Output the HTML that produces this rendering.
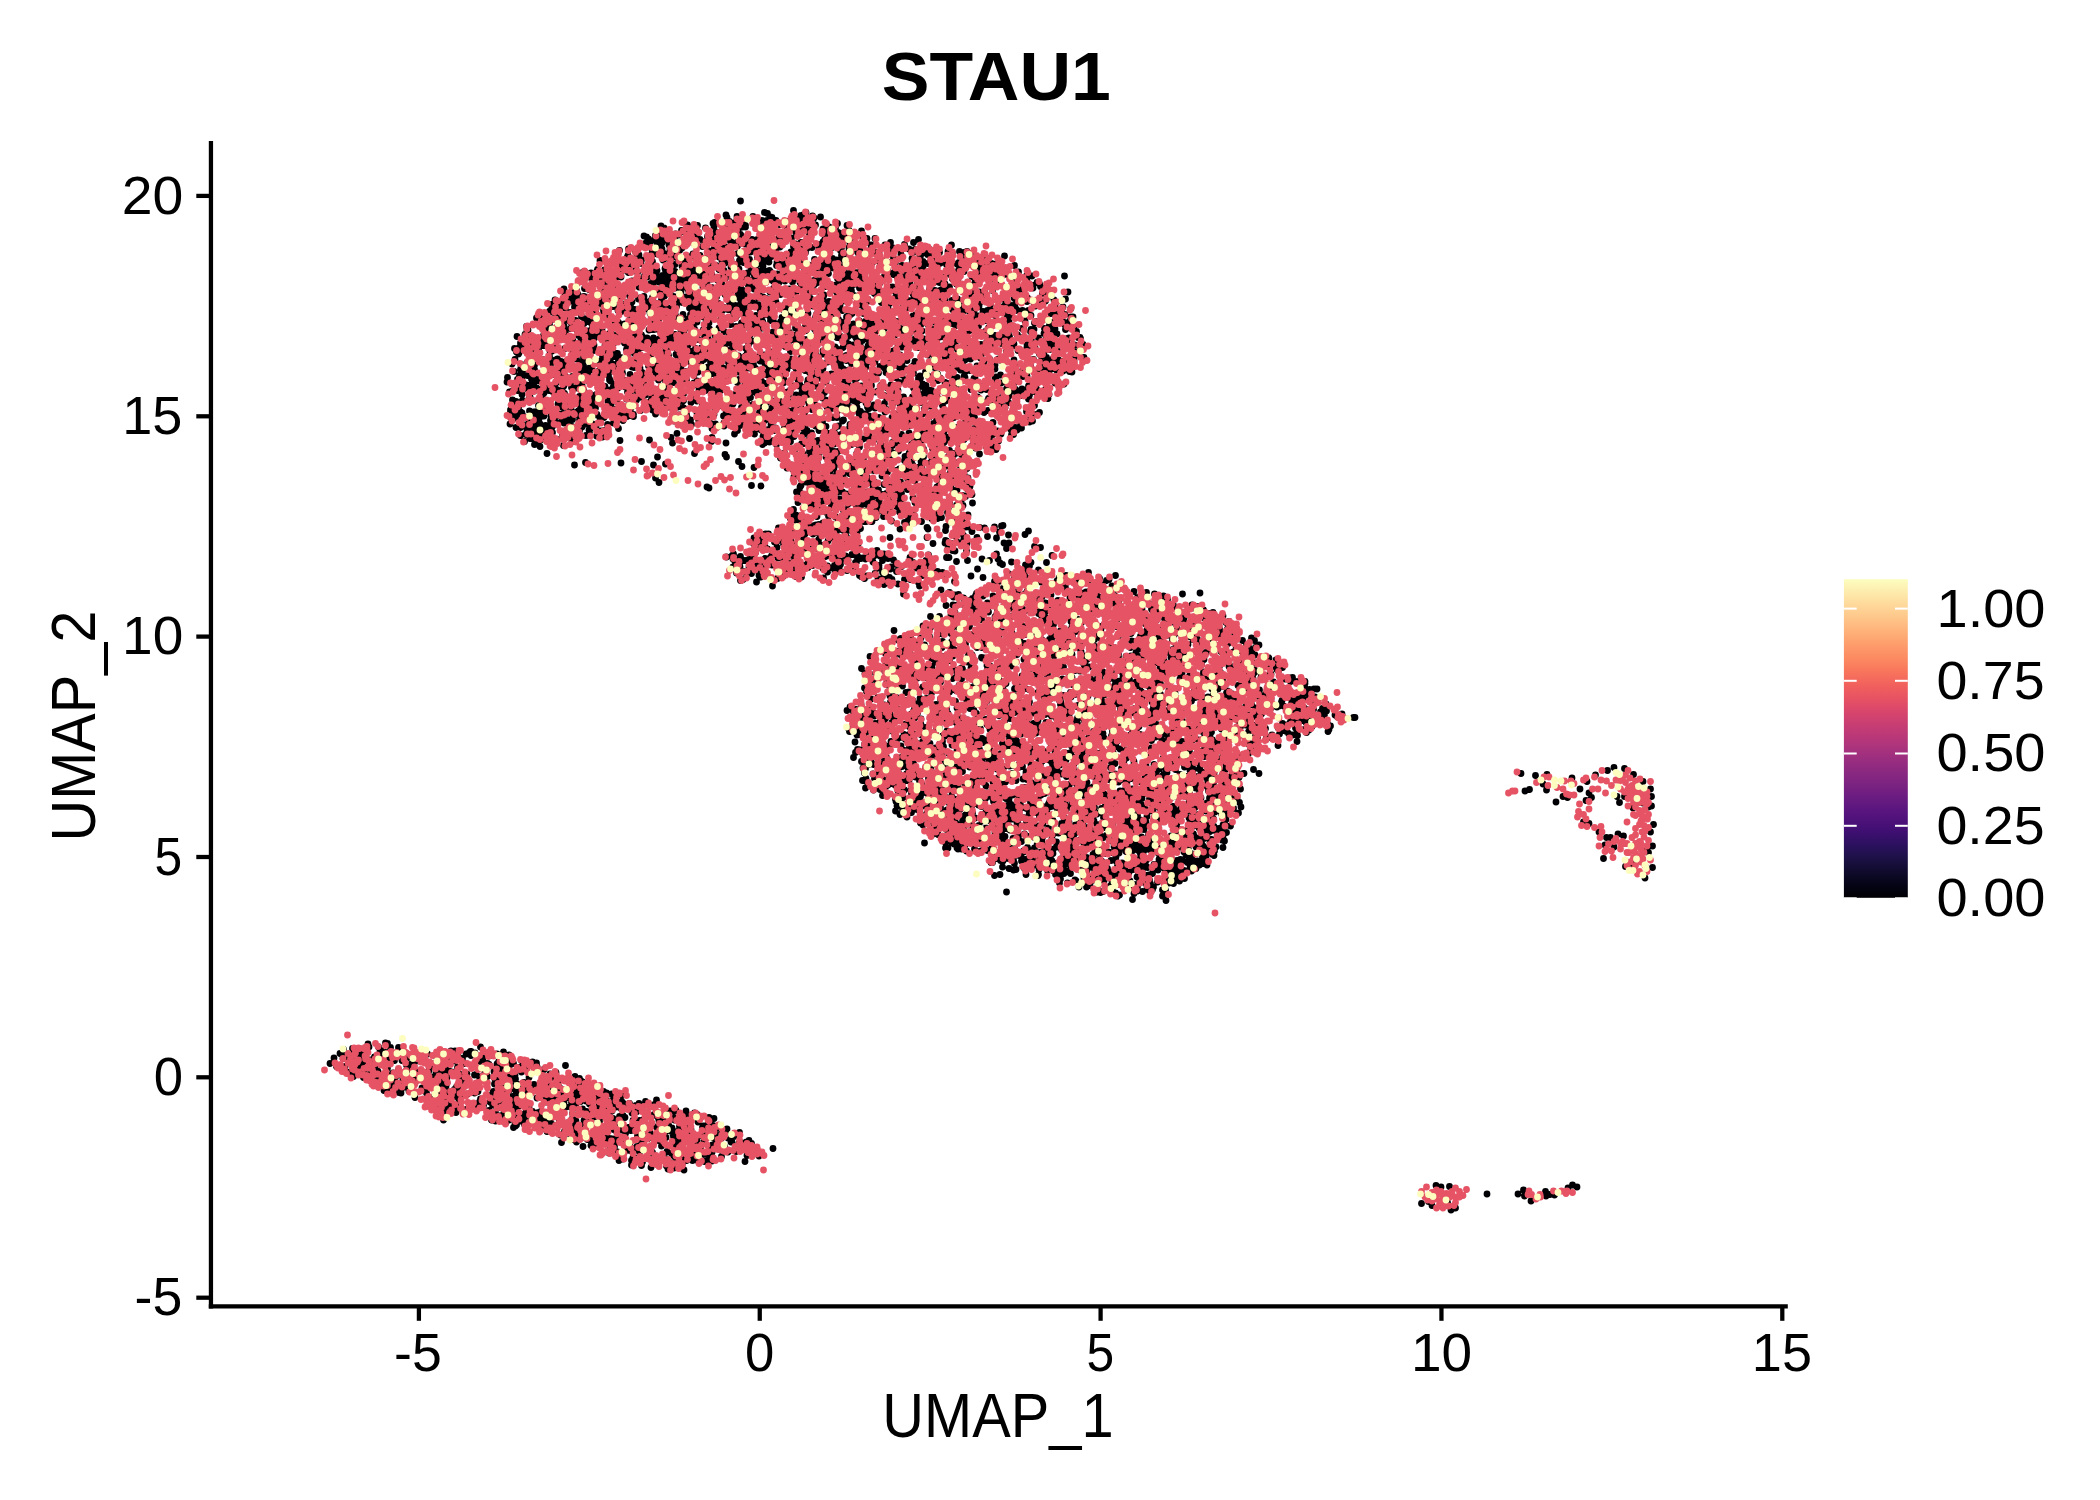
<!DOCTYPE html>
<html><head><meta charset="utf-8"><title>STAU1</title>
<style>html,body{margin:0;padding:0;background:#fff;}svg{display:block;}
text{font-family:"Liberation Sans",sans-serif;fill:#000;}</style></head>
<body><svg width="2100" height="1500" viewBox="0 0 2100 1500">
<rect width="2100" height="1500" fill="#fff"/>
<g fill="none" stroke-linecap="round" stroke-width="6.80">
<path stroke="#000004" d="M740.5 201h0m-14.5 14h0m38.5-2.5h0m3 1h0m26-3h0m7.5 5h0m2-0.5h0m3-2.5h0m6.5 3.5h0m-99.5 7.5h0m1.5-1h0m8.5 1h0m3.5-2h0m0.5-3h0m0-1h0m2.5 4h0m5 1.5h0m2.5-3.5h0m0-3h0m7 5h0m9-5h0m7.5 5.5h0m1.5-1.5h0m5 0h0m3.5-3.5h0m0.5 2h0m1-1.5h0m4 3h0m11 1h0m2.5 2.5h0m2.5 0h0m0.5-0.5h0m0.5-6.5h0m2.5 0h0m0.5 4.5h0m0-2.5h0m1-1h0m3.5 3h0m3-2h0m1.5-2h0m1.5 5h0m6 1.5h0m1.5-5.5h0m6.5-1h0m17 6.5h0m-176.5 2.5h0m3 2h0m17.5 2.5h0m5-5.5h0m1 0h0m3 7h0m7-6.5h0m0 6.5h0m8-4h0m8.5-1.5h0m2 5.5h0m6 0h0m3-3h0m1 0.5h0m1.5-4h0m3.5 0h0m3 5h0m0-6.5h0m4 1.5h0m0.5 3.5h0m2.5-2.5h0m1.5 0.5h0m2.5-1.5h0m0.5 1.5h0m0-1.5h0m16.5-1h0m6 4.5h0m11.5-4.5h0m8 3.5h0m3.5 0h0m1.5-4h0m0.5 4.5h0m0.5-2h0m1 3h0m1 2h0m3-5.5h0m1 3h0m1.5-0.5h0m0-3.5h0m0.5 5h0m2.5-1h0m2.5 0.5h0m2-1h0m7-3.5h0m7.5 4h0m2 1h0m2-3.5h0m0-1h0m2 1.5h0m4 2h0m2.5-1.5h0m11.5-2h0m2 5h0m12.5 0.5h0m-217.5 5h0m2.5 1h0m2 2h0m6 1h0m1-4.5h0m1.5 1.5h0m2-1.5h0m2 3h0m0.5 0h0m4-5h0m2 3h0m7 3h0m0 0.5h0m1-6h0m3 1h0m5.5-3h0m7 5h0m5-1.5h0m1 1.5h0m1.5-4.5h0m1.5 7h0m7.5-3h0m1.5 2h0m0.5 0.5h0m2-4.5h0m7.5 4h0m7-5.5h0m1.5 1.5h0m0.5 4.5h0m1-6.5h0m1 6.5h0m0-2.5h0m8.5-2h0m0-1.5h0m2 1.5h0m1 1.5h0m3 1.5h0m7.5 2h0m5.5 0h0m6-2h0m4-3h0m1 4.5h0m1.5-7h0m8.5 6.5h0m2 1h0m1.5-4h0m9.5 2.5h0m5-3h0m4-2.5h0m8.5 0h0m15.5 7.5h0m1.5-1.5h0m0.5-5h0m2.5 2.5h0m0.5 0.5h0m0.5 3h0m0.5-5h0m1.5-0.5h0m0.5 3h0m5.5-4.5h0m2.5 6.5h0m0.5 1h0m1.5-2h0m0-4h0m0-0.5h0m2 6.5h0m0-4h0m2 3h0m16-3h0m4.5 2.5h0m8 0h0m43.5 1h0m-272.5 3.5h0m2-0.5h0m2-0.5h0m7 0.5h0m1 2.5h0m2.5 1h0m1.5-3.5h0m0 0.5h0m2.5-3h0m4.5 5h0m3.5-2h0m0.5 3.5h0m5.5-3.5h0m3.5 5h0m10-6.5h0m2 2h0m8.5 3h0m2.5-5h0m2.5 2.5h0m6.5-3.5h0m0.5 7h0m0-7h0m5 6h0m3.5-3.5h0m0-1.5h0m4 6h0m3.5-6h0m0.5 4.5h0m0.5-4h0m1.5 5h0m0.5-3.5h0m2 2h0m0.5-2h0m1.5 2.5h0m0.5-5h0m1 2h0m1.5 0h0m3-3h0m1 2h0m0.5 2h0m4.5 3.5h0m0.5-4.5h0m5.5 5h0m6-2h0m0.5-2.5h0m1 0.5h0m4.5-4h0m4 4.5h0m1.5-2.5h0m7 5h0m1-4h0m0.5-2h0m12 5.5h0m2.5-2.5h0m3.5 1.5h0m1 0.5h0m0.5-3.5h0m11 5h0m7 0h0m1-3h0m3-2.5h0m1.5 3h0m1.5-0.5h0m0.5 1.5h0m5.5 1.5h0m2-5.5h0m7.5 5.5h0m2.5-7h0m5 7h0m1-4h0m1-1.5h0m11.5 2h0m4-2h0m4.5 3h0m14 0h0m5.5-2.5h0m1.5 5h0m12.5-3h0m9-2h0m10 4.5h0m28-2h0m-332 5.5h0m8.5 5h0m0.5-6.5h0m7 2.5h0m1.5 3.5h0m2 0h0m12.5-0.5h0m0.5-5h0m0.5 0h0m1 4.5h0m4 0h0m1.5-4h0m0.5 4.5h0m1-1.5h0m0.5-2h0m1-2h0m2 4.5h0m5.5 0h0m0.5-4h0m2.5-1.5h0m1 8h0m0.5-6.5h0m1.5 1.5h0m4.5-1h0m13 4h0m7 1.5h0m9.5-4.5h0m1 0.5h0m4 4h0m2.5-5.5h0m4.5-0.5h0m0.5 3h0m6-4h0m1 5.5h0m0.5 2h0m8.5-2.5h0m2 1.5h0m8-2.5h0m2.5-0.5h0m5-1h0m1.5-1.5h0m1 6.5h0m3-0.5h0m5.5-4.5h0m6.5 4.5h0m2.5-4h0m15.5 0.5h0m2.5 0h0m0-1h0m9.5-2h0m2 0h0m0.5 3.5h0m1.5-4.5h0m0 0.5h0m19.5 1h0m2 1.5h0m12-0.5h0m1 5h0m0.5-3h0m7-4h0m0.5 5.5h0m8-2h0m1.5 2.5h0m0-4h0m0 5h0m0.5-1h0m0.5-6h0m2.5 6.5h0m0 1h0m8.5-6.5h0m4 2.5h0m1 1.5h0m3-0.5h0m11.5-2.5h0m2-0.5h0m7.5-0.5h0m0.5 0h0m0.5 5h0m0.5-5h0m7.5-0.5h0m3.5 2h0m1.5-0.5h0m1-1h0m0.5 2h0m1 0.5h0m3-2.5h0m1 3h0m0 3.5h0m0.5-5h0m0.5-1h0m1-1h0m0.5-0.5h0m1.5 4h0m3 2h0m0.5-0.5h0m1.5-4.5h0m2 1h0m4.5 4h0m0.5-1.5h0m0-3h0m0.5 3h0m2.5-0.5h0m8.5-1h0m4.5 2h0m7-2h0m4.5 1h0m3-1h0m3.5 2h0m34 2.5h0m-404.5 4.5h0m16.5 0h0m7.5 1h0m3.5-5h0m3.5 2.5h0m2.5 0.5h0m5-2h0m2 4h0m0-1.5h0m0.5 3.5h0m0.5-3.5h0m5.5-3.5h0m1 0.5h0m4.5 4.5h0m9.5-4.5h0m1 3h0m3.5-2h0m2-2h0m2 4.5h0m2-4h0m4 1h0m6.5 3.5h0m2-2h0m4 1.5h0m2-4h0m1.5 0h0m4 7h0m0.5-3.5h0m0-3h0m1 3.5h0m2.5-1.5h0m3 1h0m4-2h0m0 2h0m1-2h0m2.5-1h0m1-1h0m7 1h0m3 4h0m3 2h0m1.5-2.5h0m2.5-4.5h0m2 4h0m8.5 0.5h0m0.5 1h0m2-5h0m0.5 4h0m1 2h0m6-3h0m8-1.5h0m0.5 6h0m3-6h0m1.5-1h0m0 3h0m0 1h0m2-5h0m1 0.5h0m0.5 4.5h0m0.5-1.5h0m0-2h0m2.5 4.5h0m2.5-5.5h0m5.5 5.5h0m0.5-4.5h0m8 5h0m3-6h0m2.5 1h0m3 4h0m8 2.5h0m1-2.5h0m1 2.5h0m10.5-4.5h0m10-2h0m0.5 2h0m2-2h0m1.5 3.5h0m4 0h0m0-2.5h0m3.5 5h0m0.5-3.5h0m6-1h0m0-3h0m2 6h0m2.5-5h0m13 1h0m0 0h0m3.5-1.5h0m1.5 2.5h0m7.5 3.5h0m5.5-2h0m0.5-4h0m2 5h0m2-1h0m7.5 2h0m3.5-4.5h0m2 3.5h0m0 0.5h0m16.5 1h0m0-4.5h0m0.5 2.5h0m0-2.5h0m10.5 3h0m5 2h0m1-0.5h0m3.5-6h0m0.5 4.5h0m1.5-1h0m2-4h0m2.5 7.5h0m1.5-1h0m6.5-2.5h0m0.5-3.5h0m11 6h0m0.5-0.5h0m4-3.5h0m2.5 0.5h0m1-2h0m7 2.5h0m4-1h0m1.5 4h0m0.5-2.5h0m6.5-2.5h0m5.5 5.5h0m-407 8h0m12.5-0.5h0m0.5-1.5h0m7 0.5h0m13-1.5h0m4 3h0m0-4h0m0-3h0m2.5 0.5h0m1 2.5h0m2-3h0m5.5 0.5h0m3.5 4h0m9.5 2.5h0m8-0.5h0m0.5-3.5h0m3 3h0m8-2h0m0.5 2h0m2 0.5h0m0.5-3.5h0m3 4h0m0-6h0m0.5 1.5h0m3.5 4.5h0m0-7h0m7 1.5h0m3-0.5h0m1.5 6.5h0m0-6.5h0m1-0.5h0m0.5 3h0m2 0h0m0.5 0.5h0m3.5 1.5h0m0.5 1h0m2-3.5h0m2.5-2.5h0m1 0h0m2.5 6h0m1-1.5h0m3-5.5h0m3.5 2h0m6-0.5h0m3 4h0m3.5-4h0m0.5 6h0m1-1h0m7-3.5h0m4 2.5h0m2.5-5.5h0m1.5 5h0m9.5-4.5h0m2.5 3.5h0m4.5 2.5h0m2.5 0.5h0m5-4.5h0m0-2h0m1.5 6.5h0m5-0.5h0m1 1.5h0m6-6.5h0m4.5-1h0m2 6h0m0 0h0m2.5-3h0m0 1h0m1-1h0m8 2.5h0m1.5 2h0m2-6.5h0m5 1h0m1.5-1.5h0m2.5 6h0m2.5-5h0m3-1h0m3 5.5h0m6.5-5h0m1 3.5h0m2-4h0m3 3.5h0m2.5-3.5h0m0 1.5h0m0.5-0.5h0m0 1.5h0m2-1h0m0.5 1.5h0m6.5 1.5h0m2.5-2.5h0m0 3h0m6-3.5h0m1-1.5h0m0.5 0.5h0m0.5 3h0m0.5 2h0m9.5 1.5h0m3.5-1.5h0m1-5.5h0m3.5 0h0m0 5h0m12-4h0m1.5 2h0m4.5 1.5h0m2 2.5h0m6.5-0.5h0m6-1h0m0-3h0m1-2h0m1 4h0m2 1h0m1-2h0m2-0.5h0m2.5 0.5h0m1-3.5h0m0.5 5h0m1.5-2.5h0m0-2h0m7.5 1.5h0m2 0h0m8.5 4h0m2.5-5h0m12.5-1.5h0m3 7.5h0m7.5-8h0m1.5 6.5h0m1.5-1h0m0.5-1.5h0m3.5 3.5h0m0.5-4h0m2-3.5h0m4.5 0.5h0m2 0.5h0m6 1.5h0m3 4.5h0m3-4h0m1 0h0m1.5 4h0m4-6.5h0m1 6.5h0m2.5-0.5h0m1-6.5h0m1 4h0m17.5-2.5h0m4 6.5h0m-437 1h0m8 2.5h0m1 2h0m0.5-4.5h0m0.5 3.5h0m6-2.5h0m1.5 3.5h0m2-3h0m1.5 0.5h0m3.5-1h0m2.5 3h0m3 2.5h0m4.5-2h0m5-0.5h0m7-5h0m0.5 0.5h0m9 0h0m1 7h0m0.5-0.5h0m4 1h0m1.5-4h0m1.5-3.5h0m1 4.5h0m4.5-0.5h0m3.5 3.5h0m1.5-4.5h0m5.5 4.5h0m0.5-4.5h0m0.5 0h0m0.5 2.5h0m2-2.5h0m1.5 1h0m2.5 0.5h0m0.5 0h0m0.5-3h0m6 1h0m2 1h0m1.5 4h0m2-8h0m1.5 6.5h0m1.5-4.5h0m0 4.5h0m1.5-0.5h0m5-4h0m1-0.5h0m3.5-0.5h0m4.5 4.5h0m6-3h0m0.5 4.5h0m4 0h0m1-4h0m9.5 3h0m1.5-2h0m2-2h0m0.5 4h0m1.5-3.5h0m5-1h0m3.5 1.5h0m6 3h0m0.5 0.5h0m5 0h0m0-1.5h0m0.5-4h0m6.5 1.5h0m3 1h0m4-3.5h0m0.5 3.5h0m5.5-0.5h0m4.5 5h0m3.5-1h0m2.5-2.5h0m0-2.5h0m0.5 4h0m4.5-2.5h0m0.5 4h0m1.5-6.5h0m2.5 6h0m5.5-0.5h0m1 1h0m3.5-6h0m1.5 4h0m17.5-5h0m1 2h0m5-2.5h0m6.5 1.5h0m9 5h0m0.5-6h0m5.5-0.5h0m1.5 8h0m0.5-4h0m1.5-2h0m0.5 0.5h0m1.5 4.5h0m2-2.5h0m0.5 1h0m1.5-4.5h0m1.5 3h0m0.5-3.5h0m0 4.5h0m4-1.5h0m0-3h0m1.5 4h0m0.5 0.5h0m0.5 2h0m19.5 0h0m3.5-3h0m9-1.5h0m1.5-1.5h0m2 3.5h0m1.5-4h0m1.5 4h0m5.5 0.5h0m3.5 0h0m1.5-1.5h0m7-0.5h0m2 3h0m1-4h0m2 4h0m3.5-1.5h0m6.5-2h0m6.5 2h0m2 1.5h0m2-0.5h0m7-3h0m1 0.5h0m1.5 4h0m1-5.5h0m1.5 3h0m4-4.5h0m13 4.5h0m3 2.5h0m3.5 0h0m2-6.5h0m2 4h0m5-3h0m6 5h0m0-6h0m0.5 6h0m3-3h0m0.5 1.5h0m0.5 2.5h0m1-4h0m8-1h0m0-2h0m7 6h0m12.5-2.5h0m5.5 0h0m32.5 0h0m-470.5 4.5h0m7.5 0h0m3 2.5h0m2-1.5h0m9 4h0m14-3h0m2.5-1.5h0m6.5 2.5h0m0.5 3.5h0m7.5 0.5h0m4.5-4h0m2 0.5h0m6-2h0m1-1.5h0m2.5 5h0m3.5-3.5h0m0-1h0m2 2h0m1.5-2.5h0m0.5 1.5h0m0.5 4.5h0m4-4h0m0.5 5.5h0m1.5-7.5h0m1 3h0m2.5-3.5h0m2 4h0m1 3.5h0m0.5-7h0m0.5 6.5h0m2.5-6h0m2 0.5h0m2.5 5h0m3.5 0h0m6-4.5h0m2.5 4.5h0m0 1h0m0.5-1.5h0m0.5 0h0m2-5.5h0m1 4.5h0m4.5 2.5h0m6.5-7h0m2.5 1.5h0m0-1.5h0m1.5 4h0m10 0.5h0m1.5-2.5h0m2 3.5h0m1.5-5h0m3.5 5.5h0m7.5-2h0m0.5 0.5h0m4-4.5h0m1 5.5h0m0.5-2h0m0.5-3.5h0m3 5h0m0.5-5.5h0m2.5 2h0m12.5-1h0m4.5 6h0m1.5-4.5h0m6-1.5h0m7.5 1h0m7.5 0.5h0m1.5 4h0m1 0h0m2.5-5.5h0m2.5 3.5h0m2-3h0m4.5-1h0m0.5 4h0m0.5-1.5h0m2.5-0.5h0m0.5-1h0m3.5-1h0m0.5 1h0m1.5 3.5h0m1.5-3.5h0m0.5 5h0m4-2.5h0m1 4h0m5.5-3h0m5-4.5h0m2 1h0m0-1h0m1 6h0m0-3.5h0m0.5 0h0m2 1.5h0m5 2h0m0.5-3h0m3 0.5h0m3-2.5h0m7 2.5h0m1 1h0m6 1h0m3.5-1.5h0m0-3.5h0m1 7h0m1.5-6h0m1.5 1.5h0m13 3.5h0m15.5-0.5h0m1-5.5h0m1 3h0m2.5 4h0m4-8h0m0.5 6h0m0.5-3h0m0.5 1h0m15.5-2.5h0m0.5 1h0m5.5 0h0m5.5 4h0m0-2.5h0m4.5 3h0m7-3h0m1.5-2h0m3 4h0m13.5-2h0m0 3h0m3.5-4.5h0m20.5-1h0m24.5 6h0m4-6.5h0m6 4.5h0m0 2.5h0m4-5.5h0m2.5 1.5h0m1 2.5h0m-476.5 2.5h0m1 6h0m7 1h0m0.5-0.5h0m1.5-4.5h0m1.5 0.5h0m1-1h0m0.5 5h0m1-1h0m6.5-6h0m4.5 1h0m0-0.5h0m11 5.5h0m3.5-6.5h0m1.5 2h0m14 2h0m4.5 0h0m6 3.5h0m16-6.5h0m9.5 2.5h0m2.5-1.5h0m2 4h0m1-3h0m0.5-0.5h0m0 0h0m5-1h0m5.5 0h0m9.5 2h0m7.5-1h0m2.5 0h0m0.5 4.5h0m0.5-1h0m13-0.5h0m0.5-4h0m2.5 6h0m7-2h0m9-2.5h0m0.5-2.5h0m0.5 4.5h0m0 1.5h0m3.5-2.5h0m0 2.5h0m4-5h0m5.5 3h0m0.5 2h0m3-4h0m1.5 0h0m1 5h0m0.5 0h0m9.5-6.5h0m5.5 6.5h0m10.5-3.5h0m3.5-3.5h0m7 6h0m7.5 0h0m1.5-5.5h0m0.5 2.5h0m5 0.5h0m1 0h0m7.5 2.5h0m1 0.5h0m0-4h0m0.5 1.5h0m0.5-1.5h0m2.5-0.5h0m4 1h0m0.5-2h0m11.5 5.5h0m10-6.5h0m2.5 3.5h0m11.5-1h0m0 3h0m3.5-3h0m2 4.5h0m0.5 0h0m5.5-7.5h0m2.5 6h0m0-0.5h0m0.5-5h0m7 1.5h0m4 2.5h0m1 1h0m3-0.5h0m2-2.5h0m4 3h0m3.5-3.5h0m4 0.5h0m2.5 0h0m1.5 1h0m1-0.5h0m1.5-2h0m2.5 2.5h0m2.5 2.5h0m3-1.5h0m0.5-3.5h0m2.5 1h0m1-1h0m3.5 5h0m5-2h0m2.5 2.5h0m0.5-3h0m1.5 4h0m0-1h0m4 0.5h0m3-5.5h0m1 4h0m1 1.5h0m2.5-3.5h0m1-1h0m2 0.5h0m2.5 5h0m1.5-6h0m2-1h0m1 3h0m29-1h0m6 1h0m5.5 0h0m8-1.5h0m26 0.5h0m1.5 2.5h0m0.5-0.5h0m22 0.5h0m2.5-1h0m6 3.5h0m0.5-5.5h0m16.5 1.5h0m-513 8h0m1 3.5h0m2-0.5h0m3-1.5h0m3.5-0.5h0m0.5-1.5h0m2 0h0m3.5 1.5h0m1.5-3h0m1 1.5h0m1 2.5h0m1.5 0.5h0m7-5.5h0m1.5-0.5h0m1 7h0m1-6.5h0m7 1h0m0.5 2.5h0m0.5 0.5h0m2-4h0m3.5 2.5h0m6.5 4.5h0m4.5-3.5h0m10-4.5h0m7.5 6h0m3-4.5h0m0-1h0m0.5 5.5h0m0.5 0h0m6.5-3h0m1.5-1h0m4-1.5h0m1 7h0m0.5-2h0m5.5-1h0m0 1h0m1 1.5h0m0.5-5.5h0m0.5 3.5h0m3 2.5h0m5.5-3.5h0m3-4h0m9 0.5h0m1.5 3h0m1-1h0m3.5 3.5h0m2-4.5h0m1 5h0m2.5 0h0m0.5-2h0m0-3.5h0m2 0.5h0m1 3h0m2-3.5h0m2.5 4h0m0.5-3h0m0.5-1.5h0m2 7h0m2.5-4.5h0m0 4.5h0m1.5-3h0m6-1h0m7-3h0m3.5 0.5h0m2 6.5h0m11-1h0m2.5-4h0m0 4h0m6.5-5h0m1.5 0.5h0m1 4h0m2.5 1h0m0.5 0.5h0m2.5-2.5h0m1-2.5h0m1 3.5h0m2.5-2.5h0m1 2.5h0m3 2h0m1.5-7.5h0m1.5 1.5h0m5-1h0m3 2h0m0-0.5h0m1.5 2.5h0m4.5 2h0m4-1h0m14.5-4h0m8 4h0m7-4h0m5 0.5h0m8.5 3h0m1.5-5h0m1 7h0m0.5-5h0m1.5-2h0m0 5.5h0m5.5-0.5h0m4 2.5h0m1-2.5h0m3.5-3.5h0m0-0.5h0m5.5 3.5h0m3.5-1.5h0m1.5 3h0m0.5-6h0m19.5 3h0m0.5 1.5h0m13 1.5h0m1.5 0h0m6.5 1h0m4-3.5h0m2-2.5h0m5 0.5h0m7.5 2.5h0m5-0.5h0m5 0h0m2.5 2.5h0m1-5h0m1 2h0m0.5-2.5h0m2 6.5h0m2-1.5h0m5.5-2h0m9.5 1h0m0.5-2h0m0 3h0m2.5-3h0m7 1.5h0m1 0h0m4.5-1.5h0m3 3.5h0m0 0h0m8.5-1.5h0m1-5h0m9.5 7.5h0m4-7h0m3.5 2h0m0 1.5h0m9-2h0m1 0.5h0m6 0.5h0m1-0.5h0m10-0.5h0m13 3.5h0m0.5-3.5h0m6.5 5h0m8-1.5h0m3.5-0.5h0m8.5-1h0m1 1.5h0m10.5-2.5h0m-516 12.5h0m0.5 0h0m0.5-1h0m1-6h0m4 6.5h0m0-0.5h0m2-1.5h0m1-4.5h0m0.5 7h0m3-3.5h0m3.5-0.5h0m9-0.5h0m3 0.5h0m0-1.5h0m3-1h0m7 4h0m3.5-2h0m4-2h0m2 0h0m5.5-0.5h0m1 6h0m5-2h0m4.5-2h0m3-1.5h0m2 5.5h0m1.5-5.5h0m0 0h0m1 5.5h0m0.5-3.5h0m0.5 4.5h0m0 0h0m1-7.5h0m4.5 4h0m2.5 2.5h0m1-5.5h0m2 4.5h0m1 0.5h0m1-0.5h0m13-0.5h0m0.5-3h0m6 0.5h0m0 4.5h0m1-6.5h0m1.5 5.5h0m0-4.5h0m0.5 3h0m5-1.5h0m2.5 4h0m1.5-7h0m1 4h0m3 0.5h0m1.5 1h0m0.5-1h0m0.5 1.5h0m2 0.5h0m0.5 0.5h0m1.5-4.5h0m13 1.5h0m1.5 1h0m0.5-3h0m1-1.5h0m1 0h0m2 6h0m2-3.5h0m2-1.5h0m2.5 3.5h0m1.5-3h0m0.5 2h0m2 2.5h0m0.5-2.5h0m0.5 3h0m6.5 1h0m2.5-2.5h0m0.5-2.5h0m2.5 0h0m3.5 3.5h0m1.5-3h0m0.5 1h0m2 0h0m1.5 1h0m3.5 0.5h0m1.5-1h0m0.5-4h0m2 0.5h0m6 2.5h0m0.5-1h0m2-0.5h0m2-1h0m7.5-1.5h0m6.5 1h0m0 0h0m0 4.5h0m1-3h0m1.5 1.5h0m5.5 0h0m3.5 1.5h0m12.5 1h0m0-3h0m1-1h0m0.5 1.5h0m0-4h0m3.5 6h0m1-4h0m8.5 3.5h0m14.5-3.5h0m10.5 5.5h0m0-5h0m3.5 1.5h0m12.5-0.5h0m0.5-2h0m2.5 5h0m5.5 0.5h0m0.5 0.5h0m12-6.5h0m3.5 6h0m20.5 0.5h0m2.5-1.5h0m1-2h0m14.5 4h0m0.5-7h0m5 2.5h0m11.5-2.5h0m5 4h0m15.5-2.5h0m6 0h0m1.5-0.5h0m0.5 2h0m4.5-2h0m0.5 4h0m2.5-3.5h0m4.5 2h0m3 0.5h0m0.5 2h0m5.5 0h0m1-2.5h0m1 2h0m3 1h0m5-5h0m4 5h0m4.5-1h0m3-6h0m2 6.5h0m5-0.5h0m0.5-4h0m2.5 0.5h0m4.5-1.5h0m2 5.5h0m2-4.5h0m0-2h0m0.5 2.5h0m2 0h0m3.5-2.5h0m1 6h0m0.5-1h0m6 1h0m6 0h0m7-4.5h0m18 4.5h0m1.5-5.5h0m2.5 6h0m5.5-4h0m7.5 2h0m-534 9h0m1 1.5h0m5.5-1h0m1.5-4.5h0m2.5 1.5h0m6.5-3h0m4 6h0m0.5-4.5h0m4.5 4h0m6-4h0m2-1.5h0m1.5 1h0m9.5 3h0m6.5 1.5h0m2.5 1.5h0m0.5-2.5h0m1 2.5h0m3.5-3h0m0-4h0m4.5 3.5h0m6 1h0m2.5 1.5h0m1.5-1.5h0m4 2.5h0m16.5-2h0m1.5-2h0m4 1.5h0m0.5-1h0m13.5-3h0m2 0h0m2.5 6.5h0m4 0.5h0m0.5-6.5h0m7.5-0.5h0m2.5 1h0m2.5 2.5h0m4-1h0m0 2.5h0m7.5-3.5h0m5 4.5h0m2.5-4h0m0-0.5h0m3.5 4.5h0m1.5-5.5h0m1.5 1.5h0m0-1.5h0m6.5 3.5h0m4.5 0h0m4.5 1.5h0m1-0.5h0m10.5 0.5h0m9.5 0h0m0-5.5h0m2 4.5h0m1-1.5h0m0-1h0m6.5-2h0m3 4h0m0.5 0h0m0.5-4.5h0m2 2h0m1.5 4h0m2-1.5h0m3 2h0m0.5-3.5h0m4.5 3.5h0m1 0.5h0m2.5-4.5h0m5.5 1h0m0.5-3.5h0m12 5h0m4 0h0m3.5-1.5h0m2 0.5h0m16.5-3h0m7.5 4h0m1-3h0m2 4h0m0-4h0m2.5 3.5h0m2.5-5.5h0m1 7.5h0m1 0h0m0-8h0m3 7.5h0m1-5h0m2.5 3h0m6.5 2h0m8-2.5h0m3.5-2h0m2-1.5h0m11.5 0h0m9 4h0m3.5-1h0m8.5-3h0m0.5 1h0m3 3.5h0m2-2.5h0m1.5 3.5h0m2-6h0m14.5 5h0m5-2h0m2.5-1h0m3 0.5h0m1.5 3.5h0m4.5 1h0m15.5-2.5h0m4.5 1.5h0m2.5-0.5h0m4 1h0m6-4.5h0m2.5 4h0m12-4.5h0m4 5.5h0m2.5-4h0m1 1h0m0-0.5h0m16-1h0m12 0h0m3 0h0m19-0.5h0m2 0.5h0m20-2h0m3.5 0h0m3.5 4h0m0.5-1h0m3.5-4h0m3 2h0m6 2.5h0m2 0h0m-546.5 9.5h0m13-5.5h0m2.5 4h0m5 3h0m2.5-3.5h0m2-4.5h0m5 7.5h0m1.5-1.5h0m1.5-4.5h0m4.5 4.5h0m0.5-5.5h0m1 0h0m5 1.5h0m3 6h0m2-7.5h0m0 2h0m6.5 4h0m1.5-3h0m0.5 0h0m0-0.5h0m1-3h0m1.5 1.5h0m0.5 0h0m0.5-1h0m4 3h0m1 3.5h0m0.5-1.5h0m0.5-4.5h0m21.5 1h0m1 4h0m2.5-3.5h0m2 3h0m4-1.5h0m1.5 1h0m1.5 1h0m5-2h0m1-3h0m1.5 5h0m6.5-0.5h0m4-3.5h0m5-1h0m2.5 4h0m30.5-3h0m0.5 2h0m4.5-2h0m0 5h0m0-1h0m1.5-0.5h0m1-0.5h0m3-1.5h0m1.5-2.5h0m1.5 1h0m9.5 0.5h0m1-1.5h0m1.5 2h0m10 5h0m1.5-0.5h0m0-7.5h0m10 4.5h0m5.5 2h0m5.5-3.5h0m4.5 4h0m4-3h0m0 3h0m4.5-4h0m0.5 5h0m3.5-4h0m4-2.5h0m0.5 1h0m3 5.5h0m4.5-7.5h0m3 1h0m3 5h0m2-2h0m1.5 3h0m0.5-5.5h0m3 5h0m2 1h0m0.5-2h0m9.5 2h0m2.5-1h0m7.5-1h0m6-0.5h0m1-1h0m0.5-2h0m9.5-0.5h0m1.5 5h0m1.5-7h0m9 0.5h0m3 3.5h0m1.5 0h0m2-0.5h0m0 0h0m0.5-1.5h0m7.5 5h0m1.5 0h0m3-3h0m2 1h0m1.5 1.5h0m1.5-4.5h0m0.5 2h0m0.5-3h0m6 7h0m0.5-7h0m3.5 0.5h0m0 5h0m1.5-5.5h0m2.5 5h0m0-5h0m3-0.5h0m5.5 3h0m1.5 0.5h0m0-3.5h0m3 1h0m3 3h0m7-3h0m5-0.5h0m8 4.5h0m7-3h0m1.5 4h0m2-1.5h0m1-0.5h0m6-1h0m6.5-2h0m6.5 2.5h0m2.5-1h0m11 1h0m0.5-0.5h0m2 2h0m2-5.5h0m4 6.5h0m0-3h0m13 1h0m2.5-1.5h0m1 3h0m3.5-4.5h0m1-1h0m3 0h0m19 3h0m2.5 4h0m1 0h0m0.5-5.5h0m16-1h0m9.5 2h0m1.5-1.5h0m13.5 3.5h0m3.5-2.5h0m9-0.5h0m2.5 0.5h0m0.5 2.5h0m4.5 1h0m0 1.5h0m0.5-6.5h0m1.5 3h0m2.5 2.5h0m-549 8h0m0 0.5h0m2-4.5h0m1-0.5h0m15.5 5.5h0m2-6h0m1 3h0m0-1.5h0m1.5 2h0m0 1h0m3.5-2h0m2-2h0m1 3h0m2.5 1.5h0m5.5-6h0m0 4.5h0m2.5-2.5h0m0.5 3h0m5-5h0m6-0.5h0m1 3h0m1 4.5h0m1-3.5h0m3.5 2h0m4.5-0.5h0m1-2.5h0m3.5 3h0m5.5-3h0m1 3.5h0m3.5-5.5h0m7 5h0m2-2.5h0m0 3h0m6 0.5h0m3-5.5h0m4 2.5h0m1 3h0m1-5h0m10 3h0m0.5 2h0m1-2.5h0m4 2.5h0m7.5-5h0m3-0.5h0m2 0h0m1.5-1h0m3.5 1.5h0m2 0.5h0m4 4.5h0m1-3.5h0m0-2.5h0m9 5.5h0m5.5 0.5h0m0.5-5h0m0.5-0.5h0m1.5 0h0m1 4.5h0m0.5-4.5h0m6.5 6h0m3-1h0m0.5 0h0m0-5.5h0m1 4h0m0.5 3h0m7-3h0m0.5-3.5h0m2.5 5.5h0m3.5-6h0m5.5 5.5h0m0.5-2.5h0m1.5 3.5h0m7-4h0m5.5 3h0m1.5-1h0m2-1h0m4.5 2h0m0.5 0.5h0m2-6.5h0m2.5 4h0m0.5 2.5h0m7 0h0m1-5h0m8 4h0m2 2h0m2-8h0m10 4h0m3 2.5h0m2-0.5h0m2.5-4h0m6.5 5.5h0m2.5-3h0m3 2.5h0m5.5-5.5h0m0 4.5h0m8-3.5h0m8.5-2.5h0m0 1h0m1.5 2.5h0m7.5-1h0m1.5 3h0m5-3.5h0m7 2.5h0m7-4.5h0m6.5 3.5h0m1-0.5h0m2.5 4.5h0m6-7h0m5 1h0m0.5-0.5h0m2.5 4h0m6.5-2.5h0m0.5 2h0m8 2h0m0.5 0h0m1-6h0m10.5 6.5h0m1-4.5h0m4.5-2h0m3 3.5h0m2-4h0m4.5 5h0m3-4.5h0m1 1.5h0m3 2.5h0m5-1.5h0m11-2h0m6.5-0.5h0m1 3.5h0m15 2h0m11.5-2.5h0m0.5 0h0m2-1h0m2.5-2h0m13.5 3h0m3-3.5h0m0.5 5.5h0m1-5.5h0m5 7.5h0m13-6h0m0.5 2h0m9 3.5h0m4.5-6.5h0m1.5 0.5h0m7 2.5h0m0.5-2h0m2 4.5h0m1-4.5h0m10 4h0m0.5-5h0m1 1.5h0m6 3h0m0.5-4h0m1 2h0m2-2h0m2 5h0m8.5-4.5h0m11 2h0m-559.5 5h0m3.5 6.5h0m3-1h0m3 0.5h0m0.5-3h0m3 0h0m10.5 3.5h0m2-3h0m1.5 2h0m1-4.5h0m9.5 5.5h0m1.5-2.5h0m0-1.5h0m5.5 0h0m11.5 2h0m8-2h0m6 4.5h0m1-0.5h0m3-6h0m3.5 1h0m8-1h0m3 6.5h0m3.5-1h0m2.5 0h0m1-2.5h0m2 2.5h0m10 0.5h0m1-6h0m1 5.5h0m1-4.5h0m4-0.5h0m6 6h0m3-1h0m2-5.5h0m3 7h0m0.5-2h0m1-3h0m0-1h0m2.5 3.5h0m4-3.5h0m2 6h0m1-1.5h0m3-3.5h0m1 0h0m1-2.5h0m2 6.5h0m2-5.5h0m3 1.5h0m2 3h0m0-5.5h0m4.5 3h0m1-1h0m4 5h0m0.5-5.5h0m1.5 5.5h0m12-6.5h0m4 2.5h0m6.5-2h0m0.5 3h0m3-3.5h0m5.5 4.5h0m2-5h0m1.5 0h0m4 2.5h0m3 5h0m1.5 0h0m5-3.5h0m0 3h0m1.5-4h0m2-0.5h0m1 4h0m0.5 1h0m0.5-7h0m0 4.5h0m2.5-2.5h0m5.5 0.5h0m2-2h0m6.5 3.5h0m5-2.5h0m3 3.5h0m3.5 0h0m1.5 0h0m7-4.5h0m4 4.5h0m4-4h0m7.5 4h0m2-1.5h0m4-1h0m4.5-3h0m0.5 5.5h0m5.5-2.5h0m0.5 3h0m0 1h0m3-4h0m2.5 2h0m0-2.5h0m4 1h0m2.5 2.5h0m0-6h0m1 4.5h0m6-3.5h0m1 4h0m0-3h0m12-1h0m1-0.5h0m2.5-0.5h0m1 2.5h0m4 1.5h0m0.5 0h0m2-4h0m0.5 7.5h0m7.5-6h0m1 2h0m5.5 0.5h0m1-2.5h0m2 0.5h0m5 0.5h0m10.5-0.5h0m4 3.5h0m2.5 0h0m2-4h0m0.5-2h0m1 3h0m9 4h0m5-6h0m2.5 2.5h0m3 4.5h0m1.5-1.5h0m2.5 1h0m0.5 0.5h0m0-5h0m1-0.5h0m1.5-1.5h0m2.5 3.5h0m4-1.5h0m4.5 0h0m2.5-1.5h0m4 1h0m1.5 2h0m3.5-3.5h0m2.5-0.5h0m6 2.5h0m4 1.5h0m3 1h0m2.5-4h0m0.5 2.5h0m1.5-2.5h0m6-1.5h0m9.5 1h0m11 5.5h0m3-2.5h0m2 0.5h0m2.5-2h0m0.5-2h0m4.5 1h0m2-1h0m0.5 7h0m3.5-3.5h0m0.5-1.5h0m0.5-2h0m2.5 1h0m1-1h0m3 6.5h0m1.5 1h0m10-7h0m7.5 4h0m7-3h0m6.5 2.5h0m3.5 0h0m3 0.5h0m0.5 2h0m12.5 0h0m0.5-3h0m1-1h0m1 3.5h0m2-4.5h0m8.5-1h0m0.5 0.5h0m2 0h0m0.5 1h0m-566 10h0m5-1h0m4.5 1.5h0m1-2h0m1-2h0m4.5 1.5h0m1 5h0m3-3.5h0m2.5-2h0m2 5.5h0m4-6h0m0.5-1h0m1.5 1h0m5 5.5h0m0.5 1h0m1.5-1h0m1.5-4h0m11.5 1.5h0m8-4h0m0 5h0m1.5-3.5h0m4-2h0m12.5 1h0m1.5 6h0m1.5-6h0m1.5 5h0m9-0.5h0m0 0.5h0m0.5-4.5h0m0.5 2.5h0m5-1h0m0 1h0m1.5 1.5h0m14.5 0h0m2.5-2h0m0-0.5h0m0.5-2h0m4 1.5h0m0.5 0.5h0m2.5-1.5h0m1.5 5h0m4-3h0m10 4.5h0m1-7h0m12 1.5h0m1 1.5h0m1.5 3h0m8-4.5h0m1.5 2h0m2 2.5h0m5.5-1.5h0m3.5-4.5h0m2 6h0m5.5-2.5h0m6-0.5h0m1 3.5h0m1-4h0m3.5 1h0m1.5 1h0m1.5-3h0m0-2.5h0m0.5 5.5h0m4-4h0m3 6h0m0.5-4.5h0m9 3.5h0m1.5 1.5h0m0.5-1.5h0m2 1.5h0m2.5-4h0m12.5 0.5h0m2.5-4h0m23.5 7.5h0m4.5-4.5h0m8.5-1h0m0.5-0.5h0m5 5.5h0m6.5-1h0m2.5-2h0m8 2.5h0m1.5-5h0m1.5-1.5h0m5.5 1h0m7 5.5h0m10.5 0h0m1.5-4h0m0.5 0.5h0m4.5 2h0m3-2h0m2-3h0m8 0.5h0m3 2h0m4.5-0.5h0m1 5h0m4-2h0m2.5-3.5h0m1-1.5h0m0.5 3h0m1-1h0m0.5-1.5h0m3 0.5h0m1 5h0m7.5-0.5h0m0.5-0.5h0m3-5.5h0m7.5 7h0m2-1h0m2.5-5.5h0m2.5 0h0m1.5 2.5h0m5 1h0m1 2h0m0.5-4.5h0m9.5 2h0m0.5-0.5h0m4-0.5h0m0 1.5h0m1-3.5h0m7.5 7h0m3-4.5h0m8.5-1h0m0 2h0m5.5-3h0m0.5 6h0m4.5-3h0m5 2h0m2.5 0.5h0m2-3h0m6.5-0.5h0m4-1h0m2 2.5h0m6-4h0m11 0.5h0m14.5 6.5h0m2.5 0h0m4.5-6h0m4.5 5h0m8.5-1h0m0.5-5h0m0 2.5h0m2.5-1h0m2.5 3h0m3-1.5h0m12.5-2.5h0m2 4.5h0m3.5-0.5h0m0-2h0m2.5 3.5h0m1-1.5h0m7.5-0.5h0m10 3h0m0.5-6.5h0m4 0.5h0m3.5 3h0m1-4h0m-568 15h0m1.5-7.5h0m1.5 1h0m0.5 1h0m0.5-1h0m14 4h0m6.5 1.5h0m3 1h0m6 0h0m1-3h0m6 3.5h0m1.5 0h0m0.5-1h0m14-1h0m1-3.5h0m4 4.5h0m5-6.5h0m2 6h0m0-1h0m19-1.5h0m0.5-2.5h0m0-0.5h0m11.5 3h0m0 0.5h0m1.5-3h0m1.5 0h0m3 4h0m7.5-0.5h0m6.5-3.5h0m14.5 4h0m2.5-3.5h0m7.5-2h0m2 5h0m2.5-4h0m5 2.5h0m7.5-1h0m1.5 1.5h0m6.5 1h0m7.5 3h0m2.5-2.5h0m1-2.5h0m2 0h0m2 0h0m1-2h0m1.5 0h0m2.5 6.5h0m6.5-1h0m1-6h0m6 6.5h0m1-6.5h0m3 7h0m6-5h0m2 3h0m7.5 0.5h0m1.5-2h0m6 1h0m1-1h0m1.5-2h0m1.5 1h0m2-2.5h0m2.5 6h0m6-2h0m2.5 1.5h0m2.5-3h0m5 1h0m0.5 3h0m6 0h0m0-4.5h0m3 5.5h0m4 0h0m8.5-1h0m10.5-1.5h0m0.5-0.5h0m1.5-1.5h0m7.5 3.5h0m2-1.5h0m0.5-3.5h0m0.5 5.5h0m1.5-6.5h0m3 4.5h0m4.5-3.5h0m7.5-2h0m0 3.5h0m1 3h0m4 1h0m2.5-1h0m2-3.5h0m3.5 2h0m3-1.5h0m15 2.5h0m2.5-2h0m3 2.5h0m1.5-2h0m4.5 0.5h0m15-1.5h0m2.5 2.5h0m2.5-2h0m1-3.5h0m4 7.5h0m1.5-3.5h0m0.5-1.5h0m28 0h0m6.5 1.5h0m2.5 1h0m6.5-5h0m1.5 4h0m5-2.5h0m0.5 1.5h0m3 2h0m3.5-0.5h0m2 0.5h0m0.5-5.5h0m4 7.5h0m0-3h0m1.5-1h0m0 4.5h0m0.5-3.5h0m3-2h0m2 4.5h0m4.5-4h0m5.5 3h0m2-4.5h0m7 5.5h0m7.5 1h0m1.5-1h0m9-6.5h0m14.5 2h0m11.5 5h0m6-5.5h0m2 2.5h0m2.5-4h0m2.5 5h0m6.5 1.5h0m1.5-2h0m4 3h0m2.5-7.5h0m9 4h0m4 3.5h0m4-5h0m6 4.5h0m0-2h0m-572 6.5h0m9 3.5h0m0-3h0m1 1h0m0.5 1.5h0m1.5-2h0m3-2h0m7.5 2h0m12.5-4h0m0 6h0m2.5-3h0m1 2.5h0m0.5-3.5h0m6-1.5h0m1 3h0m3-3h0m4 5h0m1.5-5h0m3 6h0m0.5-4h0m2 2h0m9-3h0m2.5-2h0m0 3h0m7 3.5h0m3.5-5.5h0m6 2.5h0m0.5 2h0m0.5-5h0m0.5 3h0m0 3h0m0-6.5h0m3 4.5h0m1 1h0m0-5.5h0m2.5 2h0m0.5 5h0m0-4.5h0m0.5 2.5h0m0-2.5h0m0.5 3h0m0.5-4.5h0m1 1.5h0m4 1.5h0m0 3.5h0m3.5-7.5h0m0.5 3.5h0m3.5-1h0m9.5 4h0m0.5-5.5h0m0-1h0m1 0.5h0m0.5 6.5h0m0.5-2.5h0m0.5 1h0m5 2h0m8.5-2h0m1 1h0m1.5-2h0m1.5 1h0m0.5-5h0m1 5h0m3 1.5h0m1.5-5.5h0m4 2h0m1 2h0m4.5-6h0m0.5 8h0m2 0h0m2-5.5h0m3.5 0h0m3.5-1.5h0m1.5 5.5h0m9.5-4.5h0m1.5 0.5h0m0.5 0.5h0m8 3h0m0.5-3.5h0m7 4.5h0m2.5-5h0m2.5 2.5h0m5-1.5h0m1 4.5h0m2-4h0m7.5-1h0m6.5 3.5h0m0-0.5h0m3.5-2h0m3-2h0m3.5-0.5h0m0.5 1.5h0m1.5-1.5h0m3 2h0m0-2h0m3.5 3.5h0m6.5-4h0m0 0.5h0m0.5 0h0m1 0h0m3.5 3h0m1.5-0.5h0m2.5-1h0m0 1.5h0m2.5-3h0m1 5.5h0m4.5-1.5h0m1-2.5h0m0-0.5h0m2.5 1h0m0.5 3h0m2.5-2h0m0.5-0.5h0m1-3h0m2.5 2h0m4-1.5h0m0.5 4.5h0m2.5-4.5h0m0.5 3.5h0m0 2.5h0m2.5-5h0m1.5 4h0m3-4h0m1-2h0m6.5 5h0m5 0.5h0m0-3h0m0.5 1h0m1-1h0m1-2.5h0m0.5 4h0m0.5-2h0m3 6h0m6.5-6h0m1-1.5h0m6 4.5h0m2 0.5h0m4-0.5h0m0.5 2h0m1-6.5h0m4.5 0h0m5 3h0m4.5-0.5h0m1-1h0m2 6h0m6.5-4h0m0.5 1.5h0m0 1.5h0m5-5.5h0m0-0.5h0m4 0.5h0m5 5h0m3.5-2h0m0 0h0m1.5-2h0m2.5 4h0m4-4.5h0m4 0.5h0m1 2h0m1 1h0m0.5-1h0m4 1h0m5-5h0m5 6.5h0m1.5-1.5h0m1.5-4h0m1 3.5h0m3.5 1h0m1.5-2h0m9-2h0m4.5 5.5h0m2.5-3.5h0m8-2.5h0m0 0h0m1.5-1h0m1.5 3h0m9.5 4h0m2-5.5h0m4 4.5h0m13.5-0.5h0m7-3.5h0m1 4.5h0m2.5 1h0m5 0h0m0-4.5h0m1 3h0m1.5-1.5h0m7-4h0m11.5 2h0m0.5-3h0m0.5 7.5h0m1.5-2.5h0m11 1h0m2.5-0.5h0m1 0h0m12.5-2.5h0m2 1h0m0.5 3h0m2-6h0m5 6h0m5.5-4.5h0m4.5-1h0m0.5 1.5h0m5.5 0h0m-554.5 8.5h0m5.5 4h0m1-6h0m1.5 5h0m2.5-5.5h0m3 6.5h0m2.5-0.5h0m0-4.5h0m0 4h0m1-2h0m3.5-3h0m12.5 3h0m6 2h0m3.5-2h0m0.5-2.5h0m1 2h0m0.5 4h0m1-6h0m0-1.5h0m2.5 4h0m3-4.5h0m11.5 1.5h0m0 5h0m0.5-4h0m2.5 2.5h0m0-4.5h0m5 3.5h0m1.5-3.5h0m0.5 0.5h0m0.5 2h0m1 4h0m0-1.5h0m3-4.5h0m1 0.5h0m4.5 5.5h0m1-1h0m0.5-1.5h0m1-1.5h0m9 0.5h0m0.5 3.5h0m0.5-4h0m9-1.5h0m4 1h0m0.5 2.5h0m7.5 1.5h0m12 0.5h0m0-2.5h0m7-0.5h0m6 0h0m1-0.5h0m1 4h0m2-7h0m1 6.5h0m3.5-6.5h0m0 4h0m5.5-4h0m0.5 7.5h0m1-3.5h0m1.5 0.5h0m1.5-0.5h0m5 1.5h0m2.5-0.5h0m0.5 1h0m1.5-2h0m1 2h0m0 1h0m2-4h0m2.5 0h0m2.5 0h0m0-2.5h0m3 6h0m4-3h0m7.5 1.5h0m0-5h0m4.5 4h0m1 1h0m0.5 0h0m4-3.5h0m0-0.5h0m0.5 5.5h0m2-3.5h0m1 1.5h0m1.5 2h0m4-6.5h0m1 6.5h0m1.5-0.5h0m6 0.5h0m5-5h0m0.5 2h0m2.5-2h0m2 4.5h0m1.5 1h0m2-7h0m5.5 0.5h0m1.5 5h0m2-5.5h0m0.5 4h0m3.5 2h0m0-3.5h0m3.5 2h0m2.5-0.5h0m0 0.5h0m2 2h0m1.5-5.5h0m1 5h0m0-1h0m1.5 1h0m0-5.5h0m0.5 6.5h0m5.5-6.5h0m5 0.5h0m2 5h0m2.5-5h0m7 6h0m2-7h0m0 5.5h0m9-3.5h0m4.5 2h0m2-4.5h0m0.5 7h0m1-2.5h0m1.5 0.5h0m3 1.5h0m3-6h0m1.5 6h0m1-6h0m8.5 5.5h0m11-2h0m0.5-3h0m0.5 0.5h0m5.5 0.5h0m3 5h0m1-3h0m1 3.5h0m2-5.5h0m0.5 5h0m1-2h0m2.5-1.5h0m2.5 3h0m2-1.5h0m8.5-0.5h0m5.5 0.5h0m6.5-4.5h0m1 4h0m3.5-3h0m1 0.5h0m9 3h0m0.5-2.5h0m2-0.5h0m0 4h0m0 1h0m4-6h0m2.5 1.5h0m4.5 0h0m0.5 2.5h0m12-1h0m12 2h0m14-1h0m9-3h0m0.5-1.5h0m4 3.5h0m5-1.5h0m8-1.5h0m17 0h0m5.5 6h0m12.5-5h0m1.5 3.5h0m4.5-1h0m4-3.5h0m1 0.5h0m0.5 2.5h0m2.5 4h0m8-2.5h0m5.5-1.5h0m8.5 0.5h0m3.5-4h0m4 1.5h0m6.5 1h0m6.5 0.5h0m1.5-3.5h0m1 4h0m-565 10h0m0.5-4.5h0m10 2h0m2-2h0m0.5 5h0m1.5-0.5h0m0.5-4.5h0m9.5 1.5h0m3 3h0m1.5-1.5h0m2-4.5h0m1.5 0.5h0m0 4.5h0m0-3.5h0m5.5 6h0m11-0.5h0m2.5-4.5h0m2 0h0m5-2h0m3.5 4.5h0m3-2h0m0.5 2h0m0-4.5h0m5.5 3.5h0m0 4h0m3.5-5h0m0.5 1.5h0m5.5-3h0m2 4.5h0m8.5-0.5h0m11.5-2.5h0m0 0h0m0 1h0m1 1h0m9.5-3.5h0m1 5.5h0m4-2.5h0m8-2.5h0m7 4h0m4-0.5h0m5.5-2.5h0m9 1h0m5.5-2h0m1.5 3h0m2.5 1h0m5.5 0.5h0m9.5-2h0m2.5-2.5h0m1 2h0m7.5 3h0m3-2h0m0.5 2.5h0m6.5-3h0m10.5 1h0m0.5 1.5h0m1.5-6h0m7.5 2h0m6 0.5h0m7.5 3h0m1.5-2.5h0m0-0.5h0m6 4.5h0m1-2.5h0m7.5-2.5h0m3 0h0m1.5 2.5h0m3.5-5.5h0m0.5 6h0m4 1.5h0m4-6.5h0m4 6.5h0m1.5-4.5h0m6-2.5h0m1 0.5h0m1.5 5.5h0m0-3h0m14 0.5h0m9.5 2.5h0m0.5-2.5h0m3 1.5h0m1-1h0m8-2.5h0m6 4h0m12.5-4h0m3.5-2h0m1.5 4h0m4.5 3.5h0m4.5-5.5h0m1 0.5h0m3.5-0.5h0m9.5 4.5h0m1-1.5h0m3-3.5h0m3-1.5h0m1.5 2.5h0m19.5-1h0m1.5-0.5h0m3 5.5h0m5.5-1h0m2-1h0m1-1h0m1.5-0.5h0m9.5-1h0m0 1h0m1-1.5h0m0.5-1.5h0m0.5 2h0m2 6h0m5.5-8h0m6 2.5h0m4 2h0m2-2.5h0m0 0h0m5 4.5h0m4 1h0m4-7.5h0m1.5 7.5h0m2.5-6h0m7-1h0m1 1h0m9 1h0m1-0.5h0m20 0h0m1-1h0m0.5 7h0m2-0.5h0m2.5-0.5h0m4-1h0m18-5.5h0m9.5 7h0m1.5 0h0m1.5-1.5h0m2-3.5h0m0.5 1.5h0m10-3.5h0m2 1.5h0m5 5h0m1-4.5h0m8 5.5h0m-552 7.5h0m2-1h0m1-2.5h0m0-2h0m0.5 0h0m2 2h0m0 2.5h0m8.5-5.5h0m1 2h0m1 1.5h0m0 1h0m0.5-1.5h0m2-3h0m2.5 4.5h0m0.5-1h0m0.5 2.5h0m2.5-3h0m2 1.5h0m2.5 0h0m7-0.5h0m1 1.5h0m2.5-1.5h0m0.5 1.5h0m0.5-1.5h0m1.5 2.5h0m0-4.5h0m1.5 2.5h0m1 0h0m1 1.5h0m4 0h0m0.5-1h0m1.5-3.5h0m0.5-1h0m7.5 2h0m4.5 0.5h0m6-3h0m2 6h0m17.5-4.5h0m0.5 3h0m3-3h0m5 3.5h0m1.5 1.5h0m1.5-4h0m2-3h0m0.5 1h0m2.5 2.5h0m7.5-1h0m0 0h0m1.5-2h0m4 2.5h0m1-1.5h0m0.5-1.5h0m2.5 3.5h0m1 2.5h0m7-2.5h0m4.5 2h0m10 0h0m5.5-2.5h0m2-1.5h0m0.5-1h0m0 3h0m4-1h0m10 4h0m11-4.5h0m3.5-1.5h0m5 5h0m1 1.5h0m0.5-1.5h0m2.5-2.5h0m1 1.5h0m1.5 1.5h0m1-5.5h0m0 4h0m5-1h0m1.5-3.5h0m3.5 4h0m1.5 3.5h0m1.5-7h0m1 5.5h0m1.5-3.5h0m5 4.5h0m27-6.5h0m0 6.5h0m3-5.5h0m2 4.5h0m10.5 0h0m1-2h0m4 2h0m3 0.5h0m11 1h0m2-2h0m2-3h0m1-1h0m5.5 0h0m1-1h0m3 6h0m0-3.5h0m3.5 0h0m2 4h0m6.5-6h0m1 0.5h0m0-1.5h0m3 3.5h0m12.5 2.5h0m3 0h0m14 1h0m1-1.5h0m2.5 1.5h0m1.5-2.5h0m2-5h0m1 5h0m0.5 1h0m3-2h0m1.5-2h0m1.5 3h0m0-2.5h0m0 4.5h0m0.5-5h0m0.5 2.5h0m0 2h0m3.5-0.5h0m2.5-6h0m1.5 1.5h0m6 6h0m3.5-6h0m0.5 2.5h0m6 0h0m3.5-3h0m2.5 7h0m2-3.5h0m2.5 2h0m15.5-2.5h0m4 3h0m2.5-4.5h0m5 4.5h0m0 1h0m0-3h0m1-3.5h0m2 6.5h0m0.5-2h0m3 0.5h0m11.5-1.5h0m0 2h0m6-7h0m6 8h0m1.5-5.5h0m14.5 3h0m2-1h0m8-2h0m0 3.5h0m5.5-0.5h0m20-0.5h0m2.5-3.5h0m3.5 5.5h0m1-7h0m2 5.5h0m6.5-0.5h0m5.5 1h0m1-4h0m5-1h0m3 4h0m9 0.5h0m-536 2.5h0m12.5 2.5h0m7 4.5h0m1-5h0m0.5 4.5h0m12-3.5h0m0.5-2.5h0m1 0.5h0m9.5-0.5h0m5 1.5h0m2-0.5h0m2.5 1.5h0m0-2h0m1.5 0.5h0m13.5 5h0m1.5-1.5h0m0-0.5h0m2.5 3.5h0m1-3.5h0m4 1h0m2.5-4h0m1.5 1.5h0m1 2.5h0m2 0h0m1 0h0m1.5-3h0m4 0h0m3 0.5h0m5 0h0m3 4h0m1-1h0m14 1h0m1-7h0m2 7.5h0m1-4.5h0m0.5 4.5h0m5.5 0.5h0m1.5-4h0m1.5-3.5h0m2.5 5h0m3.5-2.5h0m5-3h0m1 7h0m0.5-7h0m0.5 6.5h0m1-4.5h0m5.5-1h0m1 3.5h0m2.5 1.5h0m2.5-1h0m5.5 2.5h0m0-6h0m6.5 5.5h0m0-2h0m6.5-3h0m9 0.5h0m4 5h0m16-4.5h0m4 4.5h0m18.5-5h0m1.5 1h0m3-1.5h0m1.5 1h0m2 5h0m4-2h0m3.5-0.5h0m6-4.5h0m11 1.5h0m10.5 1.5h0m0.5-1.5h0m9-2.5h0m1.5 2.5h0m7 0.5h0m6-3h0m0.5 3.5h0m3 4.5h0m2.5-6h0m0.5 5.5h0m6.5-2h0m7.5 0.5h0m2-5.5h0m1 7.5h0m8.5-5.5h0m1 5h0m5-2.5h0m2.5-0.5h0m1-3h0m6 1h0m1-0.5h0m4 2.5h0m6.5 3h0m0.5-4h0m1.5-2h0m2.5 4.5h0m0.5 0h0m10-6h0m6.5 3h0m1.5 0.5h0m2.5 2.5h0m1-1.5h0m3.5 2h0m3.5-4h0m9 2.5h0m9 0h0m4-3h0m7.5 3.5h0m0-4h0m6 3h0m1.5-1.5h0m5.5 1.5h0m4 3h0m6-0.5h0m8.5-5.5h0m5.5 4.5h0m15.5 0.5h0m0.5-0.5h0m0.5-1h0m11 1.5h0m6-2h0m3-1h0m11.5 0.5h0m8-2.5h0m1 2h0m1-2h0m2.5 2h0m7 3.5h0m0.5-0.5h0m0.5-3.5h0m6-3h0m12.5 6.5h0m1-4h0m-536.5 5.5h0m3 3.5h0m0.5-2h0m0.5 0.5h0m2 5.5h0m0.5-4h0m1.5 0h0m2-3h0m0.5 0.5h0m15.5 4.5h0m3 0h0m16.5-1.5h0m1-3h0m2.5-0.5h0m1 7h0m4.5-5.5h0m3.5 4h0m8.5-2.5h0m2 3.5h0m1-3.5h0m1-1h0m3-1.5h0m1 1.5h0m3.5 1h0m2 0.5h0m3 4h0m12.5-6.5h0m3 4.5h0m0.5-3.5h0m5.5-1h0m14 6.5h0m2-5.5h0m16.5 2h0m0.5-2.5h0m2 4h0m2-0.5h0m3-4.5h0m3.5 2h0m6 2.5h0m0.5 0h0m1.5 1.5h0m3.5-1h0m1-5h0m1.5 3h0m3.5 3h0m1.5-6.5h0m3 1h0m1 6.5h0m0-7.5h0m7.5 2h0m6-1.5h0m5.5 4h0m11 1.5h0m4 0h0m3-1h0m7.5-1.5h0m2.5-3.5h0m2.5 3.5h0m1-3.5h0m7.5 7h0m0.5 0h0m4.5-6h0m6.5 3h0m0 2h0m4.5-0.5h0m0-0.5h0m4-2h0m0 3h0m2.5-5h0m0.5 3.5h0m0.5 1h0m0.5-2h0m4.5-2.5h0m1-1h0m1 7.5h0m2.5-2h0m3-5.5h0m1.5 2h0m0-2h0m2.5 3h0m1.5 2.5h0m0.5 0h0m1 2h0m0-2h0m5.5-4h0m4.5 5h0m0-6.5h0m0.5 2.5h0m3.5 1.5h0m1 3h0m1.5-5.5h0m8 2h0m5 3h0m0.5-3h0m12.5 3h0m4.5-2.5h0m1-3h0m5 3.5h0m3.5-3.5h0m2.5 5h0m1.5-3h0m4.5 4h0m0-7h0m4 0h0m1.5 0.5h0m2 1h0m0 5.5h0m9-4.5h0m1-1h0m0.5 5h0m0.5-6.5h0m5 6.5h0m1-2h0m6.5 2.5h0m3.5-1.5h0m0.5-2.5h0m8 0.5h0m7-3h0m0.5 3.5h0m1 2h0m3.5-1.5h0m3 3h0m4.5-4h0m1-1h0m8-0.5h0m1-1h0m6.5 4.5h0m14-0.5h0m3-4.5h0m12 5h0m16-0.5h0m1-5.5h0m0.5 6h0m4-2h0m4-2h0m1 0.5h0m4.5 0h0m5 0h0m4 0h0m4 2h0m3.5 3h0m3.5-5h0m26 3h0m-524 5.5h0m0-1h0m1 3h0m5 3h0m2-1h0m2-3h0m1.5 1h0m0.5 2h0m7-4h0m4 1.5h0m0-0.5h0m1.5 0h0m0.5 0h0m5-1h0m1-1h0m1 3.5h0m1.5-1.5h0m1-2.5h0m7.5 2h0m4 1h0m3.5 2h0m1.5 0h0m3.5-0.5h0m2.5-6h0m3.5 0h0m1.5 6h0m3 0h0m1.5-2h0m1 3h0m0.5-4h0m1 4.5h0m1-7h0m0.5 4h0m1-1h0m1.5 3h0m1-4h0m4.5 5.5h0m8-1h0m0-0.5h0m12-5.5h0m1 0.5h0m5 0h0m3.5 2.5h0m3 3.5h0m2-5h0m3-0.5h0m4-1h0m0.5 6.5h0m2.5-1h0m7-4h0m12-0.5h0m3 4h0m3-3.5h0m2.5 0h0m2 1h0m10.5 0h0m5.5 3.5h0m5-6.5h0m2.5 6h0m10.5-1.5h0m7.5-4h0m9.5 5.5h0m9.5 1.5h0m2.5-3h0m1.5-1h0m1 1.5h0m2.5-2h0m2.5 2.5h0m7.5-2h0m1.5 2.5h0m2.5-3.5h0m7 0h0m7.5 4.5h0m0-3h0m1.5 1h0m6-1h0m0-0.5h0m1.5 0h0m1 1.5h0m6.5-3h0m3.5-2.5h0m2.5 1.5h0m4.5 0h0m3.5 5.5h0m2-4h0m1 3h0m7-5h0m1-1h0m3.5 5h0m0-1h0m7.5-2.5h0m2.5-0.5h0m2 0.5h0m3 6h0m2.5-1.5h0m9.5-5.5h0m5.5 1.5h0m0.5 1h0m1.5-2.5h0m1-0.5h0m11 6h0m2.5-3.5h0m3-2h0m2.5 5h0m0.5-0.5h0m1-1.5h0m4 2.5h0m1.5 1h0m2.5-6.5h0m0.5 0h0m0 7.5h0m6-8h0m10 4h0m1.5-2.5h0m8 4.5h0m2 1.5h0m2.5-0.5h0m2 0.5h0m2-5h0m5.5 3.5h0m0.5-4h0m1 0.5h0m1.5 0h0m2.5 3h0m1.5-2h0m8 2h0m1-4.5h0m9 0h0m10.5 6.5h0m0-1.5h0m5-0.5h0m1.5-3h0m1.5 0h0m2.5 5h0m1.5-1.5h0m3.5-3.5h0m0.5 0h0m2.5 3h0m0-4.5h0m2.5 7h0m1-3.5h0m4-1h0m0-2h0m2.5 2h0m7-2.5h0m4.5 3.5h0m4-2h0m8.5 4.5h0m2.5-7h0m27.5 3.5h0m4-1h0m4 4h0m5-2h0m-528.5 5h0m1 2.5h0m2-2.5h0m0 0h0m0.5 0h0m2 0.5h0m12 1h0m3-1.5h0m1 4h0m1.5-4.5h0m2.5 0.5h0m1 2.5h0m0.5 1.5h0m1-2.5h0m1-2h0m4-1h0m6.5 4.5h0m0.5-4.5h0m0 5h0m2 3h0m1-7.5h0m0.5-0.5h0m1.5 0.5h0m1 6.5h0m4.5-1h0m1.5-1h0m1 2h0m1-0.5h0m0-4.5h0m2.5 1.5h0m0.5 4h0m4.5-4h0m7 0.5h0m0.5 0h0m2.5 2.5h0m0.5 0h0m0 0.5h0m0-5.5h0m3 2.5h0m0.5-2.5h0m13.5 0.5h0m4-0.5h0m8.5-0.5h0m1 6h0m0.5-6.5h0m0 2h0m2.5 3h0m0.5-1.5h0m3.5-1.5h0m1.5-1.5h0m1 3.5h0m4-4h0m6.5 0h0m39 3h0m2 1.5h0m4-3.5h0m0 4h0m8.5-4h0m0.5 0.5h0m2 3h0m1-1h0m8-0.5h0m11-3h0m1 7h0m2-7.5h0m11.5 7h0m2.5-3.5h0m11 2.5h0m4.5 0h0m2.5 0h0m6-3.5h0m3.5 0h0m1.5 4.5h0m3-5h0m1 1h0m1-0.5h0m1.5 2h0m2 0.5h0m5-1.5h0m0.5-1h0m5-1.5h0m13 6.5h0m0.5-6h0m0 2.5h0m1-3.5h0m4 3.5h0m0-2.5h0m2 3h0m2-1h0m1.5 0h0m1.5 3.5h0m18 0h0m1-2.5h0m3.5 1.5h0m10.5-4.5h0m4 0h0m5.5 3.5h0m1-1h0m13.5 1.5h0m4.5-4h0m4 0h0m1.5 3h0m3-1.5h0m2.5 0h0m5.5-1h0m1-0.5h0m13 0h0m0 3h0m0.5-2h0m7-2h0m0.5 5.5h0m6-4h0m4.5 1.5h0m6-2h0m3.5 0h0m4 5.5h0m6-6.5h0m3.5 7h0m3-3h0m12-2h0m5.5-1h0m11.5 4.5h0m3-5h0m5.5 0h0m0.5 0.5h0m18.5 5h0m14-1h0m3 0.5h0m19.5 0h0m1-5h0m2 4h0m-522.5 3h0m6 3.5h0m3.5-3h0m1 3h0m4.5-2.5h0m2 4.5h0m3.5-4h0m1.5 4.5h0m0-2.5h0m3 1h0m0-0.5h0m2.5-2h0m2 4.5h0m0.5-6.5h0m1 3h0m0.5 2h0m2 0.5h0m0-0.5h0m0.5 2.5h0m0-2.5h0m1-0.5h0m0.5-3h0m1.5 3h0m3.5-3.5h0m0.5 3.5h0m0-3.5h0m1.5 1.5h0m17.5 1h0m2-1h0m2.5 5h0m0 0h0m2.5-2h0m1.5-4h0m0.5 1h0m0.5 3h0m0 1h0m2.5-3.5h0m5.5-2.5h0m1.5 5.5h0m1-1h0m2.5-5h0m2.5 2h0m1 0.5h0m5 4.5h0m3.5-0.5h0m3-1h0m0-5h0m11 4h0m73-4h0m20 0h0m0.5 4h0m3.5-4.5h0m2.5 2.5h0m6-0.5h0m13.5 4.5h0m2.5-5h0m0-0.5h0m6-0.5h0m1 2h0m0 1.5h0m7-3h0m0.5 0.5h0m1.5-0.5h0m0 4h0m3.5-4.5h0m1.5 5.5h0m0.5-0.5h0m7 0h0m2.5-5h0m1.5 5h0m1.5 1h0m1.5-2.5h0m9 0h0m1.5 0h0m1.5-3.5h0m0.5 4.5h0m2-4h0m1 2h0m1.5 5h0m3-2h0m4.5-3h0m4.5 3.5h0m1-6h0m1.5 6h0m8.5-4.5h0m3 1.5h0m0.5 3h0m7-4h0m0 0h0m9.5 1h0m3-1.5h0m11 2h0m0.5-3.5h0m8.5 2h0m17 2h0m1 0.5h0m0 0.5h0m5-5.5h0m0.5 7.5h0m0.5-5h0m2.5 4.5h0m1.5-3.5h0m1.5 3.5h0m0.5 0.5h0m1-6h0m2-1h0m0.5 0h0m4.5 3.5h0m0 1.5h0m7.5-5h0m5.5 1h0m8 1h0m5.5 2h0m1.5 0.5h0m5 0.5h0m12.5-2h0m2 4h0m1.5-2.5h0m10-1.5h0m2 2h0m3-3.5h0m2-1.5h0m5.5 0h0m2 6.5h0m4.5-2.5h0m2.5-3h0m0.5-1.5h0m1.5 6.5h0m7-1.5h0m5.5 2.5h0m6-0.5h0m8-6h0m5 4h0m0.5-2h0m0.5 3.5h0m3.5-3h0m2 2.5h0m3.5-3h0m0-2h0m1 3h0m-501 7.5h0m5.5-1h0m0-0.5h0m4 4.5h0m2 0h0m4.5-6h0m1 1.5h0m1 3.5h0m1-2h0m3.5 3h0m3-4.5h0m3.5-1h0m0.5 4.5h0m0-3.5h0m2.5-1.5h0m4.5 7h0m5.5-3.5h0m1 2.5h0m7-4.5h0m1-1.5h0m0.5 3h0m0.5 3.5h0m0.5-6.5h0m4.5 2h0m8.5 1h0m3.5-2.5h0m7 3h0m6 1h0m0-3h0m47 6h0m21.5-2.5h0m6-4h0m12.5 5h0m22.5-1h0m22.5-3.5h0m13.5-0.5h0m6.5 0.5h0m8.5 2.5h0m3-1h0m16.5-0.5h0m6 3h0m4-3.5h0m1.5 0.5h0m0 1.5h0m0-3h0m9 1.5h0m1.5-1h0m4.5-1h0m1 6h0m1.5-6h0m11.5 5h0m0.5-0.5h0m3-0.5h0m0-4h0m3 0.5h0m6.5 1h0m6-0.5h0m5.5 3h0m3.5-2h0m12 4h0m4-1h0m2-3h0m4 4.5h0m8-3h0m9-3.5h0m11.5 1.5h0m7.5-1.5h0m9.5 1.5h0m2.5 4.5h0m3-6.5h0m0 0.5h0m8 5.5h0m0-6h0m3.5 4.5h0m4 2.5h0m7-2.5h0m0 2.5h0m6.5-5.5h0m7 3.5h0m0.5 0.5h0m3.5 1.5h0m1-4h0m6.5 1h0m4-2h0m2 2.5h0m7 2h0m5 0h0m3.5-6.5h0m0 2h0m8-0.5h0m10.5 1h0m2-0.5h0m-489 7h0m10 3h0m1.5-3.5h0m0.5 3h0m3.5 2.5h0m0.5-6.5h0m11 4.5h0m1-3h0m11 4h0m8.5-4h0m48-1h0m52.5 2.5h0m39-1.5h0m14.5 1.5h0m36.5 1.5h0m2-1.5h0m4.5-2.5h0m0.5 1.5h0m4.5-1.5h0m2.5 4h0m2.5-4.5h0m11.5 1.5h0m11 2.5h0m2.5-0.5h0m5-3.5h0m4 7.5h0m0.5-1h0m2.5-5h0m2-1h0m2.5 7h0m3.5-1h0m0-4h0m1.5 2h0m0.5 1.5h0m0.5-5h0m2 5.5h0m3-2h0m2.5-0.5h0m1-2h0m7 0.5h0m9.5 2h0m0-3.5h0m1.5 2h0m0.5-2.5h0m3 3h0m3 3.5h0m14-6.5h0m7 3h0m4.5 3h0m0.5 1h0m7-5h0m0 3h0m6-2h0m1.5 1h0m0 2.5h0m11.5-2.5h0m2.5-3h0m6-0.5h0m1 0h0m11.5-0.5h0m2 6.5h0m9.5-4.5h0m4.5-2.5h0m10 2.5h0m0.5 0.5h0m0.5 5h0m13-2.5h0m3 2.5h0m2-3h0m1.5-5h0m7.5 7h0m0.5-5h0m5 6h0m0.5-1.5h0m0.5 1h0m1.5-1h0m1 0h0m3-5.5h0m-451.5 12.5h0m147.5 0h0m30.5 1h0m54-1h0m5.5-0.5h0m10-2.5h0m8.5 3.5h0m6.5-2.5h0m1-0.5h0m1.5 4.5h0m0.5 0h0m4-7.5h0m1 4.5h0m1 1.5h0m4-3.5h0m2 1h0m1.5-2h0m2 2.5h0m0.5-2h0m2 0h0m0 1h0m3 4h0m1-3.5h0m3.5 0h0m18.5 2.5h0m15.5-0.5h0m0-2h0m0.5 2h0m1 1.5h0m2.5 0.5h0m2-3h0m0.5 0.5h0m3-4.5h0m0 7h0m4.5-4h0m4.5 3.5h0m1.5-2.5h0m1.5 3h0m5-4.5h0m10.5 2.5h0m1-4h0m1.5 2.5h0m12-3h0m9-0.5h0m6 4h0m5.5-3h0m5.5 1h0m3.5 3h0m2.5 0h0m6 1h0m2 1.5h0m0.5-3.5h0m2-1h0m1 1h0m12.5 1.5h0m12-3.5h0m1.5-2h0m3 1h0m-410.5 13h0m35.5 0.5h0m20.5-1.5h0m16-4.5h0m8 7h0m61-7h0m12 4.5h0m42-3.5h0m6.5 4h0m20.5-1h0m2.5-3.5h0m0.5 2.5h0m1 2h0m6 1.5h0m8.5-6.5h0m3.5-0.5h0m4 4.5h0m3-3.5h0m0.5 2.5h0m2.5 1h0m2 2.5h0m2-0.5h0m10.5-2.5h0m7.5 1.5h0m0-1h0m2-1h0m18.5 3h0m3-4h0m19.5 1.5h0m0.5-4h0m0.5 1h0m6 4.5h0m9.5-0.5h0m1-1h0m1.5-3.5h0m5 6.5h0m3.5-3.5h0m0.5 1h0m4-3.5h0m4 4.5h0m5-2.5h0m2.5 3h0m0.5-6h0m0 4h0m0.5-2.5h0m2 1h0m1.5 4.5h0m0.5-7h0m5.5 6h0m9 1h0m-393 1.5h0m79 0h0m88.5 1.5h0m12 1h0m33 0.5h0m4.5-3h0m1.5 4.5h0m3.5-4.5h0m5 6h0m0-4.5h0m0.5-2h0m4.5 2.5h0m0.5 1.5h0m6-4h0m3.5 1.5h0m1.5 2.5h0m0-0.5h0m12.5 2.5h0m1.5-3.5h0m2 1h0m0.5-2h0m8.5 5h0m3-2h0m4.5-4h0m0.5 1h0m1.5 6h0m1-5h0m6-0.5h0m2-0.5h0m1.5 3h0m0.5 2.5h0m8-1.5h0m2.5 0.5h0m3.5-2.5h0m6 0.5h0m1 2.5h0m12-0.5h0m3-1.5h0m0 1.5h0m7 0.5h0m0-4.5h0m4.5 5.5h0m2-6.5h0m6.5 1.5h0m0 0.5h0m0.5-0.5h0m2 1.5h0m0.5 3h0m10.5-5h0m2.5 1.5h0m8-1h0m3-1h0m12.5-1.5h0m3 5h0m0-3.5h0m1-1.5h0m4 4h0m-311.5 9.5h0m138.5-1.5h0m7 2.5h0m0.5-5h0m3 0h0m2 2.5h0m0 3h0m3-2.5h0m2-3.5h0m1 6.5h0m2-0.5h0m0.5-6.5h0m1 1.5h0m0 1.5h0m2 3h0m0 1h0m0.5-0.5h0m6-3h0m4 2h0m2.5 1h0m1-0.5h0m0-1.5h0m0 1.5h0m2.5-2.5h0m2.5-3h0m1 3.5h0m0.5-0.5h0m1 2h0m0.5-5h0m3 3h0m1-4.5h0m5.5 1.5h0m7.5 0.5h0m3 2h0m1.5 1h0m2-4h0m1.5 5.5h0m1 0.5h0m0-5h0m1.5 4h0m14.5-2h0m5 4h0m0.5-8h0m6.5 8h0m1-3.5h0m1.5-1.5h0m11 3.5h0m1 1.5h0m0-5.5h0m4 4h0m0.5-2h0m0.5 1h0m0.5 1h0m8-5.5h0m2 6h0m0.5-6h0m1.5 3h0m1-1.5h0m3 1.5h0m7 1.5h0m0.5-3h0m0.5-1.5h0m0 6h0m1.5-2h0m5.5-1h0m2 2h0m3.5-5.5h0m2 6.5h0m1 0.5h0m3.5-5h0m0.5 1h0m4.5 2h0m2-4h0m0 4h0m2 1.5h0m2-1h0m-309 4.5h0m48 4.5h0m44.5-1.5h0m9.5 0.5h0m39 1h0m1-1.5h0m2-4.5h0m0.5-1h0m2.5 2h0m1-0.5h0m3 2.5h0m3.5 1.5h0m1-1h0m3-2.5h0m0.5 2h0m0.5-3.5h0m0 5h0m4-5h0m2 3.5h0m0 2.5h0m0.5-2h0m0.5 2h0m4.5-2.5h0m1 1.5h0m1 2h0m0-7h0m3 4h0m6.5-1h0m7.5 0h0m4 1h0m6.5 1h0m7.5-5h0m3.5 2h0m4.5 0h0m0.5 2.5h0m8.5-0.5h0m2.5-1.5h0m4.5 4h0m0-5h0m7.5 3.5h0m2-3.5h0m4.5 5h0m10-6.5h0m2 7h0m7-3.5h0m4.5 0h0m8.5 3h0m2.5-2.5h0m0.5-1.5h0m6 3.5h0m1-5h0m1 1.5h0m3 4.5h0m5.5-5h0m1-2.5h0m7 2h0m4 3.5h0m1.5 0.5h0m0 0.5h0m-261 1.5h0m87.5 4h0m3-0.5h0m13 4h0m1-4h0m5.5 2h0m0.5-1h0m2.5-3.5h0m0 0.5h0m4.5 2.5h0m1 0h0m8.5-2.5h0m1.5 2.5h0m5 0h0m4 2h0m9-4.5h0m0.5 0.5h0m5-1.5h0m4.5 4.5h0m0.5 0h0m1.5-1h0m3 1.5h0m2.5-5.5h0m5.5 2h0m4 4.5h0m4-1h0m0.5 2.5h0m5-1h0m1 1h0m5-4.5h0m3.5 2h0m6-4h0m7 0h0m6 3.5h0m0-4h0m2.5 5h0m2-4.5h0m1 6.5h0m0-4.5h0m2 2.5h0m6-3h0m1 0.5h0m0.5-0.5h0m0.5 4h0m3-5.5h0m14.5 1.5h0m3.5-1h0m5.5 5.5h0m5.5-5.5h0m4 4.5h0m-174 8h0m4.5-5h0m5 1.5h0m1.5-2h0m0.5 4.5h0m4.5 1.5h0m2-3.5h0m2-1h0m2.5-0.5h0m3 2.5h0m4-4.5h0m4 1h0m0.5 6h0m1.5-1h0m0 0h0m0 0h0m6-3h0m0.5 2h0m0.5 0.5h0m12-4.5h0m3 3h0m4 4h0m1-4h0m8-2h0m0 3.5h0m0.5-1.5h0m2 4h0m0-4.5h0m0-1h0m1.5-1.5h0m0.5-0.5h0m3.5 6.5h0m2.5-3.5h0m0.5 2.5h0m0 1.5h0m9 0h0m1-0.5h0m0.5 0.5h0m1-3h0m1-1.5h0m0.5 4.5h0m5-0.5h0m2.5-7h0m0.5 2.5h0m0.5 1h0m12-1.5h0m2 4.5h0m5.5-6.5h0m4 5.5h0m2-0.5h0m2-4.5h0m2 3.5h0m3.5 0h0m0-3h0m3.5-1h0m2 4.5h0m1 3.5h0m3.5 0h0m0.5 0h0m5.5 0h0m4-7.5h0m5 3.5h0m3-1h0m3.5-2.5h0m7 6.5h0m-179 6.5h0m14-3h0m5.5-1.5h0m5.5 3h0m0.5-2.5h0m1-1h0m11 3h0m5-2.5h0m7.5 5.5h0m3-0.5h0m1.5-6h0m8.5 2h0m5.5-1.5h0m4 6.5h0m0.5-7h0m9 1h0m0 6.5h0m3-0.5h0m1-2h0m1 1h0m9 0h0m7-3.5h0m10.5 0h0m0 0h0m13.5-2h0m4.5 2h0m3 1h0m1.5 2.5h0m6 1h0m4 0.5h0m15-1.5h0m2.5-5h0m2 4h0m0.5-4.5h0m3.5 1h0m-172.5 13h0m0.5-4h0m4.5 0.5h0m1 3.5h0m2.5-2.5h0m1 0h0m2 1h0m15-0.5h0m9.5-4h0m2 3.5h0m7 1h0m2.5 2h0m4.5 0h0m3-1h0m2.5-3.5h0m1.5-1h0m3.5 5h0m0.5 0.5h0m2-5h0m2.5 6h0m1.5-8h0m1 3h0m13-2h0m2.5 4.5h0m7.5-1h0m1.5-4h0m14.5-0.5h0m9 6h0m4.5-5h0m13.5 2.5h0m5.5 3.5h0m0.5-2.5h0m5 2h0m1.5-1.5h0m2.5 0.5h0m6-5h0m1.5-0.5h0m2 4.5h0m4 2h0m6.5-2h0m0.5 1h0m6-2.5h0m-177 12.5h0m5-7.5h0m2 3.5h0m1.5-1h0m6.5 0.5h0m5 3.5h0m3.5-1h0m1.5-0.5h0m1 2.5h0m2-3h0m4-1.5h0m3.5 4h0m2.5-0.5h0m0.5-3h0m8 2.5h0m5.5-3.5h0m3-2h0m2.5 1.5h0m2-2h0m1 4.5h0m5.5 0h0m3.5-3h0m3.5 0h0m2 0h0m5 0h0m0.5-0.5h0m0.5 0.5h0m19.5-0.5h0m13 1.5h0m3 1h0m5.5-1h0m8.5-1h0m5.5 6h0m19-1h0m5-4.5h0m6 6h0m6.5-5h0m2.5 4h0m3 0h0m10.5 0.5h0m15-0.5h0m7-1h0m1.5-0.5h0m-237.5 8.5h0m3 0h0m10-6h0m3.5 7h0m7.5-2h0m0-2h0m2 1h0m4-3.5h0m4 1h0m5.5 3h0m0 1.5h0m7.5-5h0m0.5 5h0m6.5 0.5h0m1.5-5h0m0 0h0m2 0h0m5 3.5h0m3.5 0.5h0m4-0.5h0m0.5-3.5h0m0.5 2h0m5-3h0m1 1.5h0m2.5 6h0m0.5-3h0m1-5h0m0.5 2.5h0m5 0.5h0m3 4h0m2-2.5h0m3.5-4h0m39.5 0.5h0m28 0h0m17.5 1.5h0m10 5.5h0m1.5-7h0m6.5 6.5h0m8.5-4h0m12.5-3.5h0m15 4h0m9 3h0m16.5-0.5h0m3.5-3.5h0m-275 12.5h0m0.5-5.5h0m3 4h0m1.5-4.5h0m1 3h0m0 3h0m2.5-6h0m9 0h0m3.5 4.5h0m2.5-0.5h0m6-1.5h0m0 0.5h0m0.5 1.5h0m0 2h0m5.5-4.5h0m2 1.5h0m12.5-2h0m0.5 1h0m14 1h0m0.5-1h0m9.5 1h0m3-3h0m5.5 3.5h0m0-0.5h0m0 0.5h0m10-4.5h0m3 3.5h0m40.5-3h0m37 0h0m6 6h0m12-0.5h0m0.5-2.5h0m1 0.5h0m4.5 2.5h0m6-1.5h0m6.5-1.5h0m3.5 3h0m10-6h0m10.5-1h0m9 1.5h0m7.5 5h0m5 0h0m-253.5 6h0m1 0h0m6-1h0m1.5-0.5h0m1-1h0m2.5 2.5h0m7 1.5h0m2.5-3h0m9-0.5h0m4-2.5h0m7 0h0m6 6h0m0.5 0h0m0.5-6h0m5 6h0m4-3h0m2 1h0m0.5-4h0m2 0h0m2 0.5h0m1 0h0m6.5 5h0m3 1.5h0m2-2.5h0m1.5 2h0m5-0.5h0m4-5.5h0m3-1h0m3 2.5h0m5-1h0m1 3.5h0m3.5-4.5h0m18 6.5h0m1-0.5h0m71-1.5h0m4.5 1.5h0m2.5 0.5h0m11.5 0h0m8.5-5h0m31.5 2.5h0m28-2h0m6 1h0m-314 9.5h0m5.5-1h0m1 3h0m0.5-5h0m6.5 5.5h0m0-2.5h0m0.5-0.5h0m9 2.5h0m3-3h0m3-3.5h0m9.5 6h0m5.5-1h0m1-1.5h0m6.5 2h0m4 0.5h0m2.5-4.5h0m1.5 3.5h0m0.5-3h0m1.5 1.5h0m0-2h0m4-1h0m2.5 5h0m14 1.5h0m14-7h0m3 4h0m2.5-1.5h0m3.5 2h0m2.5-0.5h0m2.5 2.5h0m1-0.5h0m8-2.5h0m6.5-1.5h0m4.5 1.5h0m1 0h0m3.5 2.5h0m1.5-0.5h0m3-0.5h0m0 1.5h0m2.5-6h0m0.5 1h0m2 4.5h0m1.5 0h0m0.5-1h0m1.5-1.5h0m1.5-2.5h0m4.5 2.5h0m2.5-1.5h0m1.5-0.5h0m4 4.5h0m5.5 1.5h0m16.5-2.5h0m18.5-2.5h0m18 2.5h0m2.5 0h0m33 1.5h0m14.5-5h0m1.5 5h0m54-3.5h0m-319 11.5h0m1.5-6.5h0m0.5 5h0m2-4h0m0.5 3.5h0m2-3h0m0.5 5h0m0-4.5h0m4-2h0m2 0h0m3 6.5h0m2-4.5h0m4 0.5h0m1-1.5h0m2 4h0m2.5 1h0m0.5-2h0m0 2h0m1-1h0m10-0.5h0m11.5 0.5h0m3.5-4.5h0m0 3h0m6-1.5h0m2 1h0m0.5-3h0m0.5 4.5h0m1-2h0m0 1h0m0.5 1h0m0-3.5h0m6 4h0m4.5-3h0m0 5h0m3.5-7.5h0m1 5.5h0m14 1.5h0m1-1h0m7-0.5h0m2-1h0m0.5-0.5h0m1-3h0m1 7h0m0.5-2h0m1-1.5h0m0-3.5h0m6.5 0h0m1-1h0m7.5 2.5h0m1-0.5h0m16.5 0h0m6 3.5h0m3.5-5h0m8.5 6.5h0m5-4h0m0.5 1.5h0m5 2h0m11.5-4h0m6.5 4h0m6-2h0m0.5-4h0m2.5 5.5h0m28-4.5h0m11-1h0m22 0h0m10.5 2.5h0m2.5 1.5h0m9-2.5h0m14 3h0m4 1h0m1.5-3.5h0m15.5 0h0m-310 10.5h0m0 0h0m8.5-1.5h0m1.5 2.5h0m5-0.5h0m0.5-2h0m2-3h0m0.5 1.5h0m4.5 5.5h0m0.5-6.5h0m4.5 0.5h0m0.5 6h0m1.5-3h0m15-3h0m7 2h0m4 0.5h0m0.5-3.5h0m0.5 2h0m0.5 2.5h0m3 1.5h0m1-3.5h0m25.5-2.5h0m1 1h0m3.5 2.5h0m2-4h0m5.5 3.5h0m6 0.5h0m6-1.5h0m8-0.5h0m4.5 5.5h0m15.5-2h0m4-5.5h0m3.5 4.5h0m3.5 3.5h0m4.5-7h0m6 2.5h0m20-3.5h0m6 7.5h0m1.5-0.5h0m9-4.5h0m4.5 1h0m3 2.5h0m2-1.5h0m2 2.5h0m33-6h0m30.5 4.5h0m16 1.5h0m2.5-4h0m12-1h0m9.5 4.5h0m2.5-1.5h0m1 0.5h0m14.5 2h0m17 0h0m5.5-3h0m27 3h0m-375 5h0m2.5-1h0m13.5 2.5h0m4.5-5h0m16.5 1.5h0m5.5-2h0m13 0h0m5.5 0.5h0m22 1h0m37.5-1.5h0m3.5 2h0m2.5-2.5h0m11 3h0m0.5 5h0m1-1.5h0m1.5-3.5h0m2.5-0.5h0m3 4.5h0m3-5.5h0m2.5 2h0m12.5 0h0m6 0h0m8 3h0m36-1h0m16.5-5.5h0m12 1.5h0m11.5 4h0m3.5 0.5h0m15.5 0h0m1-5h0m2 6h0m2-4h0m2-1h0m1-1h0m3.5 3.5h0m1-3h0m5 2.5h0m3-1h0m7 3h0m14 2h0m2-3h0m2-3h0m3 4h0m1.5-5.5h0m2 7.5h0m4-5.5h0m6 0.5h0m3 2h0m2-2h0m0.5 2.5h0m8-1.5h0m10.5-1.5h0m0.5 5.5h0m6.5-3.5h0m2.5-1h0m-336.5 6.5h0m111.5-1.5h0m14-0.5h0m21.5 2h0m0-1h0m21.5 5h0m55-5.5h0m7 4h0m9.5-3.5h0m14.5 6.5h0m18.5-7.5h0m1.5 0h0m18.5 4h0m0.5 2h0m12.5 1h0m11 0.5h0m2.5-4.5h0m1.5 0h0m8-2.5h0m10.5 1.5h0m0.5 4h0m7-1.5h0m14.5 3h0m-230.5 2.5h0m46-1.5h0m4 4.5h0m1.5-2h0m3.5-0.5h0m5 3.5h0m7.5 2h0m1.5-1.5h0m3-2.5h0m1-2.5h0m6.5 2.5h0m10 0h0m6.5-1.5h0m3-2h0m13-0.5h0m2.5 1h0m6.5 5h0m0.5-4h0m5 1h0m7.5 4h0m4-1.5h0m1-1.5h0m8.5-1h0m19 2.5h0m7.5 0.5h0m3.5-5h0m1 1.5h0m1.5 2.5h0m2.5-5h0m2 4.5h0m1-3h0m1.5 0.5h0m3.5 0.5h0m0.5-2h0m2 1.5h0m4 3.5h0m2.5 0h0m7.5-3h0m2 1h0m2 0h0m23 2h0m2.5-1h0m6 2h0m0.5-6h0m8 1.5h0m9 2h0m0.5 2h0m3.5 1.5h0m15-5.5h0m17.5-1h0m-254 12.5h0m7-0.5h0m4.5 0h0m6-0.5h0m11 1h0m0.5 1.5h0m12.5-4h0m16-2.5h0m2 2h0m0.5 4.5h0m7.5-4h0m1.5 0h0m4.5 2h0m11-2.5h0m1 4h0m1.5-2.5h0m3-0.5h0m1 1h0m3.5-0.5h0m4 0.5h0m1-1.5h0m5.5 2h0m1.5-1h0m5.5-3.5h0m3 6h0m6-3h0m15.5-1.5h0m1.5 1.5h0m6.5 3.5h0m3-0.5h0m4 0h0m3-6.5h0m0.5 1h0m0.5 2.5h0m0 3.5h0m12.5-5h0m1 2h0m2 3.5h0m2-7h0m15.5 7h0m5.5-4h0m0 1.5h0m3-2h0m6 1h0m4.5 3.5h0m2.5-0.5h0m4-5h0m4-0.5h0m9.5 4h0m18.5-0.5h0m5 1.5h0m-246 8.5h0m4-2.5h0m15-1h0m2-1.5h0m7 6h0m0.5-5.5h0m1.5 1.5h0m1-1.5h0m1 4h0m5.5-2.5h0m8 3h0m1-4h0m9-0.5h0m3.5-2h0m5 6.5h0m3.5-4.5h0m4.5-1h0m2.5 1h0m13 3h0m1-2h0m1.5 3.5h0m1.5-3h0m2 0h0m1.5-1h0m8.5 4h0m1-6h0m1.5 4h0m5 2.5h0m4-0.5h0m5-0.5h0m3-6h0m5.5 2h0m6.5-1h0m6 3.5h0m11.5 0.5h0m2.5-2h0m1-3.5h0m1 4h0m22.5 0h0m4.5-0.5h0m7-2.5h0m4 7h0m5.5-7h0m1 1.5h0m5 0h0m3 2h0m3 1h0m1-1.5h0m3.5 3h0m1.5-5h0m2.5-2h0m9 7.5h0m4.5 0h0m1-1h0m7.5-6.5h0m4.5 4.5h0m0.5-1.5h0m4.5-1h0m0.5 2.5h0m0.5 3h0m5.5-2h0m3-1h0m10 3.5h0m-292.5 0.5h0m6 7h0m3-7h0m14.5 3.5h0m0.5-2.5h0m4.5 1h0m7.5 3h0m2.5 1.5h0m4-6.5h0m8.5 3h0m12 3.5h0m1.5-6h0m6 4.5h0m1-4h0m0-1h0m10 0h0m8 7h0m11.5 0h0m2.5-2h0m11-4.5h0m1 5h0m5 1h0m9.5-5.5h0m1 4.5h0m9.5-0.5h0m4.5 1.5h0m2.5-3.5h0m0.5 3.5h0m2-1.5h0m1 1h0m3-5.5h0m33 2h0m3.5-2.5h0m7.5-0.5h0m1 6.5h0m3.5-3h0m2 0h0m0 2.5h0m3.5-3h0m3.5 2.5h0m2-1h0m6 3.5h0m6-3.5h0m1-1h0m7.5-1h0m3.5 1.5h0m0 0h0m6.5-3.5h0m0 6h0m9.5-2h0m10 0h0m10.5-2.5h0m5-0.5h0m7 6h0m3.5-4.5h0m6 3.5h0m3-1h0m1 2h0m-336 7h0m29-4.5h0m7.5 1.5h0m4-3.5h0m7 6h0m7.5-2.5h0m2 1.5h0m1-0.5h0m6.5-1h0m2-2.5h0m9 1.5h0m12.5 4.5h0m4.5-4.5h0m1-1.5h0m10.5 4h0m22.5-0.5h0m1.5-2.5h0m3.5 2.5h0m2.5-3.5h0m12 1.5h0m10-2.5h0m3.5 0.5h0m7 6.5h0m9.5-0.5h0m2-3.5h0m1.5-1.5h0m0.5 4.5h0m15 1.5h0m11-3h0m1 0.5h0m1.5-3h0m1-0.5h0m13 1h0m15 3.5h0m2.5-1.5h0m5-3.5h0m6.5-1h0m1 7.5h0m0.5-1.5h0m3-2h0m0.5 4h0m3-5.5h0m1 2h0m7 2.5h0m1.5-2.5h0m3.5-4h0m9 7.5h0m0-0.5h0m1-4.5h0m4.5 4h0m9.5-5h0m1 3h0m2-1.5h0m1.5 4h0m15.5-2h0m1.5-1.5h0m1-2h0m6.5 3h0m8 0h0m2 2.5h0m2.5-4h0m-334 12.5h0m3-1.5h0m7.5-1h0m2-1.5h0m10.5 2h0m8.5-1.5h0m8-2h0m4-1h0m1 0.5h0m8.5-0.5h0m4.5 3.5h0m6.5-2.5h0m1.5 3.5h0m8.5-1.5h0m0.5-2h0m12 5.5h0m5-1h0m7-1h0m2.5-1h0m4-5h0m4.5 7.5h0m4.5-6.5h0m3 3.5h0m2.5-0.5h0m4.5-1h0m3-0.5h0m9-0.5h0m4 5.5h0m0-0.5h0m2-3h0m9.5 3.5h0m2-5.5h0m0 6h0m4.5-4.5h0m13 3h0m3.5-1.5h0m2-5h0m6 0.5h0m5.5 3h0m6 2.5h0m2.5 1.5h0m4.5-5h0m2 4h0m17.5-2.5h0m3-2.5h0m2.5-1h0m0.5 1.5h0m0.5 1h0m6-1.5h0m9 4.5h0m0.5-2h0m4-3.5h0m2 6h0m11.5-1.5h0m0.5-4.5h0m2.5 5.5h0m2.5-2.5h0m2.5 0h0m3.5-0.5h0m3 5h0m1-4h0m3-3h0m8.5 2h0m4.5 1.5h0m3.5 3h0m1-3h0m2.5 1h0m12.5-4h0m3 5h0m0.5 0.5h0m0.5-1.5h0m3-4.5h0m0 0h0m1.5 3h0m5-3h0m0 2h0m12.5 0h0m16.5 3h0m-365.5 9.5h0m18.5-5.5h0m5-2h0m6 3h0m0.5 2.5h0m0.5-1h0m2 1.5h0m6-1h0m8.5-2h0m5.5-0.5h0m1.5 3h0m0.5 2h0m1.5 0h0m0.5-6h0m8.5 3.5h0m0 2.5h0m0.5-5.5h0m1 5.5h0m13-3.5h0m11 1h0m0.5 2.5h0m0-7h0m1.5 1h0m1-0.5h0m1.5 0.5h0m1 6h0m1.5-4.5h0m1.5 4.5h0m0.5-6h0m6 1h0m4 0h0m13-2h0m3 4.5h0m0.5 0h0m7 1.5h0m1.5-4.5h0m1.5 5h0m2.5-3.5h0m10.5-1.5h0m2 5.5h0m5.5-7h0m5 6h0m0.5 1h0m4 0h0m7 0h0m1-0.5h0m5.5-1h0m1.5-4.5h0m6 0.5h0m0.5-0.5h0m4.5 5.5h0m1.5-6h0m3-0.5h0m12 7h0m0.5-1h0m10.5 1h0m1-2h0m1 1h0m1.5-3h0m5 4h0m9-2.5h0m7.5 2.5h0m1-6.5h0m4.5 0.5h0m0.5 2h0m0 1h0m7 0.5h0m2 2.5h0m3.5-2.5h0m6 1.5h0m21 0h0m5-3.5h0m7 1.5h0m9.5-1.5h0m3 4h0m0-6h0m6 2.5h0m9.5 2h0m10-4.5h0m1.5 2.5h0m0.5 0h0m1-2h0m4.5 0.5h0m9-1.5h0m4 5h0m1.5 0.5h0m6.5-5.5h0m1 7h0m3.5-2.5h0m-373.5 8.5h0m2.5 0h0m1.5 0h0m5 1.5h0m2.5-3.5h0m4 3.5h0m1-2h0m0 2.5h0m1.5-5.5h0m0 4h0m0.5-1h0m2.5 1.5h0m0-6h0m3 4.5h0m14.5 0h0m8-0.5h0m3.5-2.5h0m1.5 1h0m12.5 4.5h0m7-5h0m2 1.5h0m10 2.5h0m3.5 0.5h0m20.5-4h0m4 3h0m5-3h0m13 1h0m1.5 1.5h0m0.5-3h0m0.5 4h0m11-0.5h0m0.5-6h0m4.5 5.5h0m4-2h0m1.5-0.5h0m1.5 4h0m0 1h0m5.5-4.5h0m2.5-1h0m6 5.5h0m0.5-2h0m0.5 0h0m12.5-4h0m2 0h0m1.5 3.5h0m1 1h0m8.5-5h0m0.5 2h0m1.5 4h0m15-6h0m7-0.5h0m4 0.5h0m10 5h0m12.5 1.5h0m4.5-0.5h0m0.5-3h0m3-3.5h0m6 4h0m24-0.5h0m4-3h0m0.5 0.5h0m0.5 3.5h0m2-4.5h0m0 6.5h0m1.5-4h0m1-1h0m2.5 5.5h0m3-4.5h0m17 3.5h0m3.5-2h0m1.5-0.5h0m2-2h0m13 1h0m7 1.5h0m5.5-1h0m2.5-3h0m4 1.5h0m0.5 0h0m3 4h0m1.5-4h0m2.5 5h0m0.5-6h0m0.5 4h0m0.5-5.5h0m3 3h0m3 4h0m-385 1.5h0m32.5 0h0m14.5 6h0m0.5 0h0m14-4h0m4 3.5h0m1-2.5h0m2-1h0m2-1.5h0m3-0.5h0m3-0.5h0m3 4.5h0m3.5-4.5h0m14.5 6h0m0.5-2.5h0m2 1.5h0m2-4.5h0m2 4h0m7.5-3h0m0.5 0.5h0m2 0h0m5 0.5h0m10.5 4h0m24.5-3h0m12-0.5h0m3 0h0m1.5 2h0m14 0.5h0m7.5-1h0m2.5-1h0m18 3h0m2.5 1.5h0m2-4.5h0m4-2h0m11 0.5h0m16.5-1h0m7.5-0.5h0m1.5 2.5h0m5 0.5h0m8.5-3h0m2 1.5h0m10.5 1h0m2 3.5h0m8.5-2h0m7-3h0m2.5 4h0m3-0.5h0m0.5 2h0m2-1.5h0m4.5 1h0m2.5-4.5h0m0.5 5h0m1.5-2h0m1.5-3h0m9.5 2.5h0m5-1h0m23-1h0m15 4h0m1.5 0h0m12.5 0.5h0m3.5-1.5h0m9.5-3.5h0m7 2h0m-414.5 8.5h0m16 0h0m1 2h0m5.5-2h0m1.5 3.5h0m0.5-7.5h0m2.5 4h0m3.5-1h0m6.5 0h0m3 1h0m0.5 2.5h0m1-1.5h0m23.5-0.5h0m1-1h0m4-1.5h0m0.5 1h0m7-3.5h0m2.5 7.5h0m13-1.5h0m6.5 2h0m0.5-4h0m1 1h0m8.5-1h0m16-2.5h0m0.5 4h0m2.5-3.5h0m8.5 1h0m0.5 2h0m0.5-1.5h0m1.5 2h0m4.5-1h0m1-1.5h0m2.5-2h0m2.5 1h0m13.5 3.5h0m3.5 0h0m1.5-1h0m2.5-0.5h0m2-2h0m1.5 0h0m4 1h0m2 3.5h0m2.5-1.5h0m10.5-4.5h0m3 5h0m5.5-2.5h0m11.5 3.5h0m5 0.5h0m0 0h0m0.5 0h0m3.5-2.5h0m5-1.5h0m10.5 2.5h0m19 1h0m4.5-1h0m2-4h0m23 4h0m0 2h0m12-4h0m1.5 1h0m2 3h0m2-5.5h0m1.5 0h0m10-1.5h0m2.5 7.5h0m3.5-5.5h0m18.5-2h0m2 7.5h0m11.5-2h0m3.5 1.5h0m1-5.5h0m9.5 0.5h0m0.5-1.5h0m1 4h0m1.5 0h0m3.5 1.5h0m19-0.5h0m5 1.5h0m7.5-6h0m9 2h0m1-0.5h0m0 2.5h0m1.5 1.5h0m0.5-3.5h0m3.5 0h0m-417.5 6h0m3.5 0h0m7 0h0m0 6h0m15.5-4h0m7 4h0m0-0.5h0m10.5-6.5h0m5 1.5h0m0 4h0m4 0h0m6.5-3.5h0m0 0h0m1 3h0m3-1.5h0m7.5 1.5h0m1.5 2.5h0m3.5-5.5h0m6 1.5h0m6 2.5h0m4.5-4.5h0m3 1.5h0m1.5 3.5h0m24-5.5h0m1 5.5h0m6-6h0m2 3h0m0 2.5h0m4.5 1.5h0m23-4h0m12.5 4h0m1.5-7.5h0m2 5h0m9.5-3.5h0m0 2h0m15 3h0m4.5-7h0m5 5.5h0m18.5 1h0m4.5-6h0m2.5 5.5h0m2-4h0m0.5 3.5h0m0-1.5h0m3-4h0m0 1h0m3.5 0.5h0m0.5 6h0m1.5-1.5h0m0.5 1h0m1.5-1h0m1-6h0m0 6h0m11-5h0m0.5 4h0m1.5-4h0m2 0.5h0m3 6h0m21-2h0m4-2.5h0m3.5-2.5h0m0.5 6.5h0m1-0.5h0m6.5-5.5h0m2 5h0m1.5 0h0m2-1.5h0m6.5-4h0m2 6.5h0m2-5.5h0m7.5 2.5h0m13-0.5h0m1.5 3.5h0m1.5 0h0m0.5-6h0m1 5.5h0m2.5 1h0m7.5-5.5h0m3.5-1.5h0m2 7.5h0m13-4.5h0m8-3.5h0m4.5 6.5h0m0 0h0m1-2.5h0m2 3.5h0m2-1h0m1-5.5h0m7 4.5h0m8-2h0m2-1.5h0m11 4h0m3 1h0m4 0.5h0m0.5-1.5h0m3-0.5h0m-428 10.5h0m2.5-1h0m3-5h0m16.5 1.5h0m1 1.5h0m2.5-2.5h0m3.5 4h0m6.5-2.5h0m2.5 2h0m9.5-3h0m11 4h0m17.5-5h0m18.5 3.5h0m8 1.5h0m5 0.5h0m2-7h0m4 3h0m4 1h0m6.5-1h0m1.5-1.5h0m1 1.5h0m2-1h0m1.5-1h0m2 0h0m4.5 0h0m5 2h0m10.5 0.5h0m3-2.5h0m1.5-1h0m12 0h0m9.5 0h0m6.5 5.5h0m2-1h0m3.5 2h0m2.5-7h0m0 5h0m6-2h0m4-1h0m5.5 2.5h0m8-1.5h0m12-2h0m3 5.5h0m0-4h0m1.5 4.5h0m3-3h0m5-1.5h0m1 0.5h0m8.5 3h0m1-4.5h0m2 0h0m1.5 6h0m1-6.5h0m4.5 3h0m1-1h0m4.5 3.5h0m3-2.5h0m1.5 0h0m1-1h0m0 2.5h0m0.5-3.5h0m1 4h0m1-3.5h0m2 3h0m0.5 0.5h0m7.5-0.5h0m1.5-2h0m1.5 3h0m0.5-2.5h0m1 0.5h0m2-1h0m4.5 0h0m1.5 0.5h0m7.5 0h0m12.5-4h0m12.5 0h0m1.5 6h0m7-1h0m12 0.5h0m3.5 1.5h0m1.5-4h0m3 2.5h0m1-3.5h0m1 4.5h0m14.5-1h0m4-5h0m1 3.5h0m1 4h0m0.5-0.5h0m2-7.5h0m0.5 3h0m0-2.5h0m22 7h0m4.5-5.5h0m6.5 5.5h0m10.5-6h0m5 0h0m3 0h0m3 5.5h0m0-3h0m3 2h0m0.5-4.5h0m0 2h0m-438.5 8h0m1.5 0.5h0m21.5 1h0m0 1h0m0.5 2h0m16-3.5h0m3-0.5h0m9.5-2.5h0m13 3.5h0m14.5-4.5h0m3.5 3.5h0m4-2.5h0m2.5 1h0m7 2h0m1-3h0m5 6h0m6.5-6.5h0m4.5 5.5h0m2.5-4h0m3 0h0m3 4.5h0m0.5-4h0m0.5 1.5h0m1-2h0m3 0.5h0m2 4h0m2.5-3.5h0m5-3h0m11.5 0.5h0m0.5-0.5h0m1.5 7.5h0m2.5-0.5h0m1-2h0m5-5h0m4 1h0m9 3h0m2.5 2h0m0 0h0m5-3h0m3 3h0m1-5.5h0m1.5 3.5h0m0-3.5h0m7.5 5h0m4.5 1.5h0m7.5-3h0m4.5 2h0m1.5-3h0m6-0.5h0m5.5 5h0m11.5-6h0m5.5 4.5h0m5-2.5h0m2.5-2h0m3.5 0h0m0.5 1.5h0m0.5 4h0m1.5-7h0m0.5 5h0m0.5-5.5h0m1 7h0m0-6h0m0 1.5h0m4.5 2.5h0m3-2h0m3-1.5h0m10 5.5h0m0.5-3h0m9-2h0m1.5 4h0m2 0.5h0m6.5 0h0m8.5-5h0m6 3.5h0m18 1.5h0m1.5-5h0m3 1.5h0m0.5 5h0m2.5-3h0m0 2.5h0m11.5-6.5h0m1 6.5h0m2-5h0m2-2h0m1 0.5h0m8.5 4h0m1-2h0m1 1h0m2.5 4h0m1.5-2h0m10-5.5h0m0.5 4.5h0m5.5-4h0m1.5 4.5h0m2.5-3h0m3.5 0.5h0m0 4h0m2.5-4.5h0m1-0.5h0m4.5 5.5h0m2-1.5h0m2.5-5.5h0m1.5 3h0m11.5 2h0m3 1h0m1-2h0m0.5 2h0m1-6h0m1.5 5h0m15-4h0m3 1.5h0m2 3h0m1-4.5h0m1.5 5.5h0m3-6h0m3 0h0m-446 10h0m7-1.5h0m3 0.5h0m9.5 4h0m2.5-5.5h0m3.5 1.5h0m1 0h0m1.5 1.5h0m8 1h0m6 0.5h0m5.5 2.5h0m1.5-5h0m1.5 1h0m0 3.5h0m5-4.5h0m1 1.5h0m13-1h0m2.5 1h0m1.5 0h0m10.5 2.5h0m0.5-1h0m10.5-2.5h0m2.5 1h0m0 1h0m4 3h0m7-3h0m7.5 0h0m12 1h0m4 2h0m3.5-5.5h0m7 1h0m2 4h0m2.5-5h0m1-1.5h0m7.5 7h0m3-2h0m15-4h0m1-1h0m0 6.5h0m1-4.5h0m3.5 0h0m9.5 1.5h0m1 0.5h0m0.5 2h0m9-6.5h0m1 0.5h0m11 6.5h0m5-6h0m10.5 2h0m4 0.5h0m0 0.5h0m1 3h0m5 0h0m4-2.5h0m4.5-1.5h0m0.5-3h0m2.5 1.5h0m4 4h0m1 1.5h0m12.5-3.5h0m2 3.5h0m0.5-3.5h0m0.5 2.5h0m2.5 1.5h0m0.5-7h0m9.5 5h0m2.5-3h0m0.5-0.5h0m2 5h0m0.5-1h0m0.5-6h0m1 7.5h0m0.5-4.5h0m1 2.5h0m5.5 0h0m3 1.5h0m8-4h0m9 2.5h0m4.5-4h0m0.5 3h0m0.5 0h0m1-2.5h0m2.5-1h0m1.5-0.5h0m5.5 3.5h0m1.5-2.5h0m4.5-1h0m9 2.5h0m7-2.5h0m4 0h0m7 1.5h0m2.5-0.5h0m4.5-1.5h0m6 6h0m1.5-2h0m1-0.5h0m7-4h0m3 1.5h0m9.5-1h0m1 2.5h0m10.5 3h0m0.5-1.5h0m9.5-1h0m3 1.5h0m2.5 2h0m1.5-5h0m1 1.5h0m3-3h0m0.5 2.5h0m6 0h0m3 2h0m3-4h0m-468 13.5h0m3-3.5h0m6 2.5h0m1 1.5h0m4-7h0m9 6.5h0m14.5-5.5h0m3 7h0m10-3h0m16 2.5h0m1-2.5h0m1-1h0m2.5-3.5h0m3 1.5h0m13.5 0.5h0m0.5 2h0m1-4h0m1.5 7h0m1.5-1.5h0m7 0.5h0m0.5-1.5h0m10.5-1h0m3 1.5h0m3-0.5h0m4.5-3.5h0m0.5-1h0m1 2h0m1 2h0m4 2h0m11-5h0m9.5 0.5h0m3.5-1.5h0m1 4.5h0m3 0.5h0m0.5 0h0m1 2h0m3.5 0h0m0-5h0m1-1.5h0m2-1h0m1.5 3h0m2 3.5h0m2.5 1.5h0m1-3.5h0m8 0.5h0m4-3h0m3 3h0m4.5 1h0m0-1.5h0m4-1h0m5.5-2h0m1 4.5h0m0.5-4.5h0m1-0.5h0m1.5 5.5h0m10.5-6h0m6 2h0m0 2h0m10.5-2h0m1-1h0m3.5 5h0m0.5-4h0m1 2.5h0m1.5 0.5h0m0.5-1h0m4.5 3h0m2-0.5h0m3-2.5h0m1-3h0m0 0.5h0m1.5 3.5h0m5 0h0m4-1.5h0m0.5-2.5h0m0 0h0m0 4.5h0m3-4h0m5-2h0m4 0h0m2 5h0m2.5 2.5h0m3-1.5h0m8 0.5h0m1-2h0m1.5 2.5h0m1 0h0m0.5-1.5h0m14.5 1h0m1-3.5h0m2 3.5h0m0-5h0m0 4.5h0m5.5-3h0m7 3.5h0m5-5.5h0m8 0h0m13 4.5h0m0.5 1.5h0m2.5 1h0m4-6h0m2.5 1h0m8.5-2.5h0m5 5h0m4-2.5h0m0 1h0m2-3.5h0m4 3.5h0m1.5 0h0m0.5 0.5h0m2-0.5h0m0.5-2h0m7.5-0.5h0m3.5 5.5h0m3.5-4.5h0m1-2h0m2 0.5h0m2.5-0.5h0m4 3.5h0m0.5 2.5h0m2.5-0.5h0m2.5-2.5h0m2 3.5h0m6 0h0m0.5-1h0m1.5-2h0m3.5-2.5h0m2.5 1.5h0m2-1h0m1-1h0m3.5 1h0m3 4.5h0m5-6.5h0m4.5 6h0m3.5-1.5h0m0.5 0.5h0m4-1h0m2 1.5h0m3.5 0.5h0m4-0.5h0m7 2.5h0m2-3.5h0m3.5-4.5h0m0.5 7h0m-473 1h0m3 5.5h0m2-5.5h0m1 7.5h0m1 0h0m3-3h0m0.5 2h0m0 1.5h0m0.5-6.5h0m1 2.5h0m0.5 1.5h0m3.5-1.5h0m5 0h0m0.5-2.5h0m7-1h0m1 1.5h0m2 5h0m0.5-0.5h0m3-3.5h0m1.5-1.5h0m0.5 2h0m3.5 2h0m6-0.5h0m0.5 0h0m9 1h0m2-4h0m3 4h0m1-2.5h0m2-2.5h0m3.5 6h0m14.5-1h0m3-3h0m3.5 4h0m3.5-0.5h0m2.5-4h0m0-1h0m7 4.5h0m5 0h0m7.5 2h0m9-6.5h0m9 6h0m4-1.5h0m2.5-0.5h0m7-2h0m6.5 4h0m0.5-3h0m1-3h0m0.5 1h0m2.5 4h0m0.5-6h0m4 0h0m6.5 4.5h0m1-1h0m2 0h0m3.5 2.5h0m0-3.5h0m1.5-0.5h0m4.5-1.5h0m6.5 1h0m1.5 1h0m3.5-0.5h0m6 0.5h0m0.5 1h0m5 2.5h0m7-4.5h0m2 0.5h0m4-1h0m8 4.5h0m1 0h0m12.5-5.5h0m14.5 2h0m1 3h0m0.5-1.5h0m3 2h0m14.5-3.5h0m4.5 0.5h0m4.5-2.5h0m5 5h0m3.5 2h0m1-2h0m1.5 1.5h0m3.5-0.5h0m4.5-4.5h0m1 4h0m22.5-1.5h0m6 1h0m0-4.5h0m9.5 5h0m2-0.5h0m3-4h0m6.5 6.5h0m1-8h0m5 3h0m0.5 1h0m6.5-1.5h0m0.5 1.5h0m0.5-2.5h0m2 3h0m2 3.5h0m13-1.5h0m2-0.5h0m4-2h0m6 1.5h0m0 0h0m3 0.5h0m0.5-3h0m4 1.5h0m2-0.5h0m2 1h0m0-3h0m0.5 3h0m3.5-3h0m29.5-1h0m1 5h0m0.5-0.5h0m2.5-2h0m1.5 3h0m10.5-5h0m1.5 4h0m4-5.5h0m5 7h0m5-1.5h0m0.5-3h0m1.5 0h0m10.5 0.5h0m2 1h0m0.5 1h0m3.5-1h0m0.5-1h0m0.5-1h0m11.5 3.5h0m1.5 0h0m-502 8h0m3.5-4.5h0m1 3h0m4-3h0m3 0h0m5 2h0m5.5 0.5h0m3 0h0m0 2.5h0m1 0.5h0m1-4.5h0m3.5 0h0m3.5 5.5h0m3 0h0m2-5h0m12.5 2h0m4.5 2h0m1-5.5h0m11 3.5h0m0 2h0m5 1h0m20.5-7h0m9.5 2h0m2 4h0m7-4h0m3.5-0.5h0m1 0h0m5 0.5h0m12.5 2h0m2 2h0m6.5-2.5h0m6 1.5h0m3-4.5h0m5.5 7h0m10-6.5h0m2 5h0m6-1.5h0m1.5 0h0m3 0h0m1-1.5h0m0 3.5h0m4-5h0m0.5-1.5h0m2 7h0m6-5h0m5 2.5h0m4.5 3h0m0-0.5h0m2.5-5h0m15-0.5h0m2 0h0m0.5 5h0m2-3.5h0m7-2.5h0m15 0.5h0m2.5 4h0m2 1.5h0m12.5-5.5h0m3.5 4.5h0m7.5-1.5h0m2-0.5h0m4 2h0m0 2h0m2-2.5h0m3.5 1h0m6.5-6h0m2.5 1.5h0m0.5-0.5h0m3 2h0m5 1h0m3.5 3h0m15-4h0m0.5 3.5h0m1.5-1.5h0m0.5 0h0m1.5 2.5h0m1.5-7.5h0m2 0.5h0m1 4h0m14.5-0.5h0m15-1h0m5-1.5h0m10.5-1.5h0m9.5 0h0m0.5 6.5h0m1.5-3h0m1 2h0m3-2.5h0m1-2.5h0m0.5 4h0m4-4.5h0m0.5 3h0m1.5 2h0m3 0h0m3.5 2h0m0.5-6.5h0m1-1h0m0 6h0m2.5-1h0m2.5 3h0m13.5-0.5h0m4.5-4h0m4 1.5h0m4-3.5h0m4.5 3h0m0.5-3h0m2.5 5.5h0m4.5-6.5h0m3.5 2h0m1.5-2h0m4.5 6h0m15-4h0m3.5 3.5h0m-482 2.5h0m1 3h0m6-1.5h0m0.5 2h0m1 3h0m1-6h0m0 2.5h0m0 1h0m2 2h0m4 1h0m0-0.5h0m3-3.5h0m4-2.5h0m7.5 6.5h0m0.5-3.5h0m7 1h0m0.5-2h0m6.5 0.5h0m2.5 1.5h0m8.5 1.5h0m5.5 0h0m2.5 0h0m1.5-0.5h0m8 1h0m12.5-2h0m1.5 0h0m1-3h0m1.5-1.5h0m1.5 0h0m5.5 7.5h0m2-5h0m3.5 3.5h0m4-0.5h0m3.5 2h0m3.5-2h0m2.5 1h0m1 1h0m3.5-6.5h0m1.5 5h0m1.5 1.5h0m0-1h0m0.5-3.5h0m2.5 2.5h0m2.5-4h0m3.5-1h0m9.5 0.5h0m10.5 6h0m7-4h0m0.5 3h0m2.5-4h0m0.5 4h0m1.5 0.5h0m6-5h0m1-0.5h0m1.5-0.5h0m0 5h0m7-6h0m5 6h0m0.5-1.5h0m0 1.5h0m2.5-1h0m3.5-4h0m8.5 2h0m4.5-1.5h0m1.5 2.5h0m3 1h0m1-1.5h0m4.5 4h0m3-4h0m1 1.5h0m2 3h0m4-2h0m1-5h0m1.5-0.5h0m3.5 0h0m1.5 1.5h0m4.5 0.5h0m9 1h0m5-3h0m0 3h0m4.5 2h0m8.5 2.5h0m1-4.5h0m3-2.5h0m0.5 3.5h0m2 3.5h0m12.5-0.5h0m0-0.5h0m2-5h0m4.5 3h0m3 1.5h0m17 1h0m3-1h0m3.5-0.5h0m6.5-2.5h0m0.5-1.5h0m2.5 0h0m4.5 4.5h0m10.5-5.5h0m5 0h0m6.5 0.5h0m1.5 1.5h0m3.5 3h0m3.5 0h0m2 2h0m1.5-4h0m10-3h0m3 6.5h0m1-5h0m0.5-1.5h0m8.5 3h0m0.5 2h0m13.5-2h0m1-1.5h0m1-2h0m12.5 2.5h0m0.5 0.5h0m2-3h0m6.5 6.5h0m7.5-1h0m4-4h0m0.5 0.5h0m2.5 1h0m2 2h0m4 1.5h0m3-7h0m1 5.5h0m1 2h0m7-6h0m2 3h0m2.5-2.5h0m19 1.5h0m1-2h0m-474 12.5h0m14-2h0m4.5-4h0m7.5 3.5h0m2.5 4.5h0m7.5-2.5h0m7-3h0m5-1h0m2.5 2h0m6.5 1.5h0m1.5-2.5h0m2.5 4.5h0m6.5-1h0m7.5 1.5h0m12.5-7.5h0m0 5.5h0m11-3h0m0.5 1h0m3.5 2h0m0 0.5h0m0.5 0.5h0m1-6h0m3.5 7h0m0.5-4h0m0.5 2h0m1-2.5h0m0 0h0m5 5h0m0.5-5h0m4.5 3h0m0.5-6h0m0 7h0m2-1.5h0m1-3.5h0m4 0.5h0m1 4h0m2-0.5h0m1-2h0m7 2.5h0m9.5 1h0m7-4h0m1-0.5h0m5.5 0.5h0m2 3h0m35 1.5h0m1-6.5h0m0.5 3.5h0m2 0h0m0-4.5h0m2 6h0m7-4h0m0 0h0m4.5-1.5h0m1.5-0.5h0m0.5 3.5h0m4.5-1.5h0m2.5 1h0m1.5-3h0m0 2.5h0m1 4h0m2.5-0.5h0m1-0.5h0m3.5-4h0m5 3h0m3.5-1h0m1.5 0h0m5.5-2h0m1 2h0m5.5 3h0m1-6h0m0.5 3.5h0m1 3h0m2.5-5h0m1.5 3h0m4-4h0m9.5 2h0m21 1h0m4-3.5h0m5.5-1h0m0.5 2.5h0m1 2.5h0m1.5 0.5h0m2.5 0h0m2-4h0m1.5 1h0m6 0h0m3 3h0m3 0h0m1 0.5h0m0 0h0m2 2h0m4.5-4h0m3 0h0m1-3h0m5 3h0m11.5 0.5h0m2.5-0.5h0m4 3h0m4-4.5h0m3.5-1h0m2 0.5h0m6.5-1h0m6-0.5h0m9.5 7h0m3 0.5h0m4-7h0m0.5 3h0m0-0.5h0m0.5 4h0m1.5-6h0m9-0.5h0m1.5 0.5h0m29 4h0m-439.5 8h0m0.5 1h0m2-0.5h0m1 1.5h0m2 0h0m1.5-7h0m5 1h0m2-0.5h0m9 3h0m0.5-2h0m3.5 1.5h0m0.5-1.5h0m0.5 4.5h0m4.5-5h0m11 0.5h0m3.5 4.5h0m5 1.5h0m0-5.5h0m2-0.5h0m1 2.5h0m6 2.5h0m0-2.5h0m3.5 3h0m4.5-2h0m3-3.5h0m3 5.5h0m3-3.5h0m4.5-4h0m0 6h0m3.5-3.5h0m8.5-1.5h0m5 5.5h0m7-5.5h0m6 7h0m9.5-2.5h0m10-2h0m1 3.5h0m15-4h0m0.5 4h0m1-4h0m5-0.5h0m3.5-2.5h0m0 2h0m2.5 4h0m3.5-3h0m6.5 2.5h0m3.5-0.5h0m5-1h0m7.5 3.5h0m7-4h0m4 4h0m1-3h0m2.5-2h0m13-0.5h0m2 3.5h0m0.5-2.5h0m1 2.5h0m3.5 0h0m1.5 2.5h0m7.5-1h0m3.5-6h0m1 0.5h0m6-1.5h0m12.5 0.5h0m3-0.5h0m2.5 2.5h0m4 2.5h0m6.5 1h0m2.5 2h0m1.5 0h0m12.5-0.5h0m8-3.5h0m28.5-4h0m2.5 0h0m3 0.5h0m4.5 7.5h0m10.5-0.5h0m4-1.5h0m4.5 0.5h0m0-2.5h0m3-0.5h0m7.5-3h0m5.5 2h0m1.5 1h0m24.5 0.5h0m1-2h0m26.5-0.5h0m-424.5 12h0m2-5h0m13.5 5h0m1.5 1h0m3-2h0m2-2.5h0m9 5.5h0m2 0.5h0m0-2.5h0m15 0h0m2-1.5h0m1-1h0m2 4h0m1 0.5h0m2-5.5h0m5 2.5h0m9.5-3.5h0m7 2.5h0m5.5 0h0m0.5 0.5h0m0 2.5h0m1.5 0.5h0m3.5-3h0m7-2.5h0m10 3.5h0m0-3.5h0m2 2h0m1-1.5h0m7 4.5h0m1 0.5h0m0.5-2.5h0m6.5 1h0m3.5 1h0m2 0h0m2.5-4h0m4 5h0m3.5-2.5h0m2 1.5h0m3-3h0m0.5 4h0m1.5-3.5h0m1-2h0m2-1.5h0m5.5 6h0m8-6h0m0.5 3.5h0m0.5 1.5h0m9.5-4.5h0m0.5 5h0m6.5-4h0m1 2h0m4 2.5h0m1.5-2.5h0m0.5 1h0m1.5 1h0m0.5-0.5h0m3.5 1h0m1-4.5h0m2 6h0m1-2h0m9-0.5h0m0.5-1.5h0m1 1h0m5-4h0m0 0.5h0m0.5 3.5h0m0 3h0m0.5-5h0m4.5-2.5h0m1.5 4.5h0m8-4.5h0m0.5 6.5h0m1-5h0m7-1.5h0m2.5 1.5h0m4.5-1h0m1 3.5h0m0-1h0m1 4h0m2.5-6.5h0m1 0.5h0m4.5-0.5h0m4.5 5h0m0 0h0m2.5-6h0m0 4.5h0m11-1h0m2.5 2.5h0m23.5-2h0m13 2.5h0m9-1h0m6-4h0m0.5-1h0m2.5 4.5h0m1-4h0m5-0.5h0m2 5.5h0m1 1.5h0m6-5h0m6 1h0m2.5 1h0m1-0.5h0m4.5 1.5h0m1 0h0m2-4h0m5.5 5.5h0m4-6.5h0m0.5 4h0m4 3.5h0m14.5-4.5h0m3 0h0m0.5-0.5h0m2 2.5h0m1.5-4h0m-387 8h0m2 6.5h0m3-6.5h0m2 3h0m2.5-3.5h0m2.5 3.5h0m2.5 0h0m3.5 2h0m1.5-2h0m10 0h0m5 1.5h0m2-5h0m0.5 2.5h0m0-0.5h0m1 4h0m2.5-0.5h0m1.5-2h0m1 1h0m1-2h0m8 0h0m25 3h0m5-6.5h0m2.5 4h0m5.5 2h0m0-1h0m5 2h0m1 0h0m2-1h0m3.5-2.5h0m3.5-1h0m3 4.5h0m4.5-5.5h0m3 4.5h0m3.5-4h0m2 2h0m4 0.5h0m0 0h0m1.5 0.5h0m5-4.5h0m4 5h0m2-3.5h0m5 5h0m0 0h0m5.5-1h0m2.5-2.5h0m1.5 2h0m5-0.5h0m0 2.5h0m1.5-7h0m0.5 4h0m1 1.5h0m1 0.5h0m8.5-2h0m2 2h0m7.5-2.5h0m1-4h0m1 1h0m9 1h0m1 5h0m0-4.5h0m0-2h0m0.5 7h0m7-2.5h0m2.5-1.5h0m1-0.5h0m5.5 4h0m2.5-0.5h0m2.5-2.5h0m2.5-2.5h0m6.5 5h0m0.5-4.5h0m4-1.5h0m1.5 7h0m2-1h0m8-2h0m3.5 3h0m0.5-7h0m1 6h0m6.5 1h0m0-6.5h0m4.5 2.5h0m9-2.5h0m10 0.5h0m0 1.5h0m9 4.5h0m3-2h0m8-1h0m5.5 2h0m4.5 0h0m2.5-2.5h0m0.5 1h0m3.5 2.5h0m3.5-5h0m0.5 1h0m9.5 0.5h0m0.5 3h0m4-6.5h0m4 2h0m0 2.5h0m1.5-2h0m4.5-1.5h0m1.5 5.5h0m13 0h0m3-4h0m1-2h0m1 2h0m1-1h0m3.5-1h0m2-0.5h0m1.5 5h0m0-3h0m2.5-1.5h0m6.5-0.5h0m379 7h0m-751 0.5h0m1.5 5h0m1-4.5h0m7.5 5.5h0m4.5 0h0m3-1.5h0m0 3h0m1.5-4.5h0m0 3h0m1-2h0m0 0h0m10 2h0m5-4h0m0.5 3h0m8 1h0m1.5-6h0m1 4h0m2 0.5h0m2-3.5h0m1.5 3h0m11-3.5h0m2 4.5h0m3.5-3.5h0m6.5 3.5h0m7 1h0m0-1.5h0m8-1h0m0.5 2.5h0m3 1.5h0m1-6.5h0m1 4h0m4.5-1.5h0m16 3.5h0m7.5-3h0m3 3.5h0m8-6.5h0m0.5-1h0m5.5 5.5h0m9.5 0h0m13.5 1.5h0m0-2h0m0-1h0m1.5 0h0m0 0.5h0m1.5 2h0m6.5-6h0m7 3h0m1 3.5h0m2 0h0m2.5 0.5h0m3-4h0m4.5 3.5h0m1.5-1h0m0.5-2.5h0m4 2.5h0m1-0.5h0m1.5-1h0m6.5 1.5h0m3-4.5h0m5 6.5h0m0.5-3h0m2-4.5h0m1 6h0m0.5-3.5h0m1.5 3.5h0m1.5-6.5h0m0 0.5h0m4 2.5h0m0.5 4.5h0m1.5-7h0m0 5h0m0.5-2.5h0m2 2h0m5.5 0.5h0m3.5-4.5h0m6.5 6h0m5.5-1h0m5 2h0m1.5-7.5h0m7.5 1.5h0m2 2.5h0m0 3h0m22-0.5h0m1.5 0.5h0m1-3h0m1 3h0m0.5-5h0m2.5-1.5h0m4.5 5.5h0m2-2.5h0m1 0.5h0m8.5-3h0m4.5 5h0m10-4h0m1.5 0.5h0m0-2h0m0.5-0.5h0m1.5 1h0m6-0.5h0m1.5 3.5h0m0 0h0m0.5-0.5h0m0 4h0m4-4h0m3.5 0.5h0m0.5-1.5h0m4.5 2.5h0m8 2.5h0m1-2.5h0m2-3.5h0m7 5h0m1-1.5h0m0-4.5h0m1 0.5h0m2 4h0m0.5-5h0m1 4.5h0m6 0.5h0m0.5 0h0m9.5-4h0m5.5 4h0m262 0h0m14.5 2h0m11.5-1h0m48.5 0.5h0m12-4.5h0m17-2h0m9 6h0m-771 6h0m3.5-2h0m0.5 3h0m8-3h0m0.5-1h0m2.5 1.5h0m4.5 0h0m6.5 0h0m2.5 4.5h0m0.5-2h0m3.5-1h0m1-2.5h0m1.5-0.5h0m1.5 0.5h0m0.5-1.5h0m0.5 6h0m3-0.5h0m3.5-1.5h0m0.5-4h0m2 4h0m0.5-3h0m6-0.5h0m4 1.5h0m0 2.5h0m9-2.5h0m4 5h0m1.5-2h0m4 2h0m3.5-0.5h0m4-4h0m0-1h0m0.5 5h0m0 0h0m0.5-6.5h0m3 4.5h0m15 2h0m1-1h0m5-1h0m0 1.5h0m3-2.5h0m1-3.5h0m0 6h0m2-3h0m0-1h0m6.5 3.5h0m0.5-2.5h0m1 2h0m8.5 0.5h0m5-4h0m3 3.5h0m3.5 0h0m1 0.5h0m3-2.5h0m6-3.5h0m1.5 4.5h0m7-1.5h0m4 0.5h0m4 3h0m8-5.5h0m0 5h0m8-3h0m3-2.5h0m1.5 1h0m4 2h0m1.5 4h0m9.5-7h0m4.5 0.5h0m2 0.5h0m3-1h0m0.5 7.5h0m1.5-0.5h0m5.5-4.5h0m3.5 3.5h0m6-6.5h0m3.5 4.5h0m2 3.5h0m2.5-2.5h0m0-4h0m2-0.5h0m5 1.5h0m1 1h0m4 4.5h0m1-4.5h0m0.5 2.5h0m2-5h0m2 5h0m0.5-3.5h0m1 0h0m2 1h0m5 2.5h0m4.5-3.5h0m8.5 3h0m5-2h0m0-3.5h0m2 3h0m6 0h0m5.5 4h0m1.5-1h0m2.5-6h0m1.5 7h0m5-2h0m6-0.5h0m2.5 1h0m3-1.5h0m6-3.5h0m0 2h0m4.5 3.5h0m0.5-5h0m1.5 5.5h0m2.5-6h0m0 2.5h0m4 4.5h0m5.5-6.5h0m1.5-0.5h0m0.5 1h0m0.5 6h0m0-4h0m1.5-2h0m2.5 2h0m1.5-0.5h0m0.5 4h0m4-3.5h0m5 2.5h0m7-0.5h0m0.5-3.5h0m0.5-1h0m2.5 6h0m6-5.5h0m333 0.5h0m15 3.5h0m56 0h0m-777.5 6.5h0m8 2h0m6.5-0.5h0m6-3h0m0-1.5h0m2 0h0m7 0h0m3-0.5h0m0 6.5h0m5-1h0m0.5 1h0m1-1h0m6.5 0h0m0.5 1h0m9.5 1h0m0.5-3.5h0m0.5-4h0m15.5 2.5h0m2.5 1.5h0m0 0.5h0m5-2.5h0m1 0.5h0m0.5 0h0m1 1.5h0m3.5 1.5h0m1-2.5h0m0 4.5h0m6-5.5h0m1 4.5h0m0.5-2h0m9-3.5h0m1-1.5h0m6 3.5h0m0.5 3.5h0m10-5h0m10.5 3h0m3.5 0.5h0m0.5 1h0m0-6.5h0m0.5 4h0m1 3h0m1-1h0m20-2.5h0m1.5 0h0m2 3.5h0m1.5-1h0m1-2.5h0m1-1h0m2.5 2h0m1-4h0m18 3.5h0m5.5 2.5h0m4.5 0.5h0m0.5-2h0m1.5 0.5h0m0.5 0.5h0m4.5-3h0m1 4.5h0m0-7h0m5.5 6.5h0m0.5-0.5h0m2 1h0m3.5-1h0m4-5.5h0m0 0.5h0m0.5 3h0m1-3h0m6.5 1.5h0m1 1.5h0m4 1.5h0m22 1h0m4.5-0.5h0m2-5.5h0m0.5 6h0m1.5-1h0m4-1h0m3 1h0m0.5 0.5h0m8.5-1h0m3.5 0h0m1.5 1.5h0m3-3h0m6 1h0m7.5-2.5h0m2 5h0m2.5-4h0m0.5 0h0m0 4h0m0-1h0m7.5 0.5h0m5.5-5.5h0m3 3h0m1-3h0m1.5 6h0m0.5-5h0m0.5 2h0m5-0.5h0m1.5-4h0m2.5 7h0m2.5-5.5h0m5 1h0m1.5 4.5h0m2-7h0m2.5 4h0m1 3h0m6 1h0m7-7h0m1-0.5h0m1 0h0m11.5 4.5h0m284.5 2h0m4.5-1.5h0m13.5-5.5h0m3.5 6h0m33.5-1h0m70.5 0h0m-768 6.5h0m4-1h0m2-0.5h0m7 5.5h0m6.5-4.5h0m1 2.5h0m8.5-4h0m0 0.5h0m1 2h0m6 3h0m1.5-5.5h0m0.5 3h0m0.5-2.5h0m5.5-1h0m2.5 6.5h0m3-2.5h0m2 2h0m2.5-6h0m0.5 5h0m0-0.5h0m2.5-3.5h0m0.5 3h0m0-1h0m0.5-3.5h0m1 1.5h0m3 2h0m1.5 3.5h0m1.5 0h0m4-3h0m2.5 2.5h0m2 0.5h0m8.5 0h0m7 0.5h0m6.5-5.5h0m7.5 4h0m0.5-2h0m0.5 0.5h0m1-3.5h0m0.5-0.5h0m2.5 0h0m2 5h0m3-5h0m0.5 4h0m2.5 1h0m5.5-1.5h0m1-3h0m1 5h0m3 1h0m1-4h0m2.5-0.5h0m6 0.5h0m1-2.5h0m4 6h0m1-2h0m5.5-0.5h0m1-1.5h0m7.5 2h0m2.5-2h0m3.5-1.5h0m3.5-1.5h0m6.5 1.5h0m3.5 3h0m0.5 0.5h0m2-1h0m3-2h0m1 4h0m0-5h0m0.5 2h0m1.5-2h0m7.5-0.5h0m1 5.5h0m2.5-3.5h0m7.5 2h0m1-3.5h0m0.5 0.5h0m3.5 6h0m8-6.5h0m6 1h0m1 5.5h0m3.5-2h0m0.5-2h0m2 0h0m1.5 2h0m1-4h0m4 0.5h0m3 4h0m2.5 1h0m1.5 0h0m2.5-5h0m1 4h0m1.5-1h0m0.5 1.5h0m1-5h0m6 6h0m1-1.5h0m4 0.5h0m3.5-5h0m4 5.5h0m0.5 1h0m3.5 0h0m1.5-8h0m1.5 5h0m0.5-2h0m10.5 0h0m2.5-2h0m2.5 4h0m1-0.5h0m4.5 0h0m2-3h0m1.5 1.5h0m0.5-2h0m3 1.5h0m0-0.5h0m0 2h0m11.5 1.5h0m4.5 0.5h0m8.5 0h0m2.5-3.5h0m0 3.5h0m5-0.5h0m2-1.5h0m0.5-1.5h0m3.5 1.5h0m0 2h0m0.5-1.5h0m6 2.5h0m0.5-6h0m0 5h0m0.5 0h0m2.5-4.5h0m4 5h0m326-2h0m4.5 1h0m21.5-4.5h0m2.5 4.5h0m25.5-1h0m7.5 0h0m27 0h0m-755.5 5h0m1 4.5h0m4.5-3.5h0m1 2.5h0m6 1.5h0m2.5-2.5h0m0 2h0m4.5 1.5h0m0.5-4.5h0m2.5-2.5h0m0.5 1h0m1 0.5h0m2.5 4h0m5 0.5h0m3-1.5h0m1 0h0m0-0.5h0m1 2.5h0m3.5-6.5h0m0.5 2.5h0m3.5 0h0m0.5 4.5h0m9-4h0m3-2.5h0m2.5 3.5h0m1-0.5h0m3.5 1.5h0m0-0.5h0m6 0h0m1.5-4.5h0m2 5.5h0m0.5-3.5h0m0-2h0m0.5 6.5h0m0.5-4h0m1 3.5h0m3.5-3h0m3.5 1.5h0m3 1.5h0m12-5h0m14 4h0m3.5-1h0m0.5 2.5h0m6-2h0m3 0h0m10-2.5h0m0 0h0m3 4h0m10 1h0m3-1h0m2-2.5h0m1 3h0m0-5h0m1.5 4.5h0m2-0.5h0m11-6h0m1.5 0.5h0m1.5 6h0m5-2.5h0m2-2.5h0m2.5 1h0m4.5 4h0m6.5-3h0m0 1h0m2.5-2.5h0m4.5 5.5h0m10.5-7.5h0m0.5 5h0m4.5 2h0m1.5 0h0m5-2h0m3.5 2.5h0m3.5-2.5h0m2 3h0m2.5-5.5h0m3.5-2.5h0m1 7.5h0m1.5-2h0m0-0.5h0m1.5 1h0m2-3h0m0.5 1h0m3.5 1h0m0.5 1h0m9.5-2.5h0m2-3h0m1.5 6h0m5.5-5.5h0m2-1h0m3.5 3h0m0.5-1h0m6.5 4.5h0m0.5 0h0m7.5-1h0m6.5-0.5h0m1.5 1.5h0m0-4.5h0m4 0.5h0m2 5h0m6-2h0m0.5 0.5h0m5.5-0.5h0m0-2.5h0m1 4.5h0m4.5-5.5h0m4.5-1.5h0m1 6.5h0m2-3.5h0m3.5 1.5h0m1-4h0m3 3.5h0m3-3h0m2-0.5h0m1 7h0m6-5.5h0m1.5 4.5h0m315-5h0m30-1.5h0m33.5 2h0m13.5 5.5h0m10-5h0m5.5 4h0m3-1h0m-756 5h0m4.5 3.5h0m2.5-4.5h0m9 2.5h0m0.5-3h0m5 0h0m9.5 4.5h0m3 0.5h0m1-6.5h0m4 7.5h0m2-4h0m2 1h0m2.5 3h0m0.5-4h0m5.5-1.5h0m5.5 2h0m0 1h0m3.5-4.5h0m2 6h0m2-5h0m5.5 5.5h0m2-2h0m1.5-1h0m1.5 0.5h0m2 0.5h0m10 1.5h0m3-1.5h0m0.5 1.5h0m1-3.5h0m9 0h0m1 3.5h0m4-1.5h0m0.5-2.5h0m2-1h0m1.5-1.5h0m0.5 1.5h0m0 3h0m2.5 1h0m2.5 1.5h0m0.5-2h0m2-2.5h0m0.5 2.5h0m0.5-5h0m0 6.5h0m2.5-4.5h0m2.5 3.5h0m2.5-5.5h0m5 0.5h0m2 1.5h0m0.5 5h0m0.5-2h0m6.5-0.5h0m2.5-4h0m1.5 4h0m1-2.5h0m6 3h0m9.5 0.5h0m1-2.5h0m1.5-2h0m7.5 0h0m7.5 1.5h0m4.5 0.5h0m0.5 0h0m2 1h0m1-4h0m2.5 3h0m2.5-2.5h0m4.5 3.5h0m2 2h0m3.5 0h0m3-1.5h0m1.5-4h0m2 4h0m0.5-2.5h0m2-0.5h0m6.5 1h0m9.5 2.5h0m2.5-2h0m5.5 0.5h0m2.5 3.5h0m5 0.5h0m1-5h0m3-0.5h0m4.5-0.5h0m1.5 3h0m5.5-1.5h0m7-2.5h0m1.5 2h0m2.5-0.5h0m2 5.5h0m3-1.5h0m3 1.5h0m3-4.5h0m3.5-0.5h0m0.5 2h0m0.5-1.5h0m2.5 2.5h0m1-3h0m1 2h0m1 0.5h0m1.5-1.5h0m6 0.5h0m6 2.5h0m2 0h0m5.5-3.5h0m2-1.5h0m4 4h0m3-1.5h0m3.5-4h0m2.5 0.5h0m0.5 5.5h0m2-2.5h0m0.5 2h0m0 0h0m1 0.5h0m4.5-4.5h0m2-0.5h0m2-0.5h0m5 4.5h0m-331.5 4h0m13.5 6h0m1.5-6.5h0m6 5.5h0m1-1h0m0.5-0.5h0m6-2h0m8.5 2.5h0m5-3.5h0m5 2h0m1 1h0m1 3h0m6-6.5h0m0.5 4.5h0m3.5-2.5h0m0.5 4h0m0.5-2h0m2.5-0.5h0m5.5-2.5h0m7 3h0m1.5-3.5h0m0.5 2.5h0m4 0.5h0m1.5-2.5h0m5.5 3.5h0m1.5 1.5h0m1.5-1h0m4.5-2.5h0m1.5 0h0m5.5 0h0m3-0.5h0m3 0h0m1.5 4h0m0.5-1h0m0-4h0m5.5-0.5h0m3.5 5h0m0-3h0m13-3h0m3.5 7h0m6.5-7h0m3.5 4h0m8.5 3h0m2.5-5.5h0m1 0.5h0m0 2.5h0m0.5-1h0m3.5 2h0m9.5-4h0m0.5 2h0m1.5 3.5h0m2.5-0.5h0m3-6.5h0m6 2h0m1-1.5h0m1 4h0m9.5-3.5h0m0.5-0.5h0m20 5.5h0m0.5-1.5h0m2 2.5h0m0.5-0.5h0m2-4.5h0m7.5 3.5h0m4-2h0m5.5 2h0m1-5.5h0m10.5 3.5h0m0.5-1h0m19 4.5h0m0.5-7h0m11.5 1.5h0m1 4.5h0m0 0.5h0m1-2.5h0m1.5-1h0m3 3h0m2-1h0m2-3h0m0-1.5h0m0.5 5h0m0.5 1h0m4 0h0m0-4h0m4 4.5h0m0.5-3.5h0m4.5-1h0m9.5-1h0m3 1.5h0m357.5 2.5h0m5.5 1.5h0m-666 1.5h0m11 1h0m1.5-0.5h0m7 1.5h0m0-2.5h0m4 5h0m0.5-5h0m14.5 5.5h0m0-2h0m2-1h0m0 3h0m8.5-5h0m7 0.5h0m7 2.5h0m8.5-2h0m1.5 3h0m0.5 1h0m0-2.5h0m1 0h0m0 4h0m2.5-7h0m0.5 7h0m2-6.5h0m1 2h0m2.5-2h0m0 3.5h0m2-3.5h0m1.5 2h0m0.5 3h0m7.5-5h0m0.5 3h0m2.5-2h0m12 1h0m6-1h0m0.5 2h0m1-2h0m2 6h0m2 0h0m1-1h0m0 0h0m3 0.5h0m0.5-3.5h0m10 4h0m1-2h0m2-4h0m14-1h0m4 6.5h0m7.5 0h0m1-4h0m2 1.5h0m0.5 0.5h0m6.5-5h0m8 3h0m7.5-3.5h0m0 3.5h0m0-3h0m1 7.5h0m5.5-3.5h0m4 1.5h0m7-6h0m1.5 6h0m2-2h0m2.5 1.5h0m4.5-4.5h0m3 2.5h0m0.5 2h0m3-4h0m5.5 2h0m1 0h0m4.5-2h0m20.5 4h0m10-0.5h0m0 0.5h0m1.5-2.5h0m3.5-1h0m0-2h0m2.5 0h0m3 4h0m3 3h0m0.5-3.5h0m1.5-2h0m1-1h0m2 4h0m2.5 2h0m0.5 1h0m0-1h0m1-5.5h0m0.5 4.5h0m0.5-4.5h0m0 4h0m2-2.5h0m1 4h0m1 0.5h0m1.5 0.5h0m0.5 0h0m1-3h0m2.5 3.5h0m0-1h0m0.5-2h0m1-4h0m1 1h0m1.5-0.5h0m5 0.5h0m423-1.5h0m-720.5 9.5h0m5 0.5h0m17.5 1.5h0m1-0.5h0m0.5 2.5h0m0.5-3.5h0m0.5-1h0m0.5 5.5h0m2.5 0.5h0m2-2h0m0 2h0m6-7.5h0m9 1.5h0m2.5 6.5h0m0.5-4h0m14-3.5h0m1 3.5h0m4 1.5h0m1.5-5h0m3.5 4h0m8 2h0m5.5-3h0m0.5 4.5h0m5.5-6h0m2 2h0m1 2.5h0m7-1h0m2-1.5h0m1 2h0m0.5-5h0m2.5 2h0m2 2.5h0m1.5-2.5h0m0-0.5h0m8 4h0m2-5h0m4.5-0.5h0m4.5 0.5h0m1.5 3.5h0m1.5 0.5h0m0.5-4.5h0m2.5 4.5h0m1-4h0m4.5 0.5h0m10.5 4h0m4-1.5h0m5 2.5h0m2-6.5h0m5 3.5h0m2.5 1.5h0m3.5-2.5h0m4-2.5h0m3.5 3.5h0m6 3h0m0-5h0m2-1.5h0m0.5 6h0m4.5-5h0m3.5 2h0m2.5 2h0m1 0h0m0.5-5h0m0 5.5h0m4.5 1h0m2-2h0m7-2h0m2 3h0m4.5 1h0m16-3h0m1.5 4h0m4-7h0m8-0.5h0m1 4h0m5-4h0m3 1.5h0m0.5 2h0m1.5 3h0m4.5-1h0m0-0.5h0m4 1h0m3-3.5h0m4.5 4.5h0m10.5 0.5h0m1-3h0m0.5-4h0m3-0.5h0m372.5-0.5h0m7.5 5.5h0m4 0h0m7.5-3.5h0m5.5 2h0m27-4h0m-726 11h0m21-0.5h0m0 0h0m0 5.5h0m2.5-7.5h0m3.5 2h0m2.5 1.5h0m1-2h0m0-1.5h0m2.5 2.5h0m0.5 1h0m3.5-2.5h0m3.5 3.5h0m13.5-2h0m1-1h0m3.5 2.5h0m9 2h0m7-4.5h0m3.5 0.5h0m1.5 1h0m3.5-0.5h0m3 0.5h0m2.5-1.5h0m0 0h0m8.5-0.5h0m6 6h0m7 0.5h0m2.5-3h0m3.5-4.5h0m1.5 1.5h0m2.5 4.5h0m12 0h0m0-4.5h0m3 5.5h0m6.5-0.5h0m1.5-4.5h0m0.5 4h0m0.5-4h0m0.5 1h0m2 0.5h0m1 2.5h0m1-6h0m2 3h0m0 4h0m5-7.5h0m3.5 2.5h0m1.5-1.5h0m2.5 3.5h0m1.5 2h0m0.5-3.5h0m5.5-1h0m3 5.5h0m4-2h0m9.5-4.5h0m2.5 5.5h0m2.5-4.5h0m2 0.5h0m2.5-2.5h0m5.5 7h0m2.5-3.5h0m0-3h0m1.5 1h0m2.5 3.5h0m2-2.5h0m1 1h0m0 0.5h0m2.5 2.5h0m3-0.5h0m5-1.5h0m2.5-2.5h0m2 5.5h0m0.5-5h0m4.5 2.5h0m5-3.5h0m1.5 5h0m3.5 0.5h0m0-1.5h0m2-1h0m2-4.5h0m2 4.5h0m3-0.5h0m1-4h0m3 6.5h0m1-5.5h0m3.5 2.5h0m0 2h0m12.5 1.5h0m6-2.5h0m1 1.5h0m4 2h0m3-6h0m3-1.5h0m1.5 0h0m1.5 6.5h0m7 0.5h0m1.5-6.5h0m380.5 4h0m9 2h0m38.5-1h0m-704.5 2h0m9 0h0m1 1h0m3.5 0h0m5 2h0m8-2h0m5 2.5h0m1.5-0.5h0m6.5-0.5h0m4 3.5h0m0.5-1.5h0m0.5-1h0m6 3h0m4-2h0m6.5 1h0m6-2.5h0m0-2h0m3.5 6.5h0m2.5-0.5h0m2.5-4h0m0 1h0m6.5-1.5h0m6.5 4h0m3.5-2h0m0 1.5h0m6.5-3h0m1 4.5h0m0.5-6.5h0m5 4.5h0m0.5-4.5h0m8 0.5h0m0.5 0h0m1 1.5h0m1 2.5h0m1.5-0.5h0m0.5 3h0m0.5-5.5h0m5.5-1.5h0m0.5 5.5h0m1.5-2h0m5.5-2h0m2 5.5h0m0.5-4.5h0m0.5 2.5h0m10.5 0.5h0m2-4.5h0m0.5 0h0m1 2.5h0m3.5 1.5h0m1-5h0m4.5 4.5h0m3-1.5h0m3.5 0.5h0m1.5 0.5h0m5.5 0h0m0-4h0m6.5 1.5h0m0.5 1h0m2.5 0h0m0.5 0.5h0m1.5-2.5h0m2.5 1h0m5-2h0m1 2.5h0m0.5-1.5h0m0.5 3h0m0.5 1.5h0m2.5-1h0m2.5-3.5h0m1.5-0.5h0m2-0.5h0m0.5 1h0m4.5 0.5h0m4.5-1.5h0m0 5h0m2-0.5h0m8 0h0m1-4h0m0 2h0m1.5 2h0m1-2.5h0m5-2.5h0m0 1h0m6.5-0.5h0m0.5 3.5h0m2 3h0m2-1h0m0.5 0h0m0-4.5h0m2.5 4h0m8-2.5h0m0.5 0.5h0m2 2h0m2-4.5h0m5.5 2.5h0m3.5 3h0m1.5 1h0m0.5-4.5h0m432.5-1h0m1.5 2.5h0m-657.5 10h0m1.5 0h0m0-6h0m3 1h0m0 0h0m1 1h0m4 2h0m2.5 0.5h0m5.5-2.5h0m1-1h0m2.5-1h0m1.5 4h0m0 0h0m1 3h0m7-2.5h0m1-2h0m3 1h0m1 1.5h0m0.5 1h0m0.5-3.5h0m6.5-1.5h0m3 1h0m0.5 1.5h0m0.5 2.5h0m0.5 1h0m5.5-6h0m6 2.5h0m0.5-3h0m1.5 4h0m1.5 2h0m7.5-4h0m5.5 2.5h0m0.5-1h0m1-1h0m3.5-2h0m0.5 0h0m5.5 3.5h0m5-2.5h0m4-1h0m2.5 6h0m3-2h0m0.5 1.5h0m3 0h0m0-2.5h0m0 0.5h0m2.5-1.5h0m3.5 1.5h0m0 0.5h0m9.5-1h0m5 0.5h0m0-4h0m2.5 6.5h0m3.5-0.5h0m8-0.5h0m3.5 0.5h0m3.5-3h0m0.5 2.5h0m0-2.5h0m3.5 2h0m5.5-2h0m12 4h0m0-1h0m0.5-3.5h0m0 2.5h0m4-3h0m4.5 2.5h0m0 2.5h0m0.5-1h0m2.5-6h0m0 6.5h0m0.5-6h0m1.5 6h0m4-2h0m0.5-1h0m0.5 2h0m3-3h0m2 1.5h0m5 1.5h0m0.5-1h0m1-2h0m1-3.5h0m1.5 3h0m0.5-0.5h0m0.5 4.5h0m1.5 0h0m0 0h0m2 1h0m1.5-3h0m5-4h0m0.5 6.5h0m0-3h0m2-1h0m1-2.5h0m397.5 1.5h0m29.5 5.5h0m-630.5 3h0m6.5 1.5h0m4.5 1.5h0m2.5-0.5h0m8-2h0m0.5 1h0m0.5-1h0m2.5-3h0m2.5 1.5h0m1.5 1.5h0m0.5-1h0m4-1.5h0m3 4.5h0m8.5 1h0m0-0.5h0m3-6h0m0 5.5h0m1-4.5h0m2 6h0m3-2h0m1-2.5h0m0.5 2.5h0m2.5 0.5h0m2-0.5h0m1-2.5h0m1 5.5h0m0-7h0m0.5 6h0m5-1h0m0.5-5.5h0m0 0.5h0m2 1.5h0m8.5 4h0m3-3.5h0m3 3.5h0m5.5-3h0m0.5-1h0m4.5 4h0m1-2h0m1-3h0m3-1h0m1.5 7h0m0.5-3.5h0m3 0.5h0m8.5 2h0m1.5-4.5h0m5.5 2h0m1-3.5h0m1 3h0m0 2h0m8 0h0m3-5.5h0m0.5 3.5h0m0.5-0.5h0m3.5-2h0m0.5 4h0m3.5-1.5h0m1.5-1.5h0m1.5 1.5h0m5 0.5h0m1.5-3.5h0m2.5 3h0m1.5 2.5h0m2-2.5h0m2-0.5h0m3 2h0m3 0h0m3 1.5h0m1.5-2h0m0.5-3.5h0m1.5 1h0m1 3.5h0m0.5 2h0m0-6h0m3.5 6h0m1-6h0m3.5 5h0m3 1h0m3-3.5h0m1.5 3h0m4.5-2.5h0m3.5-3.5h0m7.5 0h0m418.5 1.5h0m27 1h0m-658 8h0m5.5-1h0m26 0h0m12 1h0m0.5-1h0m17 0h0m2-2h0m1 2.5h0m2 4h0m3.5-5.5h0m6.5 0h0m4.5 6.5h0m9-1.5h0m2.5 1.5h0m2-3h0m5 3h0m2-6.5h0m0.5 5.5h0m3 1h0m3-5h0m3 3.5h0m0.5-6.5h0m5.5 0.5h0m2.5 5h0m3.5-3.5h0m8 5h0m1-2.5h0m0-3h0m3-1h0m8 4.5h0m1.5-2.5h0m1 5h0m0-6.5h0m1 3h0m4-1h0m4.5 0h0m3.5-1.5h0m13 0h0m0 5.5h0m2 0h0m0.5-5.5h0m0 2.5h0m1 1h0m1.5 1.5h0m1.5 1.5h0m0.5-3h0m0.5 2.5h0m0.5-7h0m0 5h0m1-3h0m0-1h0m1.5 3.5h0m1.5-0.5h0m0.5-0.5h0m0.5-2.5h0m0.5 5h0m2-1.5h0m3.5 1.5h0m460.5-0.5h0m-585.5 5h0m8 0h0m8.5-2h0m3 6h0m5.5-5.5h0m2 5.5h0m3.5-1.5h0m0.5-3.5h0m13.5-1h0m6 5.5h0m1 1.5h0m0-2.5h0m1-4.5h0m1.5 0h0m7 3h0m8.5 4h0m1-7h0m1.5 4.5h0m3-1h0m3 2h0m7-4h0m0.5-0.5h0m2 4h0m1-1h0m1.5-5h0m1 4h0m3 3h0m4-5h0m6 0h0m1-2h0m1.5 0.5h0m3 2.5h0m4.5 0.5h0m6-2.5h0m-173 11h0m89.5 0h0m1.5-2.5h0m0.5 2.5h0m2.5 0.5h0m2.5-1h0m9.5-3.5h0m3 5h0m0.5 1h0m3.5 1h0m7-6.5h0m7.5 5h0m3.5-2.5h0m5 0.5h0m4.5-2.5h0m2 1.5h0m1-1h0m0.5 3h0m2-3h0m10 0.5h0m3 0h0m-47.5 6h0m14.5 3.5h0m30-3.5h0m3.5 4.5h0m-798 143.5h0m1 3h0m9.5 0h0m7-4h0m2 0.5h0m3 4h0m8 0h0m82-0.5h0m-140.5 6.5h0m3 0.5h0m0.5-4.5h0m9-1h0m1.5 3h0m0.5 2.5h0m2-1.5h0m4-3.5h0m0 5.5h0m2.5-1h0m17-2.5h0m1-0.5h0m1 5h0m3.5-3h0m8 2.5h0m2.5-2h0m8 1.5h0m10-1h0m10-1h0m3.5 1.5h0m14-1h0m9.5-2h0m4 0h0m11 3h0m3 0h0m0.5-1.5h0m1-1h0m0.5 0h0m0 4h0m4-2.5h0m11 1.5h0m6 1h0m5-1.5h0m6.5-2h0m5.5 3h0m-179 8.5h0m4-5.5h0m9 0.5h0m5-0.5h0m2 2h0m2 0.5h0m3 0h0m4.5-3.5h0m1 3h0m3.5 3.5h0m2.5-2h0m0.5 1h0m3.5-2.5h0m1 4h0m3-7h0m3 2h0m0.5 0h0m2 1h0m1.5 1.5h0m2 1h0m3.5-3.5h0m0.5 2h0m7-0.5h0m7.5 0h0m4-3.5h0m0.5 1.5h0m5-1.5h0m0.5 6.5h0m1 0h0m6.5-2.5h0m1-3h0m8 5.5h0m6 0h0m2-6.5h0m10.5 4h0m1-5h0m1.5 1h0m0-0.5h0m1.5 1.5h0m0.5 1h0m3.5 2h0m3.5-4h0m4 1.5h0m1.5 5h0m15.5-2.5h0m1 0.5h0m0.5-4.5h0m0.5 1.5h0m1.5 2h0m4.5 3h0m11-1.5h0m3-5.5h0m0.5 4.5h0m3 1h0m1.5-5.5h0m4.5 3h0m2.5 4h0m8-3h0m0.5 0.5h0m2 0.5h0m4.5 1.5h0m4-1h0m4 1h0m-200 3.5h0m6 1.5h0m0.5 1.5h0m0.5-1.5h0m1 3h0m0.5-4.5h0m0.5 4.5h0m7.5-6.5h0m3 4.5h0m3.5-3.5h0m5 0.5h0m5 2h0m2 1.5h0m1.5-1h0m2-1.5h0m1 4.5h0m1.5-0.5h0m0.5 0.5h0m5.5-7.5h0m4 4h0m11 2h0m8-5h0m2 3h0m1-2.5h0m3.5 2.5h0m1 3h0m0-5.5h0m7.5 5.5h0m7.5-5.5h0m0 5h0m1.5-4h0m0.5 0h0m5.5 1h0m2.5 4h0m5-5.5h0m0-2h0m2 5.5h0m4 2h0m2 0.5h0m5.5-4.5h0m27.5 2h0m2-2h0m2-3h0m5 7h0m3-7.5h0m4 0h0m0.5 0.5h0m1 5h0m0-1.5h0m1-1.5h0m2 4h0m1 0h0m1-6.5h0m2.5 1h0m9.5 2.5h0m7 3h0m0.5-6h0m7.5 4h0m2.5-2h0m0.5 2h0m6.5 1h0m21.5-4h0m-217 7h0m4 2h0m1 2h0m10 1h0m0.5-5.5h0m3 7.5h0m1-4.5h0m8.5 1.5h0m5 3.5h0m1-1.5h0m2.5-3.5h0m2.5-0.5h0m5.5-1.5h0m2 5h0m3-5h0m1.5 2h0m4.5-2h0m2 5.5h0m0-4h0m3 0.5h0m0.5 1.5h0m0.5 1.5h0m3-5.5h0m1 3h0m2.5-3.5h0m5.5 2h0m4.5 2.5h0m4.5 0.5h0m1.5 2.5h0m3.5-6.5h0m1 1h0m0-1h0m3.5 2h0m0.5-2h0m3 6.5h0m0.5-7h0m0 5h0m2 2h0m0.5-1.5h0m2-3.5h0m0.5 0h0m7.5-1h0m0-1h0m0 1.5h0m3.5 0.5h0m1.5 5.5h0m3-4h0m2-2h0m0 4.5h0m7.5-3.5h0m1.5-0.5h0m3.5 2.5h0m2.5 0.5h0m1.5-2h0m0 1h0m0.5 3h0m0-4h0m3.5 1h0m6.5 1h0m1 1.5h0m0.5-2h0m1 1h0m1.5-4.5h0m2 4.5h0m7-5.5h0m1.5 4.5h0m0-2h0m1.5-2h0m2.5 5h0m2-5.5h0m0.5 3h0m0.5 3.5h0m6-7h0m7.5 5.5h0m15 2h0m1.5 0h0m2-2.5h0m2.5-3h0m2 3.5h0m4-5h0m3 6.5h0m16-2.5h0m4 3h0m0.5-1h0m-191 9h0m2.5-4h0m0.5-1h0m1.5 4h0m9.5-5h0m3 5.5h0m0.5-2h0m0.5-3.5h0m2 6h0m0.5-5.5h0m6.5-0.5h0m10 4h0m4 0h0m0.5 1h0m4.5-1h0m5.5-3h0m2.5 2.5h0m0 1.5h0m2.5-6h0m1 3.5h0m0 2.5h0m1-3.5h0m9.5 4h0m7 0h0m14-4h0m6-2.5h0m11 3.5h0m5 0h0m3 2h0m1-6h0m2.5 6.5h0m0-4.5h0m1 3.5h0m3.5-2.5h0m5 3h0m3-1.5h0m5.5-2h0m10 2h0m3.5 1.5h0m2-0.5h0m7-3.5h0m2 4.5h0m0.5-1.5h0m6 2.5h0m3-5h0m1.5 5h0m16-5h0m5 1.5h0m0.5-3h0m1 4.5h0m0.5-3.5h0m4.5 4h0m3.5-0.5h0m5.5 2.5h0m-212 2.5h0m8 2.5h0m6.5-3h0m0.5 2.5h0m0.5-1.5h0m1.5-1h0m0 3h0m8-2h0m0-3h0m13 0h0m3 2h0m1.5 3h0m13.5 2.5h0m8.5-2h0m2-1.5h0m2.5 2h0m1.5-4.5h0m0.5 2.5h0m4.5 0h0m0-2h0m5 4.5h0m3-0.5h0m7-1h0m0-2h0m2 1h0m1.5-0.5h0m10.5 4h0m4.5-3.5h0m0.5-0.5h0m1 3.5h0m8-2.5h0m1.5-4h0m1 3h0m0.5-2.5h0m4 1h0m0-1h0m6.5 2h0m3 4h0m1-6.5h0m5.5 1.5h0m0.5 4.5h0m0-4h0m2 3h0m4.5-3h0m0.5-2.5h0m5 2.5h0m3.5 4h0m1 0h0m2-1h0m0-0.5h0m5 0.5h0m2.5-1.5h0m3-1h0m1 1h0m4.5 0h0m2.5-0.5h0m3 4.5h0m6-1.5h0m4-4h0m1 5.5h0m0.5-7.5h0m0 4.5h0m0.5-1h0m0-3.5h0m6 3.5h0m1 3h0m17.5 0h0m1-3.5h0m3 1.5h0m5 1h0m10.5 1.5h0m0-1h0m-207 3h0m15.5 0h0m5-1.5h0m0.5 5h0m6 0.5h0m2-4.5h0m1 4h0m4-3h0m1.5 3.5h0m2-4.5h0m3-1h0m2.5 0.5h0m0.5 2h0m0.5-2h0m20.5 5.5h0m1-3h0m9.5 3h0m0.5-4.5h0m1.5 1h0m4 3.5h0m2.5-5h0m7 5h0m5.5-1.5h0m1.5-4h0m1 7h0m1.5-3.5h0m10.5 4h0m0-5h0m11.5-1h0m7.5 2h0m1.5 2h0m4-5h0m1.5 3.5h0m3.5 3h0m0.5-4h0m3 2h0m3-2.5h0m2.5 3h0m3-4.5h0m4.5 5h0m3.5-6.5h0m1.5 7h0m0.5-5h0m3.5 3.5h0m1.5-4h0m4 3.5h0m3 0.5h0m6-3.5h0m6 0h0m5 0.5h0m2.5 3.5h0m4 1.5h0m1-5.5h0m0.5 5.5h0m0.5-0.5h0m3.5-1h0m2.5 0h0m1.5 0h0m1.5 1.5h0m6 0h0m9.5 0h0m6.5-2h0m11-1.5h0m-223.5 8.5h0m7.5-2h0m1.5 1.5h0m2.5 2.5h0m4-5.5h0m2.5 3h0m3-1h0m1 1.5h0m1-3.5h0m6.5 4.5h0m3 2h0m2-2.5h0m9.5-4h0m6 0h0m0.5 0.5h0m5.5 5h0m3.5-5.5h0m1.5-0.5h0m1.5 0.5h0m1.5 3.5h0m4.5-3.5h0m11 2h0m3 2h0m0.5-0.5h0m3-2.5h0m10 1.5h0m3.5 4h0m8.5 0h0m11.5-7.5h0m1 0.5h0m3.5 6h0m5-1.5h0m4-2h0m4.5 0h0m4-3h0m1.5 3.5h0m6.5 1.5h0m4 2.5h0m3-7.5h0m3.5 6.5h0m4-2.5h0m1 0h0m1-2h0m3 1.5h0m2 2.5h0m6.5 1.5h0m1.5-0.5h0m4-4h0m4.5 1h0m7-0.5h0m2-1.5h0m1-0.5h0m3 2h0m2.5-2h0m1 6h0m16-6.5h0m17 6h0m3.5 0h0m2.5-0.5h0m10 0.5h0m-246.5 1.5h0m15-0.5h0m1.5 0.5h0m35.5 7.5h0m2.5-5.5h0m0-0.5h0m3.5 1.5h0m6-1.5h0m1.5 4h0m4-4.5h0m3.5 1.5h0m3 2h0m4.5-0.5h0m3.5-2h0m1 2.5h0m1-4h0m2-0.5h0m8.5 4h0m2-3h0m0.5-1h0m1.5 5h0m0-1.5h0m3-2.5h0m1 6h0m2.5-6.5h0m3.5 5h0m0-4.5h0m1.5 0h0m1 3.5h0m1-1.5h0m6 4.5h0m0.5-4.5h0m0 3h0m2-6.5h0m10.5 1.5h0m0 5h0m7.5-4.5h0m1-1h0m4.5-1h0m2.5 0h0m0.5 4h0m2 2h0m5.5-4h0m0 3h0m2-2.5h0m7 2.5h0m0-2h0m1-2.5h0m0.5 1.5h0m1 4.5h0m2-5h0m3.5 5h0m6.5-2h0m1 0h0m2.5-1h0m2 2h0m7-4.5h0m11 7h0m4-7h0m6 2.5h0m0.5-0.5h0m2.5-3h0m2.5 6.5h0m2.5-1h0m3.5-5.5h0m1 2h0m1.5 3.5h0m7 0h0m7.5-3h0m2.5 2h0m2-3.5h0m0.5 3h0m5-1h0m0 2.5h0m3-4.5h0m2.5 1.5h0m0.5 3h0m0.5 2.5h0m3.5-3.5h0m7.5 1h0m5 1h0m-270.5 1.5h0m52 1h0m9.5 1h0m1 0.5h0m3-2.5h0m4.5 7.5h0m1.5-3.5h0m0.5 2h0m1-1h0m4-4h0m4 3.5h0m0.5-3h0m1 6h0m1-1.5h0m0.5-4.5h0m5.5 0.5h0m6.5 3.5h0m0.5-4h0m3 6.5h0m5-7h0m1 5h0m1.5-3.5h0m1.5 2h0m3.5 2.5h0m11.5-4h0m0 2.5h0m3.5-3h0m2-0.5h0m1 6h0m1.5-7.5h0m0.5 0.5h0m0.5 0h0m2 6.5h0m4.5-0.5h0m1.5-6.5h0m13 3h0m1.5 3.5h0m1-5.5h0m14-1.5h0m1.5 1h0m4.5 5.5h0m9 1h0m2.5-0.5h0m2-6.5h0m1.5 0.5h0m1 3h0m4-3.5h0m13 5h0m4.5 2h0m2-6.5h0m0.5-1h0m2 7h0m2-6h0m2.5 0.5h0m0.5 2h0m2.5 2.5h0m0.5 2h0m2 0h0m3-8h0m5 6.5h0m3-3h0m5 3h0m1-0.5h0m9.5-4h0m4.5 5.5h0m0.5-1.5h0m1.5 0h0m4-2.5h0m1-3h0m1 6.5h0m2.5-1.5h0m4 2.5h0m-170 3.5h0m13.5 3.5h0m4-3.5h0m6 3.5h0m3.5-4.5h0m0 2.5h0m2 2h0m2-6.5h0m1.5 6.5h0m5.5-2.5h0m10.5-4h0m6-0.5h0m12 1.5h0m3 2h0m2.5-3h0m1 1.5h0m1.5-1.5h0m3.5 4.5h0m0.5 0.5h0m5-3h0m0.5 0h0m3-1.5h0m2 2h0m1.5 5h0m2.5-2.5h0m2.5-2.5h0m0.5-1h0m1 2.5h0m5.5 2h0m0.5-2.5h0m3.5 4h0m1-0.5h0m2 0.5h0m1-0.5h0m2.5-1.5h0m2.5-4.5h0m2.5-1h0m1.5 2.5h0m2-2h0m2.5 2h0m1-3h0m1 6.5h0m4.5-3h0m3-0.5h0m4.5-0.5h0m4 5h0m0.5-1h0m1.5-5h0m1 5.5h0m7.5 0.5h0m3.5-4.5h0m0.5 4.5h0m5 0h0m4-7h0m3 5h0m6.5-2.5h0m3.5 2h0m1.5-4h0m12.5 3.5h0m-178 10h0m11.5-3h0m3.5 2.5h0m9-4.5h0m2 2h0m3.5 1h0m4 3h0m2.5-7.5h0m1 3.5h0m8 1.5h0m0.5-4.5h0m3 2h0m3 0.5h0m2 4h0m2.5-4.5h0m3.5 1h0m0.5-2h0m2 1.5h0m17.5 1.5h0m2.5-3.5h0m0.5 1.5h0m4 0h0m10 2h0m4-2h0m0.5-2.5h0m3.5 1.5h0m7 4.5h0m0.5-5.5h0m4 6h0m2-4.5h0m2 3h0m0.5 2h0m1 0.5h0m0-0.5h0m8.5-2h0m1 3h0m0.5-2h0m4-2h0m7 1.5h0m9-4h0m2 1.5h0m2.5 4h0m0 0.5h0m3.5-5h0m7-0.5h0m3 4h0m1 0h0m2-5.5h0m5 7h0m3-0.5h0m4 1h0m0.5-2h0m2.5-1.5h0m2.5 3h0m-168.5 3h0m8-1h0m16.5 6.5h0m1.5-8h0m0 0.5h0m5.5 2h0m3 5.5h0m8.5-1.5h0m4 0h0m0.5-3.5h0m6 1.5h0m0.5-2h0m0.5 3.5h0m1.5-4h0m9 4h0m13.5-4h0m5.5 5.5h0m7-6h0m0 1.5h0m10.5 4.5h0m6-5h0m1.5 4h0m4-2h0m0.5-0.5h0m0-2.5h0m0.5 3.5h0m2 0h0m1-0.5h0m0.5-1h0m9 1.5h0m3-4h0m3.5-0.5h0m1.5 2.5h0m4.5 1.5h0m0-3h0m1 0h0m1 5h0m0.5-4h0m3.5 5.5h0m7-1.5h0m1 1h0m2.5-6.5h0m2.5 2.5h0m3-0.5h0m3 0h0m8 4h0m18-2.5h0m-164 4.5h0m9.5 5h0m4.5 1h0m10-1.5h0m3 1h0m3.5-6h0m10 6.5h0m3-6.5h0m4 5.5h0m2.5 1h0m4-3.5h0m2.5 3h0m6-5h0m2.5 2.5h0m0-2.5h0m1.5-1.5h0m0.5 8h0m0-1h0m0.5-2.5h0m3-1.5h0m4.5 1.5h0m4.5 2h0m5.5-4h0m4 0.5h0m6-1h0m4.5 1.5h0m0.5-3h0m1 3.5h0m2-3.5h0m9.5 4h0m25.5-1h0m12 0.5h0m-140 4.5h0m12.5 0h0m0 4.5h0m10-3h0m0 3.5h0m1-3.5h0m0.5-2h0m8 7.5h0m8.5-6.5h0m7 5h0m3-3h0m1.5 0h0m9 2.5h0m1 2.5h0m1-8h0m0.5 3h0m0.5-3h0m3.5 0.5h0m6 0h0m5 0h0m0.5 0h0m5.5 0.5h0m1 0.5h0m1.5-0.5h0m6 0h0m33 0.5h0m-77 7.5h0m6-1h0m10 2h0m752 15.5h0m5 1.5h0m8.5-0.5h0m74 3.5h0m22 1.5h0m22.5-3.5h0m4.5-3h0m4.5 2h0m-90 7h0m31 0h0m6.5 2h0m21.5 0h0m4-1.5h0m4.5 0.5h0m-133 8.5h0m7-2h0m3.5 4h0m15.5-3h0m83.5-1.5h0m-80 9h0m4.5-2h0"/>
<path stroke="#E55364" d="M774 200.5h0m-31.5 14h0m52 0h0m11-2.5h0m-132.5 9h0m9 1.5h0m2-1.5h0m33.5-4.5h0m0 0h0m2 6h0m7 0h0m2.5 0h0m8-3.5h0m3 3.5h0m3.5-4h0m9 5h0m0-5.5h0m0.5 4h0m2 2h0m2-1.5h0m0-4h0m0.5-1h0m9.5 6.5h0m3.5-1.5h0m8 0h0m6-2h0m5 3h0m1 0.5h0m0.5-6h0m1-2h0m1 5h0m3.5-0.5h0m7 3.5h0m2.5-4h0m2 2h0m0-3.5h0m0-1h0m0.5 5.5h0m0.5-1h0m2-4h0m1 5h0m1-6h0m12 5.5h0m1.5 1h0m9-1.5h0m-175 8h0m4 1h0m5-1.5h0m13.5 1.5h0m3-3h0m3 0.5h0m5-4h0m0.5 5.5h0m1-0.5h0m0.5 1h0m0.5-2h0m9.5 0.5h0m3.5 2h0m10.5-6.5h0m1.5 0.5h0m0.5 5.5h0m3-1h0m2.5 0.5h0m3.5-3h0m3.5-0.5h0m2 3.5h0m2-4.5h0m17 3h0m7.5-1.5h0m2.5 4.5h0m3-3h0m2 2h0m3.5-6h0m0.5 1.5h0m0.5-0.5h0m1.5 6h0m2 0h0m4.5-6.5h0m4.5 6h0m2.5-3.5h0m5.5-0.5h0m1 0.5h0m2.5-2.5h0m5 6.5h0m8.5-7.5h0m0 7h0m2-4h0m7.5 4.5h0m0.5 0h0m8-1.5h0m1.5-0.5h0m1-0.5h0m0.5 1h0m1 1.5h0m0 0h0m1-6h0m14-1h0m18.5 2.5h0m-212 9h0m7-2h0m4.5 4h0m0.5 1h0m0.5-1h0m1-3h0m0 2.5h0m4 1h0m1.5-4.5h0m3.5 0h0m5 5h0m3-3.5h0m3.5-1.5h0m0 4h0m1.5-1.5h0m0.5 2h0m7-6h0m9 3h0m1 4h0m1-5.5h0m7.5 4.5h0m0-0.5h0m1.5-5.5h0m3 5.5h0m0.5-3.5h0m0.5-1.5h0m3.5 3h0m2 1h0m3-3.5h0m5 1h0m8.5 4.5h0m2-3h0m1-2h0m11.5 0.5h0m0.5-1.5h0m3 4.5h0m2-2.5h0m5.5-2.5h0m0.5 4.5h0m1.5-0.5h0m7-2h0m3.5-2.5h0m0 3h0m3 3h0m2-2h0m0.5 2.5h0m1-6.5h0m8 4.5h0m1-4h0m2 2h0m1.5-1.5h0m4.5 5.5h0m4.5-5.5h0m0 6.5h0m0.5-3h0m3-4h0m7.5 1h0m8.5-1h0m0.5 5h0m1.5-4h0m1.5 0h0m0 6h0m0.5-4h0m1.5-0.5h0m8.5-3h0m3 7.5h0m2-7h0m0.5 5h0m2-4.5h0m1 0.5h0m1.5-1.5h0m1.5 4.5h0m1 0h0m0.5-2.5h0m5.5 0.5h0m1 4h0m12 0.5h0m31 0h0m-276 8.5h0m7 0h0m2-4.5h0m3 4h0m8.5 0.5h0m21.5-3.5h0m8.5-0.5h0m2.5 2.5h0m1.5 0h0m0-1.5h0m1 0h0m0-4h0m0.5 4h0m4-2.5h0m2.5 0.5h0m1 0h0m1-2h0m1 4h0m0.5-0.5h0m7 2h0m2-4.5h0m1 4h0m6-2h0m4.5 2.5h0m2.5-3h0m4-1.5h0m6 5.5h0m0.5-0.5h0m2 0.5h0m3 0h0m3.5-6.5h0m3 3h0m8 3.5h0m1.5-5h0m1.5 3h0m2.5-1h0m1.5 0.5h0m0.5-1.5h0m2.5-2h0m1.5 3h0m0.5 1.5h0m4-5h0m0.5 6.5h0m0-4h0m0.5 3.5h0m3-6h0m3.5-0.5h0m1.5 6h0m5-4h0m2.5 3h0m3.5-3.5h0m7 1.5h0m2.5 2h0m1.5 0h0m0.5 2h0m5.5-4h0m3 3.5h0m0-2h0m3 0.5h0m7-1.5h0m9 1.5h0m1 2.5h0m0-7.5h0m4.5 4h0m0.5 3.5h0m1.5-7h0m3.5 4.5h0m1 3h0m0.5-7.5h0m1.5 5.5h0m2.5-3h0m1.5 2h0m7.5 1.5h0m1-2.5h0m2.5 3.5h0m1 0h0m0.5-5h0m1.5 1.5h0m3.5 1h0m1-0.5h0m0.5-2.5h0m1.5 0.5h0m0 3h0m2-2.5h0m11 2h0m6 2h0m4 0.5h0m0.5-2.5h0m11 2.5h0m6-1.5h0m16.5-1h0m4.5 1h0m3 1h0m8.5 0h0m12.5 0.5h0m37-1.5h0m-389 9h0m9-4h0m9 1.5h0m2 2.5h0m1.5-1h0m0.5-3h0m9.5-0.5h0m7 2h0m0.5-3.5h0m2 1h0m7.5-2h0m1 7.5h0m12.5-1h0m1.5-2.5h0m10-3.5h0m0 5h0m6.5-4h0m1.5 6.5h0m7.5-1h0m8-0.5h0m2 0h0m0.5-5h0m0.5 5h0m1 1.5h0m9-3.5h0m6.5 0h0m6-2.5h0m2.5 2h0m0.5 0h0m0.5-1h0m0 1.5h0m0.5-0.5h0m0-0.5h0m1 0.5h0m1.5 0.5h0m2 3h0m0-7h0m2 1.5h0m2 3.5h0m0.5 0.5h0m9-1.5h0m1 2h0m1.5-3.5h0m1.5 5h0m2-5h0m0.5-0.5h0m8.5 3h0m4-1.5h0m2.5 0h0m1.5 2h0m5.5-3h0m2 2.5h0m0.5-4h0m0 4.5h0m4.5 0h0m1.5 2h0m2.5-1h0m5.5-1h0m9.5-0.5h0m1.5-5.5h0m2.5 2.5h0m2 0.5h0m1 1h0m1-0.5h0m1 2h0m13-2h0m2.5-0.5h0m1.5 3h0m1.5-3.5h0m0.5-2h0m1 0h0m1 5h0m3 0h0m1-0.5h0m13.5 0h0m7.5 0h0m8.5 0.5h0m7-3h0m0.5 3h0m4 1h0m1-3.5h0m0.5-3h0m6.5 4h0m1 3.5h0m1-6.5h0m6 6.5h0m0-3.5h0m0-2.5h0m6.5 4.5h0m1-2.5h0m2-3h0m6 0.5h0m2.5-0.5h0m6.5 4h0m5.5-3h0m1.5 3h0m4-3h0m0-1h0m0.5 0h0m8 1.5h0m4 4.5h0m1.5-5.5h0m1.5 6h0m1.5-6h0m8 6h0m0.5 0.5h0m4.5-3.5h0m0.5 3.5h0m14-3.5h0m2.5 1.5h0m4.5-3.5h0m2.5 5.5h0m7.5-2h0m1 0.5h0m7 1h0m-387 3.5h0m0.5 3.5h0m2.5 0.5h0m1-0.5h0m3-1.5h0m1.5-3h0m1 1h0m1.5 0.5h0m4 0.5h0m1 1h0m3 1.5h0m0-2.5h0m2 4h0m1.5-2h0m0.5-0.5h0m2.5-3h0m4 1.5h0m0 3.5h0m5.5-1h0m7.5-3.5h0m0-2h0m0.5 0.5h0m0 7h0m0.5-6.5h0m1.5 3.5h0m1-1.5h0m0-3.5h0m0.5 1h0m10.5 1.5h0m3-1h0m5.5 3h0m7-4h0m1.5 4.5h0m10.5-2h0m6.5 1.5h0m0.5 3.5h0m0.5-4.5h0m0-1.5h0m1.5 3h0m0.5 1.5h0m1.5 1.5h0m2-5h0m0.5-0.5h0m1 3h0m3.5 1h0m3-4.5h0m1 1.5h0m2-2h0m8 0h0m2.5-0.5h0m5 0.5h0m2 3h0m15.5 0h0m8 2.5h0m3-3.5h0m19.5-1h0m0.5-1h0m5 0.5h0m6 3.5h0m0.5 1.5h0m0.5 1h0m0.5-4h0m0.5 2h0m3 0h0m1.5-4h0m3 3h0m2-5h0m4.5 2.5h0m10 3.5h0m1-1h0m0.5 0h0m4.5-1.5h0m2.5-3h0m5 4h0m0-4.5h0m7 8h0m3-0.5h0m8 0h0m3.5-6.5h0m3.5 2.5h0m2 3h0m1.5-3h0m0.5 2h0m2-4h0m0 5.5h0m2-4.5h0m3 3.5h0m0 2h0m0.5-7.5h0m4.5 4h0m5.5 0.5h0m3-4.5h0m3.5 6.5h0m0.5-3.5h0m4.5 3h0m5 0h0m4.5-1.5h0m3.5-2h0m3-0.5h0m1-1.5h0m9.5 6.5h0m1-2.5h0m1-2h0m4 1h0m12-0.5h0m0.5 1.5h0m1.5 2.5h0m5.5-4.5h0m3 0.5h0m3.5-1h0m2-1h0m2.5 6.5h0m0.5-1h0m2.5-2h0m8-4.5h0m1.5 7h0m1-2h0m5-5h0m0.5 1.5h0m0 4h0m4-2h0m2-1.5h0m2.5-1.5h0m4.5 0h0m0.5 5h0m5.5-1h0m2-2.5h0m8.5-0.5h0m1 5h0m3-1h0m0.5-0.5h0m10.5-2.5h0m-436 11.5h0m8 1h0m0-0.5h0m14.5 0h0m0.5-6.5h0m0.5 7h0m7-2.5h0m0-2.5h0m1.5-2h0m1 7h0m0.5-5h0m3.5 4.5h0m2.5-6h0m1 4.5h0m0.5 0.5h0m6.5-0.5h0m2.5 0.5h0m3.5 0.5h0m4-6h0m3 6.5h0m0.5-6.5h0m6 6h0m1.5-3.5h0m2.5 4.5h0m2.5 0h0m0.5-4h0m6-1.5h0m9.5-0.5h0m4 5h0m0.5-4h0m12.5 3.5h0m2-4.5h0m5.5-0.5h0m8.5 2.5h0m1.5 1.5h0m2-3h0m1-2h0m1.5 3.5h0m3 2.5h0m3-0.5h0m0.5 0.5h0m3-5.5h0m1.5 2.5h0m3.5 1.5h0m2.5-3.5h0m0.5 7h0m0-6h0m9-1.5h0m3 0h0m2 5.5h0m11-5h0m5.5 0h0m2 6.5h0m0.5-0.5h0m23-4.5h0m4.5 4.5h0m4.5-1.5h0m3.5-4h0m1 2.5h0m3-2.5h0m3.5 0.5h0m4.5 0h0m2-0.5h0m0 4.5h0m2.5-5.5h0m1.5 5.5h0m3 1h0m1-3h0m0.5-1.5h0m4 0h0m0 0h0m0.5-1.5h0m9 5.5h0m9-3.5h0m5.5 2h0m1.5 0h0m6-2h0m0.5-3h0m3 4h0m5.5-2.5h0m3.5 5h0m0.5-1.5h0m2 0.5h0m2.5-1h0m0-4h0m0.5 4h0m0.5-3h0m1.5 4.5h0m2.5-3.5h0m1 5h0m4 0.5h0m1 0h0m1.5-4.5h0m1.5 1h0m3-4h0m0.5 6.5h0m1-6.5h0m2.5 5h0m0 0h0m7-2.5h0m1 1h0m3.5 0h0m2.5 2.5h0m1-1h0m1.5-0.5h0m2.5-3.5h0m2.5 4.5h0m0-2.5h0m6.5 3h0m3-6.5h0m9 7.5h0m1.5 0h0m2.5-3h0m0.5-2.5h0m0.5-2h0m0 7.5h0m0.5-1.5h0m1-3.5h0m1.5 2h0m0 0.5h0m0.5-1h0m1.5 0h0m8.5 2.5h0m0.5 1.5h0m2-6.5h0m1.5-1h0m1 0.5h0m0.5 4.5h0m8.5 2.5h0m0-0.5h0m5-3h0m1-0.5h0m1-2.5h0m1-1h0m5.5 2.5h0m1.5-2.5h0m8 7h0m0.5-0.5h0m0-1.5h0m0.5 2h0m1-3.5h0m1-0.5h0m3.5 4h0m2-5h0m1.5-1h0m0.5 1.5h0m1 1.5h0m0.5-2.5h0m0.5 3h0m1.5-3.5h0m3 5.5h0m1.5 0h0m1-4h0m3 0.5h0m2 2.5h0m2.5-3.5h0m6 5.5h0m11-1.5h0m-447.5 3h0m3.5 2.5h0m1.5 3h0m0.5 0h0m1-1.5h0m1.5-3.5h0m7.5-0.5h0m1 5.5h0m2.5-4h0m2.5 0h0m4.5 3h0m1-3.5h0m1.5-2h0m3 4.5h0m2.5-2h0m2-0.5h0m0.5-2h0m5 3h0m10-3h0m5 7h0m1.5-3h0m7.5 0.5h0m1.5-4h0m6.5 4h0m21 0.5h0m7.5-5h0m2 1.5h0m4-1h0m6.5 4.5h0m11.5-1h0m1.5 2.5h0m4-1h0m0.5-5.5h0m0 6.5h0m2.5 0h0m3.5-2h0m7 1.5h0m4.5-5.5h0m3 6h0m2-6h0m3.5 6.5h0m0-2.5h0m1-4.5h0m1.5 6.5h0m1-2h0m2.5-3.5h0m4 6.5h0m7-7.5h0m1.5 2h0m5 4h0m2-2h0m5 0h0m2.5 0.5h0m3-3.5h0m5.5 3.5h0m1.5-0.5h0m3 2.5h0m2-0.5h0m2-1h0m1 2h0m1.5-5.5h0m2.5 1.5h0m0.5 0h0m1-3h0m0.5 4h0m1-3h0m1.5-1.5h0m2.5 8h0m0.5-2.5h0m1-0.5h0m1 0h0m1-4h0m1.5 3h0m0.5 2.5h0m3-1h0m0 0h0m0.5 1.5h0m2-6h0m4 0.5h0m1.5 1h0m3.5-0.5h0m3.5 0.5h0m2 4.5h0m11-3h0m0.5-4h0m0.5 2h0m2 4h0m0.5-3h0m0 1h0m2.5-1.5h0m12 1.5h0m1-1.5h0m10 0h0m0.5 3.5h0m5 2h0m1.5-5h0m0.5 4h0m0.5 0.5h0m0-2h0m3-2h0m0.5-3h0m3 6h0m7.5-6.5h0m0.5 5h0m0.5 1.5h0m9.5 1h0m2.5-2.5h0m8.5 1.5h0m0-2.5h0m1 1.5h0m0.5 1.5h0m2-3.5h0m3 3.5h0m6.5-6.5h0m2 6h0m3-6h0m3 1h0m0 3h0m1 3.5h0m1.5-4.5h0m0.5-0.5h0m2-1h0m2.5 2h0m0.5 3.5h0m2.5-6.5h0m0.5 3.5h0m4 2h0m7.5-1.5h0m0.5-5h0m0.5 1h0m2 2.5h0m1 2h0m2-1.5h0m1.5 1h0m1-1h0m1.5-4h0m8.5 2.5h0m3.5 0.5h0m1.5-2.5h0m0 4.5h0m2 2.5h0m3.5-2h0m1-0.5h0m0.5 1.5h0m0.5 0h0m1.5-1.5h0m0.5-2h0m1 0h0m4 3.5h0m5 0h0m0.5 1h0m6-7.5h0m0 4.5h0m3-4.5h0m4.5 1h0m0.5 6h0m7.5-3h0m0.5 1h0m0.5 1h0m0.5-1h0m0-1.5h0m4.5 2h0m5-5h0m8 1.5h0m17.5 5h0m-482 7.5h0m6.5-5.5h0m0 2h0m0.5-1h0m0-1.5h0m4.5 1.5h0m1-1.5h0m0.5 1h0m1 4h0m0 0h0m1.5 0.5h0m1 1h0m3.5-3.5h0m1.5 4.5h0m2-4h0m5 3h0m1.5-4h0m5 5h0m2-7.5h0m2 6h0m1.5-0.5h0m1.5-5.5h0m4 3h0m1 1.5h0m0.5 2.5h0m6-2.5h0m1 0.5h0m2.5-3.5h0m0 5.5h0m0-1.5h0m2-4.5h0m0.5 6h0m1.5 0.5h0m1-5h0m0.5 0h0m1 0h0m0.5-2h0m0 2h0m0.5-1h0m5 0.5h0m1 5h0m0.5-0.5h0m2.5-3.5h0m2.5 3.5h0m0.5 1h0m0.5-1h0m2.5 1h0m11-0.5h0m10.5-1.5h0m0.5-2h0m7 2h0m6.5-1.5h0m1 2.5h0m1.5 0h0m2.5-6h0m0.5 2h0m0.5-3h0m6 2h0m4 2h0m2-3h0m4.5 6.5h0m0.5-0.5h0m7 0.5h0m2.5-1.5h0m0.5-4.5h0m7 6h0m1.5-2.5h0m1-1h0m1.5 3h0m3-4h0m0.5 5h0m0.5-6.5h0m0.5 4.5h0m2-2.5h0m5 0h0m1-0.5h0m6.5-2h0m6 1.5h0m2.5 2.5h0m0-2h0m1 2.5h0m0-4h0m0.5 5h0m3 0.5h0m3.5-4.5h0m9 3h0m1.5 1.5h0m1.5 0h0m16 1h0m7.5-5h0m1.5 0h0m1.5-2h0m1.5 6.5h0m1-6.5h0m2 0h0m2.5 5h0m1.5-2h0m0.5-2h0m9 1.5h0m4.5 2h0m0.5-5h0m0.5 6h0m2.5-0.5h0m0 1.5h0m0.5-3h0m9 2.5h0m4-2h0m3-1h0m1-1h0m4 0.5h0m3 0h0m1.5-2.5h0m1.5 1.5h0m2 1.5h0m6 0h0m0.5 3h0m2 1h0m0.5-3h0m0-4h0m1.5 0.5h0m1.5 4h0m2.5-5.5h0m4.5 5.5h0m1-5h0m0 0h0m3 0.5h0m4 5.5h0m2-6h0m9 4h0m0-3h0m3.5-1h0m1 7h0m3-5.5h0m0 3h0m7 3h0m1-1h0m4-5h0m2.5 1.5h0m4.5-1.5h0m4.5 1h0m0.5 3.5h0m0 1h0m3.5-4h0m11 1h0m9.5-4h0m1 2h0m3.5 0h0m0.5 4h0m3.5-2.5h0m1 0.5h0m1.5 2.5h0m0.5 0.5h0m2.5-5.5h0m0.5 0h0m1 5h0m5.5-0.5h0m0.5 1h0m4.5-4.5h0m0 1h0m1-3.5h0m6 6.5h0m2-5.5h0m1.5 3h0m3 3h0m2.5-2.5h0m1.5 2h0m5-2h0m0-0.5h0m0.5 2h0m9-3.5h0m0.5 1h0m0 2.5h0m5-1.5h0m1-5h0m5.5 5h0m1 2h0m0.5-6h0m0.5 6.5h0m1.5-4.5h0m2.5 1h0m0.5 1h0m9-3.5h0m7.5 2.5h0m2.5-1h0m-488.5 8h0m8.5 1.5h0m8-0.5h0m11.5-3h0m3.5 2.5h0m4.5 3.5h0m1.5-2h0m1 2.5h0m4.5-2h0m3 1h0m1-0.5h0m0-1.5h0m2.5 2.5h0m2.5-5h0m1.5 5.5h0m2.5-0.5h0m0.5-4h0m0.5 4h0m1.5-0.5h0m2.5-4.5h0m1 0h0m0 1h0m2 1.5h0m6.5 0.5h0m1.5-4.5h0m2.5 6h0m11-5h0m1.5-1h0m6.5 7.5h0m0.5-0.5h0m1-7h0m5 7h0m5.5-5h0m1 0.5h0m2.5 3h0m3.5-5h0m6.5 6h0m9.5-3.5h0m6-2.5h0m1 5h0m0.5 0.5h0m2.5-2h0m0.5 3.5h0m4-6.5h0m2 5h0m4-0.5h0m3 1h0m1.5-2.5h0m2-4h0m1 6h0m2-1.5h0m0.5-3h0m1.5 2h0m1.5-3.5h0m3 3h0m0.5 3h0m4-4.5h0m0-1.5h0m1 0h0m3.5 1h0m13.5 0.5h0m9.5 1.5h0m5.5-2.5h0m0.5 1h0m5.5 0h0m1.5 1h0m5 2h0m4.5-4h0m3 4h0m2.5 1.5h0m0-6h0m3.5 2h0m2.5 3.5h0m1-4.5h0m5 0h0m4.5 2h0m1 2.5h0m0 1h0m0.5-4h0m0.5 2h0m0-1h0m8-1h0m1 0.5h0m2.5 0h0m5.5-2h0m0.5 6h0m0-6h0m8.5 4h0m4.5-5h0m0.5 1h0m2 0h0m1.5 2h0m4.5-2.5h0m0.5 6h0m1-7h0m3 6.5h0m0.5 1h0m0.5-0.5h0m2.5 0.5h0m9-1h0m3.5 1.5h0m1-3h0m0.5-4.5h0m2 4h0m5.5-1h0m11-0.5h0m1 2h0m5.5-1.5h0m6-1h0m4.5 1h0m0.5 4.5h0m3-2.5h0m2.5-3h0m2 1h0m6.5 3h0m1.5-2h0m0 2.5h0m1-0.5h0m3-6h0m1.5 3.5h0m6 0.5h0m2.5 2h0m4 0h0m1.5-0.5h0m0-1h0m0.5-1h0m1.5 3.5h0m5 0h0m4.5-0.5h0m2.5-3h0m1-1h0m5 1h0m5-3.5h0m1.5 3.5h0m4 0.5h0m0.5-2.5h0m2 1.5h0m0.5-2.5h0m7.5 3h0m7.5-1.5h0m2.5 4.5h0m5-5h0m3 5.5h0m8-2h0m3.5 0h0m0-4h0m2 1.5h0m3 2.5h0m1.5-3.5h0m2.5 6h0m1-1.5h0m5 1h0m3.5-6h0m1 5.5h0m4.5-6.5h0m12 3h0m3-2.5h0m3 0h0m1 5.5h0m4.5-4.5h0m10 2h0m-516.5 11.5h0m8.5-3h0m1.5 0.5h0m5.5-3h0m2.5-1h0m2 6.5h0m11-1.5h0m2 0.5h0m0 0.5h0m0.5-0.5h0m2-5h0m0.5 1h0m6-1.5h0m1 4h0m4-4.5h0m0 3.5h0m0 0h0m1.5 2.5h0m0 0h0m2.5-5.5h0m7 2.5h0m0-2h0m5.5 5h0m2.5-4h0m2.5 0.5h0m4 3.5h0m3-6h0m4 6h0m4-4h0m10.5-1h0m0.5 4.5h0m10-2h0m1 1.5h0m5 2h0m8-0.5h0m5-2.5h0m2 3h0m1-5h0m7-2h0m2 4h0m2 3h0m3.5-2h0m7 1h0m2-4.5h0m2-0.5h0m3 3.5h0m2-2.5h0m1 4.5h0m1.5-4.5h0m3.5 4.5h0m0.5-4.5h0m1.5 3.5h0m1.5-5.5h0m0.5 3h0m1 0h0m11 0h0m3.5-3h0m2-0.5h0m13 6h0m2.5-2h0m3-3.5h0m4 0h0m5 1h0m4.5 4h0m0.5 2.5h0m0.5-5.5h0m1.5 4.5h0m3-3.5h0m0 0h0m3.5-2h0m3-1h0m10 5.5h0m3.5-6h0m0.5 3.5h0m0 0.5h0m0.5 3.5h0m3 0.5h0m1-3.5h0m2.5-0.5h0m0.5-2.5h0m1 6h0m4.5-2.5h0m3.5 2h0m1-6.5h0m0 6.5h0m7.5-0.5h0m0.5-2.5h0m3.5-2h0m2 2.5h0m12 2h0m2-4h0m4-1h0m1 4.5h0m3-2.5h0m3-1h0m0.5 2.5h0m1.5 2h0m1.5-2h0m6.5 2.5h0m0.5-5.5h0m2 1.5h0m3.5-1h0m1.5 1.5h0m4-1h0m5 3h0m4.5-3.5h0m2.5-2h0m3.5 0.5h0m2 5h0m0 1.5h0m3.5-6h0m2.5 4h0m1-2.5h0m0.5 1.5h0m4.5 2h0m4.5-4.5h0m1.5 5h0m0.5-2h0m2-4.5h0m3.5 7h0m3.5-1h0m2 1h0m6-6.5h0m2 2h0m1-2.5h0m0.5 6h0m0.5-0.5h0m2.5-4.5h0m0.5 1h0m5.5 1.5h0m2.5 1.5h0m3.5 2h0m5-5.5h0m1 6h0m5 0h0m2.5 0h0m3-7h0m8 3h0m2-3h0m0.5 2.5h0m4.5 3h0m0.5 1h0m0.5 0.5h0m0.5-4h0m0.5 1.5h0m1-1h0m0.5-1.5h0m1-1.5h0m0.5 4h0m1-2.5h0m0.5-1h0m3-1.5h0m0.5 1h0m3.5 3.5h0m1.5 1h0m3.5-2h0m0 3.5h0m2-1h0m4-3h0m4.5 0.5h0m1-2h0m3.5-0.5h0m3-1h0m0.5 4.5h0m11 0.5h0m3 1.5h0m2-4h0m1 0.5h0m6.5 0.5h0m3.5 3.5h0m2-3.5h0m3-2h0m7 0h0m0 1h0m8 3.5h0m2.5-0.5h0m-517.5 10h0m16-5h0m10.5-0.5h0m13 2.5h0m5.5-0.5h0m1-3h0m5 2.5h0m2.5-0.5h0m1.5-2.5h0m2 3.5h0m7.5-1h0m3 4h0m1.5 0h0m0-7.5h0m0.5 4.5h0m9.5 2h0m1.5-3.5h0m1.5 0h0m6.5 0.5h0m11 1.5h0m3.5-4h0m0 6h0m2.5-3.5h0m7.5 4h0m1.5-3.5h0m5 3h0m0-0.5h0m2 0.5h0m0-0.5h0m5 0.5h0m8.5-2h0m1.5-0.5h0m28-0.5h0m2 3.5h0m6-5.5h0m3 5.5h0m2-2h0m0.5-4h0m1 6.5h0m0-1.5h0m1.5-4.5h0m0 3.5h0m1-5h0m0.5 3.5h0m3.5 0h0m1 0h0m2.5 0h0m8 2h0m14-3h0m4.5 0h0m9.5 2h0m0.5-4.5h0m7.5 0.5h0m0.5 4h0m6-3.5h0m1 3.5h0m2-3h0m10.5 0h0m7 3.5h0m0.5 2h0m6.5-4.5h0m1 2h0m4-4.5h0m4 2.5h0m2 3h0m0-3.5h0m0 3h0m1 1.5h0m3-6h0m0.5 1.5h0m0.5-1.5h0m8 2.5h0m1.5 3h0m2.5 0h0m2-5.5h0m9 4.5h0m3.5 0.5h0m3.5 1h0m1.5-0.5h0m1.5-1.5h0m1-3.5h0m9 0.5h0m2.5 3h0m11.5 0.5h0m5.5-2.5h0m0.5 4.5h0m1.5-2.5h0m2.5 3h0m4-1h0m0.5 0.5h0m0 0.5h0m1.5-7.5h0m3.5 4.5h0m2.5 0h0m1 1h0m1.5-2.5h0m7.5 1.5h0m2.5-3.5h0m5.5 3h0m1.5 3h0m1-5.5h0m2-0.5h0m0.5 6h0m0 0h0m1-2.5h0m2-4.5h0m2 7h0m1.5-2.5h0m2.5 2h0m0.5-6h0m1 4h0m5 0.5h0m3.5-1h0m1 1.5h0m0-1h0m3-2.5h0m0.5 1h0m8-1.5h0m0.5-1h0m1 5.5h0m7.5-5h0m2-0.5h0m0.5 1h0m0.5 3.5h0m1.5-4h0m5.5-1h0m1.5 3.5h0m20-0.5h0m1.5-2h0m3 5.5h0m1-2.5h0m3.5 0h0m3 2h0m2.5-1h0m2 2.5h0m18.5-3.5h0m3.5-3.5h0m1-1h0m4 2.5h0m3-1.5h0m4.5 5h0m3.5-3h0m1 1.5h0m2-4.5h0m0.5 4.5h0m6 3h0m0.5-3h0m1.5-0.5h0m7.5 2h0m1.5-2.5h0m14 3h0m-547.5 4.5h0m0.5-1.5h0m6-1h0m0.5 1.5h0m2.5 2h0m4.5 3h0m2.5 0.5h0m0-7.5h0m1 7h0m4.5-7h0m2.5 2.5h0m1.5 3.5h0m2.5-4h0m4.5-0.5h0m0.5 5h0m1-5h0m0.5-1h0m2.5 0.5h0m6 0.5h0m7 0h0m1 1h0m1-1h0m2 2.5h0m4.5 3h0m0.5-3h0m0.5 2.5h0m0-3.5h0m3 2.5h0m1.5-0.5h0m1 1h0m2-6h0m5.5 6h0m0.5-1.5h0m2 2h0m3.5 1h0m2-4.5h0m8-1h0m5.5 1h0m0.5 0.5h0m1 4h0m2.5-4h0m1.5-0.5h0m1-0.5h0m3 3h0m0.5-4.5h0m8.5 3.5h0m3 1.5h0m1.5-6h0m2 5h0m0-1.5h0m0.5 0.5h0m3-3.5h0m1.5 4.5h0m3.5 2.5h0m1.5-7h0m1.5 5.5h0m0.5 0.5h0m0-6h0m0.5 4.5h0m1.5-1h0m1 0h0m0.5 0.5h0m1-4.5h0m1 0.5h0m5.5 5.5h0m11-0.5h0m1.5-4.5h0m4.5 6h0m0.5-5h0m1.5 0.5h0m1.5 1.5h0m3-4h0m1 0.5h0m2 7.5h0m0.5-5h0m1 2.5h0m3.5-1h0m2.5 3h0m0-5.5h0m2 0h0m5 2h0m0.5 0.5h0m6.5 0.5h0m6-4h0m1 5h0m4-4h0m4.5 5.5h0m4.5-6h0m0.5 5.5h0m0-6.5h0m1.5 1.5h0m3 4h0m7.5-3h0m0.5-2h0m4 1h0m6.5-0.5h0m2.5 3h0m0-4h0m14 6h0m6.5-0.5h0m1-1h0m7.5 2h0m2-2.5h0m3 2.5h0m7.5-3.5h0m0.5-0.5h0m1.5 3h0m6-2h0m0 1.5h0m3.5-3h0m0-0.5h0m3 4.5h0m6-5h0m1 1.5h0m11 2.5h0m10-4h0m2-1h0m5 0h0m1.5 3h0m0 1h0m1.5-1.5h0m0.5-3h0m2 5h0m0.5 0.5h0m0-3.5h0m1.5 0.5h0m0.5 3h0m3-2h0m2-0.5h0m4-0.5h0m1.5 1h0m0 1.5h0m5-1.5h0m2.5 2.5h0m1.5 1h0m2.5-6.5h0m5.5 1h0m0 2h0m1 3.5h0m4-5h0m1 3.5h0m0.5 0.5h0m10 2h0m0-3.5h0m0.5-4.5h0m5.5 2h0m4.5 3h0m0.5 2.5h0m1-5h0m2 5h0m1.5-7h0m2 7.5h0m2.5-7h0m2 5h0m2.5-3.5h0m1.5 0.5h0m1.5 0.5h0m0-3h0m3.5 4h0m5.5 2h0m0-3.5h0m0.5-0.5h0m0-1h0m3 5.5h0m1.5-3.5h0m3.5 0.5h0m2 2h0m3.5-0.5h0m2.5 1h0m1-4.5h0m9.5 5h0m0.5-3h0m4.5 2h0m1.5-2h0m0 4h0m0.5-1.5h0m4-4h0m0-2h0m0.5 0.5h0m4 2h0m5.5-2h0m1.5 7h0m11.5-1.5h0m5.5 0h0m0-3h0m9.5 1h0m10.5 3h0m0-3.5h0m4.5-3h0m0 6.5h0m2-0.5h0m8.5-1.5h0m4.5 0h0m1.5-4h0m3 2h0m7 3h0m-545 8.5h0m1-1h0m5.5-2h0m0 1h0m2.5-1h0m2.5 0.5h0m1.5 2h0m1.5-5h0m3 2.5h0m0.5 0.5h0m0-4.5h0m4.5 2h0m12 0h0m1 4.5h0m8.5-5h0m5.5 3.5h0m1.5-2.5h0m1 3.5h0m3-2h0m11.5 2.5h0m1-2h0m1.5 1h0m2-2h0m2.5-1.5h0m0.5 2h0m1.5 2h0m1 0h0m4.5-1h0m0-1.5h0m1.5-2.5h0m1 5.5h0m5-0.5h0m1-0.5h0m0 0.5h0m1.5 0.5h0m11-5.5h0m1.5 7h0m7.5-3.5h0m2.5-4.5h0m1 7.5h0m1-1h0m1-1.5h0m0.5-5h0m4.5 2h0m0.5 0h0m4.5 4h0m2.5 2h0m1-2.5h0m0-2.5h0m0.5-1.5h0m1 4.5h0m1 2h0m0.5-4h0m5.5 3.5h0m0.5-4h0m1 0h0m0 0.5h0m0.5 0.5h0m0.5-3.5h0m0.5 2h0m2.5-0.5h0m1 4.5h0m1-6h0m4 5.5h0m0.5-3.5h0m1 2.5h0m2.5 2.5h0m0.5-5.5h0m4.5 2h0m1 1.5h0m2.5-3h0m0.5 0h0m1.5 5h0m1-6.5h0m12 3h0m16-3h0m1 2.5h0m0-1.5h0m0.5 2.5h0m0.5-4.5h0m0.5 7h0m0.5-4h0m1.5-3.5h0m1.5 5h0m5-5h0m9.5 7h0m7-1.5h0m0.5 0.5h0m0 1h0m1-2.5h0m8-4h0m5.5 3h0m2 4.5h0m2-2.5h0m7.5 0h0m1 0.5h0m1.5-0.5h0m9-0.5h0m1.5-2h0m1 4.5h0m0-6.5h0m1 1.5h0m3-1.5h0m1 1h0m0.5-1h0m0.5 2h0m3.5 2h0m3.5-5h0m3.5 2h0m4 1h0m4 4h0m0-1h0m0-4h0m2 4h0m0-4.5h0m0-1h0m2.5 5.5h0m4-1.5h0m1 1.5h0m4-0.5h0m1-2h0m0-1h0m4.5 5h0m1-1h0m1.5-4h0m0 0h0m1.5 0h0m1.5 2h0m0.5 3h0m0.5-6h0m7.5 5.5h0m2-5.5h0m11-1h0m5 4.5h0m14-4h0m0.5 5.5h0m1-3.5h0m0.5 1h0m4.5 2h0m3-5.5h0m1.5 6h0m0-3.5h0m1 3.5h0m1-1.5h0m0-4h0m0.5 0h0m0.5-1h0m3.5 2h0m1 4.5h0m1.5 0h0m4-5.5h0m1 0h0m1.5 1.5h0m2.5 4.5h0m2.5-2h0m2.5-2h0m2-2.5h0m1.5 3h0m3 4h0m7.5-5h0m4 2h0m3.5-4h0m4 6.5h0m1-2.5h0m0.5-4h0m0 4h0m1 0h0m3.5 3.5h0m1.5-1.5h0m0-3.5h0m1-1h0m2.5 3h0m12 1.5h0m0.5-3.5h0m1.5 4.5h0m0-4.5h0m3 0.5h0m2 4h0m0.5-0.5h0m0.5 0.5h0m2.5-5h0m1.5 1.5h0m0.5 1h0m3.5-2.5h0m1.5-1.5h0m4.5 1h0m8 2.5h0m3.5 1h0m0-1.5h0m0-2h0m1.5 1.5h0m1.5-1h0m0.5 0h0m1 2.5h0m0.5-4h0m1.5 0.5h0m1.5-0.5h0m2.5 3h0m6.5 2h0m1.5-0.5h0m1 0h0m0.5 2h0m3.5-0.5h0m8.5-3h0m9.5-2.5h0m4.5 3h0m2-2.5h0m13.5 1.5h0m2 0h0m3 0h0m1.5-1h0m5.5 4.5h0m6.5-2h0m5.5-0.5h0m-553.5 11h0m1.5-6.5h0m4.5 6.5h0m11-6h0m2 4h0m2.5 1h0m4-2h0m1-0.5h0m2 3h0m0.5-3.5h0m1-3.5h0m3.5 3.5h0m2 4h0m2-3.5h0m9-3.5h0m5.5 4h0m1-4h0m3.5 5h0m0-3h0m2.5-0.5h0m8 0.5h0m2.5-0.5h0m1.5 0.5h0m7.5 3h0m6 1h0m1-5h0m0 5h0m5.5-6h0m2 2h0m0.5-1.5h0m0 2h0m1.5-1.5h0m0.5 3.5h0m1-0.5h0m2 3h0m0-4h0m1.5-0.5h0m3-2.5h0m0.5 7h0m2.5-4.5h0m2.5-0.5h0m5.5 1.5h0m10.5-3.5h0m10.5 4.5h0m0 0.5h0m1-0.5h0m0.5 2h0m0-7h0m1.5 3.5h0m1-1h0m0-1h0m2.5 3h0m3.5-1.5h0m6 4.5h0m1.5-0.5h0m5-6.5h0m1.5 0.5h0m1.5 7h0m5-3h0m1-1.5h0m1 0h0m0.5 1h0m0-2h0m0.5 3h0m1-1h0m1.5-0.5h0m1 0h0m2 1h0m4.5-2.5h0m5 3h0m4-2h0m3.5 2.5h0m3.5 2h0m9.5-4h0m3 3.5h0m3-5.5h0m1.5-2h0m0.5 8h0m2-3.5h0m0 2.5h0m3-2.5h0m0.5-1.5h0m1.5 4.5h0m5-1.5h0m1.5-3.5h0m3 2.5h0m3-3.5h0m1.5 5h0m0.5-0.5h0m5 2h0m2-1.5h0m1-4h0m10.5 1.5h0m4 3.5h0m4.5-4.5h0m5 3h0m7.5 0.5h0m2.5-5h0m2 2.5h0m1-1.5h0m3-1h0m9.5 2.5h0m6 1h0m0-4h0m4 3h0m2.5 0h0m1.5-2h0m1.5-0.5h0m5.5 2h0m1 0.5h0m7-2h0m8 2h0m1-3h0m3 1.5h0m1.5 1.5h0m4 1h0m0 2h0m3-0.5h0m0.5 0h0m0 1h0m3.5-3.5h0m0.5-1.5h0m1 0h0m2.5-1.5h0m7 2.5h0m8 2.5h0m2-1h0m0.5-2.5h0m0.5-0.5h0m0 1h0m0-1h0m0 4.5h0m2-5.5h0m4 4.5h0m9-2.5h0m0.5 1.5h0m0.5 3.5h0m1-5h0m0.5-2.5h0m1 4h0m2-4h0m4.5 6.5h0m2.5-4h0m1-1h0m8-1h0m0 4h0m1 2h0m2-4h0m0.5 3.5h0m4.5-3.5h0m5-1.5h0m1 2.5h0m6 2.5h0m3 0h0m0.5 0h0m1.5-3.5h0m2.5 4.5h0m3-0.5h0m0.5-2h0m4 0h0m1-5h0m8 0.5h0m2 6.5h0m1-6.5h0m3.5 3.5h0m2 2h0m0.5 2h0m0-3.5h0m6-3h0m2.5 1h0m9 4.5h0m3.5-5h0m2 1h0m2.5-1.5h0m0.5 3.5h0m0.5-2h0m2-1.5h0m5.5 3.5h0m8.5-2.5h0m8 2h0m1.5 3h0m0.5-1.5h0m12.5-4.5h0m0 6h0m0.5-5.5h0m3.5 5.5h0m21.5-6h0m2.5 5.5h0m2 0h0m-555.5 4h0m4 3.5h0m1-1h0m2-0.5h0m4-0.5h0m1-4h0m3 2.5h0m1.5 3h0m0.5 1.5h0m0-6h0m7-0.5h0m1.5 2h0m5 3.5h0m2.5-4h0m1.5 3h0m3-1h0m0.5-3.5h0m1 3h0m0.5 0h0m4.5-2h0m0.5 2h0m0.5-1h0m2 2.5h0m1-1h0m0 3.5h0m0.5-8h0m0 7h0m0 0h0m0-6.5h0m3 0.5h0m5 6.5h0m7.5-1.5h0m0-5h0m3.5 6.5h0m3 0.5h0m2-1.5h0m7-4.5h0m1.5 2h0m4.5-3h0m5 1.5h0m3 3.5h0m0.5-4.5h0m1 1h0m1.5 0h0m0.5 3.5h0m1-3.5h0m2-1h0m2.5 2h0m1 1h0m5 2h0m1.5 1h0m0.5-4.5h0m2.5 3h0m4.5-2.5h0m1.5-2h0m7.5 5h0m0.5 1h0m12.5-1.5h0m3-3.5h0m13 5h0m0.5-5h0m0.5-1.5h0m2 4h0m0.5-4h0m0.5 2.5h0m2 2.5h0m0.5-0.5h0m3.5-1.5h0m1 2h0m2.5-1h0m0.5-2.5h0m2-0.5h0m0.5 5h0m0 0h0m0.5-1.5h0m1-1h0m1.5-4h0m0 1.5h0m5.5 3h0m4-0.5h0m0.5-1h0m1.5 3h0m5-1h0m4-4.5h0m1-0.5h0m0 0h0m2.5 1.5h0m0 3.5h0m3 0h0m2-3h0m4-0.5h0m5.5 2.5h0m4.5-3.5h0m1.5 4.5h0m4-1.5h0m4 0h0m8.5 3h0m0-2.5h0m1-3.5h0m1 1h0m0.5 1.5h0m3 3h0m1.5 0.5h0m2-1.5h0m2 1h0m0.5-1h0m1-4.5h0m0.5 3h0m1.5-2.5h0m0.5 1.5h0m1.5 1.5h0m4.5 1.5h0m1-1h0m6-2h0m3 0h0m0-1h0m1.5 1.5h0m10-1.5h0m1.5-1h0m0.5 1h0m5 4.5h0m1.5-1h0m3.5-3.5h0m1.5 4.5h0m2.5-4.5h0m0.5 1.5h0m1 1.5h0m1-4h0m6 6.5h0m2.5-2h0m2-3h0m14 3h0m0.5 1h0m1.5-5h0m0-0.5h0m13 6h0m10-7h0m2.5 0h0m2 7.5h0m0-2h0m0.5-5.5h0m2 6h0m1-5h0m2.5 2h0m2.5 4.5h0m0-4.5h0m0.5 3.5h0m2-5.5h0m1.5 2h0m1 0h0m0.5 0h0m2 4.5h0m2.5-6.5h0m1.5-1h0m0.5 3.5h0m0 0h0m3 2.5h0m3 0.5h0m0.5-1.5h0m4-4h0m2.5 3h0m0.5 2.5h0m3-4h0m11.5-2h0m0.5 7h0m7.5-5.5h0m2-0.5h0m1 3.5h0m2.5-2.5h0m3 4.5h0m1-7h0m7.5 8h0m0.5-3.5h0m1.5-2h0m0.5 1.5h0m2.5 2h0m0.5 0.5h0m0.5-4h0m8 1.5h0m3-1.5h0m4 3h0m0.5-2.5h0m1-2h0m2 4h0m1.5 1h0m4-4.5h0m1 6h0m5-7h0m0.5-0.5h0m3.5 0.5h0m0.5 7h0m1.5-2h0m3.5-0.5h0m5.5 3h0m1.5-1h0m7-2h0m7 0.5h0m1-1h0m5-2.5h0m4 3h0m1-3h0m1.5-1.5h0m1 2h0m3.5 0h0m1 0h0m5.5 5h0m6-2h0m1.5 0h0m1 2.5h0m4-6.5h0m3.5 0h0m3 1.5h0m4.5 2h0m2 1.5h0m1.5-4.5h0m1 0.5h0m0.5 5h0m2-3h0m6.5-2.5h0m1-1h0m7.5 4h0m-564.5 9.5h0m7.5 0h0m3.5-4h0m2 5h0m4.5-4.5h0m0.5-1.5h0m2 1.5h0m1-1h0m10.5 1h0m0.5 1.5h0m0 0h0m2 1.5h0m1-2.5h0m4 2.5h0m3-2.5h0m2 4h0m5.5-4h0m0.5 0.5h0m2-0.5h0m0.5 1h0m3-4h0m2 1.5h0m0.5 6h0m1-2.5h0m1 1.5h0m0 0.5h0m5.5-5h0m3 0h0m0.5 1.5h0m3.5 4h0m0.5-1.5h0m10-1h0m2.5 1.5h0m0.5-2h0m3-4h0m2.5-0.5h0m0.5 3h0m1-2.5h0m3.5 3h0m18.5 2.5h0m0.5-2h0m1-3.5h0m5 1h0m2-0.5h0m1 0.5h0m1.5 1h0m4 1.5h0m3.5 2.5h0m4-2.5h0m1-2h0m1.5 1.5h0m2.5 1.5h0m0 0h0m2-4h0m4.5 1h0m5-2h0m2 3h0m4.5-3h0m1 4.5h0m3.5-5h0m2.5 4h0m3 3h0m10-2h0m6.5-2h0m0.5 2.5h0m6-2.5h0m1.5 1h0m0 4h0m3-0.5h0m1.5 0h0m0.5-5h0m4-2h0m0.5 6h0m4-0.5h0m10.5-4.5h0m0.5 1h0m2.5 0.5h0m0.5 0h0m1 1h0m8-0.5h0m0-1h0m2 4.5h0m6.5-5h0m0.5 1h0m2 1.5h0m1 3h0m2.5-7h0m2.5 0.5h0m3 2h0m6.5-2h0m0.5 5h0m0.5-0.5h0m2 1h0m1-2h0m4-3.5h0m5 2.5h0m1-1.5h0m4.5 1.5h0m2.5-2h0m2.5 6.5h0m0-4.5h0m0.5 3.5h0m4-1.5h0m3.5-3.5h0m0.5 4.5h0m1-3.5h0m0.5 4.5h0m2-2h0m3.5-1.5h0m1-4h0m1.5 6.5h0m1.5-5.5h0m6.5 5.5h0m6.5 0.5h0m1-6.5h0m1.5 6.5h0m0.5-0.5h0m16-3h0m2.5 2.5h0m0.5-1h0m1.5 1h0m0-1h0m2 2.5h0m2.5-2.5h0m1.5 3h0m1-4h0m9 3h0m5-4.5h0m3.5 5h0m1-1.5h0m2-3h0m0.5 0h0m0.5 2h0m3.5-4.5h0m0.5 6.5h0m1-2h0m2.5-5h0m6.5 5h0m0.5 1h0m10-0.5h0m1-5.5h0m0 4.5h0m0.5 0.5h0m1-3.5h0m6 2h0m3.5-1h0m0.5-2h0m2.5 3.5h0m1 1.5h0m5-3.5h0m1.5 2.5h0m0.5-4h0m0.5 6.5h0m0.5-5.5h0m4.5 1.5h0m2-2h0m4 6h0m0.5-4.5h0m9 4.5h0m7-3.5h0m3.5 0h0m2-2.5h0m3.5 5h0m1.5-1h0m2.5-4h0m0 2h0m1 4h0m0-4.5h0m2 2h0m3-1h0m1 0h0m2 2.5h0m0-0.5h0m1.5 0h0m1.5-2h0m1.5 2.5h0m0.5 0.5h0m1-3h0m2-3h0m1 0h0m0.5 5.5h0m4.5-0.5h0m2.5 2h0m0.5 0h0m0.5-0.5h0m1.5-0.5h0m6-4h0m2.5-2h0m3 5h0m7.5-0.5h0m1.5 0h0m2 1.5h0m5.5 1h0m3.5 0.5h0m1-7.5h0m0.5 0h0m2 4h0m0.5 0.5h0m2 1.5h0m5.5-6.5h0m0.5 5.5h0m0.5-2h0m1.5 1.5h0m0.5-2h0m3 2.5h0m6.5 1.5h0m0.5-1h0m3-5h0m2-0.5h0m3 1h0m0.5 3.5h0m1-4.5h0m0.5 5h0m1.5-4h0m5 3.5h0m1-4.5h0m7 0.5h0m1 3h0m3 1.5h0m4.5-3.5h0m-561 7.5h0m2 3h0m0.5-1.5h0m1.5 0h0m0.5 1.5h0m3.5 1.5h0m1.5-4.5h0m1.5 2h0m2-2.5h0m2.5 6.5h0m6-3.5h0m0 1.5h0m14-3.5h0m5 5.5h0m3.5-4h0m2.5 2.5h0m4-3.5h0m5.5-1.5h0m1.5 3h0m4.5 1.5h0m1.5-2h0m0 0.5h0m8-3.5h0m3 0h0m5.5 4h0m0 2.5h0m2.5-4h0m0-2.5h0m0.5 2h0m16.5-2h0m1 2.5h0m0 2.5h0m0-1h0m9 0h0m3.5 2.5h0m0.5-4h0m4 2h0m2-1h0m1 2h0m0.5 1h0m0.5 1h0m0-1h0m5.5-6h0m3.5 6.5h0m1-4h0m1.5-3h0m0.5 1h0m3 4h0m4 0h0m0.5-4.5h0m1 6h0m11-6h0m0.5 0h0m1 3.5h0m3-2.5h0m0-1h0m0.5 2h0m1-2h0m1 4.5h0m4 0h0m6 0.5h0m4.5-0.5h0m0.5-1.5h0m5-0.5h0m4 2h0m0-5h0m2.5 1h0m2 6h0m1.5-2.5h0m0.5-3.5h0m3.5 4h0m4-0.5h0m3-4.5h0m1 7h0m0.5-4.5h0m4-1.5h0m0 2h0m1-2h0m2 2.5h0m0.5 0h0m8 1h0m1.5 0h0m0.5-1h0m4.5 3.5h0m0-1h0m2-4h0m0.5 5h0m0-2h0m2.5 0.5h0m7.5-2h0m2-0.5h0m0.5 2.5h0m2-6h0m2.5 1h0m3 5h0m1.5-6h0m4 3.5h0m5 1.5h0m1.5 0.5h0m0.5-1h0m8.5 2.5h0m0.5-6.5h0m7.5 5.5h0m0.5 1.5h0m3-2.5h0m9-1.5h0m0.5 2h0m2.5 0h0m9 0h0m0.5 1h0m0.5-5h0m3.5 5.5h0m1.5 0.5h0m2-7h0m1 0h0m3.5 0h0m1.5 5.5h0m4 1.5h0m0.5-2.5h0m1 1.5h0m3 0h0m0-6.5h0m1.5 4.5h0m1-4h0m1 4h0m0.5-3.5h0m14-0.5h0m0.5 0.5h0m1 1h0m2.5 5.5h0m2-4.5h0m3.5 2.5h0m1.5-4.5h0m3 3h0m2.5 2h0m3-3h0m1 2h0m4 0.5h0m0-0.5h0m1-2h0m0.5 4.5h0m2-2h0m0 1h0m1-3h0m0.5-1.5h0m1 1h0m2.5 1h0m5.5 1h0m0.5-2.5h0m0.5 0.5h0m2.5 0.5h0m0.5-0.5h0m10 2h0m0 0h0m1.5-2.5h0m4.5 0h0m7-1h0m1.5 2h0m1.5-3.5h0m1.5 6.5h0m0-4.5h0m0.5 3.5h0m0.5-2h0m5.5-2h0m8 3.5h0m3.5-1.5h0m3 3h0m0 0h0m0.5 0.5h0m5-4h0m1 0h0m2-2.5h0m2 1.5h0m0.5 0h0m4.5-1h0m0.5 4h0m4.5-4.5h0m0 3.5h0m7-3h0m2 4.5h0m1 1.5h0m7 1h0m3.5-0.5h0m1.5-3h0m2 3.5h0m2.5-0.5h0m0-4.5h0m0.5-2.5h0m4.5 1.5h0m10.5 0h0m1 2.5h0m1.5-2h0m2.5 4h0m1-5h0m0.5 4.5h0m5.5 2h0m5.5-8h0m1 2.5h0m1.5-1h0m1 1h0m11.5 2h0m4.5-3h0m4.5 0.5h0m3 3h0m3.5 1h0m1.5-5h0m4.5 0.5h0m5 4h0m-566.5 4h0m6 2h0m3 2h0m4.5 2h0m0-6h0m3.5 3h0m0.5-2h0m7.5-0.5h0m1.5-2h0m1 1h0m2 5h0m0.5-3.5h0m1.5-0.5h0m1 1.5h0m0.5 4h0m9.5-5h0m1 4.5h0m2-2h0m9 2h0m1-5h0m2 0.5h0m0.5 3.5h0m4 0.5h0m2-1h0m0.5 2.5h0m0.5-2h0m15-1.5h0m6 1.5h0m5-2.5h0m0 3.5h0m2.5 0.5h0m5-1h0m7-2.5h0m2-2.5h0m0.5-0.5h0m0.5 6.5h0m0.5-3.5h0m1.5 0.5h0m1-4.5h0m0 1.5h0m2 4h0m3.5-5.5h0m2.5 4h0m6.5-1.5h0m0 1.5h0m0-0.5h0m0.5-3.5h0m6 2h0m1.5 1.5h0m3.5-2.5h0m0.5 2h0m7 4h0m1.5-6.5h0m2 2.5h0m0 4.5h0m3-1.5h0m3-4h0m1 1h0m1 3h0m0.5-2h0m0.5-3.5h0m1 7h0m4-1.5h0m0 1.5h0m0-6h0m0.5 4.5h0m6-5h0m1 2.5h0m1-1h0m6.5 4h0m2-3.5h0m3 4h0m0.5-6.5h0m4 6.5h0m15.5-2h0m1-2.5h0m0.5 3.5h0m3.5-5.5h0m0.5 1h0m8 6h0m0-1h0m2.5-4.5h0m1.5 0h0m5 5h0m1.5-1h0m9 1h0m1 0.5h0m17.5-5.5h0m7 2.5h0m1-2h0m1-0.5h0m4-1.5h0m1.5 3h0m2.5 2h0m9 0.5h0m0-3.5h0m2 2h0m1.5-1h0m2 0h0m1-3h0m2 1.5h0m3 5h0m1-6.5h0m1.5 4h0m4 3.5h0m0.5-1h0m2-6h0m0.5 2h0m4 3.5h0m0.5-4h0m1.5 0h0m0.5 3.5h0m2.5-1.5h0m5.5-3.5h0m3 1.5h0m2 3h0m0 2h0m0.5 0h0m16.5-7h0m4 1h0m1 5.5h0m3 0h0m1.5-3h0m1 4h0m6.5-7.5h0m4.5 3.5h0m10.5-2h0m1-0.5h0m6 2.5h0m1 3h0m1.5-4h0m0.5 3h0m6-3.5h0m2-2h0m9.5 7h0m3.5 0.5h0m2-0.5h0m3-4h0m1 2.5h0m1-4.5h0m0.5 4.5h0m1.5-0.5h0m1.5 0.5h0m4-4h0m0.5 1h0m5 0h0m2 4h0m0-1.5h0m2-1h0m1.5-2.5h0m0.5 5.5h0m2.5-1.5h0m2-3.5h0m1.5 3.5h0m3-4.5h0m3 0h0m1.5 3h0m3.5-0.5h0m3.5 0h0m1.5 2.5h0m2 0.5h0m5-0.5h0m7 1.5h0m5-3.5h0m1.5-4.5h0m4 7.5h0m2-1h0m2 0.5h0m0-5h0m7-2h0m5.5 1.5h0m2.5-1h0m1.5 1.5h0m4.5 1.5h0m2-0.5h0m6.5 0.5h0m2.5 3h0m4-5.5h0m0.5-0.5h0m1 6h0m1.5-2h0m0.5 0h0m8.5 3h0m0.5-5.5h0m6.5 2h0m4.5 2h0m0 1h0m2.5-3h0m2 3.5h0m6-0.5h0m2-5.5h0m3 5h0m0-0.5h0m4-4h0m2 5.5h0m1.5-6h0m0 1.5h0m1-0.5h0m1 4h0m5 1h0m2-5h0m4.5-2h0m-574.5 10.5h0m16-1.5h0m4 3.5h0m1 1h0m5-1h0m7 2.5h0m2.5-6.5h0m3.5 1.5h0m0-1.5h0m2 3h0m3 4h0m1-2h0m7-2h0m5.5-2.5h0m5 0.5h0m0.5 4.5h0m2.5 1.5h0m17.5-4h0m8-3h0m0 6h0m2-4.5h0m1.5-0.5h0m8 2.5h0m4-3h0m1.5 3h0m0.5-3h0m1 6h0m14.5-0.5h0m2-6.5h0m1 5.5h0m8-0.5h0m1.5-3h0m1 5h0m8-6h0m0.5-0.5h0m3 4.5h0m0.5-3.5h0m0.5 1h0m1 5h0m3.5-7h0m0 1.5h0m2-2h0m1 1.5h0m2 3h0m11.5-0.5h0m1.5-0.5h0m0.5 4h0m2.5-4.5h0m3.5 2h0m2 2h0m0.5-5.5h0m0.5 2h0m0.5-2.5h0m9.5 4h0m0.5 1.5h0m2-1.5h0m5.5-5.5h0m3 0.5h0m0.5-0.5h0m1.5 2h0m1-0.5h0m1 5h0m3-2.5h0m0-1.5h0m3.5 4h0m3-3.5h0m3-2h0m1.5 5.5h0m0.5-1h0m4-5.5h0m1.5 1h0m3 7h0m0-2h0m0.5-6h0m0 8h0m2.5-2h0m7.5-0.5h0m5-3h0m1.5 0h0m2.5-1.5h0m0.5 6h0m10-2.5h0m1.5 1.5h0m1.5 1h0m1 0h0m1-1.5h0m5-3.5h0m3.5 4h0m7.5 0.5h0m5-0.5h0m0.5-6h0m2.5 0.5h0m1.5 0.5h0m5-0.5h0m3 4h0m7 1h0m0-1.5h0m8.5 2.5h0m7 1.5h0m3.5-3h0m1.5-1h0m1.5 3.5h0m1-0.5h0m1 0.5h0m2.5-3.5h0m0 3.5h0m0.5-0.5h0m1-2h0m2 3h0m0-4.5h0m0.5 2.5h0m1.5-4h0m3 2h0m4 2h0m1-4h0m0.5 4.5h0m4 0h0m2-4h0m4 5h0m2 0h0m1.5-6h0m1 0.5h0m1 0h0m4 1h0m11 4h0m2.5-2.5h0m2.5 3h0m2 0h0m1-2h0m1 1.5h0m4.5-1.5h0m5-3.5h0m2 2.5h0m2-1.5h0m0.5 3h0m17-6h0m5 6.5h0m8.5-6.5h0m5.5 1.5h0m0.5 6h0m2.5-6.5h0m2.5 3.5h0m13-4h0m6 1h0m0.5 1.5h0m3 2h0m0-1.5h0m1 2h0m0-1h0m2.5 0.5h0m0-4h0m0 0h0m1 4h0m0 0.5h0m3-3h0m2.5 2h0m1.5 2.5h0m0.5 0.5h0m3-2h0m0-2h0m17.5-2h0m2 3h0m0.5-1.5h0m0 0h0m2-2.5h0m3 0h0m2 4h0m1 0h0m5.5 1h0m0 0.5h0m1-1h0m7.5-3.5h0m0.5 2.5h0m1.5 2.5h0m2.5 0.5h0m3.5 0.5h0m1.5-1.5h0m2.5-0.5h0m4.5 2h0m11-2.5h0m3.5-4.5h0m5.5 0.5h0m0.5 0.5h0m-559.5 13.5h0m1 1h0m3.5-1h0m4-3.5h0m3 2h0m1 0.5h0m19-5h0m0.5 6.5h0m3.5-1.5h0m0.5 0h0m0-2h0m0.5-0.5h0m3-3.5h0m5.5 6h0m5-2h0m2-1h0m4.5-1.5h0m1.5 5.5h0m4-3.5h0m0 0.5h0m0-2.5h0m4 4h0m8-1h0m0.5-4h0m2 1h0m2.5 1h0m4-2h0m0 0h0m0.5 6h0m0-6h0m0.5 0.5h0m1.5 1.5h0m2 3h0m3.5-2.5h0m15-1.5h0m1 4.5h0m2.5-3h0m0 4h0m0-1h0m0-3h0m1.5 0.5h0m0.5 3.5h0m0-2.5h0m0.5 3.5h0m5.5-4h0m5 1h0m0.5-1.5h0m0-1h0m5 1h0m3 2h0m5-2.5h0m6-0.5h0m6.5-0.5h0m7-0.5h0m0 4.5h0m3.5-2h0m2.5-3.5h0m3.5 0h0m3 2h0m2.5 0h0m5.5-1h0m11.5 4.5h0m2.5 1h0m1-2h0m8-1h0m3 3h0m3.5-3.5h0m1 4.5h0m1-5h0m3-2.5h0m1.5 4h0m4.5 1h0m3-1h0m2-3h0m1.5 0h0m9 2.5h0m3-0.5h0m1-1.5h0m0 5.5h0m2.5-1h0m1-3h0m0.5-3h0m4 6h0m1-1h0m1-4.5h0m0-0.5h0m2 5h0m1.5-5.5h0m9.5 5h0m1-0.5h0m5 3h0m3-2h0m0.5-1.5h0m0.5-3.5h0m2 5.5h0m7.5 0.5h0m1.5-2h0m2.5-3h0m7.5 1.5h0m9.5-0.5h0m6 2.5h0m7.5-4.5h0m0 4.5h0m1.5 0h0m1.5-1h0m2.5-2.5h0m4 0h0m1.5 4h0m4.5-2.5h0m10 0.5h0m4.5-3h0m3 0.5h0m5.5 0h0m1 0.5h0m0.5 0h0m2 2.5h0m4 3.5h0m2.5-6h0m2 2h0m2.5-0.5h0m6.5 3.5h0m8.5-4h0m15.5 3h0m2-4.5h0m2 2.5h0m5.5 4h0m13-4h0m2.5-1h0m6.5-1h0m3 1.5h0m10.5 2.5h0m1 1.5h0m9.5-2h0m5 1h0m3.5 0h0m2 2h0m1.5-1h0m4-1h0m6.5-1h0m2.5-1h0m0.5 0h0m0-2h0m3 4.5h0m7 0h0m7-4.5h0m1-1h0m0.5 4.5h0m1.5 2.5h0m3.5-7h0m1.5 1.5h0m0-1h0m0.5 3.5h0m3.5-3.5h0m2 4.5h0m9-2.5h0m5 3h0m1.5-4.5h0m1.5 5.5h0m1.5-3h0m0.5 2.5h0m0.5-1h0m5-3.5h0m0 3.5h0m1.5 1h0m3-1h0m2-3.5h0m2 0.5h0m1.5 2h0m1-4.5h0m1.5 2.5h0m1 0h0m1.5 3h0m7.5 0h0m-571 5.5h0m19.5 1.5h0m1.5-4h0m6.5 3h0m0 1h0m11 2.5h0m6.5 0h0m3.5-4h0m7-2.5h0m2 4.5h0m10-5h0m10 7h0m7.5-2h0m3.5-1h0m6.5-4h0m7.5 3h0m4.5-2.5h0m0.5 1h0m0 6h0m13-0.5h0m2-6.5h0m0.5 2h0m1-2h0m2 1.5h0m1-2.5h0m3 2h0m2.5 0h0m2 2.5h0m2 1.5h0m5-4h0m0.5-1.5h0m1.5 6h0m1.5-4h0m1 3.5h0m2-1h0m3.5 1h0m0.5-3.5h0m0 0h0m1 4h0m2.5-6h0m0.5-0.5h0m2.5 7h0m0.5 0h0m0-2.5h0m2 1h0m1 1.5h0m0.5-1.5h0m3 0h0m0.5-3h0m0.5 5h0m8.5-3.5h0m8-1h0m2 0h0m0-2.5h0m1 4h0m2.5-3.5h0m4 6h0m0.5-7h0m1 2h0m2 3.5h0m1-2.5h0m0.5-2.5h0m5 0h0m20.5 0.5h0m1.5-0.5h0m3.5 2h0m3 4h0m1-1h0m9.5-0.5h0m5-1.5h0m4-1h0m2 1h0m0.5 1h0m1.5-2h0m2.5 0h0m2.5-1.5h0m1.5 0.5h0m5.5 1.5h0m5.5 3.5h0m1.5 0.5h0m0.5-1h0m1.5-1.5h0m0.5 2.5h0m3.5-3h0m6 2.5h0m0 0.5h0m1-2.5h0m1 3.5h0m8.5-3h0m2.5-2h0m2.5-1.5h0m9 2.5h0m2.5-2.5h0m2.5 2h0m0 0h0m2 0h0m7.5 2h0m2-3.5h0m6 4h0m1 0h0m0.5-3h0m1 3.5h0m1.5-1h0m0.5-1.5h0m1.5 2.5h0m4.5-2.5h0m0.5-3.5h0m1 7.5h0m2-6h0m1.5 1.5h0m3 0h0m0.5 0.5h0m6.5-1.5h0m0 3.5h0m2.5-0.5h0m1.5-4.5h0m1.5 6h0m1-4h0m3 3h0m3.5-5.5h0m1 1h0m2 1h0m0.5-0.5h0m0.5 2.5h0m2 3h0m8-5h0m0.5 4h0m0.5 0.5h0m3.5-4.5h0m4.5 3.5h0m1.5 0.5h0m3-3.5h0m0.5-1.5h0m2.5-0.5h0m0 2.5h0m2-2.5h0m7-0.5h0m5 0.5h0m5 0.5h0m0.5 4.5h0m1 1h0m16-7h0m3.5 8h0m3.5-3.5h0m0.5 2.5h0m2.5-3.5h0m1.5 0.5h0m0.5-1.5h0m1-1.5h0m1 6.5h0m0-2.5h0m3.5 2.5h0m2.5-3.5h0m2.5 1.5h0m0.5 1h0m5.5-1h0m3-1h0m6-3h0m3 5h0m1 0h0m5.5-2h0m3.5-2h0m1 1h0m1.5-1h0m6 3.5h0m1.5-4.5h0m3.5 0.5h0m3 3.5h0m12-3h0m1.5 0.5h0m16 1h0m3.5 2.5h0m1.5-4.5h0m7 5h0m4.5-6.5h0m0.5 5.5h0m1-1h0m2.5-1h0m8-2.5h0m1 1.5h0m0 1.5h0m3.5-4h0m-554 9.5h0m4.5-2h0m15.5 2h0m1 4.5h0m0.5-6h0m8.5 6.5h0m1-2h0m15-1h0m1.5 1.5h0m2 0.5h0m0.5-0.5h0m0.5 2h0m1-6.5h0m0.5 0.5h0m1.5-1h0m0.5 2.5h0m1.5 0h0m0 0.5h0m4.5 3h0m1-2h0m0 2.5h0m3.5-0.5h0m1.5-1h0m1.5 1h0m8-0.5h0m0.5-0.5h0m0-4.5h0m3.5 5.5h0m0-1.5h0m1.5-4h0m8.5 0h0m1 0.5h0m0 1.5h0m2.5-2h0m2.5 3h0m0.5-2h0m0.5 0h0m2.5-1.5h0m1.5 1.5h0m0 0.5h0m3.5-2h0m1-0.5h0m0 7h0m2.5-6h0m0 4h0m3 0.5h0m1.5-1h0m5.5 2h0m2-4h0m1 1h0m4 4.5h0m1.5-3h0m5-3.5h0m3 2h0m3-3h0m4.5 0h0m4.5 6.5h0m2.5-5h0m2-1.5h0m8 1.5h0m1.5-1.5h0m0 1.5h0m3.5 5h0m1.5-6.5h0m0.5 4.5h0m3-3h0m4 0.5h0m2-2.5h0m0.5 7h0m6.5-1h0m1.5-4.5h0m5.5 3.5h0m0.5-3.5h0m5.5-1.5h0m8 2.5h0m0 5h0m1-5.5h0m5 4h0m0 1h0m1.5-1.5h0m1 0.5h0m0 0h0m0-2.5h0m8-2h0m2.5 1.5h0m0-1.5h0m5 4h0m0 0.5h0m4-3.5h0m2 3h0m0-1h0m0.5-2.5h0m0 5.5h0m0-2h0m1.5-0.5h0m0.5 2h0m1.5-6h0m1 0h0m2 0h0m10 3.5h0m4-1.5h0m3.5-2h0m0.5 1h0m1 2h0m1.5 0.5h0m1.5-0.5h0m5.5-2.5h0m1.5-1.5h0m0 7.5h0m10-1.5h0m1-4h0m2-1.5h0m4 6.5h0m4.5 0h0m6-1h0m7-5h0m1 1.5h0m2 2h0m0.5 2h0m1 0h0m1-4.5h0m1 1.5h0m2.5 1h0m0.5 0.5h0m10.5 1.5h0m1-2.5h0m0.5 0.5h0m0-2.5h0m0.5-1h0m0 4h0m0.5 1h0m2-2.5h0m0-2.5h0m1.5-1h0m1 6h0m1.5-5.5h0m1.5 7h0m0.5-2.5h0m0.5 3h0m1.5-2.5h0m1-1h0m2-0.5h0m4-3h0m2 2h0m4.5-1.5h0m1.5 3.5h0m3.5 2h0m2 1h0m2.5-0.5h0m2-5h0m1 3h0m0 0.5h0m0-4.5h0m0.5 2.5h0m0.5-1.5h0m7.5-2.5h0m2 3.5h0m2.5 0h0m5 1.5h0m0.5 1h0m1.5-5h0m3 4h0m5-4.5h0m0.5 4.5h0m11 3h0m5-7h0m1 5h0m2.5-3h0m0.5 2h0m0 2h0m0-2h0m6 2.5h0m6-2h0m1 1.5h0m2.5-0.5h0m2.5-2h0m3 3h0m5-1.5h0m4-4.5h0m5.5 6h0m1-6.5h0m2 1.5h0m1.5 4h0m1.5-2h0m2.5-4.5h0m0.5 7h0m1-2.5h0m0.5-2.5h0m3 3h0m4 2.5h0m3-4h0m5 3h0m11.5-5h0m2 5h0m4-5.5h0m3 6.5h0m4-5.5h0m0 4.5h0m1.5 0.5h0m0.5-1.5h0m9 0.5h0m0.5 2h0m2.5-3h0m6-1h0m3-2.5h0m10 4h0m1 0h0m0.5-3.5h0m4.5 1h0m1-0.5h0m0.5 4h0m4.5-5h0m0 0.5h0m8.5-0.5h0m1.5-1h0m-548 12.5h0m6.5 2h0m1-3h0m4.5 0h0m4.5-3h0m2 1.5h0m3.5-1.5h0m0-0.5h0m8.5 6h0m0.5-5.5h0m0.5 0.5h0m0 3h0m3.5-4h0m0.5-0.5h0m0.5 4h0m0 1h0m2 2.5h0m0.5-6.5h0m1.5 5.5h0m0-1.5h0m0-4.5h0m13.5 0h0m0.5 6h0m0.5-5.5h0m5 0.5h0m0.5 4.5h0m1-4h0m1.5 1h0m2 1h0m0-2.5h0m8 3h0m0.5-1.5h0m2.5-2h0m0 3h0m0.5 4h0m1.5-7h0m9.5 1h0m3 2h0m0.5-3h0m5 5.5h0m7.5-6h0m4.5 4.5h0m3-0.5h0m4.5 2h0m4-3h0m1.5 1.5h0m2.5 0h0m1.5 0.5h0m8 2h0m0.5-5h0m0.5-0.5h0m0.5 6h0m0.5-5.5h0m0.5 4.5h0m6-5.5h0m3 4h0m0-1h0m2-4h0m1.5 4h0m1 0h0m0.5 0.5h0m1 2h0m5-5.5h0m3 1.5h0m2 3.5h0m2.5-4.5h0m0.5 4.5h0m3-2.5h0m0.5-2.5h0m22-1h0m0 0h0m2.5 0h0m0.5 6h0m0-6.5h0m0.5 2.5h0m3 2.5h0m1.5 0.5h0m0 0h0m2.5 1h0m1.5-2h0m3 2h0m2-5.5h0m0.5 4.5h0m2.5-1.5h0m3.5 2h0m1 2h0m0-7h0m2.5 2.5h0m5-2.5h0m2.5 0.5h0m6-0.5h0m5 2h0m0.5 2.5h0m0 0h0m1 0h0m5.5 2h0m3-3.5h0m2 2.5h0m4.5-6h0m3 0.5h0m0.5 0.5h0m5-1h0m1 1h0m3 1.5h0m2.5 2.5h0m0.5 0.5h0m0 1.5h0m7.5-6h0m3 3h0m0.5-1.5h0m3.5 1h0m1.5-0.5h0m0.5-1h0m0.5-1h0m1.5 3h0m1.5-0.5h0m3.5-1h0m1.5 0h0m8.5-2h0m0.5 4h0m3.5 3h0m3.5-2h0m6.5-1.5h0m2-2h0m4.5 1.5h0m2 0.5h0m1.5-2.5h0m0 1h0m2-1h0m0.5-1.5h0m9.5 0.5h0m21 3h0m9.5 2.5h0m1-4h0m5 5h0m8.5-3.5h0m1 3h0m4.5-5.5h0m6 6.5h0m2-7.5h0m1 4h0m7.5-2h0m6-2h0m0.5 1.5h0m4-0.5h0m1.5 5.5h0m5-3h0m0.5 0.5h0m2 0h0m2 0.5h0m2.5-3h0m0-0.5h0m2.5-1h0m11.5 4.5h0m0-3h0m1 1h0m4 0.5h0m1-3h0m1.5 0.5h0m1.5 0.5h0m0.5 1h0m1.5 3h0m0.5 2h0m0.5-6.5h0m2 5.5h0m3-2h0m1.5-1h0m0.5 0h0m2 2h0m1.5 1.5h0m3.5-5.5h0m1 1h0m2 1.5h0m2.5-1.5h0m4 0h0m2.5-2.5h0m6 4.5h0m2.5 2.5h0m4-6.5h0m3 7h0m7.5-3h0m4.5-3h0m1.5 5h0m7.5 1h0m4.5-1h0m2 1h0m0-5.5h0m4-1.5h0m-529.5 15h0m8-5.5h0m31 1.5h0m3.5-1.5h0m3 4.5h0m2-3.5h0m2-2h0m1.5 6h0m3 1h0m3-1h0m1-0.5h0m3-1.5h0m5.5 0.5h0m1 1h0m7.5 1h0m5-3.5h0m1 2h0m1-5h0m2.5 4h0m3.5-1h0m9 2h0m0.5-5.5h0m0.5 0h0m1 7h0m1-1.5h0m2.5-5h0m2.5 6h0m1-4.5h0m1.5 3h0m0-3.5h0m0.5 2h0m1-1h0m0.5-0.5h0m6-1h0m2 0.5h0m4.5 0h0m3 5h0m7.5-4.5h0m6.5-0.5h0m1-0.5h0m10 1.5h0m4.5 0h0m1 2.5h0m0.5-1h0m0.5 1.5h0m1.5 0h0m0-4.5h0m0.5-0.5h0m6.5 6h0m0.5-5h0m2-0.5h0m2 5.5h0m2.5 0h0m4.5-0.5h0m0.5-3h0m3.5-1.5h0m2-1.5h0m5 1h0m2 0.5h0m2 4h0m2.5 1h0m0-6.5h0m0.5 0h0m2 2h0m0.5 0.5h0m2.5 2.5h0m1-0.5h0m1-0.5h0m4 3h0m1.5-2.5h0m2-3h0m1-2h0m10.5 1.5h0m4 1h0m1.5 0h0m1 1h0m0.5 4.5h0m3-1.5h0m2-3.5h0m4-2.5h0m5.5 0h0m0 6.5h0m0-0.5h0m2 0h0m1.5-3h0m11 0.5h0m5.5 3.5h0m1.5-1h0m1 0.5h0m3-2h0m1-1h0m5-2h0m0.5 2h0m2.5-0.5h0m0-3h0m1.5 6.5h0m1.5-1.5h0m0.5-2h0m2 4h0m1.5-1h0m6-3.5h0m5-1h0m1 5h0m4-5.5h0m0 0.5h0m9 1h0m2.5 1h0m1.5-1.5h0m2.5 3.5h0m5.5-2.5h0m2 3h0m7-4h0m0 4.5h0m7-4.5h0m3 3h0m6-1.5h0m0.5-4h0m12 8h0m9.5-0.5h0m6-6.5h0m5.5 1h0m1 1h0m6.5 2h0m1 2h0m2 0.5h0m3-6.5h0m1.5 4h0m0.5 3h0m2.5-3.5h0m8 1h0m2 0.5h0m1-3.5h0m1 0h0m1-2h0m2.5 6h0m5-4h0m5 3.5h0m2-1.5h0m1 3h0m2-4.5h0m1 0.5h0m3 2h0m4-2.5h0m2-1.5h0m1.5 1.5h0m3.5 1h0m1.5-3.5h0m0 4.5h0m3-4h0m2 2.5h0m3.5-3h0m3.5 6h0m2.5-3.5h0m1 1h0m7.5-1h0m2.5 0.5h0m2 0.5h0m4-4h0m9 6h0m2-4h0m3.5 2.5h0m0 3.5h0m0.5-5.5h0m0.5 2h0m1-3h0m1.5 2h0m4 0h0m0.5 3h0m0.5-1.5h0m1 2h0m4-1.5h0m2-3.5h0m0.5-0.5h0m1.5 3.5h0m0-2h0m4 3.5h0m10-1h0m1-4h0m2 2.5h0m6 3.5h0m-528.5 1h0m3 4.5h0m7 1.5h0m2.5-2.5h0m1.5-2.5h0m3.5 0h0m7 2.5h0m19.5-2.5h0m1 6.5h0m24.5-0.5h0m2-1.5h0m4.5-2h0m4.5 1.5h0m1.5-4.5h0m0.5-0.5h0m6.5 6.5h0m3 0h0m11-5.5h0m5 3.5h0m1-2.5h0m6 0.5h0m20-0.5h0m24.5 4h0m2-3.5h0m0.5 1h0m2 1h0m3-0.5h0m5 3h0m0.5-4h0m1 0h0m0.5 2h0m2 2.5h0m0.5-7.5h0m0.5 0.5h0m10.5 0h0m3 0.5h0m1 0.5h0m2.5-1h0m0.5 4.5h0m0 2h0m0.5-4.5h0m2.5 4.5h0m1-2h0m0.5-0.5h0m5.5-4h0m11.5 5h0m2.5-3h0m1-0.5h0m5.5-1.5h0m0.5 5h0m3.5 0h0m0.5-4.5h0m3 1.5h0m2-1h0m3.5 3.5h0m2.5 0h0m0.5-5h0m2.5 2h0m2 0.5h0m2-2.5h0m1 0.5h0m0.5 0.5h0m3 3h0m2.5-3.5h0m2-1h0m3 1.5h0m3 3h0m2.5-4h0m0 4.5h0m0.5-5h0m2 2.5h0m3.5 0.5h0m3 4h0m1-2h0m11-4.5h0m3 1.5h0m0 5h0m2-5h0m1 1h0m0-1h0m2 4.5h0m1-5h0m3.5 5.5h0m1-3.5h0m0 2.5h0m1-4.5h0m2.5 4.5h0m2-5h0m0.5 5h0m1-3h0m2.5 4.5h0m1-5h0m3.5-0.5h0m6 0.5h0m22.5-2h0m2 5h0m3 0.5h0m0.5-2.5h0m5.5 2h0m3.5-0.5h0m12 0h0m2.5 1.5h0m1 1.5h0m2-5.5h0m4 2.5h0m1 2.5h0m4.5-1.5h0m2-3.5h0m1.5-2.5h0m2.5 6h0m3-5h0m1.5 6h0m0.5 0.5h0m2-2h0m2-4.5h0m5 0h0m0.5 1.5h0m0-1h0m4 6.5h0m1-1h0m3 1h0m0.5-4h0m3 3.5h0m3-1h0m0.5-4.5h0m10.5 0h0m0.5 1.5h0m0.5 0h0m1 4.5h0m0.5-2h0m1 0h0m4.5-3.5h0m0 3h0m0.5-3.5h0m0 5h0m0.5-2.5h0m0 1.5h0m3 1h0m1.5-6h0m5.5-0.5h0m2.5 7h0m1.5-7h0m2.5 0.5h0m3 1.5h0m5.5 2h0m1.5 1.5h0m1 0h0m2.5 1.5h0m2-2.5h0m3 0.5h0m16.5-3.5h0m2 4h0m4-2.5h0m0.5 2h0m0.5-2.5h0m1 4h0m3 1h0m0.5-0.5h0m1.5-5.5h0m0.5 0.5h0m0.5 2.5h0m1.5-1.5h0m2.5 1h0m2-4.5h0m0 4h0m4 3h0m1.5-2.5h0m0-2.5h0m1 4.5h0m6-3.5h0m-509.5 6h0m7.5-0.5h0m28.5 0.5h0m2 5.5h0m0.5 0h0m6-1h0m2.5-2.5h0m2.5 3h0m3-2.5h0m2 4h0m2-6h0m15.5 1h0m2.5 4.5h0m7 0h0m1.5 0h0m1.5 1h0m1.5-4.5h0m0.5 2h0m0-0.5h0m8-4h0m61.5 0h0m5 1.5h0m2 3h0m5.5-2.5h0m7 5h0m0.5-7.5h0m11.5 0h0m4.5 6.5h0m2.5-3h0m6-3h0m7.5 0.5h0m2 1h0m2-2.5h0m1 4h0m10.5 1.5h0m0.5-2.5h0m0.5-3h0m4 1.5h0m1 2.5h0m4.5-1h0m0.5 0.5h0m6 2.5h0m0.5-5h0m0 0.5h0m0 2h0m0.5 2h0m0.5 1.5h0m4.5 0.5h0m2.5 0h0m2-2h0m0.5-1h0m3 0h0m1 2h0m7 0h0m4.5-3h0m3-1h0m3-1.5h0m2.5 5h0m4-3.5h0m10.5-2h0m6.5-0.5h0m1 2h0m3 1h0m10 5h0m3-5.5h0m8 3h0m8-2.5h0m0-2.5h0m0.5 7h0m2.5-3.5h0m0.5-2h0m0 1h0m1.5-1.5h0m0 2.5h0m1-1h0m1 2.5h0m2.5-4.5h0m5.5 5h0m4-6h0m0 6h0m3.5 1.5h0m0-6.5h0m3 5h0m1.5-2h0m9-0.5h0m2.5 0h0m1.5 1h0m1.5 0h0m2.5-3h0m1.5 5.5h0m4-5.5h0m2.5 2h0m0.5-1h0m2 0.5h0m5.5-1.5h0m2-1.5h0m0 0.5h0m3.5 5h0m3.5-2h0m1-2h0m2.5 2h0m3.5-1h0m2 1h0m1.5 1.5h0m3.5 0.5h0m0-2h0m0 4h0m1-3h0m3.5-3h0m2 1.5h0m1-0.5h0m0 4.5h0m3-2.5h0m3.5 0h0m2 2.5h0m1 1h0m3.5-0.5h0m0.5-3h0m5 1.5h0m3-1h0m1 1.5h0m0-6h0m0.5 5h0m2-2h0m1 4.5h0m0.5-1.5h0m0-5h0m3 5h0m1.5-0.5h0m1 1h0m3 0h0m0.5 0.5h0m0.5-1h0m1-5.5h0m4-0.5h0m1 4.5h0m1.5 1h0m0-1.5h0m1.5-4h0m0.5 1.5h0m0 4.5h0m2.5 1h0m0.5-7h0m0.5 5h0m2.5-1h0m7.5 2.5h0m1 0.5h0m3-4h0m0 1h0m0.5-2h0m1.5 0h0m-488.5 7.5h0m9 0h0m3.5 0h0m5.5 4h0m3.5 1.5h0m5.5-3.5h0m2-2.5h0m3-1h0m0.5 4.5h0m1 2.5h0m1-2h0m2.5 1h0m0.5 1h0m6.5-2.5h0m1-0.5h0m0.5 3.5h0m0.5-5h0m0 3h0m1.5-4h0m2 3.5h0m0.5-2h0m1-1.5h0m0.5-1.5h0m5.5 4h0m3.5-4.5h0m0 6.5h0m2.5-2.5h0m9 0h0m9 2h0m1-5.5h0m6.5 4.5h0m1.5-5h0m0.5 3h0m30.5 3h0m27-2.5h0m40.5 3h0m5.5 1h0m33-4h0m4-2h0m17.5 3h0m1 0h0m9.5 1.5h0m1.5-1.5h0m4.5-2h0m5-2h0m7 2h0m6 3h0m9-0.5h0m2-1.5h0m10.5 2.5h0m1-4h0m0.5-2h0m0.5 7h0m4.5-2h0m2-1.5h0m1 1.5h0m0-3h0m0.5-1.5h0m1.5 1.5h0m3 4h0m5-0.5h0m0 2.5h0m1-4h0m0.5-3.5h0m1.5 4.5h0m1.5 0.5h0m1.5-5h0m1 6.5h0m1.5-1h0m3.5-2.5h0m4 2h0m1-5.5h0m0 2h0m7-0.5h0m8 4.5h0m5-3.5h0m1 4h0m5 1h0m0.5-3.5h0m5.5-2.5h0m3 3.5h0m1-2h0m1 4h0m9-2h0m1 2.5h0m2-2h0m3-1h0m4-2.5h0m9 5h0m0-2.5h0m1.5 3.5h0m0-5h0m3 0.5h0m1 2h0m0-3.5h0m0.5 4h0m7 0h0m0-1.5h0m1-2h0m4 2.5h0m0 0.5h0m9-3.5h0m1 1h0m1 4h0m0-4.5h0m0-1h0m2.5 4.5h0m1.5-2h0m1.5-3h0m1.5-0.5h0m0.5 0.5h0m2 3h0m1 2h0m2.5-0.5h0m0.5-2h0m6-3h0m0.5 5h0m5 2.5h0m1.5-4h0m1 0h0m0-1.5h0m1.5 1h0m1-1.5h0m1 3.5h0m3 0h0m1.5-4.5h0m0 0h0m5-1h0m3 1.5h0m2 6h0m11-1h0m4-6h0m-490.5 9.5h0m23-0.5h0m3.5 4.5h0m0.5-5h0m0.5 5.5h0m0-4.5h0m3.5-0.5h0m0 6.5h0m1.5-6.5h0m1.5 2h0m0-2h0m7.5 4.5h0m5-1.5h0m6-2.5h0m4 5h0m12-4h0m62 2h0m24-5h0m3.5 1h0m13.5 3.5h0m5.5 3h0m8.5-0.5h0m9-5.5h0m40 1h0m2.5-1.5h0m14.5 2h0m0.5-3h0m1.5 1h0m1.5-1h0m3 2.5h0m1-2.5h0m3.5 7.5h0m1-6h0m0 4.5h0m0.5-4.5h0m9 5h0m1-0.5h0m8-4.5h0m3 5h0m2.5-6.5h0m2 2.5h0m3 5.5h0m6.5-4.5h0m1 4h0m5-7h0m3.5 3.5h0m2.5-4h0m2.5 0.5h0m1.5 2.5h0m0.5 1h0m2.5 4h0m6.5-1.5h0m2-4.5h0m0-1h0m4 2.5h0m3.5 0h0m2.5-0.5h0m7 3h0m2.5-3.5h0m3.5 0h0m5 5h0m0 0h0m2.5-5.5h0m6.5 3.5h0m4.5-2h0m9 3.5h0m1.5-6.5h0m1.5 0.5h0m1.5 6h0m6-1h0m2.5-2.5h0m0 0.5h0m2 0.5h0m3-1h0m4 3h0m8-2h0m1.5 2h0m1.5-5h0m1.5 0h0m0.5 1.5h0m0.5-1h0m3.5 0h0m1.5 3.5h0m2-5.5h0m8 3.5h0m2-3.5h0m4.5 3h0m0.5-1h0m3 0h0m1-1.5h0m9 6h0m1 0h0m1-6h0m3.5 7.5h0m2-3.5h0m1 2.5h0m1.5-4.5h0m0.5 1h0m1.5-2.5h0m0.5 1h0m0.5-1h0m1.5 2h0m1 4h0m3.5-4h0m5.5-2h0m2 6h0m-425.5 8h0m45.5-2.5h0m2.5-3h0m40 0h0m19.5-1h0m5 2.5h0m12-1h0m47 4h0m22.5-1.5h0m11-2.5h0m0 4.5h0m1.5-2.5h0m6 1.5h0m2.5 2h0m4.5-7h0m1 3h0m0-2h0m3-1.5h0m0.5 7h0m2.5 0h0m1.5-7h0m0 8h0m2-5h0m0 5h0m13.5-3h0m5-2h0m5.5-2h0m0 5h0m0.5-3h0m5 5h0m3.5-3h0m8-2h0m3 1h0m10 3h0m1.5-4h0m7 4.5h0m1.5-3.5h0m0.5 2.5h0m2-1h0m4-3.5h0m0.5 0h0m4.5 1.5h0m1.5 1h0m0.5-1h0m2 4.5h0m6.5-6.5h0m0.5 4.5h0m10-5h0m4-1h0m7.5 7h0m0.5-6.5h0m3 2h0m4.5-1h0m6.5 2h0m6 4h0m1.5-1.5h0m2-4.5h0m3.5 5.5h0m2.5-5.5h0m5.5 0h0m4.5 4.5h0m2 0h0m6-4.5h0m1.5 3h0m5-2.5h0m1-1.5h0m0.5 3.5h0m1 1.5h0m20-3.5h0m0 1.5h0m3.5 0.5h0m0.5 0h0m-434.5 4.5h0m31.5 7.5h0m20-0.5h0m27-4h0m33 2.5h0m42.5-2.5h0m48 0.5h0m23-2.5h0m1.5 2h0m2.5 2h0m2 0.5h0m9.5-3h0m0-2h0m1.5 4h0m1 1h0m4-4.5h0m1-0.5h0m0.5 3h0m0-0.5h0m2.5 4.5h0m3.5-4.5h0m0.5 2.5h0m0-3h0m1-1h0m1 4.5h0m0.5 1.5h0m1.5-5.5h0m3.5-0.5h0m8.5 2.5h0m1.5 3.5h0m10.5-2h0m1-3.5h0m0 2h0m1 0.5h0m0.5 0.5h0m2.5 1.5h0m4.5-5.5h0m1 2h0m0.5-0.5h0m0 0h0m4 4h0m1.5-7h0m2 7.5h0m1-3.5h0m0.5-4h0m2 4.5h0m0 2h0m1 1.5h0m3.5-1h0m1.5 1h0m3-1.5h0m0-5.5h0m2.5 7h0m0.5-4h0m2.5-1.5h0m1.5 3.5h0m1-0.5h0m2.5-3.5h0m0.5 5.5h0m1-7.5h0m1 0h0m5 5h0m1.5 2h0m1 0.5h0m1-2h0m2 1h0m2-2.5h0m2 0h0m8.5 3.5h0m1.5-2h0m7-4h0m10.5 5.5h0m7-0.5h0m2-1h0m5-1h0m2 1h0m0 0.5h0m1.5-3h0m3 4.5h0m0-5.5h0m4.5 0.5h0m1 3h0m1.5-1.5h0m5.5 3.5h0m1.5-2.5h0m5-3h0m0.5 3.5h0m1-1.5h0m1-2.5h0m1.5 2.5h0m0 0.5h0m4 2h0m4-1.5h0m1.5 2.5h0m24.5-6h0m-409 8h0m39.5 4.5h0m13-1h0m12-0.5h0m12-2h0m33.5 0h0m2.5-2.5h0m51.5 1h0m25 0.5h0m6-1.5h0m0 4h0m2 0h0m2.5-3h0m0 4h0m3 1.5h0m0.5-2h0m0.5-2h0m5 1h0m1.5-0.5h0m2 5h0m0.5-3h0m5.5-3.5h0m0 1h0m0.5 0.5h0m1 0.5h0m2.5 0.5h0m1.5-4h0m2 4h0m1-1h0m3 3.5h0m0.5-2.5h0m1.5-1.5h0m1 5.5h0m0.5 0h0m1-8h0m2 4.5h0m2-2h0m9-0.5h0m1 6h0m3-3.5h0m2.5 0.5h0m0-2.5h0m10.5 0h0m1-2h0m3 1.5h0m0.5-0.5h0m6 5.5h0m0.5-5h0m1.5 2h0m2.5-1.5h0m3.5 4.5h0m4-2h0m3.5-0.5h0m1.5-3.5h0m6 4h0m0-3h0m5 5.5h0m6-3.5h0m6.5-3h0m5.5 2h0m2 5h0m5-3h0m3 2.5h0m4-1h0m1-2.5h0m3.5 4h0m1-4.5h0m5-3h0m2 6h0m0.5-1h0m1.5 0h0m8 0h0m0-3.5h0m0.5 3h0m2.5-4h0m1.5 6h0m1 0.5h0m5-1h0m6.5-3.5h0m0.5-2h0m3.5 1h0m2 0h0m-327 10h0m1-0.5h0m4.5-2.5h0m11.5 4.5h0m9.5-2.5h0m47.5 1.5h0m9.5 1h0m16-0.5h0m6.5-1h0m9.5-0.5h0m3 2.5h0m27.5 1.5h0m1-7h0m3.5-0.5h0m2 5h0m1-0.5h0m1 3.5h0m2.5-3.5h0m1.5 0h0m0 0.5h0m1.5-5h0m1 4.5h0m7.5 2h0m0-3h0m0-1h0m2.5 0.5h0m1 3.5h0m1.5 0.5h0m3.5-6.5h0m2.5 4.5h0m4.5 2.5h0m1-2h0m4 0h0m3-4.5h0m0.5 3.5h0m1 3h0m0.5 0.5h0m11.5-1h0m0-5h0m2-0.5h0m1.5 0.5h0m1 2.5h0m3.5 3h0m5-1.5h0m0.5-2h0m7 2h0m9-5.5h0m4.5 5h0m7-1h0m1.5-1h0m1-2h0m2 2h0m3.5-1h0m3.5 2h0m3-1h0m3.5-1.5h0m2 2.5h0m1 0h0m2-0.5h0m2 2h0m5 1h0m1.5 0.5h0m6-3.5h0m1-2h0m4.5 5.5h0m0-5.5h0m7 2.5h0m1-1.5h0m2.5 3.5h0m3.5-3.5h0m6 1h0m2.5-1.5h0m2 3.5h0m2-2.5h0m0.5 1.5h0m0.5-4.5h0m3.5 6h0m8.5-4h0m0-2h0m1 0h0m-289 8h0m10 3.5h0m17.5-3.5h0m9-0.5h0m69.5 2h0m35.5 1h0m3 4.5h0m4-5.5h0m0 1h0m3.5-1.5h0m1 5h0m4.5-6.5h0m2 5h0m1-3.5h0m0 2h0m3-1h0m0.5-1.5h0m0.5 3h0m0.5-1h0m1.5 2.5h0m1.5-3h0m3.5-1.5h0m1 1.5h0m4 3h0m2-1h0m8-0.5h0m3.5-1h0m7.5 0.5h0m5.5-2.5h0m4.5 3.5h0m1.5-3h0m1 1h0m3.5 4.5h0m3-2h0m3-1.5h0m2.5 4h0m2.5-7h0m0 0h0m3.5 6.5h0m3-1h0m5-3h0m1 0h0m1 0.5h0m2.5-1h0m0.5 2h0m0.5-3.5h0m11.5 4.5h0m5-2.5h0m1 4h0m1 1h0m1.5-8h0m1 4h0m1-1h0m3-1h0m3 2.5h0m3-4.5h0m1.5 4.5h0m0 1.5h0m1.5 0h0m4.5-5.5h0m4 2h0m-242.5 6.5h0m6.5 4h0m67.5 1h0m3.5 0h0m2.5 0h0m0-5.5h0m0 4h0m0.5 1h0m2.5-5.5h0m3.5 3h0m2 1h0m3.5 2.5h0m5.5 0.5h0m4-1h0m3-4.5h0m0.5 3h0m0.5 0h0m10 2.5h0m6.5-4h0m3 1h0m3.5-1h0m1 0.5h0m0 2h0m2-2.5h0m0.5 4h0m1-4.5h0m3.5 3.5h0m3-2h0m0-0.5h0m2 1h0m1.5-1.5h0m3.5 2.5h0m0.5-0.5h0m1 0.5h0m6.5 2h0m5-6h0m1-1h0m0.5 5.5h0m2-5h0m3-1h0m5 1h0m12 4h0m4-3h0m3 5h0m1.5-5.5h0m3 4.5h0m0.5 0.5h0m1.5-5.5h0m2.5 3h0m1.5-2.5h0m5.5-0.5h0m5 0.5h0m2 2h0m2 0h0m0 1h0m5-4.5h0m3 6.5h0m8 1h0m0.5 0h0m5-7.5h0m2.5 2.5h0m1.5 4h0m1.5-2h0m-174.5 5.5h0m4.5 1.5h0m4.5 3h0m0.5-1.5h0m1-0.5h0m0.5-3h0m0.5 3.5h0m5.5-2.5h0m1-2.5h0m1.5 3.5h0m1 1h0m9-2h0m0 0h0m1 3h0m0.5-4.5h0m6.5 2.5h0m0-2.5h0m3.5 6h0m1.5 0.5h0m3-1h0m3-4h0m0.5-1.5h0m0 2.5h0m1.5 3.5h0m1-3h0m2.5-2h0m2 5h0m0-2.5h0m0.5 1.5h0m3-5.5h0m1 5.5h0m5-3h0m4-2h0m7 6.5h0m8-6.5h0m3.5 6.5h0m2.5-2h0m0-1.5h0m5 3.5h0m1.5-6.5h0m0 5.5h0m0.5-6.5h0m10 2h0m10 2h0m3.5 3.5h0m1-2.5h0m3 2h0m2.5-5.5h0m2.5 5.5h0m1-7h0m2 4h0m0 1.5h0m4 2.5h0m0-8h0m2 3h0m3.5-2h0m0.5 6h0m4-1h0m4 2h0m1-7h0m0.5 6.5h0m0-2h0m2.5-5h0m1 1h0m4 0.5h0m1-1h0m0.5 4h0m1 3h0m4.5-6.5h0m-173.5 13h0m12.5-2h0m1.5-2h0m6 3h0m6 0.5h0m1-5.5h0m5.5 7h0m0.5-4h0m1.5 2.5h0m0 1h0m2.5-1h0m1 0h0m6.5-1.5h0m1-2.5h0m0 4.5h0m3.5-5h0m2.5 2.5h0m7.5 3h0m3.5 0.5h0m2.5-1.5h0m2 1.5h0m0.5-1.5h0m3.5 1h0m2 1h0m4.5-1h0m2.5-4h0m4.5-2h0m7.5 5.5h0m1-3.5h0m0.5 4.5h0m1.5-4.5h0m2 0.5h0m1-1.5h0m3.5-0.5h0m9-0.5h0m1.5 2.5h0m1.5 3.5h0m0-1.5h0m1-4.5h0m2.5 0h0m2.5 4.5h0m0.5 0.5h0m5-1h0m4-4.5h0m3 0.5h0m1.5 5.5h0m4.5-5h0m1.5 6h0m3.5-2.5h0m3-2h0m3 2.5h0m1-3h0m1.5 1.5h0m5-1h0m1 1h0m1.5-3.5h0m6 3h0m2.5 3.5h0m2-3.5h0m0.5 0h0m1.5 0h0m-174.5 8h0m13.5 1.5h0m1-2h0m5 2h0m4.5 1h0m3.5-2.5h0m5-3.5h0m10.5 2.5h0m3.5 1.5h0m6.5 1.5h0m1-1.5h0m0 4h0m3-7h0m0.5 2.5h0m4.5-3.5h0m4 4h0m0.5 3.5h0m2-5.5h0m0 2h0m0.5-3h0m0.5 3.5h0m2-1h0m2.5 4.5h0m3-2.5h0m0.5-4.5h0m2 2.5h0m5-3h0m3.5 0.5h0m0.5 3.5h0m0.5-2h0m11.5 2.5h0m3.5-4h0m1.5-0.5h0m8 3.5h0m3.5-2.5h0m0 1.5h0m5.5-3h0m4 7h0m1-3h0m8.5-1h0m3.5 1h0m0.5 1h0m2-0.5h0m1-3.5h0m2 0h0m1 5h0m7-5.5h0m8 7.5h0m0-4.5h0m0.5-2.5h0m1.5 1h0m0 0.5h0m0.5 3.5h0m1.5-3h0m0-2h0m1.5 3h0m2.5-2h0m2.5 3h0m1.5 2h0m0.5-3.5h0m2-0.5h0m0.5 1h0m4.5 1.5h0m-185.5 9.5h0m6.5 0.5h0m0.5-2.5h0m1 0.5h0m0.5-5h0m2 6h0m2 1h0m6-2h0m2 0h0m1-2.5h0m0.5 3h0m4.5-5h0m9.5 5h0m6-1h0m0.5-3h0m4 0h0m1.5 5.5h0m1.5-3.5h0m1.5 1h0m5.5-4h0m1.5 5h0m3-5h0m1 3.5h0m4-1h0m1-1.5h0m1.5 2h0m0.5 1.5h0m2.5-1.5h0m0.5-1h0m0 2h0m4.5 0.5h0m0-2h0m10.5-2.5h0m21-0.5h0m6.5 3h0m8.5 2h0m0.5 2.5h0m8-5h0m4-2h0m15.5 0h0m22 6.5h0m0.5-3h0m2-3.5h0m0.5 5h0m4.5-1h0m4.5-1.5h0m6 3h0m5 1h0m-228 2h0m6.5 5.5h0m2.5-3h0m0.5 1h0m8 2.5h0m9-3h0m0.5-1.5h0m1.5 0h0m0.5 2.5h0m1 2.5h0m5-4h0m0.5 3.5h0m1-5h0m2 0h0m4 5h0m0.5-1h0m0.5 0.5h0m3.5 1h0m0.5-4.5h0m2.5-3h0m1 5h0m8.5-4h0m0.5 3h0m4.5-0.5h0m0.5-3.5h0m2.5 3.5h0m1-2.5h0m5 5h0m0.5-4.5h0m0.5 0h0m5 5.5h0m0.5-3.5h0m0.5-3.5h0m3 5h0m9.5-4.5h0m9 2h0m1 3.5h0m0.5-0.5h0m2-5.5h0m25.5-0.5h0m55.5 1h0m2.5 6h0m12.5 0.5h0m1-2.5h0m0.5 0h0m1.5-1.5h0m1-1.5h0m1 6h0m1-3.5h0m1-3h0m2 2h0m1 0.5h0m24-2h0m7.5-1h0m8 3.5h0m14 3h0m-266 6.5h0m7.5-1h0m7-5h0m1 1h0m0 5.5h0m1.5-6h0m0.5 1.5h0m3.5 0.5h0m0.5-2h0m0.5 0h0m1.5 2.5h0m3.5 2h0m0.5-2h0m1-0.5h0m1-2h0m4.5 0h0m1 5.5h0m2 0.5h0m2.5-1.5h0m2 2.5h0m0.5-7h0m6 4.5h0m0.5 2h0m7 1h0m2.5-3.5h0m4 2h0m1.5-1h0m2 2h0m7-7.5h0m3.5 8h0m3.5-6.5h0m6 5h0m0.5-6h0m1.5 0h0m2 3.5h0m1-2.5h0m1.5 5.5h0m2-5h0m1.5-1h0m0-1h0m3 7.5h0m1.5-4h0m0 4h0m0.5 0h0m0.5-4h0m1.5 1h0m0.5 2h0m2.5 0h0m2.5-6h0m2 5.5h0m10-3h0m13.5 0h0m15.5 2h0m4.5 0.5h0m10-4h0m15-0.5h0m21 5.5h0m6.5 0h0m8.5 0.5h0m3-5.5h0m0.5 2h0m6 2h0m3-0.5h0m2.5-0.5h0m36-2.5h0m21 2.5h0m-303.5 8.5h0m8-1h0m6 4h0m3.5-1h0m4.5-4h0m0.5-2.5h0m1 6.5h0m5.5-3.5h0m1.5 3h0m3.5-1h0m5.5 1h0m0.5-0.5h0m11.5-2.5h0m2 1h0m0.5-4.5h0m4 6h0m3.5-1.5h0m1 2.5h0m1.5-4h0m0.5 4.5h0m1-6.5h0m2.5 4h0m1.5-3h0m3.5 0h0m1 0.5h0m0.5-1.5h0m3 5.5h0m4-6.5h0m0 5h0m10.5 1.5h0m1-1.5h0m2.5-2h0m1.5 3.5h0m2 1h0m1.5-3.5h0m0.5 3h0m1-6.5h0m0.5 4.5h0m2.5 2.5h0m2-6h0m0.5 1h0m0 0.5h0m1.5 4h0m1-3.5h0m4 0.5h0m4-2h0m2 1h0m0.5 1h0m0.5-1.5h0m2.5 4.5h0m0-3h0m4.5 1.5h0m5 2h0m6.5-0.5h0m18.5-5h0m9-1h0m5.5 3h0m14.5-1.5h0m2 0h0m25.5 4h0m6-3h0m8-2h0m0 0.5h0m5.5 1.5h0m7.5-1h0m4.5 1h0m34 1.5h0m23.5 0h0m20.5-0.5h0m-331 8.5h0m8 0.5h0m0 1h0m14-5.5h0m4 0h0m4 0h0m0.5 6.5h0m5 0.5h0m10.5-1h0m4-5.5h0m4 3h0m0.5-3h0m1.5 0h0m4.5 4.5h0m0-2.5h0m1.5 2h0m1.5-3.5h0m8 3.5h0m2-2.5h0m3-1.5h0m0.5 0h0m4.5 4.5h0m6.5-2.5h0m1 1.5h0m2.5-1.5h0m1.5 0h0m1.5-3h0m0.5 2h0m0-1.5h0m0 0h0m2.5 2h0m2-1.5h0m3-1h0m4 6h0m0.5 0.5h0m1-7h0m6.5 2.5h0m2.5-0.5h0m26.5 4.5h0m0-0.5h0m3-3h0m8.5-1.5h0m8 0h0m0 0h0m1.5 1h0m22-0.5h0m1.5 0.5h0m7.5 0h0m0 0h0m7 0.5h0m3 3.5h0m4.5 0h0m28.5-3h0m2.5-2h0m7.5 1h0m20 1h0m34.5 3h0m3.5-6h0m22 4h0m8-1h0m1-1.5h0m-326 12h0m1.5-0.5h0m0.5-4h0m10 3.5h0m2.5-2h0m0.5 4h0m8 0.5h0m0.5-7h0m5.5 2.5h0m1.5 2.5h0m2-5h0m5.5 3.5h0m3 1h0m4.5-1.5h0m3 1h0m0.5-1h0m5 1h0m2.5-2h0m3.5-1.5h0m0.5 4.5h0m1.5-4.5h0m1.5 1h0m1 4h0m8.5-0.5h0m0.5 0h0m0-2.5h0m2-2.5h0m3.5 0.5h0m0.5 4h0m2 1h0m3.5-5h0m1.5 2.5h0m3.5 3.5h0m11.5-5h0m8.5-0.5h0m0 0.5h0m1-1.5h0m2.5 5h0m5.5 0.5h0m9 1.5h0m10.5-3h0m0.5 2.5h0m11.5 0.5h0m10-4h0m4 2.5h0m4.5-1.5h0m2.5-3h0m0.5 3h0m4.5 1.5h0m1.5-2.5h0m5.5-1.5h0m2.5 0.5h0m8.5-1.5h0m1 5h0m0.5-5.5h0m0 6h0m84-4h0m0.5 4h0m11-6.5h0m-301 16h0m2-5.5h0m7.5 2h0m2.5 3.5h0m2.5-4h0m4-0.5h0m1 0h0m8-1.5h0m8 1.5h0m1 3.5h0m1.5-4.5h0m2 2.5h0m9-4.5h0m2.5 5.5h0m3.5-4h0m1.5-2h0m2 7h0m4-6h0m1 5.5h0m3 0h0m0.5 1.5h0m2.5-1h0m1-6h0m1.5-0.5h0m1 4h0m2 1h0m3.5-5h0m9 6.5h0m0.5-2h0m8.5-3h0m11 4.5h0m6.5-2h0m5.5-3.5h0m0.5 0.5h0m5.5 3h0m6-1h0m3.5-0.5h0m7 4.5h0m6-1h0m10-3h0m13 0h0m5.5 2h0m3 0h0m2.5-2h0m0.5 3h0m0.5-1.5h0m1.5 0h0m8-0.5h0m4-4h0m1 5.5h0m5-1.5h0m1.5-4.5h0m3.5 6.5h0m3.5 1.5h0m2.5-0.5h0m5.5-2h0m1.5 1.5h0m4-6.5h0m2 5.5h0m52.5-2.5h0m0.5 4h0m6.5-1.5h0m0.5 0h0m1 2h0m1-4h0m1 2h0m0.5 0.5h0m2.5 1h0m1.5-6h0m0.5 3.5h0m0.5 1.5h0m0.5 0.5h0m0.5 1h0m6-5h0m3 3h0m2-1h0m7-0.5h0m7-1h0m3.5 0h0m0 3.5h0m9.5-4.5h0m9.5 5h0m12-1.5h0m5.5 2h0m-347 4.5h0m5-2.5h0m18-1.5h0m7 1h0m3 3h0m7.5-2.5h0m17 1h0m21-1h0m3 2.5h0m6 2h0m5-6h0m29 1h0m11 5.5h0m3-0.5h0m5-2h0m6.5 1.5h0m4.5 1h0m16-6.5h0m1 2h0m3.5 2h0m5-1h0m8 2.5h0m0.5-2h0m5.5-1.5h0m5-1.5h0m8 3h0m10-3h0m0.5 6h0m39-7h0m1.5 3h0m1 1h0m5.5 0h0m1 2h0m6.5-1h0m2 2.5h0m2.5-6.5h0m2 0h0m0.5 0h0m1.5 4.5h0m1.5-3.5h0m0.5 1h0m0.5-2h0m2.5 5h0m2-1h0m4 1.5h0m1-4h0m0 1.5h0m0.5-3h0m1 5h0m0.5-3.5h0m0.5 5h0m0.5-2h0m4-3h0m3 1.5h0m1-0.5h0m3.5 4h0m0-7h0m0.5 6h0m0.5-6.5h0m5.5 7.5h0m10-6h0m0.5 4.5h0m5.5 0h0m0-5h0m3-1h0m1.5 3h0m1 4h0m3.5-6.5h0m4.5 1h0m3.5 5.5h0m1 0.5h0m0.5-4h0m0 0h0m0.5-3h0m3.5 2h0m4.5 4h0m0.5 1h0m3-6.5h0m0.5 7h0m0-2h0m0.5-1.5h0m10-3.5h0m12 4.5h0m-243 3.5h0m12 0.5h0m12-1h0m0.5 5h0m2-0.5h0m1-3h0m18-2h0m1.5 4h0m7-3.5h0m49 5.5h0m1.5 0.5h0m2 0h0m1-3h0m1 2h0m2-4h0m4 1h0m0.5 2.5h0m1.5-0.5h0m2-1.5h0m3 5h0m7-7h0m0.5 6h0m0.5-5h0m1 4h0m0.5 1h0m3 0h0m1.5-6h0m5.5 3.5h0m5-3.5h0m3 6.5h0m15.5-3h0m2.5 0h0m1.5-1h0m0.5-0.5h0m4 3.5h0m4-1.5h0m2-4.5h0m1.5 3h0m0.5 2h0m1.5-0.5h0m6.5 3h0m1-1h0m7.5-5.5h0m0.5 4h0m2.5 2.5h0m0.5-5.5h0m1.5-1.5h0m0.5-1h0m9 6.5h0m0.5-3h0m0-1.5h0m3.5 0h0m2.5 3.5h0m1-2h0m1.5 2.5h0m1 0h0m3-3.5h0m0 4.5h0m3 0h0m1-1.5h0m4.5 0.5h0m5-6h0m1 0.5h0m0.5 5h0m4.5-1h0m1.5-0.5h0m0 2h0m1-0.5h0m15-1.5h0m0 1h0m-234 7h0m9.5-1h0m3 4.5h0m2-6h0m14.5 2.5h0m1.5-2h0m6.5 2h0m0.5 3.5h0m3.5-6h0m3.5 1.5h0m0.5-1h0m6.5 4h0m2.5-1h0m4.5 2.5h0m12-2.5h0m1-1.5h0m0-3.5h0m2.5 1h0m6 1h0m9 4.5h0m1.5 1h0m2-5.5h0m2 6h0m0 0h0m0.5-1.5h0m3-4h0m1 4.5h0m0.5-5h0m0.5 0h0m1 5h0m5.5-4h0m0-1.5h0m0 2h0m2.5 1h0m1 0.5h0m0.5-1h0m2.5 3.5h0m3.5-4.5h0m3 2.5h0m1.5 0.5h0m1-3h0m4.5-0.5h0m1.5 1h0m1.5-3h0m2 0.5h0m1 0h0m3.5 1.5h0m3-1h0m2 1.5h0m10.5-3h0m7 1.5h0m6.5 3.5h0m0.5-1.5h0m0.5-3.5h0m0.5 0.5h0m0 6h0m2.5-6h0m3.5 0.5h0m5 6.5h0m1-1.5h0m0.5-3h0m2.5 1.5h0m5 1.5h0m1-5h0m0.5 1h0m9 3h0m0.5-4h0m0 2h0m4.5 2.5h0m3-5h0m1.5 4.5h0m0 0.5h0m0-2h0m4 1.5h0m1 3h0m2.5-1.5h0m0.5-1h0m5.5-3.5h0m1-2h0m0.5 6.5h0m2-3.5h0m0 1.5h0m5.5 3h0m5.5-5h0m1 3h0m0-5h0m0.5 7h0m12 0.5h0m0.5-4.5h0m2.5 0h0m1-0.5h0m0.5 2.5h0m8.5-0.5h0m7.5 2.5h0m-245 4.5h0m0.5-1h0m2.5-2.5h0m22.5 6.5h0m4-2.5h0m5.5-2.5h0m3 3h0m1-4h0m7.5 2h0m2 2.5h0m0-4h0m0.5-0.5h0m2 4h0m3 0h0m4 0.5h0m3.5 0h0m1.5-5.5h0m0 6h0m0.5-0.5h0m0-2.5h0m2 1h0m0.5 2.5h0m7 0.5h0m1.5-1.5h0m3.5-0.5h0m0.5-3h0m6.5 4h0m0.5-0.5h0m0 2h0m2-3.5h0m1 2h0m1.5-0.5h0m0.5 0h0m0-2.5h0m0 1h0m3-2.5h0m3.5 2h0m4-0.5h0m1 1h0m0 1h0m1.5-5h0m2.5 4.5h0m1 0.5h0m0 0.5h0m3.5-5h0m1.5 4.5h0m4 2h0m5.5-4.5h0m0-2h0m0 3.5h0m1-1.5h0m1 3h0m3 1.5h0m0.5-4.5h0m5-2h0m1.5 3.5h0m1.5-2h0m0 5.5h0m6-1.5h0m0.5 0h0m1.5-0.5h0m5 1.5h0m0-6h0m0 6.5h0m0.5-4.5h0m1 1.5h0m1-2.5h0m1.5-0.5h0m1.5 1h0m1.5-2.5h0m2.5 7.5h0m0.5-6.5h0m3 2h0m0.5 4h0m6-5.5h0m5.5 2.5h0m1-3.5h0m0 6.5h0m0-4h0m0.5 3h0m5-1h0m0-2.5h0m8 5h0m1-6.5h0m2.5 5h0m5.5-4.5h0m0.5-1.5h0m1.5 3h0m3 4.5h0m3-1.5h0m0.5-3h0m1.5-0.5h0m0 4h0m5.5-4h0m0-2h0m0 5.5h0m5.5-5h0m1 3.5h0m6-1h0m2 2.5h0m0-1h0m1-5h0m5 4h0m4.5-1h0m0 1.5h0m1-0.5h0m2.5 3.5h0m1.5-3.5h0m7.5 2.5h0m6-1.5h0m0.5 0.5h0m7.5-0.5h0m3.5 2h0m5-2h0m23-1h0m-274.5 7.5h0m2 0.5h0m2 0h0m6 3.5h0m4-3.5h0m1-4h0m1 6h0m0-5h0m1.5 2h0m2 1h0m6.5 3h0m1.5-2.5h0m3-1.5h0m0-2h0m0.5 4h0m2.5 1.5h0m3-4.5h0m10 3h0m2 1.5h0m0.5-1.5h0m0.5-0.5h0m0.5-3h0m0 6.5h0m4.5-5h0m0.5 4.5h0m1-0.5h0m1-4h0m7 2h0m2 0.5h0m5.5 0h0m1.5-1h0m5-3.5h0m2 4h0m2 0h0m1.5-2h0m8 3.5h0m9-3h0m1.5 0.5h0m5 1.5h0m1.5 2h0m0.5-7h0m3 4h0m0.5-3h0m3.5 0.5h0m1.5 5.5h0m0.5 0h0m0-5h0m2.5 0.5h0m4.5-3h0m2.5 4h0m2-3h0m3.5 3h0m1.5 1h0m2.5-3h0m3 5h0m5-4h0m1.5 3h0m1 0.5h0m1.5-1.5h0m1.5 0h0m1.5-4.5h0m1.5 3h0m3.5-0.5h0m0.5 4h0m0.5-7h0m3 5h0m4-4h0m1.5 1h0m0.5 3h0m0.5 0h0m3.5 2h0m0.5-3h0m2 2.5h0m0.5 1.5h0m1-0.5h0m0.5-3.5h0m1 2h0m0-5.5h0m2.5 2.5h0m0 3h0m2-5.5h0m0.5 3.5h0m3.5-0.5h0m2 0h0m1 4h0m0.5-0.5h0m0-5h0m2 3.5h0m3.5 1h0m1-1h0m8-1.5h0m0-0.5h0m0.5 2h0m5 2h0m3-5.5h0m2 3.5h0m2-4h0m0.5-1.5h0m1 7h0m0.5 0h0m2.5-4.5h0m0.5-0.5h0m6.5 2h0m1-3h0m3.5 3h0m5 2.5h0m0.5-4.5h0m3-1h0m7.5 5.5h0m1-5h0m0.5-1.5h0m2.5 4.5h0m1 0.5h0m2.5-0.5h0m1 2.5h0m2.5 1h0m0.5-2h0m1.5 0h0m2.5 0h0m1 0.5h0m8-1h0m-296.5 10h0m6.5-0.5h0m10-2.5h0m4.5-1.5h0m0.5 2h0m3-0.5h0m1.5 2.5h0m0.5-1h0m4.5-4h0m1 4.5h0m0-3h0m5-1.5h0m2.5 6h0m2.5-3.5h0m1.5 0h0m1 1.5h0m2.5-5h0m0.5 4.5h0m1.5 1h0m1-1.5h0m2-1.5h0m7 4.5h0m3.5-4h0m2.5 4h0m3.5-0.5h0m1-6h0m12-1h0m1 0h0m1 5h0m5.5-4.5h0m2.5 3h0m0.5-2.5h0m1 3.5h0m0.5-3h0m2 2.5h0m3-3h0m2.5 2h0m1 1.5h0m0 1.5h0m4 1.5h0m2-3.5h0m6 1h0m1 2.5h0m8-0.5h0m0.5-4.5h0m1.5-2h0m3.5-1h0m2 5h0m0.5-3h0m1 1.5h0m0.5-2h0m2 4.5h0m1-5.5h0m2 4h0m1.5-2h0m8.5 3.5h0m0.5-1.5h0m9-3.5h0m2.5 4h0m1.5-3h0m1.5 0h0m0.5 6h0m0.5-7.5h0m3.5 3h0m2 2h0m9.5 2h0m0.5-5h0m0.5-2h0m0.5 7h0m0 0.5h0m1.5-7h0m3.5 6.5h0m1-7h0m2.5 3.5h0m0.5-3h0m0.5 6h0m3-5h0m4.5-0.5h0m1 2h0m2 1.5h0m3 0.5h0m2.5 2.5h0m0-5.5h0m2 5h0m1.5-6h0m3.5 5h0m1.5 1h0m2-3.5h0m1.5 1h0m3 1h0m2 1h0m2-6.5h0m0.5 1.5h0m0.5 5.5h0m0.5-4h0m1 4.5h0m1.5-1h0m0.5 0.5h0m2.5-4h0m1-3h0m0.5-0.5h0m4.5 8h0m4.5-6h0m1-1h0m2.5 0.5h0m0.5-1.5h0m1.5 4h0m0 1h0m3-0.5h0m0-3.5h0m0.5 0.5h0m1 5.5h0m1.5-4.5h0m10 4h0m1.5-5.5h0m2 0h0m0.5 3h0m0.5-3.5h0m4 6.5h0m0-5.5h0m1 1h0m1-1.5h0m6 5h0m1 0h0m3 2h0m1-4h0m3.5-0.5h0m1.5 3.5h0m1.5-6h0m1 6h0m1-4h0m1 2h0m1-3h0m1 1.5h0m4 2.5h0m2.5 2h0m0.5-2.5h0m2.5 2h0m7-6.5h0m-320.5 14.5h0m5 0h0m0.5-4h0m5.5 4h0m2-6h0m3-0.5h0m3 4.5h0m0.5-5h0m1.5 4h0m1-2h0m3 4h0m1 1h0m0.5-2h0m0.5-2.5h0m1 1h0m1.5 2h0m0.5-2h0m2.5 1.5h0m0-0.5h0m1-2.5h0m2-2h0m8 5h0m0-2.5h0m1 2.5h0m1-1h0m1-4h0m0.5 3.5h0m0.5 4h0m0-0.5h0m0-6h0m9 4.5h0m4 0.5h0m0.5-4h0m3.5 4h0m3.5 0h0m0.5-3.5h0m2-2h0m2 0.5h0m0 2.5h0m0-1h0m0.5 3h0m0.5-0.5h0m2.5 0.5h0m1-2.5h0m3-3h0m0 1h0m5-0.5h0m2 0.5h0m2 2.5h0m1.5-4h0m1.5 6.5h0m0.5-5.5h0m0 3h0m1 0.5h0m4-4h0m3 0.5h0m1 5h0m3-1.5h0m6-1h0m0.5 3h0m0.5-0.5h0m1 1h0m5-4.5h0m0.5-1.5h0m3 0h0m1 2h0m3 4.5h0m4-5.5h0m2 4h0m0.5 2h0m1-1h0m3-1h0m7-5h0m3.5 3.5h0m1 2h0m6-0.5h0m1.5-4h0m2.5 3.5h0m4.5-4h0m1.5 3.5h0m7 2h0m3.5-4h0m2-3h0m2.5 0.5h0m1 3h0m0 2h0m2 0h0m4.5-4.5h0m2.5 1h0m3 4.5h0m2-0.5h0m4-4.5h0m3 0.5h0m0.5 0.5h0m1 4h0m0-2.5h0m0.5-2.5h0m0 6h0m2.5-2h0m0.5-4h0m3.5 0.5h0m0.5 1.5h0m5 4h0m0.5-3h0m0-2h0m2.5 0h0m0 0.5h0m0.5 1.5h0m3.5 0.5h0m0-5h0m1.5 7.5h0m6-6h0m2 1h0m0.5 1.5h0m1-1h0m0.5 2.5h0m2-0.5h0m1-2h0m0 1h0m2.5 3.5h0m0.5-4.5h0m0 4.5h0m2 0.5h0m1.5-0.5h0m2.5-7h0m0.5 5.5h0m5-2h0m0-3.5h0m8 1h0m5.5 5.5h0m1.5-6h0m0.5 3h0m0.5-2h0m2 5h0m1.5-4.5h0m1.5-1.5h0m5.5 2.5h0m2.5-1.5h0m2 4h0m2.5-5h0m3.5 1.5h0m1-1.5h0m0.5 0h0m3.5 4.5h0m3.5-1.5h0m5.5-2h0m6.5 5h0m2-1.5h0m1 0.5h0m2 0.5h0m0.5-6.5h0m1.5 6h0m3.5-6h0m0.5 4.5h0m2 3.5h0m0.5-0.5h0m-345.5 6.5h0m11-2.5h0m0.5 1h0m0 1.5h0m3.5-4h0m3-0.5h0m3-1h0m2.5 0h0m2.5 7h0m4.5-5.5h0m0 0.5h0m4 4h0m0.5-1.5h0m7.5 1h0m0.5-4h0m7.5 0.5h0m8.5 4h0m0-5.5h0m0.5 5h0m0.5-4.5h0m0.5 0.5h0m4.5 0h0m4 4h0m1-6h0m4.5 1.5h0m0.5 4h0m0.5 2h0m1-3h0m4.5 2.5h0m2-4.5h0m0 4.5h0m1-1h0m1-1.5h0m3.5-2.5h0m2 3.5h0m1-2h0m0-2h0m3 2h0m1 3.5h0m4-1.5h0m1 1h0m0.5-4.5h0m0.5 2.5h0m1 2h0m1-3h0m0.5 0h0m1-3h0m0.5 7.5h0m4.5-6.5h0m2 4h0m1-2h0m2.5 4.5h0m2-6h0m4 3.5h0m1.5-1.5h0m0.5 1h0m0.5-2h0m3.5-0.5h0m1 0h0m0-1.5h0m0 2.5h0m4.5-1.5h0m8 5h0m2.5-2.5h0m1-1.5h0m0.5 4h0m0 1h0m1.5-5h0m16.5 0.5h0m0.5-2.5h0m3 6.5h0m1-7h0m0.5 0h0m1 5h0m0.5 1h0m5-5h0m0.5 2.5h0m0.5-0.5h0m2.5 0.5h0m8.5 2h0m0 2h0m0.5-5h0m1.5 2.5h0m2.5-3.5h0m2.5 0.5h0m1.5 0.5h0m2.5 2.5h0m1-1.5h0m0.5 0.5h0m0-4.5h0m7 1h0m2.5 3h0m0.5-1.5h0m5-0.5h0m1.5 1.5h0m2 3.5h0m1-0.5h0m4.5-2h0m0-0.5h0m1-2h0m3 0h0m3.5 0h0m2 4.5h0m3.5-6h0m9 7h0m5.5 0h0m1.5-0.5h0m5-5h0m0 0.5h0m2-0.5h0m9.5-0.5h0m1.5 1.5h0m0 1h0m2-0.5h0m3-2.5h0m1.5 1h0m5-1.5h0m6 5h0m2.5-4.5h0m1 4.5h0m0-1.5h0m1-3h0m5.5 0h0m2.5 6.5h0m3.5-6.5h0m1.5 0h0m0-1h0m4 2h0m3.5 5h0m1-6h0m3.5 1h0m3.5 2.5h0m0 2.5h0m0.5-1.5h0m1-4h0m0.5-1h0m4.5 7.5h0m3-4.5h0m0.5 4h0m0-3h0m2.5 0h0m0.5 3h0m0.5-5h0m3 4.5h0m1.5-0.5h0m3.5-6h0m0.5 1.5h0m0 5h0m0.5 0.5h0m0.5-1h0m2-6h0m17.5 1.5h0m-372.5 10h0m3.5-1.5h0m0 3.5h0m3-4.5h0m1.5 1h0m7.5-1h0m0.5 4h0m4-5h0m2 4h0m1.5-4h0m4.5 5h0m0.5-3.5h0m0 4h0m0.5-5.5h0m1 5.5h0m1 0.5h0m5-2h0m1 3h0m5.5 0.5h0m4.5 0h0m0.5-6h0m1.5-0.5h0m1 4h0m2-0.5h0m0.5-3h0m0 1h0m0.5-2.5h0m5 4.5h0m2-0.5h0m2 1h0m8.5-3h0m0.5 0.5h0m3.5-1.5h0m2.5-0.5h0m1.5 2h0m1 3.5h0m8-6.5h0m1.5 4.5h0m0-3.5h0m1.5 5h0m0.5-1.5h0m1-4h0m3 3h0m1 3h0m8-3.5h0m2.5 1h0m2.5-3.5h0m3.5 3h0m2.5 0.5h0m0.5 1h0m0-0.5h0m0.5 0h0m2.5 2.5h0m0.5-5.5h0m1 2h0m4.5 0.5h0m2.5 2.5h0m3 0.5h0m0.5 0.5h0m0-6.5h0m1 4.5h0m0.5-0.5h0m0.5-1h0m0 0h0m2 0.5h0m7.5 1h0m1.5 0.5h0m1.5-3h0m0-1h0m0.5 5h0m0.5 0h0m2-4h0m2 0h0m1 0h0m0.5-1h0m2.5 1h0m1 0h0m1-1.5h0m0.5-1h0m2.5 0.5h0m1.5 1h0m1 4h0m3-1h0m4-1.5h0m5.5-2h0m0-1.5h0m2 4.5h0m1-2h0m0.5-2.5h0m4.5 6h0m2.5-2.5h0m5-3.5h0m0.5 8h0m2.5-2.5h0m4.5 1.5h0m4.5-4h0m2.5-2.5h0m1.5 1.5h0m0.5 3.5h0m2.5 1h0m7.5-2h0m2-3h0m3 1.5h0m3.5-3h0m2 1.5h0m3 6.5h0m0.5-0.5h0m6-3.5h0m0 2.5h0m1.5 0h0m0.5-5h0m2-1h0m0.5 4.5h0m0-3h0m3.5 4.5h0m5.5-0.5h0m3-2h0m0-3h0m1.5 1.5h0m1.5-1.5h0m2 4.5h0m5-3.5h0m1 4.5h0m2 0h0m4-3.5h0m1 1h0m1.5 0.5h0m4-2h0m1 4.5h0m0.5-0.5h0m2.5-4h0m2.5 4.5h0m0-3h0m6.5-2h0m4 4h0m3-0.5h0m0.5-2.5h0m3.5 0h0m2 0.5h0m9.5 1.5h0m6.5-4h0m0.5 3h0m0.5-3.5h0m3 5.5h0m0.5-3h0m2 3h0m0.5 1.5h0m5-1.5h0m3.5-0.5h0m6-2h0m0.5-1h0m1-1h0m6-1h0m2.5 3h0m1.5-3h0m1.5 7.5h0m2.5-1h0m8-2.5h0m2-2h0m-374 12.5h0m1.5-4.5h0m4 1h0m5-3h0m4 2.5h0m0.5-0.5h0m3 4.5h0m1-4.5h0m4.5 1.5h0m7.5 1h0m0.5-3h0m1.5 2h0m0.5-2h0m2.5-1.5h0m2 7h0m2-7h0m2 5.5h0m1.5 0.5h0m1-1.5h0m0-4h0m1.5 5h0m0.5-1h0m2-0.5h0m1.5-3.5h0m2.5 3.5h0m1.5-1h0m3.5 0.5h0m0.5 4h0m2-4h0m1.5-4h0m2 3.5h0m8 3.5h0m0-0.5h0m3-2.5h0m0.5 3h0m4-1.5h0m0-1.5h0m2.5 2.5h0m3-6h0m0 0.5h0m1.5 3h0m1.5-2h0m0-1.5h0m0 1h0m0.5 1.5h0m0.5-1.5h0m2.5-1h0m4 4.5h0m0.5 3h0m15-6h0m4 0.5h0m1.5 2h0m1 3.5h0m1-5.5h0m0.5 4.5h0m0-6.5h0m1 7h0m0 0.5h0m1-7h0m1 2.5h0m4 0h0m5-1h0m5.5 5.5h0m0.5-1h0m0-1.5h0m3.5-2.5h0m3 2h0m3-2.5h0m1.5-1h0m7 5h0m0.5-6h0m2.5 2.5h0m0.5 3h0m1.5-3.5h0m2.5 1h0m3.5 1h0m2-1.5h0m2.5 2h0m2.5-2.5h0m1.5 1h0m1.5-2h0m1 1h0m6.5 4h0m0.5-1h0m3-1h0m1 1h0m1-3h0m5.5 4h0m11-0.5h0m0.5 1h0m7.5-1h0m0.5-5.5h0m0.5 6.5h0m2-4h0m1.5 2.5h0m3.5 1.5h0m3.5-6.5h0m0.5 0.5h0m0.5 0h0m0 1.5h0m1.5 4h0m2.5-3.5h0m1.5 4.5h0m1.5-7h0m2 5h0m1-1.5h0m3.5 1.5h0m0-4h0m1 1.5h0m0.5 3h0m1-0.5h0m1 0.5h0m2.5-4.5h0m6 6.5h0m17-2.5h0m0.5-3h0m1 3.5h0m1-4.5h0m0 1h0m1 2.5h0m1.5-0.5h0m1.5 1h0m1.5-5h0m0.5 0.5h0m0 6.5h0m1-4.5h0m4-2h0m0.5 1.5h0m1 3.5h0m2 1.5h0m1-4h0m1-2.5h0m1 6.5h0m1-5h0m0 2.5h0m0.5-5h0m0.5 1.5h0m6.5 2.5h0m1 1h0m0.5-3h0m10.5 0h0m0.5 0.5h0m3-1.5h0m3.5 7h0m2.5-4.5h0m3-1.5h0m1 3.5h0m1.5-2h0m1.5-3h0m5 6.5h0m7-1.5h0m0.5-3h0m1.5 4.5h0m1-6h0m6 2h0m1.5 3.5h0m3-6.5h0m4 5h0m7.5-4h0m5 2h0m2-2.5h0m0.5 5.5h0m0.5-1.5h0m0-2h0m11-2.5h0m-386 14.5h0m3.5-5.5h0m2 2.5h0m8 0.5h0m3 1h0m0-4.5h0m6.5 3.5h0m1 1.5h0m1-1.5h0m5 2.5h0m2.5-4.5h0m5-2h0m1 0.5h0m2.5 3.5h0m2-1.5h0m6-0.5h0m2 3.5h0m5.5-5h0m9 0.5h0m4 1h0m2 5.5h0m0-7h0m2.5 2.5h0m3.5 1h0m1.5-1h0m10 1h0m0.5-2.5h0m2.5 1h0m1 4h0m8.5-1.5h0m1-4.5h0m1.5 5.5h0m0.5-1.5h0m11 0.5h0m1.5-3.5h0m0.5 4.5h0m0 1.5h0m3-4.5h0m1.5-2.5h0m4.5 6.5h0m3.5-7h0m1 4.5h0m2 3.5h0m0.5-4.5h0m1.5 2.5h0m1 1h0m2.5-6.5h0m1.5 3.5h0m2-3.5h0m4 5.5h0m9-5.5h0m1 7.5h0m1-3h0m3-4h0m3.5 2h0m5.5 2h0m1-1.5h0m4 3.5h0m2.5-5h0m1-0.5h0m3 5h0m0.5 1h0m2-1.5h0m1 1.5h0m2-1.5h0m3.5-0.5h0m2.5-5h0m2.5 4.5h0m0.5-5h0m1 4.5h0m3.5 2.5h0m2.5-1.5h0m0.5-2.5h0m4.5 2.5h0m3-4.5h0m2 5h0m1 0h0m7.5-4h0m3.5 1.5h0m3-1h0m1.5 2h0m1 1h0m1.5-1.5h0m2-0.5h0m2.5 0h0m0.5 4.5h0m0-7h0m3.5 2.5h0m0.5-2.5h0m3.5 3h0m2 0h0m0.5-1h0m1.5 3.5h0m4-1.5h0m0 3h0m4.5-0.5h0m2-5.5h0m0.5 3h0m0.5 2.5h0m0-6h0m3-1h0m3.5 6.5h0m1.5-4h0m0.5 0h0m2.5 4.5h0m1 0.5h0m1-2.5h0m5-5h0m2 2h0m0.5 5h0m0.5 0h0m1.5-4.5h0m0.5-1.5h0m1 3.5h0m2.5-2h0m3-1h0m0 4.5h0m0-4h0m0 3.5h0m2.5-2h0m0-1.5h0m2.5-2h0m4 7h0m5-3h0m1 1.5h0m3.5 1h0m1.5-7h0m6 6h0m3.5 1.5h0m0-5.5h0m4 2.5h0m1.5 2h0m2-3h0m2 2.5h0m1 0h0m2-5.5h0m2.5 0.5h0m8 4h0m2 3h0m3-6h0m2 3h0m0 2.5h0m4.5-7.5h0m0 4.5h0m0 3h0m3.5-6.5h0m0 1h0m1.5 2h0m1 2h0m5.5-3.5h0m1-0.5h0m2.5 2h0m4.5-3h0m2 1.5h0m0 5h0m1-7.5h0m1.5 3.5h0m4.5 3.5h0m0.5-5.5h0m5.5 6.5h0m0-1.5h0m1.5-1h0m1-3h0m1-2h0m0.5 6h0m4.5-6.5h0m1.5 6.5h0m4.5 1h0m6-5h0m6 3.5h0m-415.5 7.5h0m4.5-3h0m3.5-1.5h0m0.5 2h0m1.5 3.5h0m0-4.5h0m4 1h0m3 5h0m0-3h0m0.5 1h0m5.5-5h0m0.5 0.5h0m2-0.5h0m8 5h0m2.5-5.5h0m2.5 6h0m0.5-2.5h0m2.5 3.5h0m0.5-5h0m1 3h0m1-4h0m2 1.5h0m2.5 1.5h0m1-2.5h0m3.5 6h0m0-3.5h0m0.5-3.5h0m6.5-1h0m0.5 7h0m3.5 1h0m6-2.5h0m0.5-5h0m2 1h0m3 6h0m1.5-1.5h0m0.5-4.5h0m3.5 4h0m1 2.5h0m3-7.5h0m4.5 6h0m1.5-1.5h0m13 1.5h0m2.5-2.5h0m11.5 3.5h0m4.5-1h0m1.5-1.5h0m0-1.5h0m1.5 0h0m6.5 2.5h0m1 1h0m3.5-4h0m2 4.5h0m0-2h0m9.5 0h0m6.5-3.5h0m2.5 0.5h0m0.5 4.5h0m1-2.5h0m1.5-2h0m0 2.5h0m0.5-4h0m4.5 3.5h0m1.5-4.5h0m2 0.5h0m1 6h0m0-1h0m2.5 1.5h0m3.5-4.5h0m2.5 2.5h0m0.5 2h0m1-5h0m0.5 2.5h0m3.5 1.5h0m2.5 1h0m0.5-4.5h0m3-2h0m0.5 0.5h0m0.5 0h0m0 0.5h0m6 6h0m1.5 0h0m4.5-6h0m1 5.5h0m0-3h0m1 2h0m2.5-0.5h0m4 0.5h0m4.5 1.5h0m2.5-2h0m7-4h0m1.5 1.5h0m0 2h0m1.5-1.5h0m2 2.5h0m3.5-4h0m2-1.5h0m4.5 7.5h0m1-4h0m1 2h0m0 0h0m6-2.5h0m1.5 3h0m0.5-2h0m3-2.5h0m2 4.5h0m6-0.5h0m2-3.5h0m0 2h0m1.5-1.5h0m3.5-0.5h0m5-1.5h0m2 0h0m1 3.5h0m0.5 2.5h0m3.5-2.5h0m2.5-3h0m0.5 6h0m1.5-4h0m10-1h0m5 1.5h0m0.5 3.5h0m1-1.5h0m2.5-1.5h0m2-1.5h0m0.5-1.5h0m0 2.5h0m0.5-3.5h0m0.5 4.5h0m0-5h0m3.5 7.5h0m1-5.5h0m0.5 3h0m4.5 0h0m2 0.5h0m0-0.5h0m1-2.5h0m1 3h0m3.5 0h0m1 1.5h0m3.5-5h0m0-0.5h0m2.5 0.5h0m0 0.5h0m0 0h0m0.5 0.5h0m1.5-2h0m5.5 6h0m1-3.5h0m0.5 1.5h0m5.5 1h0m2-5.5h0m0 4.5h0m3-4.5h0m0.5 5.5h0m10.5 0h0m4 1h0m2-6.5h0m1.5 6h0m2.5 0.5h0m0-4.5h0m4 1h0m3 2h0m0-4h0m5 5h0m9 1h0m1.5-6.5h0m2 2h0m5.5 3h0m8.5 1.5h0m1-7h0m5.5 0.5h0m-420 10h0m4-1.5h0m1.5 5.5h0m5.5-7h0m0 5h0m2-4h0m1 5.5h0m5.5-1h0m1.5-4h0m3.5-0.5h0m0 2h0m6 5h0m0.5-7.5h0m1 2h0m2.5-2h0m2 2.5h0m2-3h0m2 6.5h0m2.5-3.5h0m4 5h0m5-5h0m2 0.5h0m1 1.5h0m3 1h0m1-1h0m2 0h0m0.5-3h0m2 3.5h0m1 1h0m0.5-3.5h0m2.5 0h0m1-3h0m0 3.5h0m1-1h0m2.5-2h0m9 0.5h0m2 2.5h0m2-2h0m7.5 4.5h0m0.5-4h0m6 0h0m0 0.5h0m3.5 0h0m1-2.5h0m0 6h0m3 1.5h0m0-6h0m1 4h0m2.5-4h0m2 6h0m1.5-0.5h0m3-5.5h0m2.5 5h0m0.5-4h0m6-1.5h0m0.5 1.5h0m0.5 5h0m5.5-5h0m3.5-0.5h0m3.5-0.5h0m3 2.5h0m0.5 3.5h0m1-7h0m0 6.5h0m1-1h0m2.5-3h0m1.5 1h0m1 2.5h0m0.5-3.5h0m5 4.5h0m3.5-4h0m1-3h0m0 3.5h0m0.5 3.5h0m0.5-4h0m1-1.5h0m0.5 3.5h0m4-2h0m9.5 1.5h0m4-4.5h0m5 6.5h0m3.5-1h0m1-5.5h0m3 1.5h0m0.5-2h0m4.5 0h0m4.5 7.5h0m1.5-1h0m3.5 1.5h0m9.5-1.5h0m4.5 0.5h0m0.5-1h0m0.5 0h0m1 1.5h0m0.5-2.5h0m5.5-4h0m3.5 0h0m2 6h0m0-3.5h0m8 2h0m1 1.5h0m0.5-4h0m0.5 1.5h0m5.5-0.5h0m10.5 3h0m0.5-5.5h0m1 0.5h0m1 2.5h0m0-3h0m6.5 1h0m2 1h0m3.5 4h0m0.5-5h0m0 1h0m4 4h0m2 0h0m3-7h0m0.5 0.5h0m0.5 2.5h0m1 3.5h0m2.5-7h0m1 5h0m1.5-5h0m2.5 4.5h0m1.5-1h0m1.5 0.5h0m0.5 2h0m0.5-0.5h0m2 1h0m2 0h0m2 0.5h0m0.5-4.5h0m0.5 1h0m1 2.5h0m0.5 0.5h0m3-5h0m1.5-0.5h0m10 5h0m3 1h0m4.5-1h0m0.5-4h0m0.5 3h0m3-2h0m5 4h0m3.5-6.5h0m4 1.5h0m7.5 4h0m3 0.5h0m0.5-3h0m0 2.5h0m3-3.5h0m1.5 1h0m4.5 3h0m0-2.5h0m2-1.5h0m3.5 0h0m1.5 1h0m2.5 1.5h0m0.5 1.5h0m0.5 0h0m0.5 1h0m0.5-1h0m1 0.5h0m1-4.5h0m3.5 3.5h0m3.5-6h0m0 1.5h0m1.5-0.5h0m0 1.5h0m9 5h0m1-1.5h0m2.5-3.5h0m1 5h0m1-1.5h0m4-1h0m1-1.5h0m8 0.5h0m2.5 0.5h0m0 0.5h0m6 0.5h0m0.5 2h0m13-2h0m-433.5 6.5h0m4 2h0m2.5 0.5h0m4-2h0m7.5 0h0m4.5-4h0m1 6h0m2.5-0.5h0m1.5 0.5h0m0.5 0h0m2-6.5h0m1.5 1.5h0m3.5-0.5h0m1 0.5h0m6.5-1h0m1.5 5.5h0m2-5.5h0m1.5 2.5h0m0 2.5h0m1 0.5h0m9-1h0m2.5 2.5h0m1.5-4.5h0m1.5-2.5h0m1 2h0m1 5.5h0m1.5-6.5h0m1 0.5h0m1 1h0m2.5 1h0m1.5 4h0m0.5-8h0m6 6.5h0m1-5h0m1.5 5.5h0m0.5-0.5h0m10-1.5h0m6-0.5h0m2 2h0m9.5-4.5h0m1.5-1h0m1-0.5h0m1.5 0.5h0m0.5 5.5h0m1-2h0m1-2h0m9-1.5h0m1-0.5h0m2.5-0.5h0m2.5 2.5h0m3 1h0m1 1.5h0m2-4h0m0.5 1.5h0m10-0.5h0m1.5 0.5h0m1.5 5.5h0m4-7.5h0m1 1.5h0m1 3.5h0m1-4.5h0m1 1h0m4-0.5h0m2-1h0m0.5 2h0m3-2h0m1 3h0m1.5-3h0m0.5 5.5h0m3.5-4.5h0m2.5 6.5h0m1-8h0m2.5 3h0m1-1h0m0 1.5h0m0.5 1h0m8.5-4h0m1 7h0m3-4.5h0m3.5-2.5h0m1 0h0m1 4.5h0m1-0.5h0m2-4h0m0.5 0h0m2.5 2.5h0m1-1.5h0m1 5.5h0m2.5-5h0m1-1h0m1.5 7h0m3.5-2h0m0-5.5h0m2 2.5h0m0.5 2.5h0m3.5-2h0m1.5 2.5h0m3-0.5h0m0.5-0.5h0m3-1h0m1 2.5h0m0.5-1h0m2 0h0m1-2.5h0m2.5 5h0m1-6.5h0m1.5 2.5h0m1 2h0m7.5 2h0m5.5-3h0m6.5 1h0m3.5-1h0m0.5 2h0m10.5-2.5h0m3 0.5h0m3.5-2.5h0m3 1.5h0m8 2.5h0m2 0.5h0m5-2h0m1-0.5h0m0-0.5h0m1-0.5h0m2-2h0m2.5 6.5h0m6-6h0m0.5 0.5h0m3 1h0m2 1h0m3.5 0.5h0m4-3.5h0m0.5 5h0m0.5-2.5h0m1-0.5h0m1.5-2h0m1 2.5h0m2 0h0m1-2.5h0m3 0h0m0 4h0m1.5-0.5h0m0-3h0m0.5 3.5h0m2.5-1h0m2.5-1.5h0m3-2h0m1.5 5.5h0m7-4.5h0m2.5 4.5h0m2.5-2.5h0m6-1.5h0m1-2.5h0m8 7.5h0m3.5-5h0m0.5 4h0m0.5-0.5h0m5 0.5h0m1 0.5h0m1.5-6.5h0m0.5 3.5h0m3-0.5h0m5-3.5h0m5 7.5h0m1-3h0m0.5 2h0m8.5-3h0m3-2h0m0 1.5h0m0.5 0.5h0m2 4h0m6 0h0m8-4h0m4.5-0.5h0m1.5-2.5h0m1 1h0m-443 14h0m7-4.5h0m1-3h0m0.5 3.5h0m0.5 1.5h0m0.5-1.5h0m2-0.5h0m2 1h0m3.5-2.5h0m10 2.5h0m9-3h0m14.5 5h0m0 1.5h0m5-7h0m1.5 2.5h0m1.5 1.5h0m7-1h0m10-1h0m2 0h0m0.5-0.5h0m4 2.5h0m0 3h0m4.5-0.5h0m0 0.5h0m0.5-5.5h0m0 1h0m7.5-2.5h0m2.5 3h0m3 3.5h0m2-5h0m4.5-0.5h0m0 3.5h0m2.5 2h0m1.5-4h0m0.5-1.5h0m2 1h0m3 4h0m0.5-1h0m1-3.5h0m2.5-1h0m8 6h0m1-2h0m1-2.5h0m2 5.5h0m0-7.5h0m0.5 0h0m2.5 3h0m0 2h0m0.5 0h0m1-5h0m1.5 4h0m2 1h0m5-1.5h0m3 3.5h0m1.5 0.5h0m2-1h0m7.5-1h0m1 1.5h0m1.5-4h0m7.5-2h0m0.5 0h0m1.5 1.5h0m0.5 2h0m6 2.5h0m1.5-4.5h0m0 0.5h0m2 1h0m1-2h0m0-2h0m0 2.5h0m0.5-2.5h0m0.5 2h0m1.5-1.5h0m2 2.5h0m9.5 2h0m3 1h0m7 1h0m3-0.5h0m2-2.5h0m2 2h0m3-4h0m0.5-1h0m4.5 3h0m1-2h0m2-0.5h0m5 3.5h0m4.5-3.5h0m1 4h0m4.5-4h0m4 1h0m0.5 2.5h0m1.5-4.5h0m2-0.5h0m1 5.5h0m4.5-0.5h0m4 2.5h0m5-0.5h0m2-6.5h0m0.5 4h0m0.5 2h0m1-4h0m3 1.5h0m0.5 1.5h0m4-4.5h0m5 4h0m6.5 0h0m1 0h0m4-1h0m4.5-3.5h0m13.5 3.5h0m1 3h0m2-7.5h0m0.5 1h0m0 4.5h0m0.5-1.5h0m2.5-3.5h0m4-0.5h0m7 7.5h0m1-6h0m1.5 6.5h0m1-1.5h0m1.5-1h0m4.5-1.5h0m0.5 3h0m1.5-2h0m2.5-3h0m0 0.5h0m0.5-2h0m1.5 2.5h0m0 5h0m0-2h0m2-4.5h0m17.5 6.5h0m8.5-4h0m5 2.5h0m1.5 0h0m3.5-5h0m2.5 3.5h0m2 1h0m4.5-0.5h0m1-0.5h0m0.5 0.5h0m0.5-4.5h0m0.5 1.5h0m0.5 5h0m2-7h0m1.5 7h0m1-6h0m0.5-1h0m0 5.5h0m2 0.5h0m8-4h0m2.5 2.5h0m4.5 0h0m4.5-4h0m2 5h0m0.5-1.5h0m3.5 3h0m0-0.5h0m1-6.5h0m3.5 3h0m0-1h0m1.5 0h0m2 2h0m1.5 2h0m4-2h0m5.5-1h0m8.5 2.5h0m25.5-1.5h0m-481 9.5h0m4.5 1h0m0.5-1h0m0-1.5h0m6-4h0m2 7h0m7-4h0m3.5-2.5h0m1.5 1h0m0 5.5h0m1.5-7h0m9 3h0m1.5 4.5h0m2-7h0m0 6.5h0m2.5-0.5h0m0.5-3.5h0m0 2.5h0m3 0h0m1-5h0m3 4h0m0.5 1h0m3 1.5h0m1-5h0m1.5 4.5h0m1.5-3h0m11.5-0.5h0m2 4.5h0m2-4.5h0m0.5 0.5h0m0.5 2h0m0.5-0.5h0m1 1h0m1-5h0m9 1h0m1.5 4h0m2.5-4h0m0 3h0m3.5-4h0m0.5 3.5h0m4 1.5h0m0.5-2h0m9-3h0m7.5 6h0m2-0.5h0m0.5 0.5h0m1-5h0m1-1h0m2.5 5.5h0m0.5-4.5h0m3.5 3h0m3.5-4h0m0.5-1h0m2 4.5h0m0 0h0m4.5-3h0m1-2h0m1 3.5h0m2.5 3h0m6.5-4h0m2-0.5h0m1.5 5.5h0m2-4.5h0m8.5 3h0m3-5h0m4.5 5h0m3-4.5h0m1.5 4.5h0m0.5-3h0m0.5-1h0m9-1.5h0m2 6h0m4.5-2.5h0m4 3.5h0m0 0.5h0m1.5-5h0m4.5-1h0m5 2.5h0m6.5-4h0m1.5 7h0m0-4h0m0.5-0.5h0m1 3.5h0m0.5 1h0m0.5-6.5h0m10-0.5h0m0.5 3h0m5.5-1.5h0m1-1h0m0.5 5h0m11-1h0m0.5-4h0m9 4h0m3.5 0.5h0m1-2h0m7-1h0m0.5 2.5h0m1-2h0m0-2h0m1.5 0.5h0m0.5 3.5h0m0.5-0.5h0m1.5-3.5h0m0.5 1h0m0 2.5h0m5 1.5h0m3.5-3.5h0m2 1.5h0m1-1h0m0.5-2h0m0.5 5.5h0m3.5-2h0m1.5 3.5h0m2-0.5h0m3.5-6h0m0 1h0m5 5.5h0m0-2.5h0m3.5-4h0m7-0.5h0m4.5 3h0m0-2.5h0m5 0h0m0.5 4.5h0m0.5-2h0m3.5-1.5h0m2.5 4.5h0m3 0.5h0m1.5-1.5h0m1.5 0h0m2 1h0m0-5h0m8.5-2h0m3.5 0.5h0m0 6.5h0m4 0.5h0m4.5-2h0m1-0.5h0m0.5-1.5h0m3.5 4.5h0m4-1h0m3-1h0m3.5-1h0m4.5 2h0m3.5 0h0m3 1h0m3.5-1h0m0.5-1h0m0.5-3.5h0m0.5 3h0m1.5-2h0m3 1h0m3.5 2h0m1.5-5h0m1 6h0m0.5-4h0m2-0.5h0m6 3.5h0m1-1h0m2.5-2.5h0m0-0.5h0m1 2h0m3.5 1h0m2 1.5h0m0-7h0m1.5 7.5h0m0.5-6h0m0.5 5.5h0m13.5-5.5h0m2 0h0m13 5.5h0m2-1h0m6.5-1h0m0.5 1h0m1.5-3h0m5.5 4h0m0-4h0m2 3.5h0m6-4h0m0.5 5h0m-473.5 2.5h0m3 5.5h0m3.5-1h0m2-0.5h0m2-0.5h0m0-2.5h0m4 2.5h0m1.5 1h0m0.5 1h0m5.5-4.5h0m6.5-1.5h0m0.5 3.5h0m5 1h0m0.5-4.5h0m2.5 3.5h0m6 0h0m2 0.5h0m5.5-0.5h0m1 2.5h0m0.5-4.5h0m4.5-2.5h0m4.5-0.5h0m3 3.5h0m2.5 3.5h0m0.5-0.5h0m4.5-2h0m4.5 2.5h0m3.5 0.5h0m1.5-5h0m3 4.5h0m2.5-3.5h0m2.5-1h0m2-2h0m0 3h0m3.5 4h0m0.5-5.5h0m11 0h0m4-1h0m0 4h0m2 1.5h0m2-5.5h0m0 0.5h0m13-1h0m3.5 3h0m1-2h0m1.5-0.5h0m3.5 6.5h0m0 0.5h0m2-3.5h0m1.5-1.5h0m2.5 4.5h0m0-3.5h0m1-3h0m4 1h0m2.5-1h0m3.5 1.5h0m1 3h0m7-3h0m1 1h0m2-3h0m0.5 1h0m1.5-1.5h0m0 2.5h0m0 0.5h0m1.5 3h0m4-6h0m4.5 2h0m1 3.5h0m4-0.5h0m3-4h0m3 3.5h0m1-0.5h0m0 0.5h0m1-2.5h0m4.5 6h0m0.5-5.5h0m6.5 0h0m7 5h0m0.5-2h0m0.5 0h0m1 1.5h0m1.5 0h0m1 0.5h0m4.5-6h0m3 6h0m2.5-5.5h0m6 3h0m3.5-2h0m7 4h0m0-2h0m2 0.5h0m0.5 0h0m0.5-3h0m1 5.5h0m1.5-5h0m4 3.5h0m1.5-2h0m1.5 0h0m4-0.5h0m0.5 0h0m0.5 3.5h0m3-6h0m1.5 4h0m0.5-2h0m8 2h0m4.5-5.5h0m1.5 2h0m3 5.5h0m2.5-1.5h0m0.5-1h0m3.5-1h0m8.5 1.5h0m1.5 2h0m15.5-0.5h0m1-3h0m0.5-4h0m0.5 8h0m6.5-4.5h0m3.5-1.5h0m0 5h0m0.5 0.5h0m0-5h0m2 4.5h0m3.5 0h0m0-4.5h0m4.5 0.5h0m4 1.5h0m11 3h0m0.5-5h0m1.5-2.5h0m0 0.5h0m7.5 7h0m0-1h0m0.5-2.5h0m2 2h0m6-3h0m3 3.5h0m2-3.5h0m1 3h0m0.5-3h0m2 2h0m4.5-1.5h0m1.5 2.5h0m1 1.5h0m0.5-3h0m1.5 0.5h0m1.5 0.5h0m5.5-0.5h0m0.5 1.5h0m5-2h0m0.5-4h0m5 7h0m6-2.5h0m0.5 0.5h0m0-3.5h0m0.5 5h0m0.5-6.5h0m3.5 5h0m0.5 2h0m0.5-3.5h0m2.5 0h0m0.5 1h0m1-3.5h0m1.5 3h0m15.5 2.5h0m0.5-4h0m0.5 3h0m1-2.5h0m2 2h0m0.5-3.5h0m2 1h0m6-2.5h0m4.5 1.5h0m1 5h0m5-1h0m3.5-3.5h0m1 0h0m16.5-0.5h0m4 4h0m2-1.5h0m1.5-1.5h0m-489.5 11.5h0m2-1.5h0m4-1h0m2.5 2.5h0m0.5 1h0m2-4h0m7 4.5h0m0.5-6.5h0m10.5 0h0m2 3h0m0-2h0m7-2h0m2.5 3.5h0m0.5-4h0m7.5 2.5h0m2.5-2.5h0m1.5 5.5h0m1.5-2.5h0m0.5-1.5h0m1 3.5h0m0.5-3.5h0m3.5 5h0m1-3.5h0m4.5-2.5h0m1.5 3.5h0m2.5-3h0m4 6.5h0m8.5-1.5h0m1 0.5h0m0-4h0m3 3h0m4.5 1.5h0m4-5h0m2.5 2.5h0m4 3h0m1-4h0m0.5 4h0m5.5-2h0m2-4h0m6 4h0m4.5 2.5h0m6-7h0m0 7h0m5.5-2.5h0m3.5-4.5h0m7 5h0m0.5-5h0m2.5 4.5h0m5-3h0m1.5 0h0m5.5 3h0m7-4h0m7 5.5h0m1-2h0m1-1.5h0m2 3.5h0m2-5h0m3.5 1.5h0m1 2h0m7.5 1h0m0-1.5h0m4-4h0m1 3.5h0m7-4.5h0m3.5 3h0m1-1h0m3-2h0m0.5 5.5h0m1.5-4.5h0m1 5h0m0-4.5h0m1 3.5h0m2.5-0.5h0m0.5 2h0m0-6.5h0m7 7h0m13-1.5h0m4-2h0m1.5 0.5h0m1 1h0m7-2h0m4.5 1h0m0.5 1.5h0m0.5-3.5h0m1 3h0m1 2h0m0.5-4h0m3 0.5h0m3 3h0m3-5.5h0m3.5 2h0m0.5 3.5h0m1-1.5h0m0.5-3.5h0m5 5.5h0m3 0h0m0.5-4h0m1 2h0m7.5-0.5h0m3.5-3h0m3.5 1.5h0m1-2.5h0m0 5.5h0m0 0.5h0m3.5-4.5h0m5 6h0m3-7h0m0 0.5h0m0.5 1.5h0m0-0.5h0m1 3h0m4-3h0m3 3.5h0m1-1h0m3.5-0.5h0m1.5 1h0m1.5 1h0m4-3h0m2-2.5h0m1.5 2.5h0m1-2.5h0m1 2.5h0m0.5 1h0m3-2.5h0m3-2h0m1 7.5h0m2-1.5h0m1.5-5h0m0.5 6h0m2.5-5h0m2.5 1.5h0m1 1.5h0m3 0.5h0m0 1.5h0m1 0h0m1-1.5h0m3.5 0h0m2-0.5h0m2.5-2h0m0.5 1h0m8 0.5h0m2-1.5h0m2 2h0m1.5 1.5h0m3-4.5h0m1.5 0.5h0m1 1h0m4 4h0m1.5-7.5h0m2.5 7.5h0m1.5-4h0m2-1.5h0m0 5.5h0m0.5-5.5h0m0.5-0.5h0m1 2.5h0m1-0.5h0m4 0.5h0m10 1.5h0m9.5-4.5h0m1 0.5h0m2.5 2.5h0m6 2h0m8.5-2h0m5.5 0h0m4 0.5h0m0-0.5h0m0-1.5h0m5 1h0m4.5 0.5h0m2.5-3h0m3 2h0m0.5-2.5h0m0 2h0m4.5 4h0m1-3.5h0m1.5 5h0m18.5-2.5h0m0.5-3h0m1.5 2h0m1.5 1h0m1-1h0m1.5 1.5h0m-491.5 5.5h0m0 0.5h0m1.5-3h0m2 5h0m0-6h0m0.5 3.5h0m6 4.5h0m0.5-3.5h0m5-3.5h0m0.5 6h0m1.5-6h0m3 5h0m2-0.5h0m6.5 2h0m0-5.5h0m0 2.5h0m1 1.5h0m2.5 0h0m3.5-1h0m3.5 2.5h0m0.5-0.5h0m2.5-4.5h0m5-1.5h0m4.5 5h0m8-3.5h0m2 3.5h0m0-1.5h0m0 2.5h0m2.5 0.5h0m1.5-1.5h0m0.5-2h0m1 1.5h0m9 1.5h0m0.5-3h0m1.5-3.5h0m4 0h0m1 5.5h0m1-3h0m0.5 0.5h0m2.5-2h0m1 1h0m5.5 2h0m4-2h0m7-1h0m1.5 5.5h0m0-2h0m3.5 3h0m1-4h0m2.5-2.5h0m3 3h0m1-1.5h0m0.5 0.5h0m1 2.5h0m3-5h0m0 6.5h0m8-5.5h0m2-0.5h0m2.5-0.5h0m1 4.5h0m4.5-4h0m2 2h0m0.5 1h0m0.5 1.5h0m4.5-3h0m1 4h0m0-2h0m3-3h0m10.5-2h0m0.5 3h0m3 0.5h0m2 1h0m3.5 1h0m2.5-2.5h0m2 2.5h0m1.5 1h0m1 0.5h0m11.5 0h0m2.5-2h0m2 0h0m1.5 2.5h0m1-5h0m4.5 3h0m3.5-5h0m0 3.5h0m3.5 1h0m5 1h0m3-5.5h0m0 3.5h0m1 0.5h0m1 1.5h0m0-2h0m6 2.5h0m0.5 0.5h0m6-0.5h0m2-4.5h0m0.5 3.5h0m2-4.5h0m0 5.5h0m7.5-4.5h0m1.5 6h0m0.5-5h0m0.5 1h0m3-4h0m2 4.5h0m1 3h0m1-7h0m3.5 2.5h0m0 2h0m2 1.5h0m0.5-3h0m1.5-3h0m3 5h0m2.5-5h0m2.5 0.5h0m8 6.5h0m5-4.5h0m2 0h0m1 3h0m1 0.5h0m1.5-6.5h0m0.5 4.5h0m5-3.5h0m1 3h0m3.5-2.5h0m2-0.5h0m11.5 3h0m1 3h0m9-4h0m0.5 1h0m0 2.5h0m5-2.5h0m2.5 0h0m1-1h0m2 5h0m5-5.5h0m5.5 3h0m3-2.5h0m5 3.5h0m5-3.5h0m0.5 3.5h0m2.5-4h0m1 5.5h0m0-0.5h0m1-7h0m3.5 4.5h0m0 2.5h0m0-6.5h0m5.5 6.5h0m2-1h0m1-6h0m1 7h0m1-1.5h0m2-2h0m2-1h0m0.5 5h0m6.5-1h0m4.5-3h0m0.5-3.5h0m2.5 3.5h0m7-4h0m0 2h0m1.5 4h0m5.5-5h0m2.5 6.5h0m1-6h0m1 3.5h0m1.5 0.5h0m3.5-4.5h0m2 0h0m7.5 5h0m4 1h0m6.5 0h0m0.5-1.5h0m3.5-1.5h0m6.5 1h0m0.5-1h0m8.5 2.5h0m7.5-2h0m1.5-2h0m4 2.5h0m1-5h0m1.5 4h0m2 0.5h0m2 1.5h0m1-0.5h0m0-5.5h0m13.5 2h0m3-2h0m-491.5 10h0m0.5 0h0m10 6h0m1-5.5h0m7.5 1h0m0.5 1h0m5.5-2.5h0m1 4.5h0m0.5 1.5h0m1-4.5h0m0 4.5h0m1.5-3.5h0m0.5-3.5h0m1.5 6.5h0m2-0.5h0m1.5-3h0m6-1.5h0m1 1h0m0.5 4h0m1.5-2h0m0 2h0m3-7h0m2 1h0m10 1.5h0m0.5-2h0m1-0.5h0m1 7h0m4.5-1.5h0m0.5-5.5h0m0.5 3h0m1 0h0m6 4h0m2.5-4h0m3.5 2h0m0 1.5h0m1-2.5h0m2.5 1.5h0m9-0.5h0m5.5-2h0m2 1h0m2-1.5h0m2.5 0.5h0m1-3.5h0m2.5 2h0m3.5 3h0m4-4.5h0m1 7.5h0m1-1h0m4.5-5.5h0m0.5-1.5h0m2 7.5h0m2-5.5h0m2.5 1h0m8.5 4.5h0m0.5 0h0m1.5-1.5h0m1-1h0m0.5 2h0m1 1h0m0-4h0m2-0.5h0m0.5-1.5h0m1-1h0m2.5-0.5h0m0 0h0m3 6h0m1-3h0m6-0.5h0m2.5-0.5h0m0-2.5h0m1 6.5h0m0.5-0.5h0m2.5-4.5h0m1 2h0m0.5-3h0m0.5 3h0m0 3h0m5-4h0m1-2h0m2 6h0m1-1.5h0m1 0h0m0.5 1.5h0m2-5.5h0m1.5 1.5h0m0.5 4h0m1-6h0m0.5 3h0m7.5 1.5h0m2 2h0m2-2h0m0.5-1.5h0m1.5-2.5h0m2.5 6.5h0m0-4h0m1-2h0m1 1.5h0m1 0h0m0.5 4h0m2 1h0m2.5-0.5h0m3.5-3.5h0m5.5 0h0m0.5 2.5h0m3.5-5h0m1.5 3h0m0.5 0.5h0m0.5 3h0m5-4h0m3 2.5h0m3.5-6h0m1 1.5h0m0.5 2h0m5.5 1.5h0m1 0h0m1-2h0m3.5-0.5h0m14.5 4.5h0m3.5-5.5h0m0 0h0m1.5 4.5h0m2-2.5h0m1 0.5h0m0-3.5h0m1.5 4.5h0m0 1h0m3 0.5h0m6.5 0h0m2.5-4.5h0m0.5-1.5h0m3 5h0m6.5 1h0m4-2h0m0.5-1h0m1-2.5h0m2.5 1h0m0.5 2.5h0m0.5 1.5h0m1.5-3h0m0.5-3h0m0.5 0.5h0m3.5 6h0m6-6.5h0m2.5 1.5h0m5.5 4.5h0m3 0h0m1.5-3.5h0m1.5 4.5h0m0-0.5h0m1-5h0m0 0h0m2.5 2.5h0m0-1h0m3.5 2h0m0-3.5h0m1.5 4.5h0m1.5-2h0m4.5-1h0m1 1.5h0m4-2h0m1.5-1.5h0m5.5 0h0m0.5 4.5h0m0-3h0m23.5 2.5h0m0.5 2h0m0-3h0m2.5-1h0m8 0h0m1 1.5h0m10.5-5h0m2.5 3.5h0m0.5-2.5h0m3 6h0m3-2.5h0m3.5-2h0m0.5 3h0m8 2.5h0m5.5-7.5h0m20.5 0h0m1 1h0m5.5 2.5h0m5.5-3.5h0m-448 9.5h0m3 2.5h0m2.5-2h0m3 2h0m5-4.5h0m2 4h0m0.5 1h0m2 2.5h0m2.5 0.5h0m0-6h0m2-2h0m7 7h0m2.5-6.5h0m9 1h0m0 0h0m1.5-0.5h0m1.5 2h0m0.5 4h0m0.5-4h0m2.5 3.5h0m3.5 0.5h0m1-2h0m9.5-4h0m1.5 4h0m1.5-1.5h0m13.5 0h0m9 1h0m9 2.5h0m0.5-4h0m3.5 0.5h0m1-3h0m6 4.5h0m0.5 0.5h0m19.5-2h0m4.5 4h0m1.5-6.5h0m0.5 1h0m1.5 0.5h0m3-1h0m1-1.5h0m0.5 0.5h0m0 2h0m6 4h0m0.5 0h0m14-1.5h0m8-1h0m3.5 3h0m3.5-2.5h0m2 0h0m8.5-0.5h0m1 2h0m2.5-2.5h0m5.5 3.5h0m0-0.5h0m3 0h0m2-2.5h0m4.5-1h0m5-2h0m1 0.5h0m0.5 4.5h0m1.5-5.5h0m1 7.5h0m8-4h0m1.5 2h0m4-2.5h0m3.5-3h0m1 6h0m0.5-5.5h0m2.5 6h0m0 1h0m1-6h0m0.5 0h0m0.5 4.5h0m2 0h0m8.5-3h0m7.5 1.5h0m0-0.5h0m1-4h0m3 3h0m2-1h0m4.5 4.5h0m0.5-0.5h0m0-3h0m1.5-1.5h0m0 1.5h0m3-2.5h0m0.5 4.5h0m0 0.5h0m1.5-1.5h0m0.5 3h0m0-1.5h0m1-5.5h0m0 7.5h0m3-6h0m2 4.5h0m0-2.5h0m0.5-1.5h0m4 5.5h0m0-2h0m0.5 2h0m1.5-7h0m1.5 1.5h0m0 0h0m1-1h0m1.5 0.5h0m16.5 5.5h0m2-3.5h0m3.5 0.5h0m3-2h0m11 0.5h0m2 0h0m0.5 2.5h0m3-2.5h0m2-2h0m6 3.5h0m1-1h0m4 1.5h0m3-0.5h0m2 0.5h0m0-1h0m8-2.5h0m2.5-1h0m1 2h0m1 5h0m6.5-3.5h0m0 0h0m1-3.5h0m1 0h0m5 3.5h0m1 1h0m0-3.5h0m0 5.5h0m6 0.5h0m1-4.5h0m2.5 0h0m7.5-0.5h0m3.5 3h0m6.5-1h0m1-0.5h0m5.5-3.5h0m1.5 3h0m4-2h0m1.5 3.5h0m11-3h0m-430.5 13h0m5.5-6.5h0m0.5 6h0m4.5-1h0m4-5h0m0 5h0m2.5-1h0m2.5-4h0m0.5 5.5h0m4.5-3.5h0m2 4h0m5-0.5h0m4.5-5.5h0m1-0.5h0m1 0.5h0m3.5 5.5h0m4.5 2h0m10-5.5h0m0.5-2.5h0m1.5 0h0m5 1h0m2 2.5h0m3 0.5h0m3 2.5h0m0.5-3h0m3 2.5h0m5.5-5.5h0m1 2h0m2.5 4h0m5 1h0m7-6h0m2 0.5h0m2 0.5h0m0.5-2h0m0.5 6.5h0m5.5-1h0m1-4h0m0-1.5h0m2 5.5h0m1 1h0m1.5 1h0m0.5-4h0m3 0.5h0m3.5-4h0m2 0h0m9 2h0m3-2h0m3.5 7h0m2-4h0m6 1h0m10.5 0.5h0m3 1h0m4 2h0m3.5-5h0m0.5 1h0m1.5-3.5h0m2.5 2.5h0m7.5 0.5h0m1.5 4.5h0m4.5-3h0m7.5 0h0m2-5h0m0.5 2h0m5 4.5h0m3-5h0m4-1h0m2 0h0m3.5-0.5h0m6 5.5h0m2.5-5.5h0m3.5 4.5h0m4.5-3h0m0.5-1h0m2 4h0m2 2h0m3.5-0.5h0m1-4.5h0m2.5-0.5h0m3.5-0.5h0m0.5 2.5h0m1.5 3.5h0m6.5-4.5h0m0.5 5h0m2 1h0m0.5-3h0m11.5-5h0m3.5 6.5h0m3-6h0m0.5 3h0m1.5-3.5h0m5 1h0m2.5 6h0m4-4.5h0m0.5 2.5h0m10.5-2h0m0 3h0m5 1h0m0-7h0m0.5 3.5h0m2 3.5h0m0.5-5.5h0m2 4h0m2.5-1h0m5.5-0.5h0m1.5 3.5h0m3.5-4.5h0m3.5 0.5h0m2.5 2.5h0m0 1.5h0m1.5-6.5h0m4.5 2.5h0m3.5-1h0m4 4h0m0.5-5.5h0m5-1h0m3 7h0m1.5-5.5h0m4-0.5h0m5 3.5h0m1-0.5h0m0.5 0h0m0 3h0m0.5-1h0m0.5-3h0m0 1h0m5.5-0.5h0m1 2h0m1-5h0m2 6h0m0-2h0m0.5-3h0m0.5 4.5h0m6-0.5h0m14.5-3h0m6-1h0m2 6.5h0m1.5-5h0m4 2h0m1.5-1h0m2.5 3h0m26-4h0m-430.5 8h0m4.5 1h0m0.5-3h0m2-0.5h0m0.5 5h0m0.5-1.5h0m3 0.5h0m2-1.5h0m4.5 0.5h0m2-1.5h0m1 0.5h0m2.5-1.5h0m1-1h0m1 7.5h0m8.5-2.5h0m7-0.5h0m3-4.5h0m2.5 7.5h0m2-6.5h0m2.5 4.5h0m1.5-4h0m2.5-1h0m1 6.5h0m2.5-5.5h0m0-1h0m0 5.5h0m3-0.5h0m1-1h0m2.5-4.5h0m0.5 1.5h0m1.5-1.5h0m8 7.5h0m0.5-6h0m5 4h0m6.5 2h0m0.5-6.5h0m0.5 3h0m1-0.5h0m3-1h0m6.5 3.5h0m2.5-5h0m2.5 5h0m1 0.5h0m2-4.5h0m1 4h0m2-2.5h0m2 1h0m1 2h0m1.5-6h0m2 0.5h0m3-0.5h0m1.5 2.5h0m3.5 0h0m1-1.5h0m0.5-1h0m12 3.5h0m3.5-1.5h0m3.5 1h0m1 4.5h0m2-7h0m2 6.5h0m2.5-2h0m4-2.5h0m0.5 4h0m1.5-4.5h0m0-0.5h0m1-2h0m1 5h0m0 2.5h0m3.5-2h0m1-5h0m4.5 6h0m3-2h0m0.5-3.5h0m4.5 0.5h0m1 0h0m0.5-0.5h0m0 2.5h0m1 4.5h0m3-5.5h0m0.5 5h0m1-1.5h0m4.5-1.5h0m4.5-1.5h0m0.5 2.5h0m3-3h0m0 4h0m0.5-1h0m4.5-5h0m10 7.5h0m1.5-2h0m2-6h0m9 6h0m2-6h0m5 4h0m0.5-4h0m1 6h0m3-4h0m2 3h0m4.5-2.5h0m1.5-1.5h0m0.5 6.5h0m1.5-7h0m1 1h0m2 4.5h0m0.5-5h0m5.5 4h0m6 3h0m0.5-6h0m0 0h0m0 1h0m3.5-2h0m1.5-0.5h0m3 4h0m1.5 2.5h0m2-6.5h0m9.5 1.5h0m2.5 5h0m4-7h0m1 5h0m1.5-2h0m2.5 0.5h0m7 4.5h0m0.5-6h0m2 4h0m4.5-0.5h0m0.5 0.5h0m3.5-1.5h0m3.5-3h0m5 5.5h0m1-3h0m0.5-3h0m7 4.5h0m3.5-2.5h0m4 2h0m0.5 2h0m1.5-2.5h0m0.5 0.5h0m0-5h0m8 6h0m1.5-5h0m3 3.5h0m1 3h0m1-3.5h0m0.5-1.5h0m0 2h0m7 1.5h0m0 0h0m0.5-4h0m3 5h0m0.5-4h0m1-2.5h0m1 3h0m0.5 0.5h0m2.5-0.5h0m0.5 2.5h0m3.5-2.5h0m1-3h0m4.5 6h0m2-4.5h0m1.5 4.5h0m1.5-2.5h0m0-3h0m3.5 7h0m3.5-8h0m3 1.5h0m1 0.5h0m-393.5 6h0m13.5 4h0m0.5-2.5h0m4 6.5h0m3.5-4h0m3.5-2h0m0 4.5h0m0.5 0.5h0m1.5-5.5h0m3.5 2.5h0m1-3.5h0m0.5 1.5h0m0.5 0h0m1 2.5h0m0.5 2h0m0.5-2.5h0m0.5 2h0m10-3.5h0m0.5 3.5h0m6.5 0.5h0m9.5 0.5h0m2-3h0m2-0.5h0m1-2.5h0m4.5 1.5h0m2 3h0m1.5-2h0m0.5 0h0m0 3h0m12.5-6h0m4.5 0h0m4 1h0m0.5 1.5h0m4 3h0m3.5-3.5h0m1 2h0m1 0.5h0m1 1h0m0-0.5h0m2-1h0m1.5 3h0m1.5-1h0m2-6h0m0.5-0.5h0m1 2h0m0 0h0m0.5 6h0m1.5-2h0m0-2h0m0.5 3.5h0m2-2h0m1-0.5h0m1 0.5h0m1-0.5h0m6.5-0.5h0m0.5 3h0m1.5-3h0m2 2.5h0m1.5-4.5h0m1 2h0m1-2.5h0m0.5 2.5h0m6.5 0.5h0m0.5-1.5h0m11 0h0m1.5 0h0m5-2.5h0m5.5 7h0m3.5-3.5h0m2.5 0.5h0m2 1h0m1 1h0m0 0.5h0m16-7.5h0m0.5 4h0m0.5 1.5h0m0-2.5h0m1 1.5h0m2-2h0m4.5 2h0m3 2.5h0m4-2h0m1.5 2.5h0m3.5-6h0m7 6h0m1-2.5h0m2.5-4h0m0.5 0.5h0m3.5-1h0m2 0.5h0m3 1.5h0m0 5h0m1-1.5h0m0-5h0m0.5 6h0m4.5-2.5h0m0.5 3h0m0-2.5h0m1.5 0.5h0m1-4.5h0m16 1.5h0m1 1h0m2.5 2.5h0m5.5 1.5h0m4-2.5h0m0 2.5h0m5-0.5h0m1.5 0h0m1.5-4.5h0m0.5 0.5h0m0 0h0m0.5 1h0m4.5-3.5h0m7 5h0m5.5-5h0m1 1.5h0m2-1h0m2 0.5h0m1.5 3h0m1 1.5h0m1-2.5h0m7-3h0m0 7h0m0.5-1.5h0m4.5-4h0m3 1h0m2.5-1.5h0m1 3h0m7.5-2h0m8 1.5h0m4 3.5h0m0.5-3.5h0m3 3h0m1.5 0h0m0-4h0m2 2.5h0m1 2h0m5-4.5h0m6.5-1h0m2.5 5.5h0m1.5-5h0m1-2h0m4 3h0m0 1.5h0m0.5-1h0m1-1h0m1 4h0m1-2h0m-375.5 3.5h0m9.5 5.5h0m4.5-5.5h0m4 6.5h0m1-1.5h0m1 0h0m0-4h0m2 0h0m1.5 4h0m4-4.5h0m1 4.5h0m1.5-3.5h0m0 1h0m0-1.5h0m0 2h0m1 2.5h0m3.5-2h0m5 3.5h0m6-2.5h0m4-4h0m0 6.5h0m6-4.5h0m1 4h0m2.5-0.5h0m0.5-0.5h0m2.5-4.5h0m1.5 0.5h0m0.5 4h0m1-3.5h0m1 2.5h0m1.5-1.5h0m6.5 2h0m0-1.5h0m1 4h0m1.5-0.5h0m2.5-6h0m5 1h0m0.5 3h0m0-4h0m2 2h0m1.5 3.5h0m0-5h0m2 0h0m1 5.5h0m1.5-0.5h0m3-2.5h0m0 2.5h0m14 0h0m1.5-5.5h0m0 6h0m1.5-4.5h0m0 0h0m3.5 3.5h0m1-5h0m0 4h0m0.5-4.5h0m1.5 5.5h0m0.5-0.5h0m2-1.5h0m2 1h0m1 2h0m0.5-0.5h0m2-2h0m0.5-1.5h0m0.5-2.5h0m7 0h0m1.5 4.5h0m1.5-4.5h0m1 3h0m1 0h0m6 2h0m7.5 1h0m0-6.5h0m12 6.5h0m1-6h0m0 3.5h0m2-3.5h0m3 2.5h0m0.5 3h0m3-3h0m4.5-1.5h0m4 3h0m1.5-3.5h0m16 4.5h0m1-4h0m2 4.5h0m2-3.5h0m0-3h0m3 6h0m0.5-1.5h0m5.5 0.5h0m2-2.5h0m2.5 3h0m2-5h0m0 4h0m4-0.5h0m4.5 0h0m2-3.5h0m1 0h0m1 4h0m2.5-2h0m1.5-2h0m2.5 0.5h0m1.5 4.5h0m6.5-5h0m3.5 6.5h0m5.5-3.5h0m4.5 0.5h0m2-3.5h0m2.5 3h0m2 1.5h0m3 3h0m0-2.5h0m1-4.5h0m0.5 5.5h0m6-2h0m4.5-3.5h0m0 1.5h0m2-1h0m2.5 3.5h0m0.5 1h0m1-5.5h0m14.5 0h0m5.5-0.5h0m17.5 7h0m2-2h0m0.5 2h0m11.5-1h0m4-3h0m4.5-0.5h0m0.5 2h0m1.5-2h0m4.5-2.5h0m3 6.5h0m3 1h0m6-4.5h0m4.5-1h0m4.5 5h0m276.5-3h0m85-1.5h0m23.5 4.5h0m2.5-4.5h0m-759.5 12h0m10.5-4.5h0m1.5 3h0m3.5 2.5h0m4.5-2h0m0.5-2h0m0 0h0m2-2h0m2 4.5h0m0-4.5h0m4-1h0m1.5 4h0m1 2.5h0m10-4.5h0m2-2.5h0m10 6h0m7 0.5h0m0-1h0m1-0.5h0m1-3h0m0.5-0.5h0m0.5-1.5h0m0.5 5.5h0m0.5-3h0m0.5 3h0m1 2h0m2 0h0m1-3.5h0m2-1.5h0m4 2.5h0m4 2.5h0m1.5-2h0m0-1h0m1.5 0h0m2 0h0m3 1h0m0.5-5h0m3.5 6h0m2-1.5h0m0.5-2h0m3 0.5h0m0 1.5h0m2.5-3.5h0m3 6h0m8-1h0m4.5-0.5h0m5.5-3h0m1.5-2.5h0m4 2h0m1 1.5h0m3.5 1h0m9-2.5h0m5 3h0m2.5-5h0m11 0h0m4 2.5h0m0-1.5h0m0.5 6h0m7-5h0m2-1h0m5 5h0m2.5-0.5h0m2-0.5h0m1.5-2h0m0.5 2h0m6.5-5h0m0.5 4h0m6 3.5h0m2 0h0m6.5-4h0m1.5 2h0m4.5-1.5h0m2-4h0m1 5h0m1.5 0h0m0 1.5h0m2-5.5h0m1 0h0m6-1.5h0m4 6.5h0m3-4.5h0m5.5 5h0m1-2.5h0m1-3h0m1-1h0m7 6h0m6-3.5h0m5.5-2.5h0m4 1.5h0m5.5-1.5h0m1 6h0m2-5.5h0m1.5 3h0m3.5 1.5h0m3.5-1.5h0m1 1h0m0-2h0m0.5 4.5h0m1.5-6h0m1.5-1h0m2 2.5h0m2 2.5h0m4-3.5h0m6 5.5h0m2.5-5h0m3.5 4.5h0m0.5-4.5h0m6 3.5h0m0.5-5h0m4.5 3h0m4-2.5h0m2.5 4h0m0 0h0m4.5 1h0m0-3h0m1 1h0m4-2h0m1-1.5h0m1 2.5h0m12.5 1h0m2.5-0.5h0m2-2h0m0 0.5h0m2.5 1.5h0m0 0.5h0m1-2.5h0m2.5-1h0m2 2h0m2 3h0m6.5 1h0m0.5-5.5h0m5 6.5h0m297-1.5h0m7.5-5.5h0m5 0h0m15.5 4h0m6.5 0h0m3 2.5h0m9.5-3.5h0m2.5-2h0m8.5-1h0m6.5 3h0m5.5 1h0m9.5-1h0m3.5 1h0m3-3h0m3 4.5h0m4.5-4.5h0m5.5 3h0m4.5-2h0m10.5 2.5h0m-780 5h0m2.5-1.5h0m0.5 5h0m2.5-5h0m6 2h0m1.5 1.5h0m3.5-4h0m10 4h0m0.5 1h0m5-3.5h0m8.5-0.5h0m0.5 5h0m2.5-2.5h0m8-0.5h0m1.5 0h0m4 4h0m0-3h0m0-1h0m1 4.5h0m3-4h0m3.5 2.5h0m6-6.5h0m2 7h0m1.5 0.5h0m0-0.5h0m3.5-1.5h0m6 1.5h0m9.5-2h0m2 0.5h0m2.5 0h0m1-3.5h0m0.5 4.5h0m5.5 1h0m2-4h0m0.5 2.5h0m4.5 1.5h0m10-4h0m4-2.5h0m1.5 2.5h0m1-2.5h0m1 6.5h0m3-1.5h0m2-1.5h0m3.5 3h0m8 0.5h0m2.5-2.5h0m0.5 1h0m0.5 1.5h0m0.5-2.5h0m2.5-2h0m3 4h0m0.5-3.5h0m4 2h0m1-3.5h0m1.5 4h0m5-2.5h0m1 2h0m0.5-3.5h0m3.5 3h0m0.5-4h0m5 6h0m4.5-5.5h0m1 4h0m2 0.5h0m0.5-3h0m4-1h0m0.5-1h0m1 0.5h0m9.5 4.5h0m4-0.5h0m3.5-4.5h0m3.5 0h0m8.5 4.5h0m5-0.5h0m0.5 1h0m2.5 1h0m0-6h0m1 3.5h0m3.5-0.5h0m4-1.5h0m3 3.5h0m2.5-5h0m13-0.5h0m2 1.5h0m0.5 2h0m2 2.5h0m4 1h0m1.5-3h0m0.5 1h0m0-1.5h0m1.5 1.5h0m0.5 0h0m0.5-1h0m4.5-2.5h0m0.5 3.5h0m0.5-0.5h0m8.5-3h0m3.5-2h0m1 7.5h0m4.5-4h0m0.5 2h0m2-6h0m5.5 6.5h0m2-5h0m2 5.5h0m1.5-1h0m2-2h0m0.5 2.5h0m2-4.5h0m2.5 0h0m1 3.5h0m6.5-1h0m11.5 0h0m1-4h0m6.5 1h0m0.5-1h0m4.5 6.5h0m3.5-3h0m0.5 2h0m2.5-3h0m6 1.5h0m5.5-1h0m1.5-0.5h0m279.5 4h0m2.5 0h0m33-5.5h0m9 2h0m6 1.5h0m29.5 0h0m5.5 0h0m13.5-3.5h0m9 3.5h0m4 3h0m3.5-3h0m2-1.5h0m2-2h0m1.5 3.5h0m2 3h0m4-3h0m7.5 3h0m-760.5 0.5h0m0.5 4h0m3.5-2.5h0m5 3h0m0.5-0.5h0m6-3h0m1 0h0m6 4.5h0m3 0h0m1.5-3h0m2-2h0m13 5.5h0m5.5-6h0m0.5 4.5h0m0.5-4h0m0 4.5h0m3.5 0.5h0m6-1.5h0m5 2h0m2-0.5h0m7.5 1.5h0m1-5h0m3 5h0m2-3.5h0m0-0.5h0m3 3h0m1-1h0m0.5-0.5h0m2-3.5h0m0.5 4h0m1-2.5h0m2 4.5h0m1.5-3h0m4-0.5h0m0.5-2h0m3.5 2.5h0m3-3.5h0m5 0.5h0m1.5 4.5h0m2-1.5h0m3-4.5h0m0.5 7.5h0m5.5-3.5h0m2-2h0m4-1h0m1.5-0.5h0m5.5 1h0m2.5 0h0m1.5 1.5h0m1-3h0m0 6.5h0m1 1h0m1.5-5h0m4.5 3.5h0m0.5-1.5h0m0.5-1.5h0m1 4h0m2.5-2h0m5-3.5h0m2.5-1h0m1 0h0m7 7h0m0.5-7.5h0m2 1.5h0m0.5 6h0m1-5h0m7-1.5h0m0.5 6.5h0m6-1h0m1.5-6h0m1 0.5h0m2.5 4.5h0m1.5-0.5h0m13.5-2h0m4.5 0.5h0m1 3.5h0m2.5-0.5h0m0-3h0m3 4.5h0m1.5-5h0m10.5 0.5h0m4-2.5h0m4 6h0m0.5 0.5h0m1-4.5h0m1.5-2h0m0.5 1.5h0m3 3.5h0m8 1h0m4.5-4.5h0m0.5 2.5h0m5-4.5h0m4.5 1.5h0m3.5 0.5h0m2.5 1h0m3.5 4h0m1.5-2h0m3 1h0m0.5-2.5h0m3.5-0.5h0m0.5 1.5h0m0-1h0m2.5-4h0m7.5 3h0m3 2.5h0m5-1h0m5.5 2.5h0m1-3.5h0m1.5 2h0m2 0h0m2-1.5h0m4-1.5h0m0.5 2.5h0m8.5-5h0m12.5 5h0m2-4.5h0m0.5 6.5h0m5-5.5h0m5.5-1h0m0.5 0.5h0m2.5 3h0m271-3h0m58 1h0m3 1h0m4.5 0h0m31.5-2h0m22.5 5.5h0m2-5.5h0m2 3.5h0m9-2.5h0m2 4.5h0m4-2h0m-741 7.5h0m3.5-3.5h0m4.5 6h0m5.5-3h0m1.5 1h0m2-1.5h0m2.5-1h0m7.5 3h0m5.5 1.5h0m0.5 1.5h0m2.5-5h0m1.5-0.5h0m1-2h0m2.5 0h0m4 4.5h0m0-2h0m0.5-0.5h0m6.5-1.5h0m0.5 4.5h0m3.5-1.5h0m0.5 0.5h0m6.5-4h0m3.5 2h0m1.5 1h0m7.5 2.5h0m1-1h0m3-1h0m4.5 4h0m2.5 0h0m2-1.5h0m4-1.5h0m1.5 0.5h0m3.5 0h0m14-4.5h0m1.5 5.5h0m1.5 1h0m6.5-0.5h0m6.5-6.5h0m4 1.5h0m2 2.5h0m0-2.5h0m2 3.5h0m10-4.5h0m2.5-0.5h0m3 0.5h0m0.5 5h0m3-2.5h0m4 3.5h0m0.5-1.5h0m8.5-3h0m2.5 1h0m3.5 1.5h0m0-3h0m1 5.5h0m2-3.5h0m1 1h0m0.5-3h0m3.5 3h0m0.5-5h0m5 4.5h0m0.5 3h0m5-5.5h0m1-0.5h0m4-1h0m1.5 0h0m2.5 6h0m1-1.5h0m2.5-4h0m3.5 1.5h0m3 4.5h0m2-0.5h0m2-5.5h0m0.5 5h0m0.5 1.5h0m3.5-0.5h0m0.5-5.5h0m4 4h0m1.5 2h0m1-4h0m0.5 1.5h0m0 1h0m2.5 2h0m2.5-1.5h0m9.5-3.5h0m6 2h0m4.5 1h0m3 1h0m3-3h0m0.5 0h0m2 2.5h0m3 1.5h0m0-7.5h0m8.5 2.5h0m5 1h0m5.5 2.5h0m1.5-4h0m2 1h0m0.5-1h0m4-1h0m1 1.5h0m3 3.5h0m0.5 0.5h0m0-4.5h0m1 3h0m4 1h0m3.5-2h0m3.5-4.5h0m2.5 7.5h0m2.5-3h0m3.5-4.5h0m2 5.5h0m1.5 0h0m0 2h0m4.5-3.5h0m0.5 4h0m0.5-7h0m2 0.5h0m347 2.5h0m9.5-2.5h0m39 4.5h0m5.5-3.5h0m2 4.5h0m4-4.5h0m4.5 0h0m3 1.5h0m1.5-1.5h0m-769 8.5h0m26 4h0m1.5-0.5h0m1-4.5h0m12 0h0m0 4h0m6.5 1.5h0m1-5.5h0m1.5 5h0m0.5-4.5h0m0.5-0.5h0m3.5-1.5h0m0.5 4.5h0m1.5-2h0m9.5 2.5h0m4.5-5h0m0.5 2.5h0m9 4h0m2.5-7h0m10 6h0m1-3.5h0m9 4h0m0.5 0.5h0m5-6.5h0m4.5 3.5h0m1 2h0m9.5-2h0m0.5 0.5h0m0.5-1h0m2 0.5h0m8 2.5h0m6.5-2.5h0m13.5-2.5h0m0 3.5h0m2-2h0m5-2h0m2 6h0m3.5-5h0m4 5.5h0m3-1h0m7-1h0m2-3.5h0m4 1.5h0m6 3h0m2-5.5h0m1 6.5h0m7-2.5h0m0-3h0m0.5 6h0m0-6.5h0m3 2.5h0m6.5 4h0m3.5-2h0m10-4h0m5.5-1.5h0m0.5 4h0m3-1.5h0m4 4.5h0m1-7.5h0m0.5 2h0m3 1.5h0m0.5-0.5h0m0 3.5h0m2-1h0m0.5-3.5h0m1 5h0m13-4h0m3-0.5h0m3.5 1.5h0m5-2.5h0m4 5.5h0m5.5-3h0m1.5 3h0m0.5 0h0m1-7h0m4.5 8h0m0.5-1.5h0m14 0h0m0-6.5h0m2 6.5h0m3.5-5h0m5 1.5h0m5.5 4.5h0m2-2h0m2.5-5.5h0m2.5 1.5h0m5 4h0m20-1.5h0m0 2.5h0m1.5-6.5h0m4 7.5h0m342.5-4h0m5 3h0m5.5-5.5h0m44.5 5.5h0m2 1h0m4-5h0m2.5 5h0m3-6h0m3.5 5h0m-732.5 4.5h0m3.5 1.5h0m1.5-0.5h0m4-2.5h0m1-1.5h0m1.5 8h0m2-6.5h0m2 2h0m3 4h0m1-1.5h0m0-6h0m0.5 3.5h0m3-0.5h0m2 0.5h0m1 2.5h0m1.5-1.5h0m1 0.5h0m0.5 1h0m2-1.5h0m3-4h0m1 0h0m0 5h0m6.5-5h0m15 2h0m0.5 1h0m7-1.5h0m2 1.5h0m2.5-0.5h0m5-3h0m4.5 3h0m0-1.5h0m4 5h0m1 1.5h0m0.5-2.5h0m2.5-2h0m1.5 0h0m1-1h0m10-0.5h0m2.5-1.5h0m0.5 3h0m5-2h0m3.5 1.5h0m4.5 0.5h0m4 1.5h0m5.5-2.5h0m1.5 1h0m0.5 2.5h0m0.5-2.5h0m4 0h0m2-2.5h0m0 4h0m5.5 2h0m1 0h0m8-6.5h0m5.5 6h0m0 1.5h0m0.5-5.5h0m11-1.5h0m0 7h0m0.5-7.5h0m6 3h0m4 2h0m0.5-1.5h0m0-3h0m11 6h0m4-6.5h0m2.5 4.5h0m3 0.5h0m4.5-4h0m0-1h0m0.5 3.5h0m2-3h0m1 6.5h0m1.5-7h0m0.5 4h0m0-2h0m12 3h0m10-1h0m9.5 0h0m1-3h0m0.5 5.5h0m1 0h0m7.5-3h0m0 2h0m1.5 0h0m1.5-1.5h0m1.5-1h0m0.5 0.5h0m3 0h0m4 2.5h0m3.5-5.5h0m1 2h0m1-1.5h0m1 3.5h0m10.5-3.5h0m7 0.5h0m2-1h0m6 1h0m0 1h0m5 3.5h0m2-2.5h0m8.5-1.5h0m10 3.5h0m345-5h0m8.5 2h0m41 3h0m14-1h0m2-2h0m4.5 0h0m-723 12h0m5.5-2h0m0.5 0h0m9.5-0.5h0m1-4h0m4 4h0m1-2.5h0m6 3h0m0.5-3h0m2-2h0m2.5 6.5h0m2-4h0m2.5 5.5h0m0.5-5.5h0m1 4h0m1 1h0m3.5-7h0m0 7.5h0m3-0.5h0m3.5-5h0m0.5 0.5h0m2.5 0.5h0m10 3h0m0 1h0m1-2.5h0m4-3.5h0m0.5 1.5h0m2 3h0m5-1.5h0m0-4.5h0m0 1.5h0m0 4.5h0m9-4.5h0m4.5 5.5h0m0.5-1.5h0m1-1.5h0m1 3.5h0m0-2.5h0m2.5 2h0m4-5h0m3 1h0m2-0.5h0m4-2.5h0m0.5 4.5h0m0 1h0m3 2.5h0m0-2h0m1 0h0m2.5 2h0m2.5-5.5h0m6 4h0m1.5 1.5h0m7-3h0m6 2.5h0m2-4.5h0m1 3h0m3.5-4.5h0m0.5 2h0m1.5-1.5h0m3.5 4h0m2.5-2.5h0m4.5 1h0m1-2h0m1 3h0m0.5-4h0m0.5 4h0m0.5 2h0m0-1h0m0-1h0m6-0.5h0m1-4h0m6 4h0m2 2.5h0m0.5-4.5h0m1.5 3.5h0m8.5-5.5h0m3 6h0m0.5-6h0m4.5 4h0m4.5-0.5h0m1.5 0h0m1-1h0m1.5 0.5h0m3 3.5h0m7.5-7.5h0m0.5 5h0m1 2.5h0m2-1.5h0m10.5-3.5h0m1.5 2.5h0m5 1h0m0.5-4.5h0m0 6h0m1-6.5h0m1 3.5h0m12.5-3.5h0m1.5 4.5h0m2.5 0.5h0m6.5-0.5h0m6-4.5h0m0 0h0m0.5 7h0m2-6.5h0m0.5 4.5h0m4-5h0m3.5 0h0m2 6h0m3-5.5h0m9.5 3h0m12-2.5h0m356.5-0.5h0m5.5 1h0m7.5 1h0m6.5-1h0m34.5 2h0m4-4h0m4.5 1h0m1 5.5h0m3.5-3.5h0m-719 6h0m1.5-1h0m0 4h0m5-4.5h0m5 7h0m1.5-3h0m2.5 1.5h0m1.5-1.5h0m3-1.5h0m1 4.5h0m4.5-6.5h0m2 2h0m0.5 2.5h0m0.5-2h0m4-1h0m1 2.5h0m4.5-0.5h0m0.5 3h0m2-5.5h0m0.5 4.5h0m1.5-2h0m0.5-4h0m4.5 4.5h0m4-4h0m0 4h0m1.5 0.5h0m3-0.5h0m1.5 2.5h0m0.5-6h0m3 5h0m3-1h0m2.5 0.5h0m0-2h0m20.5 3h0m8-4h0m3 4.5h0m4.5-2.5h0m0.5-3h0m4.5-1h0m2 0.5h0m4.5 2.5h0m2.5-1h0m6 0h0m19 0h0m9-2h0m2 4h0m1.5 1h0m2.5-0.5h0m2.5-5h0m0.5 6.5h0m0.5-5h0m3 4h0m2.5-2h0m4.5 4h0m10-5.5h0m2.5-1.5h0m2.5 3h0m1.5 0.5h0m0.5-2h0m0.5 1h0m2-2.5h0m2.5 2.5h0m4.5-1h0m1.5 6h0m2.5-6.5h0m0-1h0m1.5 5.5h0m1.5-2h0m7.5 4h0m3-1h0m4 1h0m1.5-5h0m0.5-1h0m1.5 1h0m6.5-3h0m1 1h0m1.5 6h0m4-6h0m3 4.5h0m13-1h0m10.5 0h0m10.5-3.5h0m5.5 3.5h0m10.5-0.5h0m0 4h0m1.5-3h0m3.5-2.5h0m378 3h0m2-5.5h0m14 6.5h0m16-1h0m3.5-2.5h0m6.5-3h0m2 5h0m-702 4h0m20.5 0h0m1 0h0m3 2h0m1-1h0m3 1.5h0m5-2h0m1 2.5h0m6 0.5h0m2-2.5h0m0.5 0h0m1-2h0m0 4h0m1.5-2h0m3 0.5h0m3.5 1h0m3.5-1.5h0m3.5 5h0m1.5-2h0m6-2h0m0-0.5h0m4.5-1.5h0m5 2.5h0m21 1.5h0m3 0.5h0m6 2h0m0.5-5h0m0 3.5h0m3-5.5h0m1 0.5h0m8.5 6h0m1.5-2.5h0m2 3h0m1 0.5h0m1-5.5h0m0.5 4h0m1.5-5h0m7 1.5h0m0.5 3.5h0m0.5-6h0m1 1.5h0m6-1h0m8.5 6h0m4-1.5h0m0-1h0m6 0h0m4.5 1.5h0m2.5-5.5h0m5 3h0m1-3h0m6 5.5h0m5-2.5h0m0.5-2h0m3.5-1h0m15 2h0m1 1h0m11-0.5h0m5.5-2.5h0m1 2h0m1.5 1.5h0m0-1.5h0m0.5 0.5h0m4 5h0m8.5-3h0m1-2.5h0m5.5 3h0m0.5-4.5h0m5.5 3h0m0.5-4h0m0.5 4h0m1-1h0m7-0.5h0m10.5 2h0m2.5-3h0m0.5 2h0m386 2.5h0m9.5-2h0m5.5-2.5h0m6.5 2h0m2-2h0m2 2h0m2.5 0h0m8.5 3.5h0m0-3.5h0m2 0h0m2-2h0m1.5 2h0m6 2.5h0m1.5-5.5h0m-702 13h0m18-4h0m5 4h0m6.5-1.5h0m2 1.5h0m3.5-1h0m3-3.5h0m6.5 5.5h0m3-5.5h0m4 3.5h0m1 1h0m3.5-2h0m1 3.5h0m0.5-7h0m1 6.5h0m1.5-2h0m1.5-2.5h0m3 0.5h0m3-1h0m1 0h0m0.5 5.5h0m2.5-1h0m0.5-2h0m6-1.5h0m0.5-1h0m4.5 4.5h0m2.5-1h0m3.5 1.5h0m0 0.5h0m1-2h0m6 0h0m8 0.5h0m11.5-3.5h0m1 2.5h0m2-4h0m0.5 2h0m1.5-1h0m1 6h0m6.5-2h0m1.5 1.5h0m1-2h0m4.5-2.5h0m0.5-2h0m2.5 3h0m3-2.5h0m15.5 2.5h0m0.5 2h0m4.5 0.5h0m6-1h0m1-0.5h0m13-1h0m0.5-1h0m23 4.5h0m6-4.5h0m0 1.5h0m3-2h0m1.5 4.5h0m3.5 1h0m0.5-3.5h0m1-2h0m1.5 0.5h0m1 1h0m1.5 2h0m0.5 1h0m4-4h0m1.5 2h0m7-3h0m12 4.5h0m3.5-4h0m4 2h0m8.5 0h0m1.5-2.5h0m391.5 2h0m1.5-2.5h0m5 2h0m9-2h0m6.5 3.5h0m2 0h0m3-3.5h0m3.5 4.5h0m4 2h0m1.5-6.5h0m3 3.5h0m-655 8h0m3 2h0m2.5-4.5h0m8.5 0.5h0m6.5-2h0m2 4h0m18 3h0m0.5-7.5h0m2.5 7.5h0m6-2h0m3-4h0m1.5 1h0m0.5 2h0m15.5 1.5h0m1.5-3h0m13.5 2h0m2 2.5h0m5-5h0m2-1.5h0m9 1.5h0m0.5 2.5h0m6.5-0.5h0m1.5-0.5h0m2 3h0m4.5-0.5h0m11.5 0.5h0m10.5-4.5h0m0-1.5h0m0 3.5h0m1-4h0m0.5 1h0m2.5 6h0m1-6h0m0 3h0m0.5 3h0m1-2h0m1.5 0h0m6-5.5h0m0.5 4h0m0-3.5h0m0.5 0h0m1 2h0m0.5-0.5h0m4.5 0h0m14.5 4h0m0.5 2h0m3-4h0m2.5-4h0m1 2h0m37 3.5h0m404.5-4h0m17 4.5h0m3.5-4h0m7.5 4h0m2-3h0m7.5 1h0m-660.5 11.5h0m32.5-5h0m3 4.5h0m0.5-5.5h0m0.5 2h0m5 2h0m8-3.5h0m1 0h0m0 1.5h0m5.5 1h0m6 1.5h0m7.5-5.5h0m0.5 4.5h0m12-4h0m0.5 2.5h0m4.5 2h0m6.5-5h0m2.5 7h0m10-2h0m3 2h0m2.5-4h0m4-0.5h0m9 2.5h0m4.5-2h0m1-2h0m7.5-1h0m2.5 1h0m7.5 5h0m14.5-3h0m2.5-2.5h0m9.5 1.5h0m1.5-1h0m1 1h0m3 0h0m1-1.5h0m10.5 1h0m13.5 3h0m432.5-3.5h0m6.5 4h0m2-4h0m4 6h0m5.5-6h0m2 6h0m-600 4.5h0m40-1h0m6.5-1h0m3.5-1.5h0m8 0.5h0m0.5 0.5h0m3.5 4.5h0m0 0h0m9 2h0m3.5-4.5h0m1.5-3h0m2 3h0m1 4h0m2.5-3.5h0m13-1h0m1 1.5h0m0-3.5h0m6 6.5h0m0.5-1h0m8.5 0h0m1.5 0h0m5.5-4.5h0m0.5 1.5h0m16.5 1.5h0m1.5-1h0m4-3h0m450.5 1h0m-580.5 6h0m3 8h0m7-4h0m5.5-1.5h0m13-2.5h0m3 0.5h0m1 1h0m3-1.5h0m5 7.5h0m1.5-7.5h0m5.5 5.5h0m14-1h0m4-2h0m0.5 5h0m2-1h0m10.5 1.5h0m4.5-5h0m2-2.5h0m5 5h0m11-5h0m5 1h0m1 2h0m-70.5 5.5h0m0.5 4h0m3.5-4h0m7 2h0m0.5-3h0m4 2h0m1.5 4h0m14-3h0m10-1.5h0m0.5 1.5h0m1.5-1h0m13.5 6h0m1.5-4.5h0m17 3h0m-52.5 1.5h0m99 17h0m-867.5 122h0m6.5 13h0m4.5 0h0m6.5-0.5h0m2-1h0m8.5-3h0m2.5 3h0m7.5-1h0m18 1h0m9 1h0m63.5-5h0m-128 11h0m6.5 1h0m0.5-1h0m0.5-5h0m0 4.5h0m4-4.5h0m5 0.5h0m2 6h0m0.5-4.5h0m0-1h0m1 3h0m9 2.5h0m10.5-1.5h0m3 0h0m0.5-2h0m5.5 1h0m2.5 2.5h0m3.5-1.5h0m1.5 1h0m0-1.5h0m1-1h0m1.5 1h0m4 2.5h0m1-1.5h0m2.5-6h0m0.5 3.5h0m0 2h0m5.5-1.5h0m5.5 2.5h0m7 1h0m4-3.5h0m3.5-2.5h0m1 5.5h0m0.5-3h0m2.5-0.5h0m1 0h0m5 0.5h0m2 3h0m0.5-1.5h0m5 2h0m0 0.5h0m1.5-5.5h0m1.5 0h0m19 5h0m3.5-5.5h0m0.5 1.5h0m4.5 3h0m1-2.5h0m1.5 1h0m0.5-3.5h0m3 4h0m5.5 2h0m0 0.5h0m5.5 0h0m6 0h0m-176 7h0m8-4.5h0m5 4.5h0m2.5-4h0m6 2h0m1 1h0m1-2h0m6.5-4h0m0.5 3h0m3 1.5h0m6.5-1.5h0m0.5 4.5h0m1-5h0m5 1.5h0m0 1.5h0m2 0h0m0-2h0m2 3.5h0m5 1h0m2-6.5h0m4.5-0.5h0m7 2.5h0m1.5 3.5h0m11.5-4.5h0m4 3.5h0m0-6h0m3 6h0m0.5 1h0m1-3h0m4 2h0m5 1.5h0m3.5-7h0m4 6.5h0m0.5-2.5h0m0.5-1h0m0-1h0m1.5 4.5h0m1-4.5h0m0.5 5h0m1-7.5h0m0.5 7h0m5-2.5h0m3-4.5h0m1.5 4.5h0m2-1h0m2.5 1.5h0m5.5 2.5h0m8-1.5h0m1.5-3h0m12-2.5h0m5-0.5h0m6.5 5.5h0m0.5-0.5h0m1.5-0.5h0m0.5 2.5h0m0.5-2.5h0m2-1.5h0m6.5-2.5h0m1 2h0m0.5 1.5h0m7.5-0.5h0m4 4.5h0m0-4h0m1.5 2.5h0m0.5-2h0m4 2.5h0m-206 7h0m11.5-5.5h0m1.5 3h0m0.5 0.5h0m2.5-3.5h0m1.5 7h0m2.5-2.5h0m7.5-2.5h0m0.5-2h0m0 4.5h0m1.5-4.5h0m0.5 5.5h0m0.5-5.5h0m3.5 7.5h0m5.5-3.5h0m3.5-0.5h0m0-1h0m1-1h0m3.5 2h0m0-3h0m0.5 5h0m8.5-5h0m4 2h0m13.5 1.5h0m0 0.5h0m7.5 1.5h0m7 0h0m1.5-3.5h0m6.5 2.5h0m1.5 2h0m6-5.5h0m7 3h0m3-4h0m2.5 1h0m1 2h0m3-3.5h0m5.5 0h0m7.5 4.5h0m2.5-2h0m9-2.5h0m2 4h0m4.5-1.5h0m2 2.5h0m1.5-0.5h0m5-3h0m0.5 0.5h0m2-1.5h0m3.5 1h0m6 3h0m9 2.5h0m0.5-6.5h0m2.5 5.5h0m1 0h0m3 1.5h0m2.5-0.5h0m2-4h0m3 2h0m3.5-0.5h0m6.5-3h0m4.5 3h0m2-2h0m2.5 2.5h0m6.5-2h0m4.5-2h0m5 6h0m-208.5 2h0m4.5 4.5h0m7.5-3.5h0m0 0.5h0m4.5 0h0m3.5 0.5h0m6-0.5h0m1 0h0m2.5-1h0m1.5 0h0m4 1.5h0m2 1.5h0m0.5-3.5h0m2-1.5h0m2 6h0m1-0.5h0m5-4.5h0m1.5 1h0m0.5 1.5h0m4.5-1h0m1-2h0m1 1.5h0m1 0.5h0m0.5 3.5h0m6-1.5h0m4-3h0m5 1.5h0m4.5 1.5h0m0.5-4.5h0m3.5 1h0m0-0.5h0m1 5h0m0.5-1h0m8.5 2h0m1.5-2.5h0m5.5 1h0m1-0.5h0m0 2h0m6-6h0m1.5 3h0m0 0.5h0m3 0h0m0-1.5h0m0 1.5h0m0.5-4h0m0.5 2.5h0m1.5 0.5h0m6.5-3h0m0 5h0m2 0.5h0m0.5 1h0m1 0.5h0m14.5-3h0m3.5-4h0m7 5h0m2.5-3h0m4.5 1h0m1 1.5h0m2.5 0h0m1.5 3h0m0.5 0h0m21.5-7h0m14 6.5h0m0.5-2.5h0m0.5-1h0m5 1h0m1.5 3h0m3-5.5h0m4.5 1.5h0m5.5 2.5h0m3.5 2h0m0.5-1h0m2.5-6h0m0 3.5h0m1.5 2h0m18.5-0.5h0m-222 2h0m2 0h0m1.5 1h0m1 0.5h0m1 3h0m1.5 1.5h0m1-4h0m4 5.5h0m0.5-5h0m2.5-2h0m2.5 5.5h0m0.5-4h0m2.5 3.5h0m0.5 0h0m3-5.5h0m5 7.5h0m2.5-4.5h0m4 4h0m2.5-5.5h0m0.5 1.5h0m4-0.5h0m2 0.5h0m0.5 1h0m1-3h0m0.5 5h0m1.5-1h0m0.5-1h0m4.5-4h0m4.5 2h0m1.5 0.5h0m1 3.5h0m2.5-2.5h0m0.5 0.5h0m1 4h0m0-0.5h0m1.5-6.5h0m3 1h0m0.5 5h0m0-1h0m0.5-3h0m2-3h0m0 0.5h0m9.5 2h0m10 2.5h0m0.5-1h0m0.5-1.5h0m0.5-0.5h0m5 5h0m2.5-1.5h0m0-1.5h0m1.5 1h0m0-4h0m0 3.5h0m1.5-4h0m0 4.5h0m1 0h0m1.5 2h0m1.5 0h0m2.5-4h0m2-0.5h0m1 0h0m1 5h0m2-6.5h0m4.5 4.5h0m1 2.5h0m0-0.5h0m0-4.5h0m10.5 0.5h0m4-1.5h0m2.5-2h0m4.5 0.5h0m0.5 2h0m0.5 4h0m12.5-3.5h0m1.5 1.5h0m4.5-1.5h0m11.5 2.5h0m0-3h0m1.5 4h0m3-2h0m1.5-3h0m6.5 3.5h0m3-2.5h0m1.5-2.5h0m1.5 6h0m5-5.5h0m1.5 0.5h0m4 2h0m3.5-2.5h0m1.5 6h0m4.5-5.5h0m6.5 2.5h0m3.5 0h0m0.5 2.5h0m5-3h0m6 2.5h0m-212.5 8.5h0m5.5-2.5h0m0.5 3.5h0m16-3h0m5 0h0m2 0h0m2.5 0h0m2-1h0m14 0.5h0m0 2h0m7-3.5h0m1 5h0m0.5-3.5h0m0.5 4.5h0m6.5-4.5h0m1 3.5h0m1.5-4h0m7 2.5h0m2.5-2h0m3.5 4.5h0m2-2.5h0m2-0.5h0m2-3h0m1-1h0m2.5 3h0m10.5 3h0m0.5-0.5h0m10 1.5h0m0.5-2.5h0m1-5.5h0m1.5 1.5h0m0.5 6h0m0-0.5h0m2-6h0m2 6h0m4.5-4.5h0m13.5-0.5h0m7 5.5h0m0.5-7h0m1.5 5h0m0.5-0.5h0m0.5-2h0m2.5 0h0m2-1h0m2 1.5h0m1-3.5h0m0.5 0.5h0m2 5.5h0m2-3.5h0m2.5 4h0m0.5-6h0m3.5 5h0m1 1h0m2.5-2h0m0.5-1h0m3 2.5h0m5.5-4.5h0m4 3h0m0.5 2h0m1.5-1h0m1.5 1.5h0m0.5-5.5h0m9.5-1.5h0m2 4.5h0m3 2.5h0m0.5-6.5h0m2 6h0m0.5-4.5h0m3 1h0m1.5-0.5h0m0.5-2.5h0m1 4.5h0m5.5 1h0m0.5-4h0m15 2h0m4 1.5h0m0 1h0m6-3.5h0m1 5h0m42 0h0m-247.5 4h0m2-0.5h0m4 3.5h0m1.5-6h0m3 4.5h0m3-1h0m1 1.5h0m2 1h0m3-5.5h0m0.5 5h0m4 1h0m4.5-5h0m2 2h0m9.5 0h0m0.5 2h0m6.5 0.5h0m5.5 0.5h0m8.5-2.5h0m0.5-2h0m1.5 3.5h0m6-4h0m4.5 5h0m4-3h0m6-1.5h0m2 1.5h0m0.5-3h0m2.5 3h0m7.5-0.5h0m1 3h0m1.5-2.5h0m4-1h0m3.5-2h0m0.5 5.5h0m1-6.5h0m2 7.5h0m8-6h0m1.5 0h0m4 5h0m6 1.5h0m2.5-0.5h0m0.5-1h0m5.5-1.5h0m0 1.5h0m0.5-1h0m1-1h0m2-2h0m0 0h0m2.5-1h0m7.5 2.5h0m7 1.5h0m4-2.5h0m5-1.5h0m1 4h0m0.5-0.5h0m3.5-3h0m0 4h0m6.5 0h0m1 0h0m2 1h0m0-2.5h0m1-1h0m1.5-1h0m1 5h0m0-7.5h0m2.5 6h0m7.5-1h0m0.5-3.5h0m12.5 6h0m19.5-0.5h0m-223.5 4h0m1.5-2h0m3 2h0m2 3h0m1-1h0m1.5-1h0m0.5-3.5h0m1 6h0m3.5-1h0m2.5-2h0m10 2.5h0m3.5-5.5h0m5.5 4h0m1-0.5h0m1 3.5h0m5.5-0.5h0m0 0.5h0m1-4.5h0m1.5-2h0m0 5h0m1-3.5h0m0.5 1h0m4.5 3.5h0m3.5-3h0m3-0.5h0m3.5 4.5h0m10.5-4h0m4.5-1h0m0.5 1h0m2 1.5h0m0.5-5h0m2 4.5h0m3-3.5h0m2 5.5h0m10-6h0m3 2h0m1.5-2.5h0m4 6h0m11.5-5h0m1 6h0m7.5 0h0m0.5-4h0m4.5 3h0m0.5 0h0m3-6h0m0 5h0m1-5h0m0.5 5h0m0.5-3h0m1.5 0h0m10.5 2h0m0.5 0h0m6 0.5h0m13-0.5h0m1.5-1h0m1 4h0m8-2.5h0m0.5-3h0m4.5 6h0m2-6h0m3 4h0m6.5-5h0m3 5.5h0m1-2.5h0m0.5 0.5h0m4.5 1h0m4.5-2.5h0m6-0.5h0m3.5 5h0m2-5h0m6 0.5h0m4 0h0m2 4h0m3-6.5h0m4 1.5h0m1 3h0m1-1h0m0.5 0h0m9 0h0m-238.5 8h0m0.5 0h0m2.5 1h0m2-4h0m2 4.5h0m6.5-5h0m1.5 1h0m12 0.5h0m0-0.5h0m5.5-0.5h0m0.5 1.5h0m16.5 3h0m1.5-2h0m2-1h0m0.5 2.5h0m2.5-4.5h0m0.5 7.5h0m0.5-4h0m1.5 1h0m3 0.5h0m1-1h0m7 3h0m2.5-6.5h0m4 3.5h0m0 2h0m0.5-3.5h0m6.5 4h0m0-6.5h0m10.5 2.5h0m1.5-1.5h0m0 2h0m1.5 2.5h0m0.5-1h0m1 2.5h0m1.5-5h0m10-2.5h0m0.5 3h0m3-2h0m1.5 1h0m2.5 3h0m3-2.5h0m0.5 1h0m0 1.5h0m0.5-2h0m2.5-2h0m0 5h0m1-2.5h0m1.5 3.5h0m2.5-6h0m8 1h0m6 1h0m0.5-2h0m3 0.5h0m3 1.5h0m1-1h0m1 2h0m2.5 0h0m3.5-1.5h0m5-2h0m0.5 4h0m3-2.5h0m2 2h0m1.5 0h0m1 2h0m0.5 2h0m4-2.5h0m24-4h0m0 3.5h0m10.5 3h0m0-3.5h0m3-4h0m3 5.5h0m7-2.5h0m0.5-3h0m1 1h0m4 2h0m5.5-0.5h0m0 0.5h0m0-0.5h0m0.5 4h0m9.5-1.5h0m0.5-2h0m0.5-2.5h0m0.5 3h0m0 3h0m2-2.5h0m9.5-2h0m3.5-1.5h0m4.5 6.5h0m0-3.5h0m4 0h0m-204.5 5.5h0m3 0h0m3 2.5h0m10-2.5h0m9.5 4.5h0m4-3.5h0m0 2.5h0m3.5-4.5h0m1.5 3.5h0m0 0h0m0.5-2.5h0m0.5 6.5h0m0-3h0m4-0.5h0m6 0h0m10.5 1h0m2 2.5h0m1-4h0m4.5 1h0m0.5 0.5h0m2 0h0m0-0.5h0m1.5-2h0m2 1.5h0m1.5-4h0m7 7h0m0.5-0.5h0m0.5 0h0m0.5-2h0m7 3h0m0.5-5h0m4.5 1h0m0.5-1.5h0m2 3.5h0m6.5 1h0m2-1h0m4.5 1h0m0.5-6h0m3.5 4.5h0m1-1h0m0.5 2h0m1.5-2h0m5.5-4.5h0m0.5 0.5h0m0.5 1.5h0m3.5 2.5h0m9-0.5h0m0.5-2h0m4 2.5h0m0.5 3h0m0.5-3h0m4.5-3h0m6 3.5h0m2 3h0m0.5-4h0m1-1h0m7.5 0.5h0m5 1h0m1-1.5h0m4-3h0m7 0.5h0m2.5 1h0m0.5 1.5h0m4.5 3.5h0m2-4.5h0m0.5-1.5h0m2-0.5h0m2.5 6.5h0m0.5-5.5h0m16.5-1h0m0.5 8h0m0.5-7h0m5.5 6.5h0m4-2.5h0m0.5 1h0m-194 3.5h0m4.5 2h0m10 0.5h0m0.5-0.5h0m0-1h0m6.5-0.5h0m3-2h0m1.5 4h0m1.5 1.5h0m0-5.5h0m1 0.5h0m5 5.5h0m4 1h0m1-0.5h0m2-3.5h0m1 2h0m2.5-1.5h0m1-3h0m0.5 2.5h0m1.5 4.5h0m8.5-5h0m0-0.5h0m0.5 1.5h0m0.5 4h0m4.5-5.5h0m1 4.5h0m2-1h0m3.5 0.5h0m1-4h0m0.5-1.5h0m0 5.5h0m0.5 0.5h0m1-6h0m0.5 1.5h0m2 4.5h0m3.5 0h0m0.5-5.5h0m4 2.5h0m2 0.5h0m9 1.5h0m0-4.5h0m8 0h0m10.5 2h0m6 1h0m0.5 3h0m4-5h0m10.5 3h0m3-2.5h0m1 4.5h0m0.5-5.5h0m0 3h0m1-4.5h0m0.5 7h0m1-1.5h0m0.5-3.5h0m14.5 2h0m1 4h0m0.5-1.5h0m0.5 0h0m1 0h0m2-1.5h0m1.5-3h0m0.5 4h0m5-4.5h0m3 4h0m5 1.5h0m3.5-4.5h0m6.5 1.5h0m0 1h0m5.5-1h0m0.5-4h0m7.5 1h0m0 6h0m3 0h0m9.5-2h0m5.5 2h0m-176 3h0m10 1h0m6 0.5h0m3-2h0m4 1h0m9-0.5h0m1 4h0m3.5-2h0m0.5 2.5h0m0.5-2h0m1-2.5h0m9 3h0m8 0.5h0m0.5 1h0m0-1.5h0m2-4h0m2.5 0.5h0m1.5 1.5h0m7 1.5h0m3.5-1h0m6-2h0m4.5 1.5h0m1-2h0m0.5-0.5h0m4.5 1.5h0m1 5h0m4-6h0m1.5 2h0m4-0.5h0m0 3h0m1.5 2h0m7-2h0m12.5-1.5h0m2.5 2h0m3 1.5h0m0.5-6.5h0m0.5 5.5h0m4-3h0m9-2h0m2.5 1h0m1.5-1.5h0m10 2.5h0m2 1.5h0m2.5-5h0m1.5 1h0m15.5 3h0m0 3h0m0.5 0.5h0m7 0h0m-154 5.5h0m6.5-1h0m1 0.5h0m5-4h0m0.5 7h0m4-7h0m1 4h0m1 2.5h0m1.5-3h0m10.5-2.5h0m5 0h0m2 2.5h0m7.5-0.5h0m3.5-2h0m0.5 3.5h0m1-2h0m0 1.5h0m1-3.5h0m4.5 2h0m1.5 2.5h0m0.5 2h0m0-6h0m0.5 0h0m2 0h0m13-0.5h0m3.5 1h0m4 4.5h0m4 0.5h0m1.5-3.5h0m2-2h0m1.5-1h0m0 5h0m5 0h0m2-5h0m1 0.5h0m0 0.5h0m0.5-1.5h0m2 4.5h0m0.5-1.5h0m1 0.5h0m1-0.5h0m1 0h0m0.5 2.5h0m1.5 1h0m2.5-5.5h0m5.5 0h0m1 6.5h0m6-2.5h0m3-4h0m1-0.5h0m0 5h0m0.5-5.5h0m1 5.5h0m3.5-3.5h0m0.5 5h0m2.5 1h0m2.5-2h0m4.5 0.5h0m2-4h0m1.5 1h0m3.5 4h0m2-5.5h0m1 4h0m3 0h0m4-2h0m1.5-2.5h0m2.5 3h0m3-1.5h0m0.5 2h0m-157.5 6h0m1 0h0m1.5-1.5h0m7.5 0h0m5.5 3h0m3.5-3.5h0m4.5 2.5h0m0.5-2h0m0 5.5h0m9-5.5h0m3 6h0m4-3h0m0.5 3.5h0m4.5-1.5h0m0-1h0m2-3.5h0m0.5 4.5h0m1.5 0.5h0m6-3h0m0.5 1.5h0m0.5-2h0m2 3h0m4.5-4.5h0m0 2h0m5.5 3.5h0m8-3.5h0m3 2h0m2-4h0m6 1h0m0.5 4.5h0m3-6h0m6.5 2.5h0m7-4h0m1.5 0h0m7.5 7.5h0m0.5-1.5h0m7.5 1h0m13-1h0m14-5.5h0m4 0.5h0m0 3.5h0m0-3.5h0m5 1h0m4-1h0m1-1h0m2 3.5h0m-130.5 10.5h0m1.5-3h0m5.5 0.5h0m11.5 0h0m1.5-1h0m1.5 1h0m1 1h0m0-1h0m3 3h0m1-5h0m1.5-1h0m4.5 3.5h0m5.5 1.5h0m1-2h0m4.5 0h0m4.5 1.5h0m0.5 1h0m0-2.5h0m0.5 1.5h0m16.5-1.5h0m2.5-2.5h0m7 5h0m7-5.5h0m-45 9.5h0m8-1.5h0m85 1.5h0m-117.5 9h0m775.5 12.5h0m5-4.5h0m10 3h0m4.5 1.5h0m11 0h0m3.5-3.5h0m4 3.5h0m7-2h0m62.5 1.5h0m24.5 0h0m8 0h0m5.5 0h0m-142 6h0m2.5 3h0m4.5-7.5h0m3 6.5h0m1.5-3.5h0m6.5 1.5h0m3.5-3.5h0m3.5 3.5h0m5.5 0h0m4 0h0m3.5-1.5h0m65-1h0m3.5 0h0m4.5 4.5h0m4-4.5h0m0.5 2.5h0m25.5-3.5h0m6.5-1h0m-140.5 8.5h0m7.5 3.5h0m1.5-3.5h0m4 5h0m3.5 0h0m5.5-0.5h0m1.5-3h0m-19 5.5h0m6.5 0h0"/>
<path stroke="#FCFDBF" d="M722 222h0m25.5-3h0m37.5 3h0m-129 8.5h0m105-2.5h0m32.5-1h0m38.5 2h0m17.5 3h0m-115 4h0m114 3.5h0m-170.5 3h0m16.5 2.5h0m79.5 1h0m-118.5 2h0m20 1.5h0m65 3h0m83.5 1.5h0m26-2.5h0m15 2.5h0m104 0.5h0m-288 3h0m24 2h0m50 4h0m0.5 0.5h0m51-0.5h0m39-3h0m0.5 3h0m40.5-1.5h0m-187.5 8h0m35-2h0m58.5 0h0m94.5 0h0m87.5-2h0m-294.5 7h0m55 3h0m266 3.5h0m10.5-3h0m2-0.5h0m-437.5 11h0m119 0h0m70.5-5h0m204 4h0m37 1h0m-409 8h0m56-1.5h0m26 0.5h0m24.5-1h0m256-2.5h0m91.5 5h0m-438 8h0m1-4h0m94.5-3h0m24.5 2.5h0m123-2h0m22 2.5h0m46.5 1h0m42.5 1.5h0m54-1h0m11.5-0.5h0m29 0h0m-455 5h0m184.5 4.5h0m4-5h0m131 5h0m19.5 0h0m12-5.5h0m-361.5 14h0m54-5.5h0m29.5 6.5h0m105-6h0m11 1.5h0m5.5-2h0m23 1.5h0m11 5.5h0m189.5-6h0m-467 9.5h0m67.5 2h0m8.5 2h0m153-6.5h0m72 3h0m139.5 2.5h0m50-6h0m24.5 0h0m-521 8.5h0m142 4h0m20.5-2h0m65.5 1h0m47.5-2.5h0m7-1h0m27 7h0m21-2.5h0m23-3.5h0m42-0.5h0m43 2.5h0m-440 9h0m155 2h0m51.5-2.5h0m53.5-4h0m21 1h0m-107 13h0m72-4h0m31 1h0m253 4h0m-485 8.5h0m29-1h0m110.5-3.5h0m67.5-3h0m54 4h0m14.5-2h0m63.5 6h0m25.5-8h0m-452 10.5h0m16.5 5h0m7-5h0m57.5-1h0m64-1h0m39.5 1h0m10.5 6h0m67.5-3.5h0m86 0h0m146 2.5h0m-459 4h0m164.5 5h0m47-4h0m135-2h0m36.5 5.5h0m2.5-6.5h0m8 6h0m92-4.5h0m-447.5 8h0m123 2h0m30 0.5h0m44-1h0m180.5 3.5h0m46.5-2.5h0m-423.5 9h0m80.5-3h0m12 4.5h0m98-3.5h0m171.5 4h0m32.5-4.5h0m31.5 4.5h0m-409.5 7h0m128 0.5h0m41-1h0m13-3h0m64.5 2.5h0m98 2h0m11-5h0m-414.5 12h0m90-1h0m3.5 0.5h0m126-4.5h0m6 5.5h0m45-6h0m171-1h0m11.5 6.5h0m-463 9.5h0m155-4h0m65-2h0m70.5 2.5h0m22-3.5h0m4 1h0m7.5-1.5h0m62 0.5h0m-325.5 11h0m2-3h0m83.5 1.5h0m5.5 0h0m78 0.5h0m119.5 5h0m133-6h0m-471.5 12h0m31-2h0m148-2h0m64.5 5h0m37-4.5h0m52 0h0m66 1.5h0m14-2.5h0m-109.5 12h0m7 1h0m5.5-1h0m62-2h0m-73.5 10h0m119.5 1h0m-91.5 7.5h0m22.5 0.5h0m26-5h0m2 5.5h0m19-0.5h0m28.5-2.5h0m-89.5 4.5h0m36 0.5h0m29 3h0m-99.5 6.5h0m14.5 5h0m41.5-3.5h0m36.5-1h0m24-1h0m-305 8h0m92 1h0m54 2.5h0m130.5-5.5h0m-258 8.5h0m267 1.5h0m-131.5 9h0m143 2.5h0m4.5 3.5h0m-154.5 10h0m131 0h0m1.5-2.5h0m17.5 6.5h0m3.5-4.5h0m-105.5 13h0m12-7.5h0m1 5h0m5 1.5h0m86-6h0m-159.5 14h0m40-2h0m76-1h0m38.5-1h0m-42 6.5h0m-108.5 14.5h0m19 4.5h0m6.5 3h0m-19 3.5h0m233 3h0m-53.5 4.5h0m-256.5 7h0m6.5 1h0m41 2h0m1 0h0m105.5 0.5h0m46.5 1.5h0m116.5-4.5h0m12.5 6h0m11-0.5h0m-300.5 4.5h0m234.5 3.5h0m12.5 0.5h0m34.5 0.5h0m8-3.5h0m21.5 2.5h0m38.5 0.5h0m-113.5 3.5h0m23.5 1h0m5.5-3h0m74 5.5h0m7-2.5h0m-112 8.5h0m5.5 2.5h0m13.5-1.5h0m124-0.5h0m-126.5 5.5h0m20 3h0m28-1h0m17.5 3h0m15-1.5h0m41-1.5h0m19-2h0m-160.5 6h0m2 3h0m71 4h0m88-7.5h0m16 4h0m19-1h0m3-0.5h0m-263 8h0m10 4.5h0m16.5 0.5h0m42.5-0.5h0m72 0.5h0m1-2.5h0m53.5 1h0m-215.5 7.5h0m43-0.5h0m37-4.5h0m38.5 6h0m60.5-5h0m75 4h0m23.5 1h0m4-3.5h0m-239 13h0m71-4h0m7.5-1.5h0m45 1.5h0m17.5-2h0m52 6h0m1-0.5h0m20-0.5h0m7.5-5.5h0m2.5-0.5h0m7 2.5h0m18.5 1.5h0m-284.5 10h0m22-3.5h0m31 2h0m12.5-0.5h0m28-3.5h0m23 6h0m31.5-1.5h0m19.5-6h0m11 7h0m49.5-1.5h0m61-1.5h0m-333 6h0m11.5-2h0m45 0.5h0m55 0h0m5 1.5h0m29.5 2h0m16.5 2.5h0m12.5-6h0m4 6.5h0m4.5-1.5h0m6.5-1h0m119.5 2.5h0m24-5h0m22 3h0m-269.5 6h0m49 3.5h0m18-1h0m54.5-5.5h0m97.5 2.5h0m62 4.5h0m16.5-6h0m-371.5 12.5h0m25-3.5h0m212 0h0m7 4h0m0 1h0m51.5-5.5h0m62.5 2.5h0m9.5 3h0m-382.5 6h0m0.5-2.5h0m10-1.5h0m5 5h0m2 0h0m1 1.5h0m51.5-2.5h0m50.5 0h0m73-0.5h0m57.5-1.5h0m14.5 0h0m5 0.5h0m24.5 4.5h0m24.5-0.5h0m15-3h0m-347.5 4.5h0m14 3.5h0m88 1.5h0m10-4h0m8.5 5.5h0m66-3h0m0-2h0m5.5-2h0m20.5 6.5h0m30.5 0.5h0m19.5-1.5h0m55.5-3.5h0m4 1.5h0m19 3h0m4.5-1h0m11-3.5h0m32.5 3h0m16.5-0.5h0m4.5 2.5h0m26 0.5h0m-408.5 2h0m5.5 0.5h0m16 2.5h0m23-5h0m34 4.5h0m5.5-3.5h0m22.5 2h0m1-2.5h0m0.5 7.5h0m53.5-3.5h0m5-3.5h0m101 0.5h0m15.5 5.5h0m38.5-7h0m0.5 5h0m28.5-1.5h0m-265 10.5h0m19-2h0m17-3.5h0m70 0.5h0m7 6h0m7-1.5h0m62.5-4.5h0m9 2.5h0m2 1.5h0m11-3.5h0m1.5 4.5h0m24.5-3h0m6.5 1h0m2.5-3h0m103.5-0.5h0m-459.5 13.5h0m65.5 1h0m20-7h0m31 0h0m17.5 8h0m55-3h0m31.5-4h0m60.5 6.5h0m31.5-0.5h0m20.5-3h0m29.5 4h0m43.5-7.5h0m9 0.5h0m12.5 6.5h0m-210 3.5h0m7 0.5h0m4 0h0m30.5 4.5h0m158-2.5h0m70 1h0m-501.5 8.5h0m14.5-3h0m119.5-1h0m27 3.5h0m64 1.5h0m20-3.5h0m33 0.5h0m3.5-3.5h0m4.5 5h0m51-2.5h0m20.5-2.5h0m37.5 1.5h0m70-1h0m-458 9.5h0m72 1.5h0m14-4h0m74 4h0m49.5-1h0m50.5-1h0m45.5-3h0m1.5 3h0m64.5 2.5h0m5.5 2h0m4-5.5h0m9 4.5h0m-368 5h0m59.5-3h0m3 1h0m137.5 5h0m30.5 0.5h0m67 1h0m31-4.5h0m31 0h0m0 0.5h0m14-3h0m-371 14h0m50 0.5h0m34.5-6h0m1.5 5h0m23.5-3h0m101.5-2h0m-132 9.5h0m18.5-1h0m12.5 0.5h0m20.5-2h0m60.5 4h0m22.5 3h0m3.5 0h0m14.5-4h0m5.5 0h0m29.5-0.5h0m39 0h0m2.5-0.5h0m-317 9.5h0m31 0h0m27 3h0m7-4h0m7.5 4.5h0m5.5-5.5h0m4 1.5h0m62.5 1.5h0m68 1.5h0m79.5-1.5h0m76.5-0.5h0m-372.5 8.5h0m21-3h0m68 2h0m59.5 2h0m169.5 1h0m35-6.5h0m0 0h0m17.5 0h0m380.5 4h0m3.5 2h0m-744.5 9h0m4-2h0m59.5-3h0m29.5 5h0m35-6h0m35.5-1.5h0m17 7.5h0m28.5-6h0m28.5-1.5h0m0.5 7.5h0m8.5-7h0m32.5 7h0m6-2.5h0m15.5-3.5h0m36.5 2.5h0m22.5 2.5h0m2.5 1h0m304-3.5h0m13.5 0h0m6.5 1h0m-644 5h0m0 4h0m28.5-6h0m14.5 7h0m85-4.5h0m1.5 4h0m12.5 0h0m33.5 1h0m3.5-4h0m17-1h0m62 1h0m0 4.5h0m15-2.5h0m364.5-4h0m17-0.5h0m46.5 2h0m20.5-0.5h0m5.5 1.5h0m-745.5 11.5h0m179.5-3.5h0m1.5-1.5h0m94 2h0m55 2h0m385.5-3.5h0m23 3.5h0m-734.5 6h0m7.5-2.5h0m18-2h0m6 0.5h0m45 1h0m61 3h0m41.5-1.5h0m136-1h0m16 1h0m-330 9.5h0m27.5 1h0m5.5-2.5h0m5 4h0m25-6.5h0m88.5 5.5h0m46.5-3h0m30 0.5h0m24 4.5h0m55-7.5h0m9 1h0m2.5 6h0m-253 4h0m16.5 1.5h0m66 1.5h0m24-4.5h0m29.5 5.5h0m29-7h0m70 3h0m-226.5 10h0m3-1h0m30 0.5h0m46.5 1h0m51.5 1h0m46.5-4.5h0m-170.5 11.5h0m52 1.5h0m27-1.5h0m58.5-2h0m1 0h0m13 2.5h0m19 0h0m18-2h0m3 1h0m6-5.5h0m-168.5 10h0m14.5-1h0m70.5 2.5h0m56.5 2h0m8.5-0.5h0m467.5 1h0m-637.5 4.5h0m105 0.5h0m30 0.5h0m33-0.5h0m27.5 0.5h0m8.5 1.5h0m-151 10h0m35.5 0.5h0m45.5-5.5h0m43 2.5h0m454.5-0.5h0m11.5-1h0m13-1.5h0m-595.5 8.5h0m28 6h0m3.5-7h0m108 3h0m435.5 2.5h0m4 0h0m12-5.5h0m1 3.5h0m-669.5 5.5h0m59 2h0m47.5-1h0m88.5 0.5h0m471.5-0.5h0m-564.5 11h0m3-3h0m16.5 0.5h0m16-1.5h0m1 3.5h0m9.5-2.5h0m7 0.5h0m33.5 4h0m6-6.5h0m-60 7.5h0m17 1h0m-725.5 149h0m-59.5 10.5h0m42.5 5h0m11.5-0.5h0m6-1h0m18.5-3.5h0m4.5 1h0m17.5 4h0m31.5 0h0m23.5 1.5h0m-120 3.5h0m34.5-0.5h0m24 2.5h0m66-0.5h0m2.5 0h0m-24 7.5h0m5 2h0m20.5-1h0m-116 9h0m15-5h0m7 0.5h0m7.5 4.5h0m63.5 0h0m47.5-4h0m6-1.5h0m-151.5 13h0m25 1h0m96.5-0.5h0m9.5-0.5h0m80.5 1h0m-183.5 8h0m21-0.5h0m2-5h0m85 6h0m7.5 1h0m24.5-5h0m12.5-1.5h0m-10 18h0m6.5-2h0m-116 12h0m17.5-4h0m43.5 1.5h0m24.5 5h0m13.5-5h0m3.5 2h0m108.5-3.5h0m8.5 1.5h0m30 2h0m-106 8h0m7-2h0m23.5 1h0m22.5 4h0m77.5-3h0m-136 8h0m57 1.5h0m20-5h0m5.5 0h0m64 5h0m-161.5 5.5h0m16-3h0m43 6h0m82-6h0m-89 15h0m21.5-2h0m80.5-5h0m-46 8.5h0m20.5 2h0m722 38.5h0m8 0.5h0m4.5 2h0m13 3.5h0m91.5-3h0m20.5-4.5h0"/>
</g>
<line x1="210.95" y1="140.9" x2="210.95" y2="1308.6" stroke="#000" stroke-width="4.27"/>
<line x1="208.8" y1="1306.4" x2="1787.8" y2="1306.4" stroke="#000" stroke-width="4.27"/>
<line x1="196.3" y1="195.90" x2="210" y2="195.90" stroke="#000" stroke-width="4.27"/>
<line x1="196.3" y1="416.30" x2="210" y2="416.30" stroke="#000" stroke-width="4.27"/>
<line x1="196.3" y1="636.60" x2="210" y2="636.60" stroke="#000" stroke-width="4.27"/>
<line x1="196.3" y1="857.00" x2="210" y2="857.00" stroke="#000" stroke-width="4.27"/>
<line x1="196.3" y1="1077.30" x2="210" y2="1077.30" stroke="#000" stroke-width="4.27"/>
<line x1="196.3" y1="1297.70" x2="210" y2="1297.70" stroke="#000" stroke-width="4.27"/>
<line x1="418.90" y1="1307" x2="418.90" y2="1320.8" stroke="#000" stroke-width="4.27"/>
<line x1="759.75" y1="1307" x2="759.75" y2="1320.8" stroke="#000" stroke-width="4.27"/>
<line x1="1100.60" y1="1307" x2="1100.60" y2="1320.8" stroke="#000" stroke-width="4.27"/>
<line x1="1441.45" y1="1307" x2="1441.45" y2="1320.8" stroke="#000" stroke-width="4.27"/>
<line x1="1782.30" y1="1307" x2="1782.30" y2="1320.8" stroke="#000" stroke-width="4.27"/>
<defs><linearGradient id="mg" x1="0" y1="0" x2="0" y2="1"><stop offset="0.0000" stop-color="#FCFDBF"/><stop offset="0.0417" stop-color="#FDEBAC"/><stop offset="0.0833" stop-color="#FED799"/><stop offset="0.1250" stop-color="#FEC488"/><stop offset="0.1667" stop-color="#FEB078"/><stop offset="0.2083" stop-color="#FD9B6B"/><stop offset="0.2500" stop-color="#FC8961"/><stop offset="0.2917" stop-color="#F8745C"/><stop offset="0.3333" stop-color="#F1605D"/><stop offset="0.3750" stop-color="#E75263"/><stop offset="0.4167" stop-color="#D8456C"/><stop offset="0.4583" stop-color="#C73D73"/><stop offset="0.5000" stop-color="#B73779"/><stop offset="0.5417" stop-color="#A5317E"/><stop offset="0.5833" stop-color="#932B80"/><stop offset="0.6250" stop-color="#832681"/><stop offset="0.6667" stop-color="#721F81"/><stop offset="0.7083" stop-color="#601880"/><stop offset="0.7500" stop-color="#51127C"/><stop offset="0.7917" stop-color="#3F0F72"/><stop offset="0.8333" stop-color="#2C115F"/><stop offset="0.8750" stop-color="#1D1147"/><stop offset="0.9167" stop-color="#100B2D"/><stop offset="0.9583" stop-color="#050416"/><stop offset="1.0000" stop-color="#000004"/></linearGradient></defs>
<rect x="1843.9" y="579.2" width="63.9" height="318.6" fill="url(#mg)"/>
<line x1="1843.9" y1="608.60" x2="1856.7" y2="608.60" stroke="#fff" stroke-width="2"/>
<line x1="1895.0" y1="608.60" x2="1907.8" y2="608.60" stroke="#fff" stroke-width="2"/>
<line x1="1843.9" y1="680.80" x2="1856.7" y2="680.80" stroke="#fff" stroke-width="2"/>
<line x1="1895.0" y1="680.80" x2="1907.8" y2="680.80" stroke="#fff" stroke-width="2"/>
<line x1="1843.9" y1="753.50" x2="1856.7" y2="753.50" stroke="#fff" stroke-width="2"/>
<line x1="1895.0" y1="753.50" x2="1907.8" y2="753.50" stroke="#fff" stroke-width="2"/>
<line x1="1843.9" y1="825.80" x2="1856.7" y2="825.80" stroke="#fff" stroke-width="2"/>
<line x1="1895.0" y1="825.80" x2="1907.8" y2="825.80" stroke="#fff" stroke-width="2"/>
<line x1="1843.9" y1="898.30" x2="1856.7" y2="898.30" stroke="#fff" stroke-width="2"/>
<line x1="1895.0" y1="898.30" x2="1907.8" y2="898.30" stroke="#fff" stroke-width="2"/>
<text transform="translate(881.77 99.94) scale(1.0296 1)" font-size="69.44" font-weight="bold">STAU1</text>
<text transform="translate(882.33 1437.14) scale(0.9103 1)" font-size="63.47">UMAP_1</text>
<text transform="translate(93.9 842.1) rotate(-90) translate(0.62 1.12) scale(0.9070 1)" font-size="63.60">UMAP_2</text>
<text transform="translate(121.65 213.59) scale(1.0366 1)" font-size="53.41">20</text>
<text transform="translate(122.15 433.99) scale(1.0154 1)" font-size="53.25">15</text>
<text transform="translate(122.08 654.29) scale(1.0291 1)" font-size="53.41">10</text>
<text transform="translate(154.45 874.69) scale(0.9341 1)" font-size="53.25">5</text>
<text transform="translate(153.83 1094.99) scale(0.9868 1)" font-size="53.41">0</text>
<text transform="translate(134.61 1315.39) scale(1.0069 1)" font-size="53.25">-5</text>
<text transform="translate(394.03 1370.79) scale(1.0069 1)" font-size="53.25">-5</text>
<text transform="translate(745.08 1370.79) scale(0.9868 1)" font-size="53.41">0</text>
<text transform="translate(1086.56 1370.79) scale(0.9341 1)" font-size="53.25">5</text>
<text transform="translate(1410.94 1370.79) scale(1.0291 1)" font-size="53.41">10</text>
<text transform="translate(1751.86 1370.79) scale(1.0154 1)" font-size="53.25">15</text>
<text transform="translate(1936.53 626.59) scale(1.0482 1)" font-size="53.41">1.00</text>
<text transform="translate(1936.42 698.79) scale(1.0405 1)" font-size="53.41">0.75</text>
<text transform="translate(1936.41 771.49) scale(1.0494 1)" font-size="53.41">0.50</text>
<text transform="translate(1936.42 843.79) scale(1.0405 1)" font-size="53.41">0.25</text>
<text transform="translate(1936.41 916.29) scale(1.0494 1)" font-size="53.41">0.00</text>
</svg></body></html>
